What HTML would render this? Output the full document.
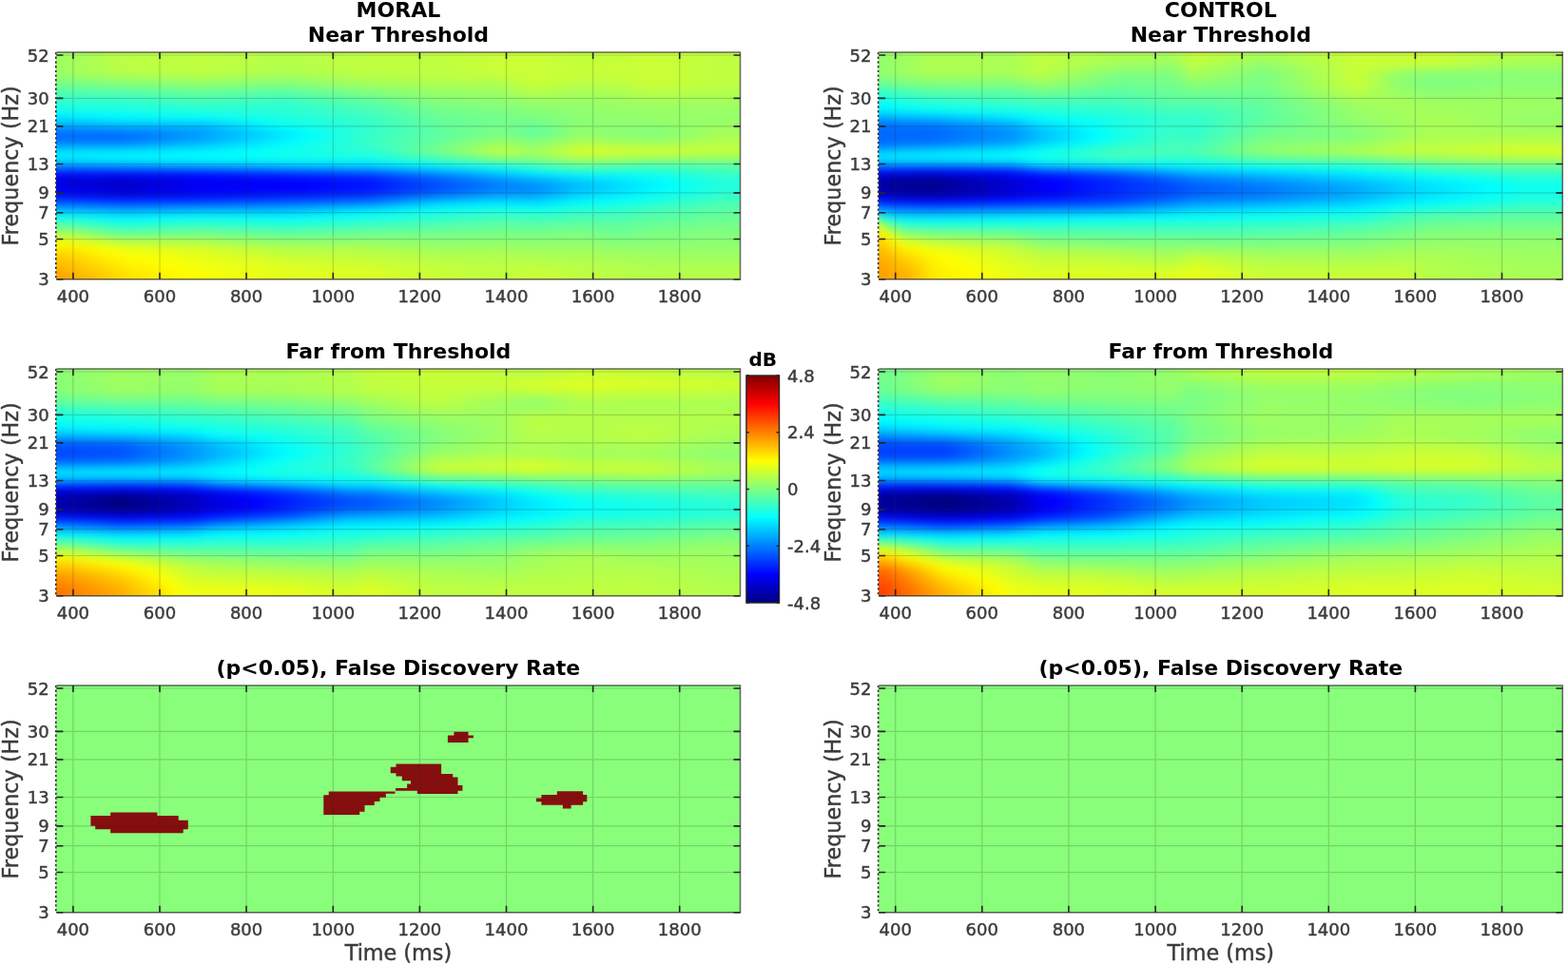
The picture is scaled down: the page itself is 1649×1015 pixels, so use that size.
<!DOCTYPE html><html><head><meta charset="utf-8"><style>
html,body{margin:0;padding:0;background:#fff;}
body{width:1649px;height:1015px;position:relative;overflow:hidden;}
.hm{position:absolute;overflow:hidden;}
.hi{position:absolute;top:-6px;bottom:-6px;display:flex;filter:blur(4px);}
.hi i{display:block;flex:0 0 12px;height:100%;}
.fdr{position:absolute;background:#88fe7a;overflow:hidden;}
svg{position:absolute;left:0;top:0;}
text{font-family:"DejaVu Sans","Liberation Sans",sans-serif;fill:#3c3c3c;stroke:#3c3c3c;stroke-width:0.45px;}
text[font-weight]{stroke:none;}
</style></head><body>

<div class="hm" style="left:59.4px;top:54.9px;width:719.1px;height:238.8px"><div class="hi" style="left:-12px;width:756px"><i style="background:linear-gradient(#9fff60 0.00%,#9fff60 1.59%,#9fff60 3.19%,#9fff60 4.78%,#9fff60 6.38%,#9fff60 7.97%,#9fff60 9.57%,#9fff60 11.16%,#92ff6d 12.76%,#82ff7d 14.35%,#72ff8d 15.95%,#62ff9d 17.54%,#51ffae 19.14%,#41ffbe 20.73%,#35ffca 22.33%,#29ffd6 23.92%,#1dffe2 25.52%,#0dfff2 27.11%,#00f6ff 28.71%,#00dfff 30.30%,#00c1ff 31.90%,#00a2ff 33.49%,#007eff 35.09%,#006aff 36.68%,#006aff 38.28%,#006fff 39.87%,#00a5ff 41.47%,#00cdff 43.06%,#00efff 44.66%,#00f2ff 46.25%,#00e0ff 47.85%,#00a6ff 49.44%,#0060ff 51.04%,#0021ff 52.63%,#0000ed 54.23%,#0000dc 55.82%,#0000e0 57.42%,#0000e3 59.01%,#0000f3 60.61%,#0009ff 62.20%,#002eff 63.80%,#0056ff 65.39%,#0089ff 66.99%,#00bbff 68.58%,#00ebff 70.18%,#15ffea 71.77%,#39ffc6 73.37%,#5dffa2 74.96%,#81ff7e 76.56%,#a5ff5a 78.15%,#c9ff36 79.74%,#ecff13 81.34%,#fffc00 82.93%,#ffe600 84.53%,#ffd900 86.12%,#ffd000 87.72%,#ffc700 89.31%,#ffbe00 90.91%,#ffb700 92.50%,#ffb000 94.10%,#ffa800 95.69%,#ff9f00 97.29%,#ff9f00 98.88%,#ff9f00 100.00%)"></i><i style="background:linear-gradient(#9fff60 0.00%,#9fff60 1.59%,#9fff60 3.19%,#9fff60 4.78%,#9fff60 6.38%,#9fff60 7.97%,#9fff60 9.57%,#9fff60 11.16%,#92ff6d 12.76%,#82ff7d 14.35%,#72ff8d 15.95%,#62ff9d 17.54%,#51ffae 19.14%,#41ffbe 20.73%,#35ffca 22.33%,#29ffd6 23.92%,#1dffe2 25.52%,#0dfff2 27.11%,#00f6ff 28.71%,#00dfff 30.30%,#00c1ff 31.90%,#00a2ff 33.49%,#007eff 35.09%,#006aff 36.68%,#006aff 38.28%,#006fff 39.87%,#00a5ff 41.47%,#00cdff 43.06%,#00efff 44.66%,#00f2ff 46.25%,#00e0ff 47.85%,#00a6ff 49.44%,#0060ff 51.04%,#0021ff 52.63%,#0000ed 54.23%,#0000dc 55.82%,#0000e0 57.42%,#0000e3 59.01%,#0000f3 60.61%,#0009ff 62.20%,#002eff 63.80%,#0056ff 65.39%,#0089ff 66.99%,#00bbff 68.58%,#00ebff 70.18%,#15ffea 71.77%,#39ffc6 73.37%,#5dffa2 74.96%,#81ff7e 76.56%,#a5ff5a 78.15%,#c9ff36 79.74%,#ecff13 81.34%,#fffc00 82.93%,#ffe600 84.53%,#ffd900 86.12%,#ffd000 87.72%,#ffc700 89.31%,#ffbe00 90.91%,#ffb700 92.50%,#ffb000 94.10%,#ffa800 95.69%,#ff9f00 97.29%,#ff9f00 98.88%,#ff9f00 100.00%)"></i><i style="background:linear-gradient(#a3ff5c 0.00%,#a3ff5c 1.59%,#a3ff5c 3.19%,#a4ff5b 4.78%,#a4ff5b 6.38%,#a5ff5a 7.97%,#a4ff5b 9.57%,#a3ff5c 11.16%,#96ff69 12.76%,#85ff7a 14.35%,#75ff8a 15.95%,#64ff9b 17.54%,#52ffad 19.14%,#41ffbe 20.73%,#35ffca 22.33%,#29ffd6 23.92%,#1effe1 25.52%,#0efff1 27.11%,#00f8ff 28.71%,#00e3ff 30.30%,#00c5ff 31.90%,#00a5ff 33.49%,#007fff 35.09%,#006aff 36.68%,#006aff 38.28%,#006fff 39.87%,#00a5ff 41.47%,#00ceff 43.06%,#00f0ff 44.66%,#00f3ff 46.25%,#00e1ff 47.85%,#00aaff 49.44%,#0060ff 51.04%,#0022ff 52.63%,#0000ee 54.23%,#0000d9 55.82%,#0000dc 57.42%,#0000df 59.01%,#0000ec 60.61%,#0003ff 62.20%,#002aff 63.80%,#0053ff 65.39%,#0085ff 66.99%,#00b8ff 68.58%,#00e8ff 70.18%,#10ffef 71.77%,#32ffcd 73.37%,#54ffab 74.96%,#76ff89 76.56%,#9aff65 78.15%,#beff41 79.74%,#e1ff1e 81.34%,#faff05 82.93%,#ffed00 84.53%,#ffe100 86.12%,#ffd800 87.72%,#ffcf00 89.31%,#ffc700 90.91%,#ffc000 92.50%,#ffb900 94.10%,#ffb100 95.69%,#ffa900 97.29%,#ffa900 98.88%,#ffa900 100.00%)"></i><i style="background:linear-gradient(#a7ff58 0.00%,#a7ff58 1.59%,#a8ff57 3.19%,#a9ff56 4.78%,#aaff55 6.38%,#abff54 7.97%,#a9ff56 9.57%,#a7ff58 11.16%,#99ff66 12.76%,#88ff77 14.35%,#78ff87 15.95%,#66ff99 17.54%,#54ffab 19.14%,#41ffbe 20.73%,#35ffca 22.33%,#2affd5 23.92%,#1effe1 25.52%,#0ffff0 27.11%,#00faff 28.71%,#00e7ff 30.30%,#00c9ff 31.90%,#00a9ff 33.49%,#0080ff 35.09%,#006aff 36.68%,#006aff 38.28%,#006fff 39.87%,#00a5ff 41.47%,#00ceff 43.06%,#00f1ff 44.66%,#00f4ff 46.25%,#00e3ff 47.85%,#00aeff 49.44%,#0060ff 51.04%,#0023ff 52.63%,#0000ef 54.23%,#0000d6 55.82%,#0000d8 57.42%,#0000da 59.01%,#0000e5 60.61%,#0000fc 62.20%,#0026ff 63.80%,#0050ff 65.39%,#0081ff 66.99%,#00b4ff 68.58%,#00e5ff 70.18%,#09fff6 71.77%,#2affd5 73.37%,#4affb5 74.96%,#6aff95 76.56%,#8eff71 78.15%,#b2ff4d 79.74%,#d5ff2a 81.34%,#f0ff0f 82.93%,#fff500 84.53%,#ffea00 86.12%,#ffe100 87.72%,#ffd800 89.31%,#ffd100 90.91%,#ffca00 92.50%,#ffc300 94.10%,#ffbc00 95.69%,#ffb400 97.29%,#ffb400 98.88%,#ffb400 100.00%)"></i><i style="background:linear-gradient(#abff54 0.00%,#abff54 1.59%,#acff53 3.19%,#aeff51 4.78%,#b0ff4f 6.38%,#b0ff4f 7.97%,#aeff51 9.57%,#acff53 11.16%,#9dff62 12.76%,#8cff73 14.35%,#7bff84 15.95%,#68ff97 17.54%,#55ffaa 19.14%,#42ffbd 20.73%,#36ffc9 22.33%,#2affd5 23.92%,#1fffe0 25.52%,#10ffef 27.11%,#00fdff 28.71%,#00ebff 30.30%,#00cdff 31.90%,#00acff 33.49%,#0082ff 35.09%,#006aff 36.68%,#006aff 38.28%,#006fff 39.87%,#00a5ff 41.47%,#00cfff 43.06%,#00f2ff 44.66%,#00f5ff 46.25%,#00e5ff 47.85%,#00b1ff 49.44%,#0060ff 51.04%,#0024ff 52.63%,#0000f0 54.23%,#0000d2 55.82%,#0000d4 57.42%,#0000d5 59.01%,#0000dd 60.61%,#0000f6 62.20%,#0021ff 63.80%,#004dff 65.39%,#007dff 66.99%,#00b0ff 68.58%,#00e1ff 70.18%,#03fffc 71.77%,#22ffdd 73.37%,#40ffbf 74.96%,#5effa1 76.56%,#82ff7d 78.15%,#a6ff59 79.74%,#c9ff36 81.34%,#e7ff18 82.93%,#fffe00 84.53%,#fff300 86.12%,#ffea00 87.72%,#ffe200 89.31%,#ffda00 90.91%,#ffd400 92.50%,#ffcd00 94.10%,#ffc700 95.69%,#ffc000 97.29%,#ffbf00 98.88%,#ffbf00 100.00%)"></i><i style="background:linear-gradient(#b0ff4f 0.00%,#b0ff4f 1.59%,#b1ff4e 3.19%,#b3ff4c 4.78%,#b5ff4a 6.38%,#b6ff49 7.97%,#b3ff4c 9.57%,#b0ff4f 11.16%,#a1ff5e 12.76%,#8fff70 14.35%,#7eff81 15.95%,#6aff95 17.54%,#56ffa9 19.14%,#42ffbd 20.73%,#36ffc9 22.33%,#2bffd4 23.92%,#20ffdf 25.52%,#11ffee 27.11%,#00ffff 28.71%,#00efff 30.30%,#00d1ff 31.90%,#00b0ff 33.49%,#0083ff 35.09%,#006aff 36.68%,#006aff 38.28%,#006fff 39.87%,#00a5ff 41.47%,#00cfff 43.06%,#00f3ff 44.66%,#00f6ff 46.25%,#00e7ff 47.85%,#00b5ff 49.44%,#0060ff 51.04%,#0025ff 52.63%,#0000f2 54.23%,#0000cf 55.82%,#0000d0 57.42%,#0000d0 59.01%,#0000d6 60.61%,#0000ef 62.20%,#001dff 63.80%,#004aff 65.39%,#0078ff 66.99%,#00adff 68.58%,#00deff 70.18%,#00fcff 71.77%,#1affe5 73.37%,#36ffc9 74.96%,#52ffad 76.56%,#76ff89 78.15%,#99ff66 79.74%,#bdff42 81.34%,#deff21 82.93%,#f8ff07 84.53%,#fffc00 86.12%,#fff300 87.72%,#ffeb00 89.31%,#ffe400 90.91%,#ffde00 92.50%,#ffd800 94.10%,#ffd100 95.69%,#ffcb00 97.29%,#ffcb00 98.88%,#ffcb00 100.00%)"></i><i style="background:linear-gradient(#b4ff4b 0.00%,#b4ff4b 1.59%,#b5ff4a 3.19%,#b8ff47 4.78%,#bbff44 6.38%,#bcff43 7.97%,#b8ff47 9.57%,#b4ff4b 11.16%,#a5ff5a 12.76%,#93ff6c 14.35%,#81ff7e 15.95%,#6cff93 17.54%,#57ffa8 19.14%,#42ffbd 20.73%,#36ffc9 22.33%,#2bffd4 23.92%,#20ffdf 25.52%,#12ffed 27.11%,#03fffc 28.71%,#00f3ff 30.30%,#00d5ff 31.90%,#00b3ff 33.49%,#0084ff 35.09%,#006aff 36.68%,#006aff 38.28%,#006fff 39.87%,#00a5ff 41.47%,#00d0ff 43.06%,#00f4ff 44.66%,#00f7ff 46.25%,#00e8ff 47.85%,#00b9ff 49.44%,#0060ff 51.04%,#0026ff 52.63%,#0000f3 54.23%,#0000cb 55.82%,#0000cb 57.42%,#0000cc 59.01%,#0000cf 60.61%,#0000e9 62.20%,#0019ff 63.80%,#0047ff 65.39%,#0074ff 66.99%,#00a9ff 68.58%,#00daff 70.18%,#00f6ff 71.77%,#12ffed 73.37%,#2cffd3 74.96%,#45ffba 76.56%,#69ff96 78.15%,#8dff72 79.74%,#b1ff4e 81.34%,#d4ff2b 82.93%,#f0ff0f 84.53%,#f9ff06 86.12%,#fffc00 87.72%,#fff400 89.31%,#ffee00 90.91%,#ffe800 92.50%,#ffe200 94.10%,#ffdc00 95.69%,#ffd600 97.29%,#ffd600 98.88%,#ffd600 100.00%)"></i><i style="background:linear-gradient(#b6ff49 0.00%,#b6ff49 1.59%,#b8ff47 3.19%,#baff45 4.78%,#bdff42 6.38%,#bfff40 7.97%,#baff45 9.57%,#b6ff49 11.16%,#a7ff58 12.76%,#95ff6a 14.35%,#83ff7c 15.95%,#6eff91 17.54%,#59ffa6 19.14%,#44ffbb 20.73%,#38ffc7 22.33%,#2dffd2 23.92%,#22ffdd 25.52%,#13ffec 27.11%,#05fffa 28.71%,#00f5ff 30.30%,#00d7ff 31.90%,#00b4ff 33.49%,#0087ff 35.09%,#006fff 36.68%,#006fff 38.28%,#0074ff 39.87%,#00a9ff 41.47%,#00d2ff 43.06%,#00f5ff 44.66%,#00f8ff 46.25%,#00ebff 47.85%,#00bbff 49.44%,#0062ff 51.04%,#0028ff 52.63%,#0000f4 54.23%,#0000ce 55.82%,#0000ce 57.42%,#0000ce 59.01%,#0000d0 60.61%,#0000ea 62.20%,#0018ff 63.80%,#0046ff 65.39%,#0074ff 66.99%,#00aaff 68.58%,#00daff 70.18%,#00f6ff 71.77%,#11ffee 73.37%,#2affd5 74.96%,#43ffbc 76.56%,#66ff99 78.15%,#89ff76 79.74%,#acff53 81.34%,#cfff30 82.93%,#eaff15 84.53%,#f3ff0c 86.12%,#fcff03 87.72%,#fffa00 89.31%,#fff400 90.91%,#ffee00 92.50%,#ffe900 94.10%,#ffe300 95.69%,#ffde00 97.29%,#ffde00 98.88%,#ffde00 100.00%)"></i><i style="background:linear-gradient(#b8ff47 0.00%,#b8ff47 1.59%,#b9ff46 3.19%,#bbff44 4.78%,#bdff42 6.38%,#bfff40 7.97%,#bbff44 9.57%,#b8ff47 11.16%,#a9ff56 12.76%,#97ff68 14.35%,#85ff7a 15.95%,#70ff8f 17.54%,#5cffa3 19.14%,#47ffb8 20.73%,#3bffc4 22.33%,#2fffd0 23.92%,#24ffdb 25.52%,#15ffea 27.11%,#07fff8 28.71%,#00f7ff 30.30%,#00d7ff 31.90%,#00b3ff 33.49%,#008bff 35.09%,#0077ff 36.68%,#0077ff 38.28%,#007bff 39.87%,#00afff 41.47%,#00d6ff 43.06%,#00f6ff 44.66%,#00faff 46.25%,#00eeff 47.85%,#00bbff 49.44%,#0065ff 51.04%,#002aff 52.63%,#0000f5 54.23%,#0000d4 55.82%,#0000d4 57.42%,#0000d4 59.01%,#0000d6 60.61%,#0000ed 62.20%,#001aff 63.80%,#0047ff 65.39%,#0076ff 66.99%,#00adff 68.58%,#00dcff 70.18%,#00f9ff 71.77%,#14ffeb 73.37%,#2dffd2 74.96%,#46ffb9 76.56%,#68ff97 78.15%,#8aff75 79.74%,#abff54 81.34%,#cdff32 82.93%,#e7ff18 84.53%,#f0ff0f 86.12%,#f9ff06 87.72%,#fffe00 89.31%,#fff800 90.91%,#fff300 92.50%,#ffee00 94.10%,#ffe900 95.69%,#ffe400 97.29%,#ffe400 98.88%,#ffe400 100.00%)"></i><i style="background:linear-gradient(#b9ff46 0.00%,#b9ff46 1.59%,#baff45 3.19%,#bcff43 4.78%,#beff41 6.38%,#bfff40 7.97%,#bcff43 9.57%,#b9ff46 11.16%,#aaff55 12.76%,#98ff67 14.35%,#86ff79 15.95%,#72ff8d 17.54%,#5effa1 19.14%,#4affb5 20.73%,#3dffc2 22.33%,#31ffce 23.92%,#26ffd9 25.52%,#17ffe8 27.11%,#08fff7 28.71%,#00f9ff 30.30%,#00d7ff 31.90%,#00b2ff 33.49%,#008fff 35.09%,#007fff 36.68%,#007fff 38.28%,#0083ff 39.87%,#00b5ff 41.47%,#00d9ff 43.06%,#00f6ff 44.66%,#00fbff 46.25%,#00f2ff 47.85%,#00bcff 49.44%,#0069ff 51.04%,#002bff 52.63%,#0000f5 54.23%,#0000da 55.82%,#0000da 57.42%,#0000da 59.01%,#0000dc 60.61%,#0000f1 62.20%,#001bff 63.80%,#0048ff 65.39%,#0078ff 66.99%,#00b0ff 68.58%,#00deff 70.18%,#00fcff 71.77%,#17ffe8 73.37%,#30ffcf 74.96%,#49ffb6 76.56%,#6aff95 78.15%,#8aff75 79.74%,#abff54 81.34%,#cbff34 82.93%,#e4ff1b 84.53%,#ecff13 86.12%,#f5ff0a 87.72%,#fdff02 89.31%,#fffc00 90.91%,#fff700 92.50%,#fff200 94.10%,#ffee00 95.69%,#ffea00 97.29%,#ffea00 98.88%,#ffea00 100.00%)"></i><i style="background:linear-gradient(#bbff44 0.00%,#bbff44 1.59%,#bbff44 3.19%,#bdff42 4.78%,#beff41 6.38%,#bfff40 7.97%,#bdff42 9.57%,#bbff44 11.16%,#acff53 12.76%,#9aff65 14.35%,#88ff77 15.95%,#74ff8b 17.54%,#61ff9e 19.14%,#4dffb2 20.73%,#40ffbf 22.33%,#34ffcb 23.92%,#28ffd7 25.52%,#19ffe6 27.11%,#0afff5 28.71%,#00faff 30.30%,#00d7ff 31.90%,#00b1ff 33.49%,#0093ff 35.09%,#0087ff 36.68%,#0087ff 38.28%,#008bff 39.87%,#00bbff 41.47%,#00ddff 43.06%,#00f6ff 44.66%,#00fcff 46.25%,#00f5ff 47.85%,#00bdff 49.44%,#006cff 51.04%,#002dff 52.63%,#0000f6 54.23%,#0000e1 55.82%,#0000e1 57.42%,#0000e1 59.01%,#0000e2 60.61%,#0000f5 62.20%,#001dff 63.80%,#0049ff 65.39%,#007aff 66.99%,#00b2ff 68.58%,#00e0ff 70.18%,#00ffff 71.77%,#1affe5 73.37%,#33ffcc 74.96%,#4cffb3 76.56%,#6bff94 78.15%,#8aff75 79.74%,#aaff55 81.34%,#c9ff36 82.93%,#e1ff1e 84.53%,#e9ff16 86.12%,#f1ff0e 87.72%,#f9ff06 89.31%,#feff01 90.91%,#fffc00 92.50%,#fff700 94.10%,#fff300 95.69%,#fff100 97.29%,#fff100 98.88%,#fff100 100.00%)"></i><i style="background:linear-gradient(#bcff43 0.00%,#bcff43 1.59%,#bdff42 3.19%,#beff41 4.78%,#beff41 6.38%,#bfff40 7.97%,#beff41 9.57%,#bcff43 11.16%,#adff52 12.76%,#9bff64 14.35%,#89ff76 15.95%,#76ff89 17.54%,#63ff9c 19.14%,#50ffaf 20.73%,#43ffbc 22.33%,#36ffc9 23.92%,#2affd5 25.52%,#1bffe4 27.11%,#0cfff3 28.71%,#00fcff 30.30%,#00d7ff 31.90%,#00b0ff 33.49%,#0097ff 35.09%,#008fff 36.68%,#008fff 38.28%,#0092ff 39.87%,#00c1ff 41.47%,#00e1ff 43.06%,#00f7ff 44.66%,#00fdff 46.25%,#00f8ff 47.85%,#00bdff 49.44%,#006fff 51.04%,#002fff 52.63%,#0000f7 54.23%,#0000e7 55.82%,#0000e7 57.42%,#0000e7 59.01%,#0000e8 60.61%,#0000f9 62.20%,#001fff 63.80%,#004aff 65.39%,#007cff 66.99%,#00b5ff 68.58%,#00e1ff 70.18%,#04fffb 71.77%,#1dffe2 73.37%,#35ffca 74.96%,#4fffb0 76.56%,#6dff92 78.15%,#8bff74 79.74%,#a9ff56 81.34%,#c7ff38 82.93%,#deff21 84.53%,#e6ff19 86.12%,#eeff11 87.72%,#f5ff0a 89.31%,#faff05 90.91%,#feff01 92.50%,#fffc00 94.10%,#fff900 95.69%,#fff700 97.29%,#fff700 98.88%,#fff700 100.00%)"></i><i style="background:linear-gradient(#beff41 0.00%,#beff41 1.59%,#beff41 3.19%,#beff41 4.78%,#bfff40 6.38%,#bfff40 7.97%,#beff41 9.57%,#beff41 11.16%,#afff50 12.76%,#9dff62 14.35%,#8bff74 15.95%,#78ff87 17.54%,#66ff99 19.14%,#53ffac 20.73%,#46ffb9 22.33%,#39ffc6 23.92%,#2cffd3 25.52%,#1dffe2 27.11%,#0efff1 28.71%,#00fdff 30.30%,#00d7ff 31.90%,#00afff 33.49%,#009bff 35.09%,#0096ff 36.68%,#0096ff 38.28%,#009aff 39.87%,#00c7ff 41.47%,#00e4ff 43.06%,#00f7ff 44.66%,#00feff 46.25%,#00fbff 47.85%,#00beff 49.44%,#0072ff 51.04%,#0031ff 52.63%,#0000f8 54.23%,#0000ed 55.82%,#0000ed 57.42%,#0000ed 59.01%,#0000ee 60.61%,#0000fd 62.20%,#0020ff 63.80%,#004bff 65.39%,#007dff 66.99%,#00b8ff 68.58%,#00e3ff 70.18%,#07fff8 71.77%,#20ffdf 73.37%,#38ffc7 74.96%,#52ffad 76.56%,#6fff90 78.15%,#8bff74 79.74%,#a8ff57 81.34%,#c4ff3b 82.93%,#daff25 84.53%,#e2ff1d 86.12%,#eaff15 87.72%,#f2ff0d 89.31%,#f6ff09 90.91%,#f9ff06 92.50%,#fdff02 94.10%,#fffe00 95.69%,#fffd00 97.29%,#fffd00 98.88%,#fffd00 100.00%)"></i><i style="background:linear-gradient(#bfff40 0.00%,#bfff40 1.59%,#bfff40 3.19%,#bfff40 4.78%,#bfff40 6.38%,#bfff40 7.97%,#bfff40 9.57%,#bfff40 11.16%,#b0ff4f 12.76%,#9eff61 14.35%,#8cff73 15.95%,#7aff85 17.54%,#68ff97 19.14%,#56ffa9 20.73%,#48ffb7 22.33%,#3bffc4 23.92%,#2effd1 25.52%,#1fffe0 27.11%,#10ffef 28.71%,#00ffff 30.30%,#00d7ff 31.90%,#00aeff 33.49%,#009fff 35.09%,#009eff 36.68%,#009eff 38.28%,#00a2ff 39.87%,#00cdff 41.47%,#00e8ff 43.06%,#00f8ff 44.66%,#00ffff 46.25%,#00feff 47.85%,#00bfff 49.44%,#0075ff 51.04%,#0033ff 52.63%,#0000f9 54.23%,#0000f3 55.82%,#0000f3 57.42%,#0000f3 59.01%,#0000f3 60.61%,#0002ff 62.20%,#0022ff 63.80%,#004cff 65.39%,#007fff 66.99%,#00bbff 68.58%,#00e5ff 70.18%,#0afff5 71.77%,#23ffdc 73.37%,#3bffc4 74.96%,#55ffaa 76.56%,#71ff8e 78.15%,#8cff73 79.74%,#a7ff58 81.34%,#c2ff3d 82.93%,#d7ff28 84.53%,#dfff20 86.12%,#e6ff19 87.72%,#eeff11 89.31%,#f2ff0d 90.91%,#f5ff0a 92.50%,#f8ff07 94.10%,#fbff04 95.69%,#fbff04 97.29%,#fbff04 98.88%,#fbff04 100.00%)"></i><i style="background:linear-gradient(#beff41 0.00%,#beff41 1.59%,#beff41 3.19%,#beff41 4.78%,#beff41 6.38%,#beff41 7.97%,#beff41 9.57%,#bdff42 11.16%,#afff50 12.76%,#9dff62 14.35%,#8bff74 15.95%,#79ff86 17.54%,#67ff98 19.14%,#55ffaa 20.73%,#47ffb8 22.33%,#3affc5 23.92%,#2effd1 25.52%,#21ffde 27.11%,#12ffed 28.71%,#03fffc 30.30%,#00ddff 31.90%,#00b8ff 33.49%,#00a9ff 35.09%,#00a7ff 36.68%,#00a8ff 38.28%,#00adff 39.87%,#00d4ff 41.47%,#00ecff 43.06%,#00faff 44.66%,#02fffd 46.25%,#00ffff 47.85%,#00c2ff 49.44%,#0078ff 51.04%,#0036ff 52.63%,#0000fc 54.23%,#0000f5 55.82%,#0000f5 57.42%,#0000f5 59.01%,#0000f5 60.61%,#0005ff 62.20%,#0025ff 63.80%,#004eff 65.39%,#0081ff 66.99%,#00bbff 68.58%,#00e5ff 70.18%,#09fff6 71.77%,#22ffdd 73.37%,#3affc5 74.96%,#54ffab 76.56%,#6fff90 78.15%,#89ff76 79.74%,#a4ff5b 81.34%,#beff41 82.93%,#d3ff2c 84.53%,#daff25 86.12%,#e2ff1d 87.72%,#eaff15 89.31%,#eeff11 90.91%,#f2ff0d 92.50%,#f5ff0a 94.10%,#f7ff08 95.69%,#f7ff08 97.29%,#f7ff08 98.88%,#f7ff08 100.00%)"></i><i style="background:linear-gradient(#bdff42 0.00%,#bdff42 1.59%,#bdff42 3.19%,#bdff42 4.78%,#bdff42 6.38%,#bdff42 7.97%,#bdff42 9.57%,#baff45 11.16%,#acff53 12.76%,#9cff63 14.35%,#8aff75 15.95%,#77ff88 17.54%,#65ff9a 19.14%,#54ffab 20.73%,#46ffb9 22.33%,#38ffc7 23.92%,#2dffd2 25.52%,#22ffdd 27.11%,#15ffea 28.71%,#07fff8 30.30%,#00e5ff 31.90%,#00c4ff 33.49%,#00b5ff 35.09%,#00b0ff 36.68%,#00b2ff 38.28%,#00b8ff 39.87%,#00dbff 41.47%,#00f1ff 43.06%,#00feff 44.66%,#05fffa 46.25%,#00ffff 47.85%,#00c6ff 49.44%,#007bff 51.04%,#0039ff 52.63%,#0002ff 54.23%,#0000f6 55.82%,#0000f6 57.42%,#0000f6 59.01%,#0000f6 60.61%,#0007ff 62.20%,#0028ff 63.80%,#0051ff 65.39%,#0083ff 66.99%,#00bbff 68.58%,#00e5ff 70.18%,#08fff7 71.77%,#20ffdf 73.37%,#37ffc8 74.96%,#51ffae 76.56%,#6cff93 78.15%,#86ff79 79.74%,#a0ff5f 81.34%,#b9ff46 82.93%,#ceff31 84.53%,#d6ff29 86.12%,#deff21 87.72%,#e6ff19 89.31%,#ebff14 90.91%,#eeff11 92.50%,#f2ff0d 94.10%,#f4ff0b 95.69%,#f4ff0b 97.29%,#f4ff0b 98.88%,#f4ff0b 100.00%)"></i><i style="background:linear-gradient(#bbff44 0.00%,#bbff44 1.59%,#bbff44 3.19%,#bbff44 4.78%,#bbff44 6.38%,#bbff44 7.97%,#bbff44 9.57%,#b7ff48 11.16%,#aaff55 12.76%,#9aff65 14.35%,#88ff77 15.95%,#75ff8a 17.54%,#63ff9c 19.14%,#52ffad 20.73%,#44ffbb 22.33%,#37ffc8 23.92%,#2dffd2 25.52%,#23ffdc 27.11%,#17ffe8 28.71%,#0afff5 30.30%,#00edff 31.90%,#00d0ff 33.49%,#00c0ff 35.09%,#00b9ff 36.68%,#00bcff 38.28%,#00c3ff 39.87%,#00e3ff 41.47%,#00f5ff 43.06%,#02fffd 44.66%,#08fff7 46.25%,#00feff 47.85%,#00caff 49.44%,#007eff 51.04%,#003cff 52.63%,#0006ff 54.23%,#0000f6 55.82%,#0000f6 57.42%,#0000f6 59.01%,#0000f7 60.61%,#000aff 62.20%,#002bff 63.80%,#0054ff 65.39%,#0085ff 66.99%,#00bbff 68.58%,#00e4ff 70.18%,#07fff8 71.77%,#1effe1 73.37%,#35ffca 74.96%,#4fffb0 76.56%,#69ff96 78.15%,#83ff7c 79.74%,#9cff63 81.34%,#b5ff4a 82.93%,#c9ff36 84.53%,#d1ff2e 86.12%,#daff25 87.72%,#e3ff1c 89.31%,#e7ff18 90.91%,#ebff14 92.50%,#efff10 94.10%,#f1ff0e 95.69%,#f1ff0e 97.29%,#f1ff0e 98.88%,#f1ff0e 100.00%)"></i><i style="background:linear-gradient(#baff45 0.00%,#baff45 1.59%,#baff45 3.19%,#baff45 4.78%,#baff45 6.38%,#baff45 7.97%,#baff45 9.57%,#b4ff4b 11.16%,#a7ff58 12.76%,#99ff66 14.35%,#86ff79 15.95%,#73ff8c 17.54%,#60ff9f 19.14%,#50ffaf 20.73%,#42ffbd 22.33%,#35ffca 23.92%,#2dffd2 25.52%,#24ffdb 27.11%,#1affe5 28.71%,#0efff1 30.30%,#00f5ff 31.90%,#00dcff 33.49%,#00ccff 35.09%,#00c2ff 36.68%,#00c6ff 38.28%,#00cfff 39.87%,#00eaff 41.47%,#00faff 43.06%,#05fffa 44.66%,#0bfff4 46.25%,#00feff 47.85%,#00ceff 49.44%,#0081ff 51.04%,#003fff 52.63%,#000bff 54.23%,#0000f7 55.82%,#0000f7 57.42%,#0000f7 59.01%,#0000f8 60.61%,#000dff 62.20%,#002eff 63.80%,#0057ff 65.39%,#0087ff 66.99%,#00baff 68.58%,#00e4ff 70.18%,#05fffa 71.77%,#1cffe3 73.37%,#33ffcc 74.96%,#4cffb3 76.56%,#66ff99 78.15%,#80ff7f 79.74%,#98ff67 81.34%,#b0ff4f 82.93%,#c4ff3b 84.53%,#cdff32 86.12%,#d6ff29 87.72%,#dfff20 89.31%,#e4ff1b 90.91%,#e8ff17 92.50%,#ecff13 94.10%,#efff10 95.69%,#efff10 97.29%,#efff10 98.88%,#efff10 100.00%)"></i><i style="background:linear-gradient(#b8ff47 0.00%,#b8ff47 1.59%,#b8ff47 3.19%,#b8ff47 4.78%,#b8ff47 6.38%,#b8ff47 7.97%,#b8ff47 9.57%,#b1ff4e 11.16%,#a5ff5a 12.76%,#98ff67 14.35%,#84ff7b 15.95%,#71ff8e 17.54%,#5effa1 19.14%,#4fffb0 20.73%,#41ffbe 22.33%,#33ffcc 23.92%,#2cffd3 25.52%,#25ffda 27.11%,#1dffe2 28.71%,#12ffed 30.30%,#00fdff 31.90%,#00e8ff 33.49%,#00d7ff 35.09%,#00cbff 36.68%,#00d1ff 38.28%,#00daff 39.87%,#00f1ff 41.47%,#00feff 43.06%,#08fff7 44.66%,#0efff1 46.25%,#00feff 47.85%,#00d2ff 49.44%,#0084ff 51.04%,#0042ff 52.63%,#000fff 54.23%,#0000f8 55.82%,#0000f8 57.42%,#0000f8 59.01%,#0000f9 60.61%,#000fff 62.20%,#0030ff 63.80%,#0059ff 65.39%,#0088ff 66.99%,#00baff 68.58%,#00e4ff 70.18%,#04fffb 71.77%,#1affe5 73.37%,#30ffcf 74.96%,#4affb5 76.56%,#64ff9b 78.15%,#7dff82 79.74%,#94ff6b 81.34%,#acff53 82.93%,#bfff40 84.53%,#c8ff37 86.12%,#d2ff2d 87.72%,#dbff24 89.31%,#e1ff1e 90.91%,#e5ff1a 92.50%,#e9ff16 94.10%,#ecff13 95.69%,#ecff13 97.29%,#ecff13 98.88%,#ecff13 100.00%)"></i><i style="background:linear-gradient(#b7ff48 0.00%,#b7ff48 1.59%,#b7ff48 3.19%,#b7ff48 4.78%,#b7ff48 6.38%,#b7ff48 7.97%,#b7ff48 9.57%,#aeff51 11.16%,#a3ff5c 12.76%,#96ff69 14.35%,#83ff7c 15.95%,#6fff90 17.54%,#5cffa3 19.14%,#4dffb2 20.73%,#3fffc0 22.33%,#32ffcd 23.92%,#2cffd3 25.52%,#26ffd9 27.11%,#20ffdf 28.71%,#15ffea 30.30%,#06fff9 31.90%,#00f4ff 33.49%,#00e3ff 35.09%,#00d4ff 36.68%,#00dbff 38.28%,#00e6ff 39.87%,#00f8ff 41.47%,#04fffb 43.06%,#0bfff4 44.66%,#11ffee 46.25%,#00feff 47.85%,#00d6ff 49.44%,#0086ff 51.04%,#0045ff 52.63%,#0013ff 54.23%,#0000f9 55.82%,#0000f9 57.42%,#0000f9 59.01%,#0000fa 60.61%,#0012ff 62.20%,#0033ff 63.80%,#005cff 65.39%,#008aff 66.99%,#00b9ff 68.58%,#00e3ff 70.18%,#03fffc 71.77%,#18ffe7 73.37%,#2effd1 74.96%,#47ffb8 76.56%,#61ff9e 78.15%,#7aff85 79.74%,#90ff6f 81.34%,#a7ff58 82.93%,#baff45 84.53%,#c4ff3b 86.12%,#ceff31 87.72%,#d8ff27 89.31%,#ddff22 90.91%,#e1ff1e 92.50%,#e5ff1a 94.10%,#e9ff16 95.69%,#e9ff16 97.29%,#e9ff16 98.88%,#e9ff16 100.00%)"></i><i style="background:linear-gradient(#b5ff4a 0.00%,#b5ff4a 1.59%,#b5ff4a 3.19%,#b5ff4a 4.78%,#b5ff4a 6.38%,#b5ff4a 7.97%,#b5ff4a 9.57%,#abff54 11.16%,#a0ff5f 12.76%,#95ff6a 14.35%,#81ff7e 15.95%,#6dff92 17.54%,#5affa5 19.14%,#4bffb4 20.73%,#3dffc2 22.33%,#30ffcf 23.92%,#2cffd3 25.52%,#28ffd7 27.11%,#22ffdd 28.71%,#19ffe6 30.30%,#0efff1 31.90%,#01fffe 33.49%,#00eeff 35.09%,#00ddff 36.68%,#00e5ff 38.28%,#00f1ff 39.87%,#01fffe 41.47%,#08fff7 43.06%,#0efff1 44.66%,#14ffeb 46.25%,#00feff 47.85%,#00daff 49.44%,#0089ff 51.04%,#0048ff 52.63%,#0018ff 54.23%,#0000f9 55.82%,#0000f9 57.42%,#0000f9 59.01%,#0000fb 60.61%,#0015ff 62.20%,#0036ff 63.80%,#005fff 65.39%,#008cff 66.99%,#00b9ff 68.58%,#00e3ff 70.18%,#02fffd 71.77%,#16ffe9 73.37%,#2cffd3 74.96%,#45ffba 76.56%,#5effa1 78.15%,#77ff88 79.74%,#8dff72 81.34%,#a3ff5c 82.93%,#b5ff4a 84.53%,#bfff40 86.12%,#caff35 87.72%,#d4ff2b 89.31%,#daff25 90.91%,#deff21 92.50%,#e2ff1d 94.10%,#e6ff19 95.69%,#e6ff19 97.29%,#e6ff19 98.88%,#e6ff19 100.00%)"></i><i style="background:linear-gradient(#b5ff4a 0.00%,#b5ff4a 1.59%,#b5ff4a 3.19%,#b5ff4a 4.78%,#b5ff4a 6.38%,#b5ff4a 7.97%,#b5ff4a 9.57%,#abff54 11.16%,#a1ff5e 12.76%,#96ff69 14.35%,#82ff7d 15.95%,#6fff90 17.54%,#5cffa3 19.14%,#4dffb2 20.73%,#3fffc0 22.33%,#32ffcd 23.92%,#2effd1 25.52%,#2affd5 27.11%,#25ffda 28.71%,#1dffe2 30.30%,#14ffeb 31.90%,#0afff5 33.49%,#00f8ff 35.09%,#00e7ff 36.68%,#00efff 38.28%,#00fbff 39.87%,#07fff8 41.47%,#0dfff2 43.06%,#11ffee 44.66%,#15ffea 46.25%,#00feff 47.85%,#00ddff 49.44%,#008dff 51.04%,#004cff 52.63%,#001bff 54.23%,#0000fc 55.82%,#0000fc 57.42%,#0000fc 59.01%,#0000fe 60.61%,#0018ff 62.20%,#0039ff 63.80%,#0062ff 65.39%,#008fff 66.99%,#00bcff 68.58%,#00e5ff 70.18%,#03fffc 71.77%,#17ffe8 73.37%,#2cffd3 74.96%,#45ffba 76.56%,#5effa1 78.15%,#76ff89 79.74%,#8bff74 81.34%,#a0ff5f 82.93%,#b2ff4d 84.53%,#bdff42 86.12%,#c7ff38 87.72%,#d1ff2e 89.31%,#d7ff28 90.91%,#dcff23 92.50%,#e0ff1f 94.10%,#e4ff1b 95.69%,#e4ff1b 97.29%,#e4ff1b 98.88%,#e4ff1b 100.00%)"></i><i style="background:linear-gradient(#b7ff48 0.00%,#b7ff48 1.59%,#b7ff48 3.19%,#b7ff48 4.78%,#b7ff48 6.38%,#b7ff48 7.97%,#b7ff48 9.57%,#aeff51 11.16%,#a4ff5b 12.76%,#99ff66 14.35%,#87ff78 15.95%,#74ff8b 17.54%,#61ff9e 19.14%,#53ffac 20.73%,#45ffba 22.33%,#38ffc7 23.92%,#32ffcd 25.52%,#2effd1 27.11%,#29ffd6 28.71%,#21ffde 30.30%,#19ffe6 31.90%,#0ffff0 33.49%,#01fffe 35.09%,#00f3ff 36.68%,#00faff 38.28%,#05fffa 39.87%,#0efff1 41.47%,#11ffee 43.06%,#15ffea 44.66%,#16ffe9 46.25%,#00ffff 47.85%,#00deff 49.44%,#0091ff 51.04%,#0050ff 52.63%,#001dff 54.23%,#0000ff 55.82%,#0000ff 57.42%,#0000ff 59.01%,#0002ff 60.61%,#001bff 62.20%,#003cff 63.80%,#0066ff 65.39%,#0094ff 66.99%,#00c2ff 68.58%,#00e9ff 70.18%,#06fff9 71.77%,#1affe5 73.37%,#2fffd0 74.96%,#47ffb8 76.56%,#60ff9f 78.15%,#77ff88 79.74%,#8cff73 81.34%,#a0ff5f 82.93%,#b2ff4d 84.53%,#bcff43 86.12%,#c6ff39 87.72%,#cfff30 89.31%,#d5ff2a 90.91%,#daff25 92.50%,#dfff20 94.10%,#e2ff1d 95.69%,#e2ff1d 97.29%,#e2ff1d 98.88%,#e2ff1d 100.00%)"></i><i style="background:linear-gradient(#b8ff47 0.00%,#b8ff47 1.59%,#b8ff47 3.19%,#b8ff47 4.78%,#b8ff47 6.38%,#b8ff47 7.97%,#b8ff47 9.57%,#b1ff4e 11.16%,#a7ff58 12.76%,#9cff63 14.35%,#8bff74 15.95%,#79ff86 17.54%,#67ff98 19.14%,#58ffa7 20.73%,#4affb5 22.33%,#3dffc2 23.92%,#37ffc8 25.52%,#31ffce 27.11%,#2dffd2 28.71%,#25ffda 30.30%,#1dffe2 31.90%,#15ffea 33.49%,#0afff5 35.09%,#00feff 36.68%,#05fffa 38.28%,#0efff1 39.87%,#14ffeb 41.47%,#16ffe9 43.06%,#18ffe7 44.66%,#17ffe8 46.25%,#01fffe 47.85%,#00e0ff 49.44%,#0094ff 51.04%,#0054ff 52.63%,#0020ff 54.23%,#0004ff 55.82%,#0004ff 57.42%,#0004ff 59.01%,#0006ff 60.61%,#001eff 62.20%,#003fff 63.80%,#006aff 65.39%,#0099ff 66.99%,#00c9ff 68.58%,#00eeff 70.18%,#09fff6 71.77%,#1dffe2 73.37%,#32ffcd 74.96%,#4affb5 76.56%,#62ff9d 78.15%,#78ff87 79.74%,#8cff73 81.34%,#a0ff5f 82.93%,#b2ff4d 84.53%,#bcff43 86.12%,#c5ff3a 87.72%,#ceff31 89.31%,#d4ff2b 90.91%,#d9ff26 92.50%,#deff21 94.10%,#e1ff1e 95.69%,#e1ff1e 97.29%,#e1ff1e 98.88%,#e1ff1e 100.00%)"></i><i style="background:linear-gradient(#baff45 0.00%,#baff45 1.59%,#baff45 3.19%,#baff45 4.78%,#baff45 6.38%,#baff45 7.97%,#baff45 9.57%,#b4ff4b 11.16%,#aaff55 12.76%,#9fff60 14.35%,#90ff6f 15.95%,#7eff81 17.54%,#6cff93 19.14%,#5dffa2 20.73%,#4fffb0 22.33%,#43ffbc 23.92%,#3bffc4 25.52%,#35ffca 27.11%,#30ffcf 28.71%,#29ffd6 30.30%,#22ffdd 31.90%,#1affe5 33.49%,#12ffed 35.09%,#0afff5 36.68%,#0ffff0 38.28%,#17ffe8 39.87%,#1bffe4 41.47%,#1bffe4 43.06%,#1bffe4 44.66%,#17ffe8 46.25%,#02fffd 47.85%,#00e2ff 49.44%,#0098ff 51.04%,#0058ff 52.63%,#0022ff 54.23%,#0007ff 55.82%,#0007ff 57.42%,#0007ff 59.01%,#0009ff 60.61%,#0022ff 62.20%,#0043ff 63.80%,#006eff 65.39%,#009eff 66.99%,#00cfff 68.58%,#00f2ff 70.18%,#0cfff3 71.77%,#20ffdf 73.37%,#35ffca 74.96%,#4cffb3 76.56%,#63ff9c 78.15%,#7aff85 79.74%,#8dff72 81.34%,#a0ff5f 82.93%,#b1ff4e 84.53%,#bbff44 86.12%,#c4ff3b 87.72%,#ccff33 89.31%,#d2ff2d 90.91%,#d8ff27 92.50%,#ddff22 94.10%,#dfff20 95.69%,#dfff20 97.29%,#dfff20 98.88%,#dfff20 100.00%)"></i><i style="background:linear-gradient(#bbff44 0.00%,#bbff44 1.59%,#bbff44 3.19%,#bbff44 4.78%,#bbff44 6.38%,#bbff44 7.97%,#bbff44 9.57%,#b7ff48 11.16%,#adff52 12.76%,#a2ff5d 14.35%,#94ff6b 15.95%,#83ff7c 17.54%,#71ff8e 19.14%,#62ff9d 20.73%,#55ffaa 22.33%,#48ffb7 23.92%,#40ffbf 25.52%,#39ffc6 27.11%,#34ffcb 28.71%,#2dffd2 30.30%,#26ffd9 31.90%,#20ffdf 33.49%,#1affe5 35.09%,#15ffea 36.68%,#1affe5 38.28%,#20ffdf 39.87%,#21ffde 41.47%,#20ffdf 43.06%,#1effe1 44.66%,#18ffe7 46.25%,#03fffc 47.85%,#00e4ff 49.44%,#009cff 51.04%,#005cff 52.63%,#0025ff 54.23%,#000bff 55.82%,#000bff 57.42%,#000bff 59.01%,#000dff 60.61%,#0025ff 62.20%,#0046ff 63.80%,#0073ff 65.39%,#00a3ff 66.99%,#00d5ff 68.58%,#00f7ff 70.18%,#0ffff0 71.77%,#23ffdc 73.37%,#38ffc7 74.96%,#4fffb0 76.56%,#65ff9a 78.15%,#7bff84 79.74%,#8dff72 81.34%,#a0ff5f 82.93%,#b1ff4e 84.53%,#bbff44 86.12%,#c3ff3c 87.72%,#cbff34 89.31%,#d1ff2e 90.91%,#d6ff29 92.50%,#dcff23 94.10%,#deff21 95.69%,#deff21 97.29%,#deff21 98.88%,#deff21 100.00%)"></i><i style="background:linear-gradient(#bcff43 0.00%,#bcff43 1.59%,#bcff43 3.19%,#bcff43 4.78%,#bcff43 6.38%,#bcff43 7.97%,#bcff43 9.57%,#baff45 11.16%,#b0ff4f 12.76%,#a6ff59 14.35%,#98ff67 15.95%,#88ff77 17.54%,#77ff88 19.14%,#67ff98 20.73%,#5affa5 22.33%,#4effb1 23.92%,#44ffbb 25.52%,#3cffc3 27.11%,#37ffc8 28.71%,#31ffce 30.30%,#2bffd4 31.90%,#26ffd9 33.49%,#23ffdc 35.09%,#20ffdf 36.68%,#24ffdb 38.28%,#29ffd6 39.87%,#28ffd7 41.47%,#25ffda 43.06%,#22ffdd 44.66%,#19ffe6 46.25%,#04fffb 47.85%,#00e5ff 49.44%,#00a0ff 51.04%,#0060ff 52.63%,#0027ff 54.23%,#000eff 55.82%,#000eff 57.42%,#000eff 59.01%,#0010ff 60.61%,#0029ff 62.20%,#0049ff 63.80%,#0077ff 65.39%,#00a8ff 66.99%,#00dbff 68.58%,#00fbff 70.18%,#12ffed 71.77%,#26ffd9 73.37%,#3bffc4 74.96%,#51ffae 76.56%,#67ff98 78.15%,#7cff83 79.74%,#8eff71 81.34%,#a0ff5f 82.93%,#b1ff4e 84.53%,#baff45 86.12%,#c2ff3d 87.72%,#c9ff36 89.31%,#cfff30 90.91%,#d5ff2a 92.50%,#dbff24 94.10%,#ddff22 95.69%,#ddff22 97.29%,#ddff22 98.88%,#ddff22 100.00%)"></i><i style="background:linear-gradient(#beff41 0.00%,#beff41 1.59%,#beff41 3.19%,#beff41 4.78%,#beff41 6.38%,#beff41 7.97%,#beff41 9.57%,#bdff42 11.16%,#b4ff4b 12.76%,#a9ff56 14.35%,#9dff62 15.95%,#8dff72 17.54%,#7cff83 19.14%,#6cff93 20.73%,#60ff9f 22.33%,#54ffab 23.92%,#49ffb6 25.52%,#40ffbf 27.11%,#3bffc4 28.71%,#35ffca 30.30%,#30ffcf 31.90%,#2bffd4 33.49%,#2bffd4 35.09%,#2bffd4 36.68%,#2effd1 38.28%,#32ffcd 39.87%,#2effd1 41.47%,#29ffd6 43.06%,#25ffda 44.66%,#1affe5 46.25%,#05fffa 47.85%,#00e7ff 49.44%,#00a3ff 51.04%,#0064ff 52.63%,#0029ff 54.23%,#0012ff 55.82%,#0012ff 57.42%,#0012ff 59.01%,#0014ff 60.61%,#002cff 62.20%,#004cff 63.80%,#007bff 65.39%,#00adff 66.99%,#00e2ff 68.58%,#00ffff 70.18%,#15ffea 71.77%,#29ffd6 73.37%,#3effc1 74.96%,#53ffac 76.56%,#69ff96 78.15%,#7dff82 79.74%,#8eff71 81.34%,#a0ff5f 82.93%,#b0ff4f 84.53%,#baff45 86.12%,#c0ff3f 87.72%,#c7ff38 89.31%,#cdff32 90.91%,#d4ff2b 92.50%,#daff25 94.10%,#dbff24 95.69%,#dbff24 97.29%,#dbff24 98.88%,#dbff24 100.00%)"></i><i style="background:linear-gradient(#bfff40 0.00%,#bfff40 1.59%,#bfff40 3.19%,#bfff40 4.78%,#bfff40 6.38%,#bfff40 7.97%,#bfff40 9.57%,#bfff40 11.16%,#b6ff49 12.76%,#acff53 14.35%,#a1ff5e 15.95%,#92ff6d 17.54%,#82ff7d 19.14%,#71ff8e 20.73%,#65ff9a 22.33%,#59ffa6 23.92%,#4dffb2 25.52%,#44ffbb 27.11%,#3fffc0 28.71%,#39ffc6 30.30%,#34ffcb 31.90%,#31ffce 33.49%,#33ffcc 35.09%,#36ffc9 36.68%,#39ffc6 38.28%,#3affc5 39.87%,#35ffca 41.47%,#2fffd0 43.06%,#29ffd6 44.66%,#1bffe4 46.25%,#07fff8 47.85%,#00e9ff 49.44%,#00a8ff 51.04%,#0068ff 52.63%,#002cff 54.23%,#0016ff 55.82%,#0016ff 57.42%,#0016ff 59.01%,#0018ff 60.61%,#0030ff 62.20%,#004fff 63.80%,#007fff 65.39%,#00b2ff 66.99%,#00e8ff 68.58%,#05fffa 70.18%,#19ffe6 71.77%,#2cffd3 73.37%,#41ffbe 74.96%,#56ffa9 76.56%,#6bff94 78.15%,#7eff81 79.74%,#8fff70 81.34%,#9fff60 82.93%,#b0ff4f 84.53%,#b9ff46 86.12%,#bfff40 87.72%,#c6ff39 89.31%,#ccff33 90.91%,#d2ff2d 92.50%,#d8ff27 94.10%,#daff25 95.69%,#daff25 97.29%,#daff25 98.88%,#daff25 100.00%)"></i><i style="background:linear-gradient(#bfff40 0.00%,#bfff40 1.59%,#bfff40 3.19%,#bfff40 4.78%,#bfff40 6.38%,#bfff40 7.97%,#bfff40 9.57%,#bfff40 11.16%,#b7ff48 12.76%,#adff52 14.35%,#a3ff5c 15.95%,#95ff6a 17.54%,#86ff79 19.14%,#77ff88 20.73%,#6bff94 22.33%,#60ff9f 23.92%,#55ffaa 25.52%,#4cffb3 27.11%,#46ffb9 28.71%,#41ffbe 30.30%,#3cffc3 31.90%,#39ffc6 33.49%,#3bffc4 35.09%,#3cffc3 36.68%,#3fffc0 38.28%,#42ffbd 39.87%,#3effc1 41.47%,#3bffc4 43.06%,#36ffc9 44.66%,#25ffda 46.25%,#0efff1 47.85%,#00efff 49.44%,#00afff 51.04%,#0072ff 52.63%,#0038ff 54.23%,#0021ff 55.82%,#001fff 57.42%,#001fff 59.01%,#0023ff 60.61%,#003aff 62.20%,#005cff 63.80%,#008dff 65.39%,#00bcff 66.99%,#00edff 68.58%,#09fff6 70.18%,#1cffe3 71.77%,#30ffcf 73.37%,#44ffbb 74.96%,#57ffa8 76.56%,#6bff94 78.15%,#7eff81 79.74%,#8eff71 81.34%,#9dff62 82.93%,#adff52 84.53%,#b6ff49 86.12%,#bdff42 87.72%,#c3ff3c 89.31%,#c9ff36 90.91%,#d0ff2f 92.50%,#d6ff29 94.10%,#d7ff28 95.69%,#d7ff28 97.29%,#d7ff28 98.88%,#d7ff28 100.00%)"></i><i style="background:linear-gradient(#bfff40 0.00%,#bfff40 1.59%,#bfff40 3.19%,#bfff40 4.78%,#bfff40 6.38%,#bfff40 7.97%,#bfff40 9.57%,#bfff40 11.16%,#b7ff48 12.76%,#aeff51 14.35%,#a4ff5b 15.95%,#97ff68 17.54%,#8aff75 19.14%,#7cff83 20.73%,#71ff8e 22.33%,#66ff99 23.92%,#5cffa3 25.52%,#54ffab 27.11%,#4effb1 28.71%,#48ffb7 30.30%,#44ffbb 31.90%,#41ffbe 33.49%,#42ffbd 35.09%,#43ffbc 36.68%,#45ffba 38.28%,#49ffb6 39.87%,#47ffb8 41.47%,#46ffb9 43.06%,#43ffbc 44.66%,#2effd1 46.25%,#15ffea 47.85%,#00f5ff 49.44%,#00b7ff 51.04%,#007cff 52.63%,#0044ff 54.23%,#002dff 55.82%,#0028ff 57.42%,#0028ff 59.01%,#002dff 60.61%,#0043ff 62.20%,#0069ff 63.80%,#009aff 65.39%,#00c6ff 66.99%,#00f2ff 68.58%,#0cfff3 70.18%,#20ffdf 71.77%,#33ffcc 73.37%,#46ffb9 74.96%,#59ffa6 76.56%,#6cff93 78.15%,#7eff81 79.74%,#8dff72 81.34%,#9bff64 82.93%,#aaff55 84.53%,#b4ff4b 86.12%,#bbff44 87.72%,#c1ff3e 89.31%,#c7ff38 90.91%,#cdff32 92.50%,#d3ff2c 94.10%,#d4ff2b 95.69%,#d4ff2b 97.29%,#d4ff2b 98.88%,#d4ff2b 100.00%)"></i><i style="background:linear-gradient(#bfff40 0.00%,#bfff40 1.59%,#bfff40 3.19%,#bfff40 4.78%,#bfff40 6.38%,#bfff40 7.97%,#bfff40 9.57%,#bfff40 11.16%,#b8ff47 12.76%,#afff50 14.35%,#a6ff59 15.95%,#9aff65 17.54%,#8eff71 19.14%,#81ff7e 20.73%,#77ff88 22.33%,#6cff93 23.92%,#63ff9c 25.52%,#5bffa4 27.11%,#56ffa9 28.71%,#50ffaf 30.30%,#4cffb3 31.90%,#49ffb6 33.49%,#49ffb6 35.09%,#49ffb6 36.68%,#4bffb4 38.28%,#50ffaf 39.87%,#51ffae 41.47%,#52ffad 43.06%,#50ffaf 44.66%,#38ffc7 46.25%,#1dffe2 47.85%,#00fbff 49.44%,#00bfff 51.04%,#0086ff 52.63%,#0050ff 54.23%,#0038ff 55.82%,#0032ff 57.42%,#0031ff 59.01%,#0038ff 60.61%,#004dff 62.20%,#0076ff 63.80%,#00a8ff 65.39%,#00d0ff 66.99%,#00f7ff 68.58%,#10ffef 70.18%,#24ffdb 71.77%,#37ffc8 73.37%,#49ffb6 74.96%,#5bffa4 76.56%,#6dff92 78.15%,#7eff81 79.74%,#8cff73 81.34%,#99ff66 82.93%,#a7ff58 84.53%,#b1ff4e 86.12%,#b9ff46 87.72%,#bfff40 89.31%,#c5ff3a 90.91%,#caff35 92.50%,#d0ff2f 94.10%,#d2ff2d 95.69%,#d2ff2d 97.29%,#d2ff2d 98.88%,#d2ff2d 100.00%)"></i><i style="background:linear-gradient(#bfff40 0.00%,#bfff40 1.59%,#bfff40 3.19%,#bfff40 4.78%,#bfff40 6.38%,#bfff40 7.97%,#bfff40 9.57%,#bfff40 11.16%,#b8ff47 12.76%,#b0ff4f 14.35%,#a8ff57 15.95%,#9dff62 17.54%,#92ff6d 19.14%,#87ff78 20.73%,#7dff82 22.33%,#73ff8c 23.92%,#6bff94 25.52%,#63ff9c 27.11%,#5dffa2 28.71%,#57ffa8 30.30%,#54ffab 31.90%,#51ffae 33.49%,#51ffae 35.09%,#50ffaf 36.68%,#51ffae 38.28%,#57ffa8 39.87%,#5affa5 41.47%,#5effa1 43.06%,#5dffa2 44.66%,#42ffbd 46.25%,#24ffdb 47.85%,#01fffe 49.44%,#00c7ff 51.04%,#008fff 52.63%,#005cff 54.23%,#0043ff 55.82%,#003bff 57.42%,#003aff 59.01%,#0043ff 60.61%,#0057ff 62.20%,#0083ff 63.80%,#00b5ff 65.39%,#00daff 66.99%,#00fcff 68.58%,#14ffeb 70.18%,#28ffd7 71.77%,#3affc5 73.37%,#4bffb4 74.96%,#5cffa3 76.56%,#6eff91 78.15%,#7eff81 79.74%,#8aff75 81.34%,#97ff68 82.93%,#a4ff5b 84.53%,#afff50 86.12%,#b6ff49 87.72%,#bcff43 89.31%,#c2ff3d 90.91%,#c8ff37 92.50%,#ceff31 94.10%,#cfff30 95.69%,#cfff30 97.29%,#cfff30 98.88%,#cfff30 100.00%)"></i><i style="background:linear-gradient(#bfff40 0.00%,#bfff40 1.59%,#bfff40 3.19%,#bfff40 4.78%,#bfff40 6.38%,#bfff40 7.97%,#bfff40 9.57%,#bfff40 11.16%,#b9ff46 12.76%,#b1ff4e 14.35%,#aaff55 15.95%,#a0ff5f 17.54%,#96ff69 19.14%,#8cff73 20.73%,#82ff7d 22.33%,#79ff86 23.92%,#72ff8d 25.52%,#6bff94 27.11%,#65ff9a 28.71%,#5fffa0 30.30%,#5cffa3 31.90%,#5affa5 33.49%,#58ffa7 35.09%,#56ffa9 36.68%,#57ffa8 38.28%,#5effa1 39.87%,#64ff9b 41.47%,#6aff95 43.06%,#6bff94 44.66%,#4bffb4 46.25%,#2bffd4 47.85%,#07fff8 49.44%,#00ceff 51.04%,#0099ff 52.63%,#0067ff 54.23%,#004fff 55.82%,#0044ff 57.42%,#0043ff 59.01%,#004dff 60.61%,#0060ff 62.20%,#0090ff 63.80%,#00c2ff 65.39%,#00e3ff 66.99%,#03fffc 68.58%,#18ffe7 70.18%,#2bffd4 71.77%,#3effc1 73.37%,#4effb1 74.96%,#5effa1 76.56%,#6eff91 78.15%,#7dff82 79.74%,#89ff76 81.34%,#95ff6a 82.93%,#a1ff5e 84.53%,#acff53 86.12%,#b4ff4b 87.72%,#baff45 89.31%,#c0ff3f 90.91%,#c5ff3a 92.50%,#cbff34 94.10%,#ccff33 95.69%,#ccff33 97.29%,#ccff33 98.88%,#ccff33 100.00%)"></i><i style="background:linear-gradient(#c0ff3f 0.00%,#c0ff3f 1.59%,#c0ff3f 3.19%,#c0ff3f 4.78%,#c0ff3f 6.38%,#c0ff3f 7.97%,#c0ff3f 9.57%,#c0ff3f 11.16%,#baff45 12.76%,#b2ff4d 14.35%,#abff54 15.95%,#a2ff5d 17.54%,#99ff66 19.14%,#90ff6f 20.73%,#88ff77 22.33%,#7fff80 23.92%,#79ff86 25.52%,#72ff8d 27.11%,#6cff93 28.71%,#65ff9a 30.30%,#63ff9c 31.90%,#61ff9e 33.49%,#5fffa0 35.09%,#5dffa2 36.68%,#5dffa2 38.28%,#65ff9a 39.87%,#6dff92 41.47%,#75ff8a 43.06%,#78ff87 44.66%,#55ffaa 46.25%,#33ffcc 47.85%,#0dfff2 49.44%,#00d6ff 51.04%,#00a3ff 52.63%,#0073ff 54.23%,#005aff 55.82%,#004eff 57.42%,#004cff 59.01%,#0058ff 60.61%,#006aff 62.20%,#009cff 63.80%,#00ceff 65.39%,#00ecff 66.99%,#08fff7 68.58%,#1bffe4 70.18%,#2fffd0 71.77%,#41ffbe 73.37%,#50ffaf 74.96%,#60ff9f 76.56%,#6fff90 78.15%,#7dff82 79.74%,#88ff77 81.34%,#94ff6b 82.93%,#9fff60 84.53%,#aaff55 86.12%,#b2ff4d 87.72%,#b8ff47 89.31%,#bdff42 90.91%,#c3ff3c 92.50%,#c9ff36 94.10%,#caff35 95.69%,#caff35 97.29%,#caff35 98.88%,#caff35 100.00%)"></i><i style="background:linear-gradient(#c1ff3e 0.00%,#c1ff3e 1.59%,#c1ff3e 3.19%,#c1ff3e 4.78%,#c1ff3e 6.38%,#c1ff3e 7.97%,#c1ff3e 9.57%,#c1ff3e 11.16%,#bbff44 12.76%,#b3ff4c 14.35%,#abff54 15.95%,#a3ff5c 17.54%,#9aff65 19.14%,#92ff6d 20.73%,#89ff76 22.33%,#81ff7e 23.92%,#7aff85 25.52%,#74ff8b 27.11%,#6eff91 28.71%,#67ff98 30.30%,#66ff99 31.90%,#65ff9a 33.49%,#64ff9b 35.09%,#63ff9c 36.68%,#65ff9a 38.28%,#6eff91 39.87%,#78ff87 41.47%,#82ff7d 43.06%,#86ff79 44.66%,#61ff9e 46.25%,#3cffc3 47.85%,#15ffea 49.44%,#00deff 51.04%,#00acff 52.63%,#007fff 54.23%,#0064ff 55.82%,#0057ff 57.42%,#0055ff 59.01%,#0060ff 60.61%,#0074ff 62.20%,#00a3ff 63.80%,#00d2ff 65.39%,#00f0ff 66.99%,#0bfff4 68.58%,#1fffe0 70.18%,#33ffcc 71.77%,#45ffba 73.37%,#53ffac 74.96%,#62ff9d 76.56%,#71ff8e 78.15%,#7eff81 79.74%,#89ff76 81.34%,#94ff6b 82.93%,#9fff60 84.53%,#aaff55 86.12%,#b2ff4d 87.72%,#b7ff48 89.31%,#bcff43 90.91%,#c2ff3d 92.50%,#c7ff38 94.10%,#c8ff37 95.69%,#c8ff37 97.29%,#c8ff37 98.88%,#c8ff37 100.00%)"></i><i style="background:linear-gradient(#c3ff3c 0.00%,#c3ff3c 1.59%,#c3ff3c 3.19%,#c3ff3c 4.78%,#c3ff3c 6.38%,#c3ff3c 7.97%,#c3ff3c 9.57%,#c3ff3c 11.16%,#bcff43 12.76%,#b4ff4b 14.35%,#abff54 15.95%,#a3ff5c 17.54%,#9bff64 19.14%,#93ff6c 20.73%,#8bff74 22.33%,#83ff7c 23.92%,#7cff83 25.52%,#76ff89 27.11%,#70ff8f 28.71%,#69ff96 30.30%,#69ff96 31.90%,#69ff96 33.49%,#69ff96 35.09%,#69ff96 36.68%,#6cff93 38.28%,#78ff87 39.87%,#83ff7c 41.47%,#8fff70 43.06%,#94ff6b 44.66%,#6dff92 46.25%,#46ffb9 47.85%,#1cffe3 49.44%,#00e5ff 51.04%,#00b4ff 52.63%,#008aff 54.23%,#006eff 55.82%,#0060ff 57.42%,#005fff 59.01%,#0067ff 60.61%,#007fff 62.20%,#00aaff 63.80%,#00d5ff 65.39%,#00f4ff 66.99%,#0ffff0 68.58%,#23ffdc 70.18%,#37ffc8 71.77%,#48ffb7 73.37%,#56ffa9 74.96%,#64ff9b 76.56%,#72ff8d 78.15%,#7fff80 79.74%,#8aff75 81.34%,#95ff6a 82.93%,#9fff60 84.53%,#aaff55 86.12%,#b2ff4d 87.72%,#b7ff48 89.31%,#bbff44 90.91%,#c0ff3f 92.50%,#c5ff3a 94.10%,#c6ff39 95.69%,#c6ff39 97.29%,#c6ff39 98.88%,#c6ff39 100.00%)"></i><i style="background:linear-gradient(#c5ff3a 0.00%,#c5ff3a 1.59%,#c5ff3a 3.19%,#c5ff3a 4.78%,#c5ff3a 6.38%,#c5ff3a 7.97%,#c5ff3a 9.57%,#c5ff3a 11.16%,#beff41 12.76%,#b5ff4a 14.35%,#abff54 15.95%,#a3ff5c 17.54%,#9cff63 19.14%,#94ff6b 20.73%,#8cff73 22.33%,#85ff7a 23.92%,#7eff81 25.52%,#78ff87 27.11%,#71ff8e 28.71%,#6bff94 30.30%,#6cff93 31.90%,#6dff92 33.49%,#6eff91 35.09%,#6fff90 36.68%,#73ff8c 38.28%,#81ff7e 39.87%,#8eff71 41.47%,#9cff63 43.06%,#a2ff5d 44.66%,#79ff86 46.25%,#50ffaf 47.85%,#24ffdb 49.44%,#00edff 51.04%,#00bdff 52.63%,#0096ff 54.23%,#0079ff 55.82%,#0069ff 57.42%,#0069ff 59.01%,#006fff 60.61%,#0089ff 62.20%,#00b1ff 63.80%,#00d8ff 65.39%,#00f7ff 66.99%,#13ffec 68.58%,#27ffd8 70.18%,#3bffc4 71.77%,#4cffb3 73.37%,#59ffa6 74.96%,#66ff99 76.56%,#73ff8c 78.15%,#80ff7f 79.74%,#8bff74 81.34%,#95ff6a 82.93%,#a0ff5f 84.53%,#aaff55 86.12%,#b2ff4d 87.72%,#b6ff49 89.31%,#baff45 90.91%,#bfff40 92.50%,#c3ff3c 94.10%,#c4ff3b 95.69%,#c4ff3b 97.29%,#c4ff3b 98.88%,#c4ff3b 100.00%)"></i><i style="background:linear-gradient(#c7ff38 0.00%,#c7ff38 1.59%,#c7ff38 3.19%,#c7ff38 4.78%,#c7ff38 6.38%,#c7ff38 7.97%,#c7ff38 9.57%,#c7ff38 11.16%,#bfff40 12.76%,#b5ff4a 14.35%,#abff54 15.95%,#a4ff5b 17.54%,#9cff63 19.14%,#95ff6a 20.73%,#8eff71 22.33%,#87ff78 23.92%,#80ff7f 25.52%,#7aff85 27.11%,#73ff8c 28.71%,#6dff92 30.30%,#6fff90 31.90%,#71ff8e 33.49%,#73ff8c 35.09%,#75ff8a 36.68%,#7aff85 38.28%,#8aff75 39.87%,#99ff66 41.47%,#a8ff57 43.06%,#b0ff4f 44.66%,#85ff7a 46.25%,#59ffa6 47.85%,#2cffd3 49.44%,#00f5ff 51.04%,#00c6ff 52.63%,#00a2ff 54.23%,#0083ff 55.82%,#0073ff 57.42%,#0072ff 59.01%,#0077ff 60.61%,#0093ff 62.20%,#00b7ff 63.80%,#00dcff 65.39%,#00fbff 66.99%,#17ffe8 68.58%,#2bffd4 70.18%,#3effc1 71.77%,#4fffb0 73.37%,#5cffa3 74.96%,#68ff97 76.56%,#75ff8a 78.15%,#81ff7e 79.74%,#8bff74 81.34%,#96ff69 82.93%,#a0ff5f 84.53%,#aaff55 86.12%,#b1ff4e 87.72%,#b5ff4a 89.31%,#b9ff46 90.91%,#bdff42 92.50%,#c1ff3e 94.10%,#c2ff3d 95.69%,#c2ff3d 97.29%,#c2ff3d 98.88%,#c2ff3d 100.00%)"></i><i style="background:linear-gradient(#c9ff36 0.00%,#c9ff36 1.59%,#c9ff36 3.19%,#c9ff36 4.78%,#c9ff36 6.38%,#c9ff36 7.97%,#c9ff36 9.57%,#c9ff36 11.16%,#c1ff3e 12.76%,#b6ff49 14.35%,#abff54 15.95%,#a4ff5b 17.54%,#9dff62 19.14%,#96ff69 20.73%,#8fff70 22.33%,#89ff76 23.92%,#82ff7d 25.52%,#7cff83 27.11%,#75ff8a 28.71%,#6fff90 30.30%,#72ff8d 31.90%,#75ff8a 33.49%,#78ff87 35.09%,#7bff84 36.68%,#81ff7e 38.28%,#93ff6c 39.87%,#a4ff5b 41.47%,#b5ff4a 43.06%,#beff41 44.66%,#90ff6f 46.25%,#63ff9c 47.85%,#33ffcc 49.44%,#00fcff 51.04%,#00cfff 52.63%,#00adff 54.23%,#008dff 55.82%,#007cff 57.42%,#007cff 59.01%,#007fff 60.61%,#009dff 62.20%,#00beff 63.80%,#00dfff 65.39%,#00feff 66.99%,#1bffe4 68.58%,#2fffd0 70.18%,#42ffbd 71.77%,#53ffac 73.37%,#5fffa0 74.96%,#6bff94 76.56%,#76ff89 78.15%,#82ff7d 79.74%,#8cff73 81.34%,#96ff69 82.93%,#a0ff5f 84.53%,#abff54 86.12%,#b1ff4e 87.72%,#b5ff4a 89.31%,#b8ff47 90.91%,#bcff43 92.50%,#bfff40 94.10%,#c0ff3f 95.69%,#c0ff3f 97.29%,#c0ff3f 98.88%,#c0ff3f 100.00%)"></i><i style="background:linear-gradient(#caff35 0.00%,#caff35 1.59%,#caff35 3.19%,#caff35 4.78%,#caff35 6.38%,#caff35 7.97%,#caff35 9.57%,#caff35 11.16%,#c3ff3c 12.76%,#baff45 14.35%,#b2ff4d 15.95%,#aaff55 17.54%,#a2ff5d 19.14%,#9bff64 20.73%,#93ff6c 22.33%,#8bff74 23.92%,#85ff7a 25.52%,#7fff80 27.11%,#78ff87 28.71%,#72ff8d 30.30%,#73ff8c 31.90%,#73ff8c 33.49%,#74ff8b 35.09%,#78ff87 36.68%,#81ff7e 38.28%,#92ff6d 39.87%,#a4ff5b 41.47%,#b4ff4b 43.06%,#beff41 44.66%,#95ff6a 46.25%,#68ff97 47.85%,#3affc5 49.44%,#08fff7 51.04%,#00daff 52.63%,#00b8ff 54.23%,#0097ff 55.82%,#0083ff 57.42%,#0080ff 59.01%,#0085ff 60.61%,#00a1ff 62.20%,#00c0ff 63.80%,#00dfff 65.39%,#00feff 66.99%,#1affe5 68.58%,#2effd1 70.18%,#43ffbc 71.77%,#53ffac 73.37%,#5fffa0 74.96%,#6bff94 76.56%,#76ff89 78.15%,#81ff7e 79.74%,#8bff74 81.34%,#96ff69 82.93%,#a0ff5f 84.53%,#a9ff56 86.12%,#b0ff4f 87.72%,#b4ff4b 89.31%,#b8ff47 90.91%,#bcff43 92.50%,#c1ff3e 94.10%,#c1ff3e 95.69%,#c1ff3e 97.29%,#c1ff3e 98.88%,#c1ff3e 100.00%)"></i><i style="background:linear-gradient(#caff35 0.00%,#caff35 1.59%,#caff35 3.19%,#caff35 4.78%,#caff35 6.38%,#caff35 7.97%,#caff35 9.57%,#caff35 11.16%,#c6ff39 12.76%,#c1ff3e 14.35%,#bcff43 15.95%,#b3ff4c 17.54%,#aaff55 19.14%,#a1ff5e 20.73%,#98ff67 22.33%,#8fff70 23.92%,#88ff77 25.52%,#82ff7d 27.11%,#7cff83 28.71%,#75ff8a 30.30%,#72ff8d 31.90%,#6fff90 33.49%,#6cff93 35.09%,#6fff90 36.68%,#7bff84 38.28%,#8cff73 39.87%,#9dff62 41.47%,#abff54 43.06%,#b4ff4b 44.66%,#95ff6a 46.25%,#6cff93 47.85%,#41ffbe 49.44%,#14ffeb 51.04%,#00e7ff 52.63%,#00c1ff 54.23%,#00a1ff 55.82%,#008aff 57.42%,#0081ff 59.01%,#008aff 60.61%,#00a0ff 62.20%,#00beff 63.80%,#00deff 65.39%,#00fbff 66.99%,#16ffe9 68.58%,#2cffd3 70.18%,#42ffbd 71.77%,#50ffaf 73.37%,#5dffa2 74.96%,#6aff95 76.56%,#75ff8a 78.15%,#80ff7f 79.74%,#8aff75 81.34%,#94ff6b 82.93%,#9eff61 84.53%,#a7ff58 86.12%,#aeff51 87.72%,#b4ff4b 89.31%,#b9ff46 90.91%,#beff41 92.50%,#c4ff3b 94.10%,#c5ff3a 95.69%,#c5ff3a 97.29%,#c5ff3a 98.88%,#c5ff3a 100.00%)"></i><i style="background:linear-gradient(#caff35 0.00%,#caff35 1.59%,#caff35 3.19%,#caff35 4.78%,#caff35 6.38%,#caff35 7.97%,#caff35 9.57%,#caff35 11.16%,#c9ff36 12.76%,#c7ff38 14.35%,#c6ff39 15.95%,#bcff43 17.54%,#b2ff4d 19.14%,#a7ff58 20.73%,#9cff63 22.33%,#92ff6d 23.92%,#8cff73 25.52%,#86ff79 27.11%,#7fff80 28.71%,#79ff86 30.30%,#71ff8e 31.90%,#6aff95 33.49%,#63ff9c 35.09%,#66ff99 36.68%,#75ff8a 38.28%,#85ff7a 39.87%,#96ff69 41.47%,#a1ff5e 43.06%,#aaff55 44.66%,#96ff69 46.25%,#6fff90 47.85%,#48ffb7 49.44%,#20ffdf 51.04%,#00f4ff 52.63%,#00cbff 54.23%,#00aaff 55.82%,#0091ff 57.42%,#0083ff 59.01%,#008eff 60.61%,#009fff 62.20%,#00bcff 63.80%,#00dcff 65.39%,#00f8ff 66.99%,#11ffee 68.58%,#29ffd6 70.18%,#40ffbf 71.77%,#4effb1 73.37%,#5bffa4 74.96%,#69ff96 76.56%,#74ff8b 78.15%,#7fff80 79.74%,#89ff76 81.34%,#93ff6c 82.93%,#9dff62 84.53%,#a5ff5a 86.12%,#acff53 87.72%,#b3ff4c 89.31%,#baff45 90.91%,#c0ff3f 92.50%,#c7ff38 94.10%,#c8ff37 95.69%,#c8ff37 97.29%,#c8ff37 98.88%,#c8ff37 100.00%)"></i><i style="background:linear-gradient(#c8ff37 0.00%,#c8ff37 1.59%,#c8ff37 3.19%,#c9ff36 4.78%,#c9ff36 6.38%,#c9ff36 7.97%,#c9ff36 9.57%,#caff35 11.16%,#c9ff36 12.76%,#c8ff37 14.35%,#c7ff38 15.95%,#beff41 17.54%,#b3ff4c 19.14%,#a9ff56 20.73%,#9eff61 22.33%,#94ff6b 23.92%,#8eff71 25.52%,#88ff77 27.11%,#82ff7d 28.71%,#7cff83 30.30%,#75ff8a 31.90%,#6eff91 33.49%,#66ff99 35.09%,#69ff96 36.68%,#78ff87 38.28%,#88ff77 39.87%,#99ff66 41.47%,#a4ff5b 43.06%,#adff52 44.66%,#9bff64 46.25%,#76ff89 47.85%,#51ffae 49.44%,#2bffd4 51.04%,#00ffff 52.63%,#00d4ff 54.23%,#00b4ff 55.82%,#009aff 57.42%,#008bff 59.01%,#0098ff 60.61%,#00a6ff 62.20%,#00c2ff 63.80%,#00e0ff 65.39%,#00fbff 66.99%,#13ffec 68.58%,#2affd5 70.18%,#41ffbe 71.77%,#4fffb0 73.37%,#5cffa3 74.96%,#6aff95 76.56%,#75ff8a 78.15%,#7fff80 79.74%,#89ff76 81.34%,#93ff6c 82.93%,#9dff62 84.53%,#a4ff5b 86.12%,#abff54 87.72%,#b2ff4d 89.31%,#b9ff46 90.91%,#c0ff3f 92.50%,#c7ff38 94.10%,#c8ff37 95.69%,#c8ff37 97.29%,#c8ff37 98.88%,#c8ff37 100.00%)"></i><i style="background:linear-gradient(#c6ff39 0.00%,#c6ff39 1.59%,#c6ff39 3.19%,#c6ff39 4.78%,#c7ff38 6.38%,#c8ff37 7.97%,#c9ff36 9.57%,#caff35 11.16%,#c8ff37 12.76%,#c5ff3a 14.35%,#c2ff3d 15.95%,#baff45 17.54%,#b0ff4f 19.14%,#a7ff58 20.73%,#9dff62 22.33%,#94ff6b 23.92%,#8fff70 25.52%,#8aff75 27.11%,#85ff7a 28.71%,#80ff7f 30.30%,#7cff83 31.90%,#77ff88 33.49%,#73ff8c 35.09%,#75ff8a 36.68%,#82ff7d 38.28%,#93ff6c 39.87%,#a4ff5b 41.47%,#b1ff4e 43.06%,#bbff44 44.66%,#a3ff5c 46.25%,#7fff80 47.85%,#5bffa4 49.44%,#34ffcb 51.04%,#09fff6 52.63%,#00dcff 54.23%,#00bdff 55.82%,#00a6ff 57.42%,#0098ff 59.01%,#00a5ff 60.61%,#00b3ff 62.20%,#00cdff 63.80%,#00e9ff 65.39%,#03fffc 66.99%,#18ffe7 68.58%,#2effd1 70.18%,#44ffbb 71.77%,#51ffae 73.37%,#5fffa0 74.96%,#6cff93 76.56%,#78ff87 78.15%,#81ff7e 79.74%,#8aff75 81.34%,#94ff6b 82.93%,#9dff62 84.53%,#a4ff5b 86.12%,#aaff55 87.72%,#b1ff4e 89.31%,#b7ff48 90.91%,#beff41 92.50%,#c4ff3b 94.10%,#c6ff39 95.69%,#c6ff39 97.29%,#c6ff39 98.88%,#c6ff39 100.00%)"></i><i style="background:linear-gradient(#c3ff3c 0.00%,#c3ff3c 1.59%,#c3ff3c 3.19%,#c4ff3b 4.78%,#c5ff3a 6.38%,#c7ff38 7.97%,#c8ff37 9.57%,#caff35 11.16%,#c6ff39 12.76%,#c2ff3d 14.35%,#bdff42 15.95%,#b5ff4a 17.54%,#adff52 19.14%,#a5ff5a 20.73%,#9cff63 22.33%,#94ff6b 23.92%,#90ff6f 25.52%,#8cff73 27.11%,#88ff77 28.71%,#84ff7b 30.30%,#83ff7c 31.90%,#81ff7e 33.49%,#7fff80 35.09%,#82ff7d 36.68%,#8cff73 38.28%,#9dff62 39.87%,#aeff51 41.47%,#bdff42 43.06%,#c8ff37 44.66%,#acff53 46.25%,#88ff77 47.85%,#65ff9a 49.44%,#3dffc2 51.04%,#11ffee 52.63%,#00e4ff 54.23%,#00c6ff 55.82%,#00b1ff 57.42%,#00a5ff 59.01%,#00b3ff 60.61%,#00c0ff 62.20%,#00d9ff 63.80%,#00f2ff 65.39%,#0afff5 66.99%,#1effe1 68.58%,#32ffcd 70.18%,#46ffb9 71.77%,#54ffab 73.37%,#61ff9e 74.96%,#6fff90 76.56%,#7aff85 78.15%,#83ff7c 79.74%,#8cff73 81.34%,#94ff6b 82.93%,#9dff62 84.53%,#a4ff5b 86.12%,#aaff55 87.72%,#b0ff4f 89.31%,#b6ff49 90.91%,#bcff43 92.50%,#c2ff3d 94.10%,#c3ff3c 95.69%,#c3ff3c 97.29%,#c3ff3c 98.88%,#c3ff3c 100.00%)"></i><i style="background:linear-gradient(#c0ff3f 0.00%,#c0ff3f 1.59%,#c0ff3f 3.19%,#c1ff3e 4.78%,#c3ff3c 6.38%,#c5ff3a 7.97%,#c7ff38 9.57%,#caff35 11.16%,#c5ff3a 12.76%,#bfff40 14.35%,#b8ff47 15.95%,#b1ff4e 17.54%,#aaff55 19.14%,#a3ff5c 20.73%,#9bff64 22.33%,#94ff6b 23.92%,#91ff6e 25.52%,#8eff71 27.11%,#8bff74 28.71%,#88ff77 30.30%,#8aff75 31.90%,#8bff74 33.49%,#8cff73 35.09%,#8eff71 36.68%,#95ff6a 38.28%,#a7ff58 39.87%,#b9ff46 41.47%,#caff35 43.06%,#d5ff2a 44.66%,#b5ff4a 46.25%,#92ff6d 47.85%,#6fff90 49.44%,#47ffb8 51.04%,#1affe5 52.63%,#00ecff 54.23%,#00d0ff 55.82%,#00bdff 57.42%,#00b3ff 59.01%,#00c0ff 60.61%,#00ceff 62.20%,#00e4ff 63.80%,#00fbff 65.39%,#11ffee 66.99%,#24ffdb 68.58%,#36ffc9 70.18%,#49ffb6 71.77%,#57ffa8 73.37%,#64ff9b 74.96%,#72ff8d 76.56%,#7dff82 78.15%,#85ff7a 79.74%,#8dff72 81.34%,#95ff6a 82.93%,#9dff62 84.53%,#a3ff5c 86.12%,#a9ff56 87.72%,#afff50 89.31%,#b4ff4b 90.91%,#baff45 92.50%,#bfff40 94.10%,#c0ff3f 95.69%,#c0ff3f 97.29%,#c0ff3f 98.88%,#c0ff3f 100.00%)"></i><i style="background:linear-gradient(#c0ff3f 0.00%,#c0ff3f 1.59%,#c0ff3f 3.19%,#c1ff3e 4.78%,#c3ff3c 6.38%,#c5ff3a 7.97%,#c7ff38 9.57%,#c9ff36 11.16%,#c4ff3b 12.76%,#beff41 14.35%,#b7ff48 15.95%,#b0ff4f 17.54%,#a9ff56 19.14%,#a2ff5d 20.73%,#9cff63 22.33%,#95ff6a 23.92%,#93ff6c 25.52%,#90ff6f 27.11%,#8eff71 28.71%,#8bff74 30.30%,#8dff72 31.90%,#8eff71 33.49%,#90ff6f 35.09%,#92ff6d 36.68%,#98ff67 38.28%,#aaff55 39.87%,#bdff42 41.47%,#cfff30 43.06%,#dbff24 44.66%,#b7ff48 46.25%,#94ff6b 47.85%,#71ff8e 49.44%,#49ffb6 51.04%,#1dffe2 52.63%,#00f1ff 54.23%,#00d7ff 55.82%,#00c6ff 57.42%,#00bdff 59.01%,#00caff 60.61%,#00d7ff 62.20%,#00ecff 63.80%,#03fffc 65.39%,#16ffe9 66.99%,#28ffd7 68.58%,#39ffc6 70.18%,#4affb5 71.77%,#58ffa7 73.37%,#64ff9b 74.96%,#70ff8f 76.56%,#7aff85 78.15%,#82ff7d 79.74%,#8aff75 81.34%,#93ff6c 82.93%,#9cff63 84.53%,#a2ff5d 86.12%,#a8ff57 87.72%,#adff52 89.31%,#b2ff4d 90.91%,#b8ff47 92.50%,#bdff42 94.10%,#beff41 95.69%,#beff41 97.29%,#beff41 98.88%,#beff41 100.00%)"></i><i style="background:linear-gradient(#c2ff3d 0.00%,#c2ff3d 1.59%,#c2ff3d 3.19%,#c3ff3c 4.78%,#c5ff3a 6.38%,#c6ff39 7.97%,#c8ff37 9.57%,#caff35 11.16%,#c5ff3a 12.76%,#beff41 14.35%,#b7ff48 15.95%,#b1ff4e 17.54%,#aaff55 19.14%,#a4ff5b 20.73%,#9dff62 22.33%,#97ff68 23.92%,#95ff6a 25.52%,#92ff6d 27.11%,#90ff6f 28.71%,#8dff72 30.30%,#8dff72 31.90%,#8eff71 33.49%,#8eff71 35.09%,#8fff70 36.68%,#94ff6b 38.28%,#a8ff57 39.87%,#bbff44 41.47%,#ceff31 43.06%,#daff25 44.66%,#b6ff49 46.25%,#91ff6e 47.85%,#6cff93 49.44%,#45ffba 51.04%,#1dffe2 52.63%,#00f4ff 54.23%,#00dcff 55.82%,#00cdff 57.42%,#00c6ff 59.01%,#00d2ff 60.61%,#00deff 62.20%,#00f2ff 63.80%,#07fff8 65.39%,#1affe5 66.99%,#2affd5 68.58%,#3affc5 70.18%,#4affb5 71.77%,#58ffa7 73.37%,#62ff9d 74.96%,#6cff93 76.56%,#75ff8a 78.15%,#7cff83 79.74%,#85ff7a 81.34%,#8fff70 82.93%,#9aff65 84.53%,#a0ff5f 86.12%,#a6ff59 87.72%,#abff54 89.31%,#b1ff4e 90.91%,#b6ff49 92.50%,#bbff44 94.10%,#bcff43 95.69%,#bcff43 97.29%,#bcff43 98.88%,#bcff43 100.00%)"></i><i style="background:linear-gradient(#c4ff3b 0.00%,#c4ff3b 1.59%,#c4ff3b 3.19%,#c5ff3a 4.78%,#c6ff39 6.38%,#c7ff38 7.97%,#c8ff37 9.57%,#caff35 11.16%,#c5ff3a 12.76%,#beff41 14.35%,#b8ff47 15.95%,#b2ff4d 17.54%,#abff54 19.14%,#a5ff5a 20.73%,#9fff60 22.33%,#99ff66 23.92%,#96ff69 25.52%,#94ff6b 27.11%,#91ff6e 28.71%,#8fff70 30.30%,#8eff71 31.90%,#8dff72 33.49%,#8dff72 35.09%,#8cff73 36.68%,#91ff6e 38.28%,#a5ff5a 39.87%,#b9ff46 41.47%,#ceff31 43.06%,#daff25 44.66%,#b4ff4b 46.25%,#8eff71 47.85%,#67ff98 49.44%,#42ffbd 51.04%,#1cffe3 52.63%,#00f6ff 54.23%,#00e1ff 55.82%,#00d4ff 57.42%,#00cfff 59.01%,#00daff 60.61%,#00e6ff 62.20%,#00f8ff 63.80%,#0bfff4 65.39%,#1dffe2 66.99%,#2cffd3 68.58%,#3bffc4 70.18%,#4affb5 71.77%,#58ffa7 73.37%,#60ff9f 74.96%,#68ff97 76.56%,#6fff90 78.15%,#75ff8a 79.74%,#80ff7f 81.34%,#8bff74 82.93%,#97ff68 84.53%,#9fff60 86.12%,#a4ff5b 87.72%,#a9ff56 89.31%,#afff50 90.91%,#b4ff4b 92.50%,#baff45 94.10%,#bbff44 95.69%,#bbff44 97.29%,#bbff44 98.88%,#bbff44 100.00%)"></i><i style="background:linear-gradient(#c5ff3a 0.00%,#c5ff3a 1.59%,#c5ff3a 3.19%,#c6ff39 4.78%,#c7ff38 6.38%,#c8ff37 7.97%,#c9ff36 9.57%,#caff35 11.16%,#c6ff39 12.76%,#c1ff3e 14.35%,#bbff44 15.95%,#b5ff4a 17.54%,#aeff51 19.14%,#a7ff58 20.73%,#a1ff5e 22.33%,#9bff64 23.92%,#98ff67 25.52%,#95ff6a 27.11%,#93ff6c 28.71%,#90ff6f 30.30%,#8fff70 31.90%,#8dff72 33.49%,#8bff74 35.09%,#8aff75 36.68%,#8eff71 38.28%,#a3ff5c 39.87%,#b7ff48 41.47%,#ccff33 43.06%,#d9ff26 44.66%,#b2ff4d 46.25%,#8aff75 47.85%,#63ff9c 49.44%,#3fffc0 51.04%,#1dffe2 52.63%,#00faff 54.23%,#00e7ff 55.82%,#00dcff 57.42%,#00d7ff 59.01%,#00e2ff 60.61%,#00edff 62.20%,#00feff 63.80%,#11ffee 65.39%,#23ffdc 66.99%,#31ffce 68.58%,#3effc1 70.18%,#4cffb3 71.77%,#59ffa6 73.37%,#62ff9d 74.96%,#68ff97 76.56%,#6fff90 78.15%,#75ff8a 79.74%,#7fff80 81.34%,#8aff75 82.93%,#96ff69 84.53%,#9dff62 86.12%,#a2ff5d 87.72%,#a8ff57 89.31%,#adff52 90.91%,#b3ff4c 92.50%,#b8ff47 94.10%,#b9ff46 95.69%,#b9ff46 97.29%,#b9ff46 98.88%,#b9ff46 100.00%)"></i><i style="background:linear-gradient(#c7ff38 0.00%,#c7ff38 1.59%,#c7ff38 3.19%,#c7ff38 4.78%,#c8ff37 6.38%,#c9ff36 7.97%,#c9ff36 9.57%,#caff35 11.16%,#c7ff38 12.76%,#c4ff3b 14.35%,#c0ff3f 15.95%,#baff45 17.54%,#b2ff4d 19.14%,#abff54 20.73%,#a3ff5c 22.33%,#9cff63 23.92%,#9aff65 25.52%,#97ff68 27.11%,#94ff6b 28.71%,#92ff6d 30.30%,#8fff70 31.90%,#8dff72 33.49%,#8aff75 35.09%,#87ff78 36.68%,#8bff74 38.28%,#a0ff5f 39.87%,#b5ff4a 41.47%,#caff35 43.06%,#d7ff28 44.66%,#afff50 46.25%,#87ff78 47.85%,#5effa1 49.44%,#3cffc3 51.04%,#1effe1 52.63%,#00ffff 54.23%,#00eeff 55.82%,#00e5ff 57.42%,#00e1ff 59.01%,#00ebff 60.61%,#00f5ff 62.20%,#05fffa 63.80%,#17ffe8 65.39%,#29ffd6 66.99%,#37ffc8 68.58%,#44ffbb 70.18%,#50ffaf 71.77%,#5cffa3 73.37%,#65ff9a 74.96%,#6cff93 76.56%,#73ff8c 78.15%,#79ff86 79.74%,#82ff7d 81.34%,#8bff74 82.93%,#95ff6a 84.53%,#9bff64 86.12%,#a1ff5e 87.72%,#a6ff59 89.31%,#acff53 90.91%,#b1ff4e 92.50%,#b6ff49 94.10%,#b7ff48 95.69%,#b7ff48 97.29%,#b7ff48 98.88%,#b7ff48 100.00%)"></i><i style="background:linear-gradient(#c9ff36 0.00%,#c9ff36 1.59%,#c9ff36 3.19%,#c9ff36 4.78%,#c9ff36 6.38%,#c9ff36 7.97%,#caff35 9.57%,#caff35 11.16%,#c9ff36 12.76%,#c7ff38 14.35%,#c6ff39 15.95%,#beff41 17.54%,#b6ff49 19.14%,#aeff51 20.73%,#a5ff5a 22.33%,#9eff61 23.92%,#9bff64 25.52%,#99ff66 27.11%,#96ff69 28.71%,#93ff6c 30.30%,#90ff6f 31.90%,#8cff73 33.49%,#88ff77 35.09%,#85ff7a 36.68%,#88ff77 38.28%,#9dff62 39.87%,#b3ff4c 41.47%,#c8ff37 43.06%,#d6ff29 44.66%,#adff52 46.25%,#83ff7c 47.85%,#5affa5 49.44%,#3affc5 51.04%,#1fffe0 52.63%,#05fffa 54.23%,#00f5ff 55.82%,#00edff 57.42%,#00eaff 59.01%,#00f3ff 60.61%,#00fdff 62.20%,#0bfff4 63.80%,#1dffe2 65.39%,#2fffd0 66.99%,#3effc1 68.58%,#49ffb6 70.18%,#54ffab 71.77%,#5fffa0 73.37%,#69ff96 74.96%,#70ff8f 76.56%,#77ff88 78.15%,#7dff82 79.74%,#84ff7b 81.34%,#8cff73 82.93%,#94ff6b 84.53%,#9aff65 86.12%,#9fff60 87.72%,#a5ff5a 89.31%,#aaff55 90.91%,#afff50 92.50%,#b5ff4a 94.10%,#b6ff49 95.69%,#b6ff49 97.29%,#b6ff49 98.88%,#b6ff49 100.00%)"></i><i style="background:linear-gradient(#caff35 0.00%,#caff35 1.59%,#caff35 3.19%,#caff35 4.78%,#caff35 6.38%,#caff35 7.97%,#caff35 9.57%,#caff35 11.16%,#caff35 12.76%,#caff35 14.35%,#caff35 15.95%,#c2ff3d 17.54%,#b9ff46 19.14%,#b0ff4f 20.73%,#a7ff58 22.33%,#9fff60 23.92%,#9cff63 25.52%,#9aff65 27.11%,#97ff68 28.71%,#95ff6a 30.30%,#91ff6e 31.90%,#8cff73 33.49%,#88ff77 35.09%,#84ff7b 36.68%,#86ff79 38.28%,#9cff63 39.87%,#b1ff4e 41.47%,#c7ff38 43.06%,#d4ff2b 44.66%,#aaff55 46.25%,#80ff7f 47.85%,#57ffa8 49.44%,#38ffc7 51.04%,#21ffde 52.63%,#0afff5 54.23%,#00fcff 55.82%,#00f5ff 57.42%,#00f3ff 59.01%,#00fbff 60.61%,#06fff9 62.20%,#11ffee 63.80%,#23ffdc 65.39%,#35ffca 66.99%,#44ffbb 68.58%,#4effb1 70.18%,#58ffa7 71.77%,#62ff9d 73.37%,#6cff93 74.96%,#74ff8b 76.56%,#7aff85 78.15%,#80ff7f 79.74%,#86ff79 81.34%,#8dff72 82.93%,#93ff6c 84.53%,#99ff66 86.12%,#9eff61 87.72%,#a3ff5c 89.31%,#a9ff56 90.91%,#aeff51 92.50%,#b4ff4b 94.10%,#b5ff4a 95.69%,#b5ff4a 97.29%,#b5ff4a 98.88%,#b5ff4a 100.00%)"></i><i style="background:linear-gradient(#c8ff37 0.00%,#c8ff37 1.59%,#c8ff37 3.19%,#c8ff37 4.78%,#c8ff37 6.38%,#c8ff37 7.97%,#c8ff37 9.57%,#c8ff37 11.16%,#c8ff37 12.76%,#c8ff37 14.35%,#c8ff37 15.95%,#c0ff3f 17.54%,#b8ff47 19.14%,#afff50 20.73%,#a7ff58 22.33%,#9fff60 23.92%,#9cff63 25.52%,#9aff65 27.11%,#97ff68 28.71%,#95ff6a 30.30%,#92ff6d 31.90%,#8fff70 33.49%,#8dff72 35.09%,#8aff75 36.68%,#8dff72 38.28%,#a0ff5f 39.87%,#b3ff4c 41.47%,#c6ff39 43.06%,#d1ff2e 44.66%,#a9ff56 46.25%,#80ff7f 47.85%,#58ffa7 49.44%,#3bffc4 51.04%,#26ffd9 52.63%,#11ffee 54.23%,#04fffb 55.82%,#00fcff 57.42%,#00faff 59.01%,#03fffc 60.61%,#0dfff2 62.20%,#19ffe6 63.80%,#2affd5 65.39%,#3affc5 66.99%,#48ffb7 68.58%,#51ffae 70.18%,#5bffa4 71.77%,#65ff9a 73.37%,#6eff91 74.96%,#75ff8a 76.56%,#7bff84 78.15%,#81ff7e 79.74%,#87ff78 81.34%,#8dff72 82.93%,#93ff6c 84.53%,#99ff66 86.12%,#9eff61 87.72%,#a3ff5c 89.31%,#a9ff56 90.91%,#aeff51 92.50%,#b4ff4b 94.10%,#b5ff4a 95.69%,#b5ff4a 97.29%,#b5ff4a 98.88%,#b5ff4a 100.00%)"></i><i style="background:linear-gradient(#c6ff39 0.00%,#c6ff39 1.59%,#c6ff39 3.19%,#c6ff39 4.78%,#c6ff39 6.38%,#c6ff39 7.97%,#c6ff39 9.57%,#c6ff39 11.16%,#c6ff39 12.76%,#c6ff39 14.35%,#c6ff39 15.95%,#bfff40 17.54%,#b7ff48 19.14%,#afff50 20.73%,#a6ff59 22.33%,#9fff60 23.92%,#9cff63 25.52%,#9aff65 27.11%,#97ff68 28.71%,#95ff6a 30.30%,#94ff6b 31.90%,#92ff6d 33.49%,#91ff6e 35.09%,#90ff6f 36.68%,#93ff6c 38.28%,#a4ff5b 39.87%,#b5ff4a 41.47%,#c5ff3a 43.06%,#cfff30 44.66%,#a8ff57 46.25%,#80ff7f 47.85%,#59ffa6 49.44%,#3effc1 51.04%,#2bffd4 52.63%,#18ffe7 54.23%,#0bfff4 55.82%,#05fffa 57.42%,#03fffc 59.01%,#09fff6 60.61%,#14ffeb 62.20%,#20ffdf 63.80%,#30ffcf 65.39%,#40ffbf 66.99%,#4cffb3 68.58%,#55ffaa 70.18%,#5effa1 71.77%,#67ff98 73.37%,#70ff8f 74.96%,#77ff88 76.56%,#7dff82 78.15%,#82ff7d 79.74%,#88ff77 81.34%,#8eff71 82.93%,#93ff6c 84.53%,#99ff66 86.12%,#9eff61 87.72%,#a3ff5c 89.31%,#a9ff56 90.91%,#aeff51 92.50%,#b4ff4b 94.10%,#b5ff4a 95.69%,#b5ff4a 97.29%,#b5ff4a 98.88%,#b5ff4a 100.00%)"></i><i style="background:linear-gradient(#c4ff3b 0.00%,#c4ff3b 1.59%,#c4ff3b 3.19%,#c4ff3b 4.78%,#c4ff3b 6.38%,#c4ff3b 7.97%,#c4ff3b 9.57%,#c4ff3b 11.16%,#c4ff3b 12.76%,#c4ff3b 14.35%,#c4ff3b 15.95%,#beff41 17.54%,#b6ff49 19.14%,#aeff51 20.73%,#a6ff59 22.33%,#9fff60 23.92%,#9cff63 25.52%,#9aff65 27.11%,#97ff68 28.71%,#95ff6a 30.30%,#95ff6a 31.90%,#95ff6a 33.49%,#96ff69 35.09%,#96ff69 36.68%,#9aff65 38.28%,#a8ff57 39.87%,#b7ff48 41.47%,#c5ff3a 43.06%,#ccff33 44.66%,#a6ff59 46.25%,#81ff7e 47.85%,#5bffa4 49.44%,#41ffbe 51.04%,#30ffcf 52.63%,#1fffe0 54.23%,#12ffed 55.82%,#0cfff3 57.42%,#0bfff4 59.01%,#0ffff0 60.61%,#1bffe4 62.20%,#27ffd8 63.80%,#37ffc8 65.39%,#45ffba 66.99%,#50ffaf 68.58%,#58ffa7 70.18%,#61ff9e 71.77%,#69ff96 73.37%,#72ff8d 74.96%,#79ff86 76.56%,#7eff81 78.15%,#83ff7c 79.74%,#89ff76 81.34%,#8eff71 82.93%,#93ff6c 84.53%,#99ff66 86.12%,#9eff61 87.72%,#a3ff5c 89.31%,#a9ff56 90.91%,#aeff51 92.50%,#b4ff4b 94.10%,#b5ff4a 95.69%,#b5ff4a 97.29%,#b5ff4a 98.88%,#b5ff4a 100.00%)"></i><i style="background:linear-gradient(#c2ff3d 0.00%,#c2ff3d 1.59%,#c2ff3d 3.19%,#c2ff3d 4.78%,#c2ff3d 6.38%,#c2ff3d 7.97%,#c2ff3d 9.57%,#c2ff3d 11.16%,#c2ff3d 12.76%,#c2ff3d 14.35%,#c2ff3d 15.95%,#bcff43 17.54%,#b5ff4a 19.14%,#adff52 20.73%,#a6ff59 22.33%,#9fff60 23.92%,#9cff63 25.52%,#9aff65 27.11%,#97ff68 28.71%,#95ff6a 30.30%,#97ff68 31.90%,#98ff67 33.49%,#9aff65 35.09%,#9cff63 36.68%,#a0ff5f 38.28%,#acff53 39.87%,#b8ff47 41.47%,#c4ff3b 43.06%,#caff35 44.66%,#a5ff5a 46.25%,#81ff7e 47.85%,#5cffa3 49.44%,#44ffbb 51.04%,#35ffca 52.63%,#25ffda 54.23%,#19ffe6 55.82%,#13ffec 57.42%,#12ffed 59.01%,#16ffe9 60.61%,#22ffdd 62.20%,#2fffd0 63.80%,#3effc1 65.39%,#4affb5 66.99%,#54ffab 68.58%,#5cffa3 70.18%,#64ff9b 71.77%,#6cff93 73.37%,#74ff8b 74.96%,#7aff85 76.56%,#7fff80 78.15%,#84ff7b 79.74%,#89ff76 81.34%,#8eff71 82.93%,#93ff6c 84.53%,#99ff66 86.12%,#9eff61 87.72%,#a3ff5c 89.31%,#a9ff56 90.91%,#aeff51 92.50%,#b4ff4b 94.10%,#b5ff4a 95.69%,#b5ff4a 97.29%,#b5ff4a 98.88%,#b5ff4a 100.00%)"></i><i style="background:linear-gradient(#c1ff3e 0.00%,#c1ff3e 1.59%,#c1ff3e 3.19%,#c1ff3e 4.78%,#c1ff3e 6.38%,#c1ff3e 7.97%,#c1ff3e 9.57%,#c1ff3e 11.16%,#c1ff3e 12.76%,#c1ff3e 14.35%,#c1ff3e 15.95%,#bbff44 17.54%,#b4ff4b 19.14%,#adff52 20.73%,#a5ff5a 22.33%,#9fff60 23.92%,#9cff63 25.52%,#9aff65 27.11%,#97ff68 28.71%,#95ff6a 30.30%,#98ff67 31.90%,#9bff64 33.49%,#9fff60 35.09%,#a2ff5d 36.68%,#a7ff58 38.28%,#b0ff4f 39.87%,#baff45 41.47%,#c4ff3b 43.06%,#c7ff38 44.66%,#a4ff5b 46.25%,#81ff7e 47.85%,#5dffa2 49.44%,#47ffb8 51.04%,#39ffc6 52.63%,#2cffd3 54.23%,#21ffde 55.82%,#1affe5 57.42%,#1affe5 59.01%,#1cffe3 60.61%,#29ffd6 62.20%,#36ffc9 63.80%,#44ffbb 65.39%,#4fffb0 66.99%,#58ffa7 68.58%,#5fffa0 70.18%,#67ff98 71.77%,#6eff91 73.37%,#76ff89 74.96%,#7cff83 76.56%,#80ff7f 78.15%,#85ff7a 79.74%,#8aff75 81.34%,#8fff70 82.93%,#93ff6c 84.53%,#99ff66 86.12%,#9eff61 87.72%,#a3ff5c 89.31%,#a9ff56 90.91%,#aeff51 92.50%,#b4ff4b 94.10%,#b5ff4a 95.69%,#b5ff4a 97.29%,#b5ff4a 98.88%,#b5ff4a 100.00%)"></i><i style="background:linear-gradient(#bfff40 0.00%,#bfff40 1.59%,#bfff40 3.19%,#bfff40 4.78%,#bfff40 6.38%,#bfff40 7.97%,#bfff40 9.57%,#bfff40 11.16%,#bfff40 12.76%,#bfff40 14.35%,#bfff40 15.95%,#b9ff46 17.54%,#b3ff4c 19.14%,#acff53 20.73%,#a5ff5a 22.33%,#9fff60 23.92%,#9cff63 25.52%,#9aff65 27.11%,#97ff68 28.71%,#95ff6a 30.30%,#99ff66 31.90%,#9eff61 33.49%,#a2ff5d 35.09%,#a7ff58 36.68%,#acff53 38.28%,#b4ff4b 39.87%,#bbff44 41.47%,#c3ff3c 43.06%,#c5ff3a 44.66%,#a3ff5c 46.25%,#81ff7e 47.85%,#5effa1 49.44%,#49ffb6 51.04%,#3dffc2 52.63%,#32ffcd 54.23%,#26ffd9 55.82%,#20ffdf 57.42%,#20ffdf 59.01%,#21ffde 60.61%,#2effd1 62.20%,#3cffc3 63.80%,#49ffb6 65.39%,#54ffab 66.99%,#5bffa4 68.58%,#62ff9d 70.18%,#69ff96 71.77%,#70ff8f 73.37%,#77ff88 74.96%,#7dff82 76.56%,#81ff7e 78.15%,#86ff79 79.74%,#8aff75 81.34%,#8fff70 82.93%,#93ff6c 84.53%,#99ff66 86.12%,#9eff61 87.72%,#a3ff5c 89.31%,#a9ff56 90.91%,#aeff51 92.50%,#b4ff4b 94.10%,#b5ff4a 95.69%,#b5ff4a 97.29%,#b5ff4a 98.88%,#b5ff4a 100.00%)"></i><i style="background:linear-gradient(#bfff40 0.00%,#bfff40 1.59%,#bfff40 3.19%,#bfff40 4.78%,#bfff40 6.38%,#bfff40 7.97%,#bfff40 9.57%,#bfff40 11.16%,#bfff40 12.76%,#bfff40 14.35%,#bfff40 15.95%,#b9ff46 17.54%,#b3ff4c 19.14%,#acff53 20.73%,#a5ff5a 22.33%,#9fff60 23.92%,#9cff63 25.52%,#9aff65 27.11%,#97ff68 28.71%,#95ff6a 30.30%,#99ff66 31.90%,#9eff61 33.49%,#a2ff5d 35.09%,#a7ff58 36.68%,#acff53 38.28%,#b4ff4b 39.87%,#bbff44 41.47%,#c3ff3c 43.06%,#c5ff3a 44.66%,#a3ff5c 46.25%,#81ff7e 47.85%,#5effa1 49.44%,#49ffb6 51.04%,#3dffc2 52.63%,#32ffcd 54.23%,#26ffd9 55.82%,#20ffdf 57.42%,#20ffdf 59.01%,#21ffde 60.61%,#2effd1 62.20%,#3cffc3 63.80%,#49ffb6 65.39%,#54ffab 66.99%,#5bffa4 68.58%,#62ff9d 70.18%,#69ff96 71.77%,#70ff8f 73.37%,#77ff88 74.96%,#7dff82 76.56%,#81ff7e 78.15%,#86ff79 79.74%,#8aff75 81.34%,#8fff70 82.93%,#93ff6c 84.53%,#99ff66 86.12%,#9eff61 87.72%,#a3ff5c 89.31%,#a9ff56 90.91%,#aeff51 92.50%,#b4ff4b 94.10%,#b5ff4a 95.69%,#b5ff4a 97.29%,#b5ff4a 98.88%,#b5ff4a 100.00%)"></i><i style="background:linear-gradient(#bfff40 0.00%,#bfff40 1.59%,#bfff40 3.19%,#bfff40 4.78%,#bfff40 6.38%,#bfff40 7.97%,#bfff40 9.57%,#bfff40 11.16%,#bfff40 12.76%,#bfff40 14.35%,#bfff40 15.95%,#b9ff46 17.54%,#b3ff4c 19.14%,#acff53 20.73%,#a5ff5a 22.33%,#9fff60 23.92%,#9cff63 25.52%,#9aff65 27.11%,#97ff68 28.71%,#95ff6a 30.30%,#99ff66 31.90%,#9eff61 33.49%,#a2ff5d 35.09%,#a7ff58 36.68%,#acff53 38.28%,#b4ff4b 39.87%,#bbff44 41.47%,#c3ff3c 43.06%,#c5ff3a 44.66%,#a3ff5c 46.25%,#81ff7e 47.85%,#5effa1 49.44%,#49ffb6 51.04%,#3dffc2 52.63%,#32ffcd 54.23%,#26ffd9 55.82%,#20ffdf 57.42%,#20ffdf 59.01%,#21ffde 60.61%,#2effd1 62.20%,#3cffc3 63.80%,#49ffb6 65.39%,#54ffab 66.99%,#5bffa4 68.58%,#62ff9d 70.18%,#69ff96 71.77%,#70ff8f 73.37%,#77ff88 74.96%,#7dff82 76.56%,#81ff7e 78.15%,#86ff79 79.74%,#8aff75 81.34%,#8fff70 82.93%,#93ff6c 84.53%,#99ff66 86.12%,#9eff61 87.72%,#a3ff5c 89.31%,#a9ff56 90.91%,#aeff51 92.50%,#b4ff4b 94.10%,#b5ff4a 95.69%,#b5ff4a 97.29%,#b5ff4a 98.88%,#b5ff4a 100.00%)"></i><i style="background:linear-gradient(#bfff40 0.00%,#bfff40 1.59%,#bfff40 3.19%,#bfff40 4.78%,#bfff40 6.38%,#bfff40 7.97%,#bfff40 9.57%,#bfff40 11.16%,#bfff40 12.76%,#bfff40 14.35%,#bfff40 15.95%,#b9ff46 17.54%,#b3ff4c 19.14%,#acff53 20.73%,#a5ff5a 22.33%,#9fff60 23.92%,#9cff63 25.52%,#9aff65 27.11%,#97ff68 28.71%,#95ff6a 30.30%,#99ff66 31.90%,#9eff61 33.49%,#a2ff5d 35.09%,#a7ff58 36.68%,#acff53 38.28%,#b4ff4b 39.87%,#bbff44 41.47%,#c3ff3c 43.06%,#c5ff3a 44.66%,#a3ff5c 46.25%,#81ff7e 47.85%,#5effa1 49.44%,#49ffb6 51.04%,#3dffc2 52.63%,#32ffcd 54.23%,#26ffd9 55.82%,#20ffdf 57.42%,#20ffdf 59.01%,#21ffde 60.61%,#2effd1 62.20%,#3cffc3 63.80%,#49ffb6 65.39%,#54ffab 66.99%,#5bffa4 68.58%,#62ff9d 70.18%,#69ff96 71.77%,#70ff8f 73.37%,#77ff88 74.96%,#7dff82 76.56%,#81ff7e 78.15%,#86ff79 79.74%,#8aff75 81.34%,#8fff70 82.93%,#93ff6c 84.53%,#99ff66 86.12%,#9eff61 87.72%,#a3ff5c 89.31%,#a9ff56 90.91%,#aeff51 92.50%,#b4ff4b 94.10%,#b5ff4a 95.69%,#b5ff4a 97.29%,#b5ff4a 98.88%,#b5ff4a 100.00%)"></i></div></div>
<div class="hm" style="left:924.2px;top:54.9px;width:719.1px;height:238.8px"><div class="hi" style="left:-12px;width:756px"><i style="background:linear-gradient(#95ff6a 0.00%,#95ff6a 1.59%,#95ff6a 3.19%,#95ff6a 4.78%,#95ff6a 6.38%,#95ff6a 7.97%,#95ff6a 9.57%,#95ff6a 11.16%,#88ff77 12.76%,#77ff88 14.35%,#67ff98 15.95%,#51ffae 17.54%,#39ffc6 19.14%,#22ffdd 20.73%,#15ffea 22.33%,#09fff6 23.92%,#00fcff 25.52%,#00eaff 27.11%,#00ccff 28.71%,#00a3ff 30.30%,#0073ff 31.90%,#006aff 33.49%,#006aff 35.09%,#006aff 36.68%,#006aff 38.28%,#006aff 39.87%,#006aff 41.47%,#00b3ff 43.06%,#00dbff 44.66%,#00f3ff 46.25%,#00d2ff 47.85%,#00a3ff 49.44%,#0041ff 51.04%,#0000f7 52.63%,#0000cd 54.23%,#0000aa 55.82%,#0000aa 57.42%,#0000aa 59.01%,#0000aa 60.61%,#0000c4 62.20%,#0000fa 63.80%,#0031ff 65.39%,#006dff 66.99%,#00aeff 68.58%,#00f6ff 70.18%,#76ff89 71.77%,#bdff42 73.37%,#e8ff17 74.96%,#fff400 76.56%,#ffe200 78.15%,#ffd000 79.74%,#ffc800 81.34%,#ffc100 82.93%,#ffba00 84.53%,#ffb300 86.12%,#ffad00 87.72%,#ffa900 89.31%,#ffa500 90.91%,#ffa100 92.50%,#ff9d00 94.10%,#ff9a00 95.69%,#ff9a00 97.29%,#ff9a00 98.88%,#ff9a00 100.00%)"></i><i style="background:linear-gradient(#95ff6a 0.00%,#95ff6a 1.59%,#95ff6a 3.19%,#95ff6a 4.78%,#95ff6a 6.38%,#95ff6a 7.97%,#95ff6a 9.57%,#95ff6a 11.16%,#88ff77 12.76%,#77ff88 14.35%,#67ff98 15.95%,#51ffae 17.54%,#39ffc6 19.14%,#22ffdd 20.73%,#15ffea 22.33%,#09fff6 23.92%,#00fcff 25.52%,#00eaff 27.11%,#00ccff 28.71%,#00a3ff 30.30%,#0073ff 31.90%,#006aff 33.49%,#006aff 35.09%,#006aff 36.68%,#006aff 38.28%,#006aff 39.87%,#006aff 41.47%,#00b3ff 43.06%,#00dbff 44.66%,#00f3ff 46.25%,#00d2ff 47.85%,#00a3ff 49.44%,#0041ff 51.04%,#0000f7 52.63%,#0000c9 54.23%,#0000a2 55.82%,#0000a2 57.42%,#0000a2 59.01%,#0000a2 60.61%,#0000bd 62.20%,#0000f3 63.80%,#002aff 65.39%,#0061ff 66.99%,#009bff 68.58%,#00d3ff 70.18%,#1affe5 71.77%,#5fffa0 73.37%,#9bff64 74.96%,#cbff34 76.56%,#f0ff0f 78.15%,#ffee00 79.74%,#ffdf00 81.34%,#ffd000 82.93%,#ffc700 84.53%,#ffbf00 86.12%,#ffb700 87.72%,#ffb000 89.31%,#ffac00 90.91%,#ffa900 92.50%,#ffa500 94.10%,#ffa200 95.69%,#ffa200 97.29%,#ffa200 98.88%,#ffa200 100.00%)"></i><i style="background:linear-gradient(#9aff65 0.00%,#9aff65 1.59%,#9aff65 3.19%,#9aff65 4.78%,#9aff65 6.38%,#9aff65 7.97%,#9aff65 9.57%,#9aff65 11.16%,#8eff71 12.76%,#7fff80 14.35%,#6fff90 15.95%,#59ffa6 17.54%,#42ffbd 19.14%,#2bffd4 20.73%,#1dffe2 22.33%,#10ffef 23.92%,#03fffc 25.52%,#00efff 27.11%,#00cfff 28.71%,#00a7ff 30.30%,#007aff 31.90%,#006aff 33.49%,#006aff 35.09%,#006aff 36.68%,#006aff 38.28%,#006aff 39.87%,#0071ff 41.47%,#00b8ff 43.06%,#00ddff 44.66%,#00f3ff 46.25%,#00d2ff 47.85%,#00a3ff 49.44%,#003eff 51.04%,#0000f5 52.63%,#0000c4 54.23%,#00009a 55.82%,#00009a 57.42%,#00009a 59.01%,#00009a 60.61%,#0000b4 62.20%,#0000ea 63.80%,#0021ff 65.39%,#0058ff 66.99%,#008fff 68.58%,#00c1ff 70.18%,#00efff 71.77%,#25ffda 73.37%,#58ffa7 74.96%,#84ff7b 76.56%,#b0ff4f 78.15%,#d8ff27 79.74%,#f3ff0c 81.34%,#fff200 82.93%,#ffdf00 84.53%,#ffd500 86.12%,#ffca00 87.72%,#ffc000 89.31%,#ffba00 90.91%,#ffb300 92.50%,#ffad00 94.10%,#ffa700 95.69%,#ffa700 97.29%,#ffa700 98.88%,#ffa700 100.00%)"></i><i style="background:linear-gradient(#a1ff5e 0.00%,#a1ff5e 1.59%,#a1ff5e 3.19%,#a1ff5e 4.78%,#a1ff5e 6.38%,#a2ff5d 7.97%,#a1ff5e 9.57%,#a1ff5e 11.16%,#95ff6a 12.76%,#86ff79 14.35%,#78ff87 15.95%,#62ff9d 17.54%,#4bffb4 19.14%,#34ffcb 20.73%,#25ffda 22.33%,#18ffe7 23.92%,#0afff5 25.52%,#00f4ff 27.11%,#00d3ff 28.71%,#00acff 30.30%,#0080ff 31.90%,#006aff 33.49%,#006aff 35.09%,#006aff 36.68%,#006aff 38.28%,#006aff 39.87%,#007aff 41.47%,#00bdff 43.06%,#00dfff 44.66%,#00f4ff 46.25%,#00d3ff 47.85%,#00a3ff 49.44%,#003bff 51.04%,#0000f2 52.63%,#0000bf 54.23%,#000094 55.82%,#000094 57.42%,#000094 59.01%,#000094 60.61%,#0000ae 62.20%,#0000e4 63.80%,#001bff 65.39%,#0052ff 66.99%,#008bff 68.58%,#00beff 70.18%,#00e9ff 71.77%,#13ffec 73.37%,#37ffc8 74.96%,#5bffa4 76.56%,#84ff7b 78.15%,#aeff51 79.74%,#d1ff2e 81.34%,#f0ff0f 82.93%,#fff500 84.53%,#ffe700 86.12%,#ffdb00 87.72%,#ffd100 89.31%,#ffc800 90.91%,#ffc000 92.50%,#ffb800 94.10%,#ffb100 95.69%,#ffb100 97.29%,#ffb100 98.88%,#ffb100 100.00%)"></i><i style="background:linear-gradient(#a5ff5a 0.00%,#a5ff5a 1.59%,#a5ff5a 3.19%,#a6ff59 4.78%,#a8ff57 6.38%,#aaff55 7.97%,#a7ff58 9.57%,#a5ff5a 11.16%,#99ff66 12.76%,#8bff74 14.35%,#7cff83 15.95%,#67ff98 17.54%,#50ffaf 19.14%,#3affc5 20.73%,#2bffd4 22.33%,#1dffe2 23.92%,#0efff1 25.52%,#00f8ff 27.11%,#00d5ff 28.71%,#00afff 30.30%,#0085ff 31.90%,#006aff 33.49%,#006aff 35.09%,#006aff 36.68%,#006aff 38.28%,#006aff 39.87%,#0080ff 41.47%,#00c0ff 43.06%,#00e1ff 44.66%,#00f6ff 46.25%,#00d4ff 47.85%,#00a2ff 49.44%,#0039ff 51.04%,#0000ef 52.63%,#0000bd 54.23%,#000092 55.82%,#000092 57.42%,#000092 59.01%,#000092 60.61%,#0000ab 62.20%,#0000e0 63.80%,#0017ff 65.39%,#004fff 66.99%,#0088ff 68.58%,#00bdff 70.18%,#00e7ff 71.77%,#11ffee 73.37%,#34ffcb 74.96%,#57ffa8 76.56%,#7dff82 78.15%,#a4ff5b 79.74%,#c6ff39 81.34%,#e4ff1b 82.93%,#fbff04 84.53%,#fff300 86.12%,#ffe800 87.72%,#ffe000 89.31%,#ffda00 90.91%,#ffd400 92.50%,#ffce00 94.10%,#ffca00 95.69%,#ffca00 97.29%,#ffca00 98.88%,#ffca00 100.00%)"></i><i style="background:linear-gradient(#a9ff56 0.00%,#a9ff56 1.59%,#a9ff56 3.19%,#abff54 4.78%,#afff50 6.38%,#b1ff4e 7.97%,#adff52 9.57%,#aaff55 11.16%,#9dff62 12.76%,#8fff70 14.35%,#80ff7f 15.95%,#6cff93 17.54%,#56ffa9 19.14%,#40ffbf 20.73%,#31ffce 22.33%,#22ffdd 23.92%,#13ffec 25.52%,#00fcff 27.11%,#00d8ff 28.71%,#00b1ff 30.30%,#0089ff 31.90%,#006aff 33.49%,#006aff 35.09%,#006aff 36.68%,#006aff 38.28%,#006aff 39.87%,#0086ff 41.47%,#00c3ff 43.06%,#00e3ff 44.66%,#00f8ff 46.25%,#00d5ff 47.85%,#00a2ff 49.44%,#0037ff 51.04%,#0000ed 52.63%,#0000bb 54.23%,#000090 55.82%,#000090 57.42%,#000090 59.01%,#000090 60.61%,#0000a9 62.20%,#0000dc 63.80%,#0013ff 65.39%,#004bff 66.99%,#0085ff 68.58%,#00bcff 70.18%,#00e5ff 71.77%,#0efff1 73.37%,#31ffce 74.96%,#53ffac 76.56%,#76ff89 78.15%,#99ff66 79.74%,#bcff43 81.34%,#d7ff28 82.93%,#ecff13 84.53%,#ffff00 86.12%,#fff400 87.72%,#fff000 89.31%,#ffed00 90.91%,#ffe900 92.50%,#ffe500 94.10%,#ffe200 95.69%,#ffe200 97.29%,#ffe200 98.88%,#ffe200 100.00%)"></i><i style="background:linear-gradient(#aaff55 0.00%,#aaff55 1.59%,#aaff55 3.19%,#acff53 4.78%,#b0ff4f 6.38%,#b3ff4c 7.97%,#afff50 9.57%,#abff54 11.16%,#9eff61 12.76%,#90ff6f 14.35%,#81ff7e 15.95%,#6dff92 17.54%,#58ffa7 19.14%,#43ffbc 20.73%,#34ffcb 22.33%,#25ffda 23.92%,#16ffe9 25.52%,#00ffff 27.11%,#00dcff 28.71%,#00b7ff 30.30%,#008fff 31.90%,#0070ff 33.49%,#006fff 35.09%,#006fff 36.68%,#006fff 38.28%,#006fff 39.87%,#008dff 41.47%,#00c7ff 43.06%,#00e6ff 44.66%,#00faff 46.25%,#00d7ff 47.85%,#00a4ff 49.44%,#0038ff 51.04%,#0000f0 52.63%,#0000c0 54.23%,#000096 55.82%,#000096 57.42%,#000096 59.01%,#000096 60.61%,#0000ae 62.20%,#0000de 63.80%,#0014ff 65.39%,#004cff 66.99%,#0086ff 68.58%,#00bdff 70.18%,#00e5ff 71.77%,#0efff1 73.37%,#30ffcf 74.96%,#51ffae 76.56%,#73ff8c 78.15%,#95ff6a 79.74%,#b5ff4a 81.34%,#d0ff2f 82.93%,#e4ff1b 84.53%,#f7ff08 86.12%,#fffd00 87.72%,#fffa00 89.31%,#fff700 90.91%,#fff400 92.50%,#fff100 94.10%,#ffee00 95.69%,#ffee00 97.29%,#ffee00 98.88%,#ffee00 100.00%)"></i><i style="background:linear-gradient(#aaff55 0.00%,#aaff55 1.59%,#aaff55 3.19%,#acff53 4.78%,#afff50 6.38%,#b1ff4e 7.97%,#aeff51 9.57%,#abff54 11.16%,#9eff61 12.76%,#8fff70 14.35%,#80ff7f 15.95%,#6dff92 17.54%,#59ffa6 19.14%,#46ffb9 20.73%,#36ffc9 22.33%,#28ffd7 23.92%,#19ffe6 25.52%,#04fffb 27.11%,#00e1ff 28.71%,#00bdff 30.30%,#0097ff 31.90%,#0077ff 33.49%,#0075ff 35.09%,#0075ff 36.68%,#0075ff 38.28%,#0075ff 39.87%,#0094ff 41.47%,#00cbff 43.06%,#00e8ff 44.66%,#00fcff 46.25%,#00d9ff 47.85%,#00a7ff 49.44%,#003bff 51.04%,#0000f4 52.63%,#0000c7 54.23%,#0000a0 55.82%,#0000a0 57.42%,#0000a0 59.01%,#0000a0 60.61%,#0000b6 62.20%,#0000e4 63.80%,#0018ff 65.39%,#004eff 66.99%,#0088ff 68.58%,#00bfff 70.18%,#00e7ff 71.77%,#0efff1 73.37%,#2fffd0 74.96%,#50ffaf 76.56%,#71ff8e 78.15%,#92ff6d 79.74%,#b1ff4e 81.34%,#cbff34 82.93%,#dfff20 84.53%,#f0ff0f 86.12%,#f9ff06 87.72%,#fdff02 89.31%,#fffe00 90.91%,#fffa00 92.50%,#fff700 94.10%,#fff400 95.69%,#fff400 97.29%,#fff400 98.88%,#fff400 100.00%)"></i><i style="background:linear-gradient(#aaff55 0.00%,#aaff55 1.59%,#aaff55 3.19%,#abff54 4.78%,#aeff51 6.38%,#b0ff4f 7.97%,#adff52 9.57%,#abff54 11.16%,#9eff61 12.76%,#8fff70 14.35%,#80ff7f 15.95%,#6dff92 17.54%,#5affa5 19.14%,#48ffb7 20.73%,#39ffc6 22.33%,#2affd5 23.92%,#1cffe3 25.52%,#07fff8 27.11%,#00e6ff 28.71%,#00c4ff 30.30%,#009fff 31.90%,#007fff 33.49%,#007bff 35.09%,#007bff 36.68%,#007bff 38.28%,#007cff 39.87%,#009cff 41.47%,#00cfff 43.06%,#00ebff 44.66%,#00ffff 46.25%,#00dcff 47.85%,#00aaff 49.44%,#003eff 51.04%,#0000f8 52.63%,#0000ce 54.23%,#0000aa 55.82%,#0000aa 57.42%,#0000aa 59.01%,#0000aa 60.61%,#0000bf 62.20%,#0000e9 63.80%,#001cff 65.39%,#0051ff 66.99%,#008aff 68.58%,#00c1ff 70.18%,#00e9ff 71.77%,#0efff1 73.37%,#2fffd0 74.96%,#4fffb0 76.56%,#70ff8f 78.15%,#90ff6f 79.74%,#adff52 81.34%,#c5ff3a 82.93%,#daff25 84.53%,#e9ff16 86.12%,#f2ff0d 87.72%,#f6ff09 89.31%,#f9ff06 90.91%,#fdff02 92.50%,#fffd00 94.10%,#fffa00 95.69%,#fffa00 97.29%,#fffa00 98.88%,#fffa00 100.00%)"></i><i style="background:linear-gradient(#aaff55 0.00%,#aaff55 1.59%,#aaff55 3.19%,#abff54 4.78%,#adff52 6.38%,#afff50 7.97%,#adff52 9.57%,#aaff55 11.16%,#9eff61 12.76%,#8eff71 14.35%,#7fff80 15.95%,#6dff92 17.54%,#5cffa3 19.14%,#4affb5 20.73%,#3bffc4 22.33%,#2dffd2 23.92%,#1fffe0 25.52%,#0bfff4 27.11%,#00ebff 28.71%,#00caff 30.30%,#00a6ff 31.90%,#0087ff 33.49%,#0081ff 35.09%,#0081ff 36.68%,#0081ff 38.28%,#0082ff 39.87%,#00a3ff 41.47%,#00d3ff 43.06%,#00eeff 44.66%,#02fffd 46.25%,#00dfff 47.85%,#00adff 49.44%,#0041ff 51.04%,#0000fd 52.63%,#0000d5 54.23%,#0000b4 55.82%,#0000b4 57.42%,#0000b4 59.01%,#0000b4 60.61%,#0000c7 62.20%,#0000ef 63.80%,#0020ff 65.39%,#0054ff 66.99%,#008cff 68.58%,#00c2ff 70.18%,#00eaff 71.77%,#0efff1 73.37%,#2effd1 74.96%,#4effb1 76.56%,#6eff91 78.15%,#8dff72 79.74%,#a8ff57 81.34%,#c0ff3f 82.93%,#d5ff2a 84.53%,#e3ff1c 86.12%,#ebff14 87.72%,#efff10 89.31%,#f3ff0c 90.91%,#f7ff08 92.50%,#fbff04 94.10%,#feff01 95.69%,#feff01 97.29%,#feff01 98.88%,#feff01 100.00%)"></i><i style="background:linear-gradient(#aaff55 0.00%,#aaff55 1.59%,#aaff55 3.19%,#abff54 4.78%,#acff53 6.38%,#adff52 7.97%,#acff53 9.57%,#aaff55 11.16%,#9dff62 12.76%,#8eff71 14.35%,#7eff81 15.95%,#6eff91 17.54%,#5dffa2 19.14%,#4cffb3 20.73%,#3effc1 22.33%,#30ffcf 23.92%,#22ffdd 25.52%,#0efff1 27.11%,#00efff 28.71%,#00d1ff 30.30%,#00aeff 31.90%,#008fff 33.49%,#0087ff 35.09%,#0087ff 36.68%,#0087ff 38.28%,#0089ff 39.87%,#00abff 41.47%,#00d7ff 43.06%,#00f0ff 44.66%,#04fffb 46.25%,#00e1ff 47.85%,#00b0ff 49.44%,#0044ff 51.04%,#0002ff 52.63%,#0000dc 54.23%,#0000be 55.82%,#0000be 57.42%,#0000be 59.01%,#0000be 60.61%,#0000d0 62.20%,#0000f5 63.80%,#0024ff 65.39%,#0057ff 66.99%,#008eff 68.58%,#00c4ff 70.18%,#00ecff 71.77%,#0efff1 73.37%,#2dffd2 74.96%,#4dffb2 76.56%,#6dff92 78.15%,#8bff74 79.74%,#a4ff5b 81.34%,#bbff44 82.93%,#cfff30 84.53%,#dcff23 86.12%,#e3ff1c 87.72%,#e7ff18 89.31%,#ecff13 90.91%,#f0ff0f 92.50%,#f4ff0b 94.10%,#f8ff07 95.69%,#f8ff07 97.29%,#f8ff07 98.88%,#f8ff07 100.00%)"></i><i style="background:linear-gradient(#aaff55 0.00%,#aaff55 1.59%,#aaff55 3.19%,#aaff55 4.78%,#abff54 6.38%,#acff53 7.97%,#abff54 9.57%,#aaff55 11.16%,#9dff62 12.76%,#8dff72 14.35%,#7dff82 15.95%,#6eff91 17.54%,#5effa1 19.14%,#4effb1 20.73%,#40ffbf 22.33%,#33ffcc 23.92%,#25ffda 25.52%,#12ffed 27.11%,#00f4ff 28.71%,#00d7ff 30.30%,#00b6ff 31.90%,#0096ff 33.49%,#008dff 35.09%,#008dff 36.68%,#008dff 38.28%,#008fff 39.87%,#00b2ff 41.47%,#00dbff 43.06%,#00f3ff 44.66%,#07fff8 46.25%,#00e4ff 47.85%,#00b3ff 49.44%,#0047ff 51.04%,#0006ff 52.63%,#0000e3 54.23%,#0000c8 55.82%,#0000c8 57.42%,#0000c8 59.01%,#0000c8 60.61%,#0000d8 62.20%,#0000fa 63.80%,#0028ff 65.39%,#0059ff 66.99%,#0090ff 68.58%,#00c6ff 70.18%,#00eeff 71.77%,#0efff1 73.37%,#2dffd2 74.96%,#4cffb3 76.56%,#6bff94 78.15%,#88ff77 79.74%,#a0ff5f 81.34%,#b6ff49 82.93%,#caff35 84.53%,#d6ff29 86.12%,#dcff23 87.72%,#e0ff1f 89.31%,#e5ff1a 90.91%,#e9ff16 92.50%,#eeff11 94.10%,#f2ff0d 95.69%,#f2ff0d 97.29%,#f2ff0d 98.88%,#f2ff0d 100.00%)"></i><i style="background:linear-gradient(#aaff55 0.00%,#aaff55 1.59%,#aaff55 3.19%,#aaff55 4.78%,#aaff55 6.38%,#aaff55 7.97%,#aaff55 9.57%,#aaff55 11.16%,#9dff62 12.76%,#8dff72 14.35%,#7dff82 15.95%,#6eff91 17.54%,#5fffa0 19.14%,#50ffaf 20.73%,#43ffbc 22.33%,#35ffca 23.92%,#28ffd7 25.52%,#15ffea 27.11%,#00f9ff 28.71%,#00ddff 30.30%,#00beff 31.90%,#009eff 33.49%,#0093ff 35.09%,#0093ff 36.68%,#0093ff 38.28%,#0096ff 39.87%,#00baff 41.47%,#00dfff 43.06%,#00f6ff 44.66%,#09fff6 46.25%,#00e7ff 47.85%,#00b6ff 49.44%,#004aff 51.04%,#000bff 52.63%,#0000ea 54.23%,#0000d2 55.82%,#0000d2 57.42%,#0000d2 59.01%,#0000d2 60.61%,#0000e1 62.20%,#0001ff 63.80%,#002cff 65.39%,#005cff 66.99%,#0092ff 68.58%,#00c8ff 70.18%,#00f0ff 71.77%,#0efff1 73.37%,#2cffd3 74.96%,#4bffb4 76.56%,#69ff96 78.15%,#86ff79 79.74%,#9bff64 81.34%,#b0ff4f 82.93%,#c5ff3a 84.53%,#cfff30 86.12%,#d4ff2b 87.72%,#d9ff26 89.31%,#deff21 90.91%,#e3ff1c 92.50%,#e8ff17 94.10%,#ebff14 95.69%,#ebff14 97.29%,#ebff14 98.88%,#ebff14 100.00%)"></i><i style="background:linear-gradient(#b1ff4e 0.00%,#b1ff4e 1.59%,#b1ff4e 3.19%,#b1ff4e 4.78%,#b1ff4e 6.38%,#b1ff4e 7.97%,#b1ff4e 9.57%,#b1ff4e 11.16%,#a4ff5b 12.76%,#94ff6b 14.35%,#85ff7a 15.95%,#75ff8a 17.54%,#65ff9a 19.14%,#54ffab 20.73%,#46ffb9 22.33%,#38ffc7 23.92%,#2affd5 25.52%,#19ffe6 27.11%,#02fffd 28.71%,#00e9ff 30.30%,#00cdff 31.90%,#00b0ff 33.49%,#00a2ff 35.09%,#00a2ff 36.68%,#00a2ff 38.28%,#00a5ff 39.87%,#00c7ff 41.47%,#00eaff 43.06%,#00feff 44.66%,#0cfff3 46.25%,#00f1ff 47.85%,#00c5ff 49.44%,#005eff 51.04%,#0019ff 52.63%,#0000f4 54.23%,#0000de 55.82%,#0000de 57.42%,#0000de 59.01%,#0000de 60.61%,#0000e9 62.20%,#0008ff 63.80%,#0030ff 65.39%,#005cff 66.99%,#0094ff 68.58%,#00cbff 70.18%,#00f0ff 71.77%,#10ffef 73.37%,#2cffd3 74.96%,#48ffb7 76.56%,#64ff9b 78.15%,#7dff82 79.74%,#92ff6d 81.34%,#a6ff59 82.93%,#baff45 84.53%,#c6ff39 86.12%,#cdff32 87.72%,#d3ff2c 89.31%,#d8ff27 90.91%,#ddff22 92.50%,#e2ff1d 94.10%,#e6ff19 95.69%,#e6ff19 97.29%,#e6ff19 98.88%,#e6ff19 100.00%)"></i><i style="background:linear-gradient(#baff45 0.00%,#baff45 1.59%,#baff45 3.19%,#baff45 4.78%,#baff45 6.38%,#baff45 7.97%,#baff45 9.57%,#baff45 11.16%,#aeff51 12.76%,#9fff60 14.35%,#90ff6f 15.95%,#7eff81 17.54%,#6cff93 19.14%,#59ffa6 20.73%,#4affb5 22.33%,#3cffc3 23.92%,#2dffd2 25.52%,#1dffe2 27.11%,#0afff5 28.71%,#00f7ff 30.30%,#00dfff 31.90%,#00c7ff 33.49%,#00b4ff 35.09%,#00b4ff 36.68%,#00b4ff 38.28%,#00b7ff 39.87%,#00d8ff 41.47%,#00f8ff 43.06%,#08fff7 44.66%,#10ffef 46.25%,#00ffff 47.85%,#00d8ff 49.44%,#0077ff 51.04%,#002cff 52.63%,#0000ff 54.23%,#0000ec 55.82%,#0000ec 57.42%,#0000ec 59.01%,#0000ec 60.61%,#0000f0 62.20%,#0011ff 63.80%,#0035ff 65.39%,#005aff 66.99%,#0095ff 68.58%,#00ceff 70.18%,#00f1ff 71.77%,#13ffec 73.37%,#2cffd3 74.96%,#45ffba 76.56%,#5dffa2 78.15%,#73ff8c 79.74%,#87ff78 81.34%,#9aff65 82.93%,#adff52 84.53%,#bdff42 86.12%,#c7ff38 87.72%,#ccff33 89.31%,#d2ff2d 90.91%,#d8ff27 92.50%,#ddff22 94.10%,#e2ff1d 95.69%,#e2ff1d 97.29%,#e2ff1d 98.88%,#e2ff1d 100.00%)"></i><i style="background:linear-gradient(#beff41 0.00%,#beff41 1.59%,#beff41 3.19%,#beff41 4.78%,#beff41 6.38%,#beff41 7.97%,#bdff42 9.57%,#bbff44 11.16%,#b0ff4f 12.76%,#a2ff5d 14.35%,#94ff6b 15.95%,#82ff7d 17.54%,#6fff90 19.14%,#5cffa3 20.73%,#4cffb3 22.33%,#3effc1 23.92%,#2fffd0 25.52%,#20ffdf 27.11%,#11ffee 28.71%,#02fffd 30.30%,#00ecff 31.90%,#00d8ff 33.49%,#00c4ff 35.09%,#00c4ff 36.68%,#00c4ff 38.28%,#00c7ff 39.87%,#00e6ff 41.47%,#05fffa 43.06%,#11ffee 44.66%,#15ffea 46.25%,#0bfff4 47.85%,#00e5ff 49.44%,#0089ff 51.04%,#003aff 52.63%,#000aff 54.23%,#0000f7 55.82%,#0000f7 57.42%,#0000f7 59.01%,#0000f7 60.61%,#0000f7 62.20%,#0018ff 63.80%,#0038ff 65.39%,#005aff 66.99%,#0097ff 68.58%,#00d0ff 70.18%,#00f2ff 71.77%,#14ffeb 73.37%,#2dffd2 74.96%,#43ffbc 76.56%,#58ffa7 78.15%,#6cff93 79.74%,#7fff80 81.34%,#92ff6d 82.93%,#a4ff5b 84.53%,#b6ff49 86.12%,#c2ff3d 87.72%,#c8ff37 89.31%,#ceff31 90.91%,#d4ff2b 92.50%,#daff25 94.10%,#dfff20 95.69%,#dfff20 97.29%,#dfff20 98.88%,#dfff20 100.00%)"></i><i style="background:linear-gradient(#bbff44 0.00%,#bbff44 1.59%,#bbff44 3.19%,#bbff44 4.78%,#bbff44 6.38%,#baff45 7.97%,#b6ff49 9.57%,#b2ff4d 11.16%,#a7ff58 12.76%,#9bff64 14.35%,#8fff70 15.95%,#7eff81 17.54%,#6cff93 19.14%,#5affa5 20.73%,#4cffb3 22.33%,#3effc1 23.92%,#30ffcf 25.52%,#22ffdd 27.11%,#14ffeb 28.71%,#06fff9 30.30%,#00f3ff 31.90%,#00e2ff 33.49%,#00d1ff 35.09%,#00d1ff 36.68%,#00d1ff 38.28%,#00d3ff 39.87%,#00f0ff 41.47%,#0ffff0 43.06%,#19ffe6 44.66%,#1dffe2 46.25%,#11ffee 47.85%,#00e8ff 49.44%,#008fff 51.04%,#0042ff 52.63%,#0012ff 54.23%,#0000ff 55.82%,#0000ff 57.42%,#0000ff 59.01%,#0000ff 60.61%,#0000ff 62.20%,#001cff 63.80%,#003aff 65.39%,#005fff 66.99%,#0099ff 68.58%,#00d1ff 70.18%,#00f5ff 71.77%,#15ffea 73.37%,#2dffd2 74.96%,#44ffbb 76.56%,#58ffa7 78.15%,#6bff94 79.74%,#7eff81 81.34%,#91ff6e 82.93%,#a3ff5c 84.53%,#b5ff4a 86.12%,#c0ff3f 87.72%,#c7ff38 89.31%,#cdff32 90.91%,#d4ff2b 92.50%,#daff25 94.10%,#dfff20 95.69%,#dfff20 97.29%,#dfff20 98.88%,#dfff20 100.00%)"></i><i style="background:linear-gradient(#b8ff47 0.00%,#b8ff47 1.59%,#b8ff47 3.19%,#b8ff47 4.78%,#b8ff47 6.38%,#b6ff49 7.97%,#afff50 9.57%,#a8ff57 11.16%,#9eff61 12.76%,#94ff6b 14.35%,#89ff76 15.95%,#79ff86 17.54%,#69ff96 19.14%,#58ffa7 20.73%,#4bffb4 22.33%,#3effc1 23.92%,#31ffce 25.52%,#24ffdb 27.11%,#17ffe8 28.71%,#09fff6 30.30%,#00faff 31.90%,#00ebff 33.49%,#00ddff 35.09%,#00ddff 36.68%,#00ddff 38.28%,#00e0ff 39.87%,#00fbff 41.47%,#18ffe7 43.06%,#21ffde 44.66%,#24ffdb 46.25%,#17ffe8 47.85%,#00ecff 49.44%,#0095ff 51.04%,#004aff 52.63%,#001aff 54.23%,#0008ff 55.82%,#0008ff 57.42%,#0008ff 59.01%,#0008ff 60.61%,#0008ff 62.20%,#0021ff 63.80%,#003dff 65.39%,#0063ff 66.99%,#009bff 68.58%,#00d1ff 70.18%,#00f8ff 71.77%,#16ffe9 73.37%,#2effd1 74.96%,#44ffbb 76.56%,#58ffa7 78.15%,#6aff95 79.74%,#7dff82 81.34%,#8fff70 82.93%,#a1ff5e 84.53%,#b3ff4c 86.12%,#bfff40 87.72%,#c6ff39 89.31%,#ccff33 90.91%,#d3ff2c 92.50%,#daff25 94.10%,#dfff20 95.69%,#dfff20 97.29%,#dfff20 98.88%,#dfff20 100.00%)"></i><i style="background:linear-gradient(#b5ff4a 0.00%,#b5ff4a 1.59%,#b5ff4a 3.19%,#b5ff4a 4.78%,#b5ff4a 6.38%,#b3ff4c 7.97%,#a9ff56 9.57%,#9fff60 11.16%,#95ff6a 12.76%,#8cff73 14.35%,#83ff7c 15.95%,#75ff8a 17.54%,#66ff99 19.14%,#56ffa9 20.73%,#4affb5 22.33%,#3effc1 23.92%,#32ffcd 25.52%,#26ffd9 27.11%,#1affe5 28.71%,#0dfff2 30.30%,#02fffd 31.90%,#00f5ff 33.49%,#00eaff 35.09%,#00eaff 36.68%,#00eaff 38.28%,#00ecff 39.87%,#07fff8 41.47%,#21ffde 43.06%,#29ffd6 44.66%,#2cffd3 46.25%,#1dffe2 47.85%,#00efff 49.44%,#009bff 51.04%,#0052ff 52.63%,#0022ff 54.23%,#0010ff 55.82%,#0010ff 57.42%,#0010ff 59.01%,#0010ff 60.61%,#0010ff 62.20%,#0026ff 63.80%,#003fff 65.39%,#0067ff 66.99%,#009eff 68.58%,#00d2ff 70.18%,#00fbff 71.77%,#17ffe8 73.37%,#2effd1 74.96%,#44ffbb 76.56%,#57ffa8 78.15%,#69ff96 79.74%,#7cff83 81.34%,#8eff71 82.93%,#a0ff5f 84.53%,#b2ff4d 86.12%,#beff41 87.72%,#c5ff3a 89.31%,#ccff33 90.91%,#d3ff2c 92.50%,#daff25 94.10%,#dfff20 95.69%,#dfff20 97.29%,#dfff20 98.88%,#dfff20 100.00%)"></i><i style="background:linear-gradient(#b1ff4e 0.00%,#b1ff4e 1.59%,#b1ff4e 3.19%,#b1ff4e 4.78%,#b1ff4e 6.38%,#afff50 7.97%,#a2ff5d 9.57%,#95ff6a 11.16%,#8dff72 12.76%,#85ff7a 14.35%,#7eff81 15.95%,#71ff8e 17.54%,#63ff9c 19.14%,#55ffaa 20.73%,#49ffb6 22.33%,#3effc1 23.92%,#33ffcc 25.52%,#28ffd7 27.11%,#1dffe2 28.71%,#11ffee 30.30%,#08fff7 31.90%,#00ffff 33.49%,#00f6ff 35.09%,#00f6ff 36.68%,#00f6ff 38.28%,#00f8ff 39.87%,#11ffee 41.47%,#2affd5 43.06%,#32ffcd 44.66%,#33ffcc 46.25%,#23ffdc 47.85%,#00f3ff 49.44%,#00a1ff 51.04%,#005aff 52.63%,#002aff 54.23%,#0018ff 55.82%,#0018ff 57.42%,#0018ff 59.01%,#0018ff 60.61%,#0018ff 62.20%,#002aff 63.80%,#0041ff 65.39%,#006bff 66.99%,#00a0ff 68.58%,#00d3ff 70.18%,#00fdff 71.77%,#18ffe7 73.37%,#2fffd0 74.96%,#45ffba 76.56%,#57ffa8 78.15%,#69ff96 79.74%,#7aff85 81.34%,#8cff73 82.93%,#9eff61 84.53%,#b0ff4f 86.12%,#bcff43 87.72%,#c4ff3b 89.31%,#cbff34 90.91%,#d2ff2d 92.50%,#d9ff26 94.10%,#dfff20 95.69%,#dfff20 97.29%,#dfff20 98.88%,#dfff20 100.00%)"></i><i style="background:linear-gradient(#aeff51 0.00%,#aeff51 1.59%,#aeff51 3.19%,#aeff51 4.78%,#aeff51 6.38%,#abff54 7.97%,#9bff64 9.57%,#8bff74 11.16%,#84ff7b 12.76%,#7eff81 14.35%,#78ff87 15.95%,#6cff93 17.54%,#60ff9f 19.14%,#53ffac 20.73%,#49ffb6 22.33%,#3effc1 23.92%,#34ffcb 25.52%,#2affd5 27.11%,#20ffdf 28.71%,#15ffea 30.30%,#0ffff0 31.90%,#09fff6 33.49%,#04fffb 35.09%,#04fffb 36.68%,#04fffb 38.28%,#06fff9 39.87%,#1cffe3 41.47%,#33ffcc 43.06%,#3affc5 44.66%,#3bffc4 46.25%,#29ffd6 47.85%,#00f6ff 49.44%,#00a7ff 51.04%,#0061ff 52.63%,#0031ff 54.23%,#0020ff 55.82%,#0020ff 57.42%,#0020ff 59.01%,#0020ff 60.61%,#0020ff 62.20%,#002fff 63.80%,#0043ff 65.39%,#0070ff 66.99%,#00a2ff 68.58%,#00d4ff 70.18%,#01fffe 71.77%,#19ffe6 73.37%,#30ffcf 74.96%,#45ffba 76.56%,#57ffa8 78.15%,#68ff97 79.74%,#79ff86 81.34%,#8aff75 82.93%,#9cff63 84.53%,#aeff51 86.12%,#bbff44 87.72%,#c2ff3d 89.31%,#caff35 90.91%,#d2ff2d 92.50%,#d9ff26 94.10%,#dfff20 95.69%,#dfff20 97.29%,#dfff20 98.88%,#dfff20 100.00%)"></i><i style="background:linear-gradient(#abff54 0.00%,#abff54 1.59%,#abff54 3.19%,#abff54 4.78%,#abff54 6.38%,#a8ff57 7.97%,#95ff6a 9.57%,#82ff7d 11.16%,#7bff84 12.76%,#77ff88 14.35%,#72ff8d 15.95%,#68ff97 17.54%,#5dffa2 19.14%,#51ffae 20.73%,#48ffb7 22.33%,#3fffc0 23.92%,#35ffca 25.52%,#2cffd3 27.11%,#22ffdd 28.71%,#19ffe6 30.30%,#16ffe9 31.90%,#13ffec 33.49%,#10ffef 35.09%,#10ffef 36.68%,#10ffef 38.28%,#12ffed 39.87%,#27ffd8 41.47%,#3cffc3 43.06%,#42ffbd 44.66%,#42ffbd 46.25%,#2fffd0 47.85%,#00faff 49.44%,#00adff 51.04%,#0069ff 52.63%,#0039ff 54.23%,#0027ff 55.82%,#0027ff 57.42%,#0027ff 59.01%,#0027ff 60.61%,#0027ff 62.20%,#0033ff 63.80%,#0045ff 65.39%,#0074ff 66.99%,#00a5ff 68.58%,#00d4ff 70.18%,#04fffb 71.77%,#1affe5 73.37%,#30ffcf 74.96%,#45ffba 76.56%,#56ffa9 78.15%,#67ff98 79.74%,#78ff87 81.34%,#89ff76 82.93%,#9bff64 84.53%,#adff52 86.12%,#b9ff46 87.72%,#c1ff3e 89.31%,#c9ff36 90.91%,#d1ff2e 92.50%,#d9ff26 94.10%,#dfff20 95.69%,#dfff20 97.29%,#dfff20 98.88%,#dfff20 100.00%)"></i><i style="background:linear-gradient(#aaff55 0.00%,#aaff55 1.59%,#aaff55 3.19%,#a9ff56 4.78%,#a8ff57 6.38%,#a4ff5b 7.97%,#91ff6e 9.57%,#7eff81 11.16%,#78ff87 12.76%,#74ff8b 14.35%,#70ff8f 15.95%,#67ff98 17.54%,#5dffa2 19.14%,#53ffac 20.73%,#4affb5 22.33%,#41ffbe 23.92%,#38ffc7 25.52%,#2fffd0 27.11%,#26ffd9 28.71%,#1dffe2 30.30%,#1cffe3 31.90%,#1bffe4 33.49%,#19ffe6 35.09%,#1affe5 36.68%,#1affe5 38.28%,#1cffe3 39.87%,#2fffd0 41.47%,#41ffbe 43.06%,#46ffb9 44.66%,#43ffbc 46.25%,#30ffcf 47.85%,#00fdff 49.44%,#00b4ff 51.04%,#0073ff 52.63%,#0044ff 54.23%,#0031ff 55.82%,#002eff 57.42%,#002eff 59.01%,#002eff 60.61%,#002eff 62.20%,#003bff 63.80%,#004dff 65.39%,#007bff 66.99%,#00aaff 68.58%,#00d8ff 70.18%,#05fffa 71.77%,#1bffe4 73.37%,#30ffcf 74.96%,#46ffb9 76.56%,#56ffa9 78.15%,#67ff98 79.74%,#77ff88 81.34%,#88ff77 82.93%,#99ff66 84.53%,#aaff55 86.12%,#b7ff48 87.72%,#bfff40 89.31%,#c8ff37 90.91%,#d0ff2f 92.50%,#d8ff27 94.10%,#dfff20 95.69%,#dfff20 97.29%,#dfff20 98.88%,#dfff20 100.00%)"></i><i style="background:linear-gradient(#aaff55 0.00%,#aaff55 1.59%,#aaff55 3.19%,#a8ff57 4.78%,#a5ff5a 6.38%,#a0ff5f 7.97%,#90ff6f 9.57%,#7fff80 11.16%,#79ff86 12.76%,#75ff8a 14.35%,#71ff8e 15.95%,#69ff96 17.54%,#60ff9f 19.14%,#58ffa7 20.73%,#4fffb0 22.33%,#46ffb9 23.92%,#3dffc2 25.52%,#34ffcb 27.11%,#2bffd4 28.71%,#22ffdd 30.30%,#21ffde 31.90%,#21ffde 33.49%,#20ffdf 35.09%,#21ffde 36.68%,#22ffdd 38.28%,#25ffda 39.87%,#34ffcb 41.47%,#43ffbc 43.06%,#48ffb7 44.66%,#40ffbf 46.25%,#2cffd3 47.85%,#00ffff 49.44%,#00beff 51.04%,#007dff 52.63%,#0051ff 54.23%,#003bff 55.82%,#0035ff 57.42%,#0035ff 59.01%,#0035ff 60.61%,#0035ff 62.20%,#0044ff 63.80%,#0058ff 65.39%,#0084ff 66.99%,#00b1ff 68.58%,#00ddff 70.18%,#05fffa 71.77%,#1bffe4 73.37%,#31ffce 74.96%,#45ffba 76.56%,#56ffa9 78.15%,#66ff99 79.74%,#77ff88 81.34%,#87ff78 82.93%,#97ff68 84.53%,#a7ff58 86.12%,#b3ff4c 87.72%,#bcff43 89.31%,#c6ff39 90.91%,#cfff30 92.50%,#d8ff27 94.10%,#dfff20 95.69%,#dfff20 97.29%,#dfff20 98.88%,#dfff20 100.00%)"></i><i style="background:linear-gradient(#aaff55 0.00%,#aaff55 1.59%,#aaff55 3.19%,#a7ff58 4.78%,#a3ff5c 6.38%,#9cff63 7.97%,#8eff71 9.57%,#80ff7f 11.16%,#7aff85 12.76%,#76ff89 14.35%,#72ff8d 15.95%,#6bff94 17.54%,#63ff9c 19.14%,#5cffa3 20.73%,#53ffac 22.33%,#4affb5 23.92%,#41ffbe 25.52%,#38ffc7 27.11%,#2fffd0 28.71%,#26ffd9 30.30%,#26ffd9 31.90%,#27ffd8 33.49%,#27ffd8 35.09%,#28ffd7 36.68%,#2affd5 38.28%,#2dffd2 39.87%,#3affc5 41.47%,#46ffb9 43.06%,#49ffb6 44.66%,#3dffc2 46.25%,#28ffd7 47.85%,#03fffc 49.44%,#00c7ff 51.04%,#0088ff 52.63%,#005eff 54.23%,#0045ff 55.82%,#003cff 57.42%,#003cff 59.01%,#003cff 60.61%,#003cff 62.20%,#004eff 63.80%,#0064ff 65.39%,#008cff 66.99%,#00b8ff 68.58%,#00e2ff 70.18%,#05fffa 71.77%,#1bffe4 73.37%,#31ffce 74.96%,#45ffba 76.56%,#56ffa9 78.15%,#66ff99 79.74%,#77ff88 81.34%,#87ff78 82.93%,#95ff6a 84.53%,#a4ff5b 86.12%,#b0ff4f 87.72%,#baff45 89.31%,#c4ff3b 90.91%,#cdff32 92.50%,#d7ff28 94.10%,#dfff20 95.69%,#dfff20 97.29%,#dfff20 98.88%,#dfff20 100.00%)"></i><i style="background:linear-gradient(#aaff55 0.00%,#aaff55 1.59%,#aaff55 3.19%,#a6ff59 4.78%,#a0ff5f 6.38%,#98ff67 7.97%,#8cff73 9.57%,#80ff7f 11.16%,#7bff84 12.76%,#76ff89 14.35%,#72ff8d 15.95%,#6cff93 17.54%,#66ff99 19.14%,#60ff9f 20.73%,#57ffa8 22.33%,#4effb1 23.92%,#45ffba 25.52%,#3cffc3 27.11%,#33ffcc 28.71%,#2affd5 30.30%,#2cffd3 31.90%,#2dffd2 33.49%,#2effd1 35.09%,#30ffcf 36.68%,#32ffcd 38.28%,#36ffc9 39.87%,#3fffc0 41.47%,#48ffb7 43.06%,#4bffb4 44.66%,#3affc5 46.25%,#24ffdb 47.85%,#06fff9 49.44%,#00d0ff 51.04%,#0093ff 52.63%,#006bff 54.23%,#004fff 55.82%,#0042ff 57.42%,#0042ff 59.01%,#0042ff 60.61%,#0042ff 62.20%,#0057ff 63.80%,#006fff 65.39%,#0095ff 66.99%,#00bfff 68.58%,#00e7ff 70.18%,#05fffa 71.77%,#1bffe4 73.37%,#32ffcd 74.96%,#45ffba 76.56%,#56ffa9 78.15%,#66ff99 79.74%,#77ff88 81.34%,#86ff79 82.93%,#93ff6c 84.53%,#a0ff5f 86.12%,#acff53 87.72%,#b7ff48 89.31%,#c2ff3d 90.91%,#ccff33 92.50%,#d7ff28 94.10%,#dfff20 95.69%,#dfff20 97.29%,#dfff20 98.88%,#dfff20 100.00%)"></i><i style="background:linear-gradient(#aaff55 0.00%,#aaff55 1.59%,#aaff55 3.19%,#a5ff5a 4.78%,#9dff62 6.38%,#94ff6b 7.97%,#8bff74 9.57%,#81ff7e 11.16%,#7cff83 12.76%,#77ff88 14.35%,#73ff8c 15.95%,#6eff91 17.54%,#69ff96 19.14%,#64ff9b 20.73%,#5cffa3 22.33%,#53ffac 23.92%,#4affb5 25.52%,#41ffbe 27.11%,#38ffc7 28.71%,#2fffd0 30.30%,#31ffce 31.90%,#33ffcc 33.49%,#35ffca 35.09%,#37ffc8 36.68%,#3affc5 38.28%,#3fffc0 39.87%,#45ffba 41.47%,#4bffb4 43.06%,#4cffb3 44.66%,#37ffc8 46.25%,#21ffde 47.85%,#09fff6 49.44%,#00daff 51.04%,#009dff 52.63%,#0078ff 54.23%,#0059ff 55.82%,#0049ff 57.42%,#0049ff 59.01%,#0049ff 60.61%,#0049ff 62.20%,#0060ff 63.80%,#007bff 65.39%,#009eff 66.99%,#00c6ff 68.58%,#00ecff 70.18%,#05fffa 71.77%,#1cffe3 73.37%,#32ffcd 74.96%,#45ffba 76.56%,#56ffa9 78.15%,#66ff99 79.74%,#77ff88 81.34%,#85ff7a 82.93%,#91ff6e 84.53%,#9dff62 86.12%,#a9ff56 87.72%,#b4ff4b 89.31%,#bfff40 90.91%,#cbff34 92.50%,#d6ff29 94.10%,#dfff20 95.69%,#dfff20 97.29%,#dfff20 98.88%,#dfff20 100.00%)"></i><i style="background:linear-gradient(#b7ff48 0.00%,#b7ff48 1.59%,#b7ff48 3.19%,#b2ff4d 4.78%,#aaff55 6.38%,#a2ff5d 7.97%,#9aff65 9.57%,#92ff6d 11.16%,#8aff75 12.76%,#83ff7c 14.35%,#7bff84 15.95%,#74ff8b 17.54%,#6dff92 19.14%,#66ff99 20.73%,#5dffa2 22.33%,#53ffac 23.92%,#4affb5 25.52%,#40ffbf 27.11%,#37ffc8 28.71%,#30ffcf 30.30%,#31ffce 31.90%,#33ffcc 33.49%,#34ffcb 35.09%,#35ffca 36.68%,#39ffc6 38.28%,#3fffc0 39.87%,#45ffba 41.47%,#4bffb4 43.06%,#4dffb2 44.66%,#37ffc8 46.25%,#21ffde 47.85%,#0bfff4 49.44%,#00e0ff 51.04%,#00a8ff 52.63%,#0085ff 54.23%,#0068ff 55.82%,#0052ff 57.42%,#0051ff 59.01%,#0051ff 60.61%,#0055ff 62.20%,#006aff 63.80%,#0086ff 65.39%,#00a7ff 66.99%,#00ccff 68.58%,#00efff 70.18%,#08fff7 71.77%,#1dffe2 73.37%,#32ffcd 74.96%,#45ffba 76.56%,#55ffaa 78.15%,#65ff9a 79.74%,#75ff8a 81.34%,#85ff7a 82.93%,#93ff6c 84.53%,#a2ff5d 86.12%,#b0ff4f 87.72%,#bdff42 89.31%,#c7ff38 90.91%,#d1ff2e 92.50%,#dcff23 94.10%,#e3ff1c 95.69%,#e3ff1c 97.29%,#e3ff1c 98.88%,#e3ff1c 100.00%)"></i><i style="background:linear-gradient(#c8ff37 0.00%,#c8ff37 1.59%,#c8ff37 3.19%,#c4ff3b 4.78%,#bdff42 6.38%,#b6ff49 7.97%,#afff50 9.57%,#a9ff56 11.16%,#9eff61 12.76%,#92ff6d 14.35%,#87ff78 15.95%,#7cff83 17.54%,#72ff8d 19.14%,#68ff97 20.73%,#5dffa2 22.33%,#53ffac 23.92%,#49ffb6 25.52%,#3fffc0 27.11%,#34ffcb 28.71%,#30ffcf 30.30%,#30ffcf 31.90%,#30ffcf 33.49%,#30ffcf 35.09%,#30ffcf 36.68%,#36ffc9 38.28%,#3dffc2 39.87%,#43ffbc 41.47%,#4affb5 43.06%,#4dffb2 44.66%,#38ffc7 46.25%,#23ffdc 47.85%,#0efff1 49.44%,#00e6ff 51.04%,#00b2ff 52.63%,#0093ff 54.23%,#0077ff 55.82%,#005dff 57.42%,#0059ff 59.01%,#005aff 60.61%,#0062ff 62.20%,#0073ff 63.80%,#0092ff 65.39%,#00b2ff 66.99%,#00d2ff 68.58%,#00f2ff 70.18%,#0bfff4 71.77%,#1fffe0 73.37%,#33ffcc 74.96%,#44ffbb 76.56%,#54ffab 78.15%,#63ff9c 79.74%,#73ff8c 81.34%,#84ff7b 82.93%,#96ff69 84.53%,#a9ff56 86.12%,#bcff43 87.72%,#cbff34 89.31%,#d3ff2c 90.91%,#dbff24 92.50%,#e3ff1c 94.10%,#e9ff16 95.69%,#e9ff16 97.29%,#e9ff16 98.88%,#e9ff16 100.00%)"></i><i style="background:linear-gradient(#c5ff3a 0.00%,#c5ff3a 1.59%,#c5ff3a 3.19%,#c1ff3e 4.78%,#baff45 6.38%,#b3ff4c 7.97%,#acff53 9.57%,#a4ff5b 11.16%,#9bff64 12.76%,#90ff6f 14.35%,#86ff79 15.95%,#7cff83 17.54%,#72ff8d 19.14%,#68ff97 20.73%,#5fffa0 22.33%,#55ffaa 23.92%,#4cffb3 25.52%,#43ffbc 27.11%,#3affc5 28.71%,#36ffc9 30.30%,#37ffc8 31.90%,#38ffc7 33.49%,#38ffc7 35.09%,#39ffc6 36.68%,#3fffc0 38.28%,#46ffb9 39.87%,#4dffb2 41.47%,#54ffab 43.06%,#57ffa8 44.66%,#40ffbf 46.25%,#28ffd7 47.85%,#11ffee 49.44%,#00eaff 51.04%,#00b8ff 52.63%,#0098ff 54.23%,#007eff 55.82%,#0064ff 57.42%,#005eff 59.01%,#005fff 60.61%,#0067ff 62.20%,#0076ff 63.80%,#0096ff 65.39%,#00b6ff 66.99%,#00d5ff 68.58%,#00f4ff 70.18%,#0dfff2 71.77%,#20ffdf 73.37%,#33ffcc 74.96%,#44ffbb 76.56%,#54ffab 78.15%,#63ff9c 79.74%,#72ff8d 81.34%,#83ff7c 82.93%,#95ff6a 84.53%,#a8ff57 86.12%,#baff45 87.72%,#c9ff36 89.31%,#d0ff2f 90.91%,#d8ff27 92.50%,#dfff20 94.10%,#e5ff1a 95.69%,#e5ff1a 97.29%,#e5ff1a 98.88%,#e5ff1a 100.00%)"></i><i style="background:linear-gradient(#c0ff3f 0.00%,#c0ff3f 1.59%,#c0ff3f 3.19%,#bcff43 4.78%,#b4ff4b 6.38%,#acff53 7.97%,#a4ff5b 9.57%,#9dff62 11.16%,#95ff6a 12.76%,#8cff73 14.35%,#84ff7b 15.95%,#7bff84 17.54%,#72ff8d 19.14%,#69ff96 20.73%,#60ff9f 22.33%,#58ffa7 23.92%,#50ffaf 25.52%,#48ffb7 27.11%,#40ffbf 28.71%,#3effc1 30.30%,#3fffc0 31.90%,#40ffbf 33.49%,#42ffbd 35.09%,#43ffbc 36.68%,#4affb5 38.28%,#51ffae 39.87%,#58ffa7 41.47%,#5fffa0 43.06%,#62ff9d 44.66%,#48ffb7 46.25%,#2effd1 47.85%,#15ffea 49.44%,#00edff 51.04%,#00beff 52.63%,#009dff 54.23%,#0083ff 55.82%,#006aff 57.42%,#0063ff 59.01%,#0064ff 60.61%,#006aff 62.20%,#0079ff 63.80%,#0099ff 65.39%,#00b9ff 66.99%,#00d8ff 68.58%,#00f6ff 70.18%,#0efff1 71.77%,#21ffde 73.37%,#34ffcb 74.96%,#45ffba 76.56%,#54ffab 78.15%,#63ff9c 79.74%,#72ff8d 81.34%,#83ff7c 82.93%,#94ff6b 84.53%,#a5ff5a 86.12%,#b6ff49 87.72%,#c4ff3b 89.31%,#ccff33 90.91%,#d3ff2c 92.50%,#daff25 94.10%,#e0ff1f 95.69%,#e0ff1f 97.29%,#e0ff1f 98.88%,#e0ff1f 100.00%)"></i><i style="background:linear-gradient(#bbff44 0.00%,#bbff44 1.59%,#bbff44 3.19%,#b6ff49 4.78%,#aeff51 6.38%,#a6ff59 7.97%,#9dff62 9.57%,#95ff6a 11.16%,#8eff71 12.76%,#88ff77 14.35%,#82ff7d 15.95%,#7bff84 17.54%,#72ff8d 19.14%,#6aff95 20.73%,#62ff9d 22.33%,#5bffa4 23.92%,#54ffab 25.52%,#4dffb2 27.11%,#47ffb8 28.71%,#45ffba 30.30%,#47ffb8 31.90%,#49ffb6 33.49%,#4bffb4 35.09%,#4effb1 36.68%,#54ffab 38.28%,#5bffa4 39.87%,#63ff9c 41.47%,#6aff95 43.06%,#6dff92 44.66%,#51ffae 46.25%,#35ffca 47.85%,#19ffe6 49.44%,#00f1ff 51.04%,#00c3ff 52.63%,#00a1ff 54.23%,#0089ff 55.82%,#0070ff 57.42%,#0067ff 59.01%,#0068ff 60.61%,#006eff 62.20%,#007cff 63.80%,#009cff 65.39%,#00bdff 66.99%,#00daff 68.58%,#00f8ff 70.18%,#10ffef 71.77%,#22ffdd 73.37%,#34ffcb 74.96%,#45ffba 76.56%,#54ffab 78.15%,#63ff9c 79.74%,#72ff8d 81.34%,#82ff7d 82.93%,#92ff6d 84.53%,#a3ff5c 86.12%,#b3ff4c 87.72%,#c0ff3f 89.31%,#c7ff38 90.91%,#ceff31 92.50%,#d5ff2a 94.10%,#dbff24 95.69%,#dbff24 97.29%,#dbff24 98.88%,#dbff24 100.00%)"></i><i style="background:linear-gradient(#b6ff49 0.00%,#b6ff49 1.59%,#b6ff49 3.19%,#b1ff4e 4.78%,#a8ff57 6.38%,#9fff60 7.97%,#96ff69 9.57%,#8dff72 11.16%,#88ff77 12.76%,#84ff7b 14.35%,#7fff80 15.95%,#7aff85 17.54%,#72ff8d 19.14%,#6bff94 20.73%,#63ff9c 22.33%,#5dffa2 23.92%,#58ffa7 25.52%,#52ffad 27.11%,#4dffb2 28.71%,#4cffb3 30.30%,#4fffb0 31.90%,#52ffad 33.49%,#55ffaa 35.09%,#58ffa7 36.68%,#5fffa0 38.28%,#66ff99 39.87%,#6eff91 41.47%,#75ff8a 43.06%,#78ff87 44.66%,#59ffa6 46.25%,#3bffc4 47.85%,#1cffe3 49.44%,#00f5ff 51.04%,#00c8ff 52.63%,#00a6ff 54.23%,#008eff 55.82%,#0077ff 57.42%,#006bff 59.01%,#006dff 60.61%,#0071ff 62.20%,#007fff 63.80%,#009fff 65.39%,#00c0ff 66.99%,#00ddff 68.58%,#00faff 70.18%,#11ffee 71.77%,#23ffdc 73.37%,#34ffcb 74.96%,#45ffba 76.56%,#54ffab 78.15%,#63ff9c 79.74%,#72ff8d 81.34%,#82ff7d 82.93%,#91ff6e 84.53%,#a0ff5f 86.12%,#afff50 87.72%,#bbff44 89.31%,#c2ff3d 90.91%,#c9ff36 92.50%,#d0ff2f 94.10%,#d6ff29 95.69%,#d6ff29 97.29%,#d6ff29 98.88%,#d6ff29 100.00%)"></i><i style="background:linear-gradient(#b0ff4f 0.00%,#b0ff4f 1.59%,#b0ff4f 3.19%,#abff54 4.78%,#a2ff5d 6.38%,#98ff67 7.97%,#8fff70 9.57%,#86ff79 11.16%,#82ff7d 12.76%,#7fff80 14.35%,#7dff82 15.95%,#79ff86 17.54%,#73ff8c 19.14%,#6cff93 20.73%,#65ff9a 22.33%,#60ff9f 23.92%,#5cffa3 25.52%,#58ffa7 27.11%,#53ffac 28.71%,#54ffab 30.30%,#57ffa8 31.90%,#5bffa4 33.49%,#5fffa0 35.09%,#62ff9d 36.68%,#69ff96 38.28%,#71ff8e 39.87%,#79ff86 41.47%,#80ff7f 43.06%,#83ff7c 44.66%,#62ff9d 46.25%,#41ffbe 47.85%,#20ffdf 49.44%,#00f8ff 51.04%,#00ceff 52.63%,#00aaff 54.23%,#0094ff 55.82%,#007dff 57.42%,#0070ff 59.01%,#0071ff 60.61%,#0075ff 62.20%,#0081ff 63.80%,#00a3ff 65.39%,#00c4ff 66.99%,#00e0ff 68.58%,#00fcff 70.18%,#12ffed 71.77%,#24ffdb 73.37%,#35ffca 74.96%,#45ffba 76.56%,#54ffab 78.15%,#63ff9c 79.74%,#72ff8d 81.34%,#81ff7e 82.93%,#8fff70 84.53%,#9dff62 86.12%,#abff54 87.72%,#b7ff48 89.31%,#beff41 90.91%,#c4ff3b 92.50%,#cbff34 94.10%,#d0ff2f 95.69%,#d0ff2f 97.29%,#d0ff2f 98.88%,#d0ff2f 100.00%)"></i><i style="background:linear-gradient(#abff54 0.00%,#abff54 1.59%,#abff54 3.19%,#a6ff59 4.78%,#9cff63 6.38%,#92ff6d 7.97%,#88ff77 9.57%,#7eff81 11.16%,#7cff83 12.76%,#7bff84 14.35%,#7bff84 15.95%,#79ff86 17.54%,#73ff8c 19.14%,#6cff93 20.73%,#66ff99 22.33%,#62ff9d 23.92%,#60ff9f 25.52%,#5dffa2 27.11%,#5affa5 28.71%,#5bffa4 30.30%,#60ff9f 31.90%,#64ff9b 33.49%,#68ff97 35.09%,#6dff92 36.68%,#74ff8b 38.28%,#7cff83 39.87%,#84ff7b 41.47%,#8bff74 43.06%,#8eff71 44.66%,#6aff95 46.25%,#47ffb8 47.85%,#23ffdc 49.44%,#00fcff 51.04%,#00d3ff 52.63%,#00afff 54.23%,#0099ff 55.82%,#0083ff 57.42%,#0074ff 59.01%,#0076ff 60.61%,#0078ff 62.20%,#0084ff 63.80%,#00a6ff 65.39%,#00c7ff 66.99%,#00e3ff 68.58%,#00feff 70.18%,#14ffeb 71.77%,#24ffdb 73.37%,#35ffca 74.96%,#46ffb9 76.56%,#55ffaa 78.15%,#64ff9b 79.74%,#73ff8c 81.34%,#81ff7e 82.93%,#8eff71 84.53%,#9bff64 86.12%,#a8ff57 87.72%,#b3ff4c 89.31%,#b9ff46 90.91%,#c0ff3f 92.50%,#c6ff39 94.10%,#cbff34 95.69%,#cbff34 97.29%,#cbff34 98.88%,#cbff34 100.00%)"></i><i style="background:linear-gradient(#adff52 0.00%,#adff52 1.59%,#adff52 3.19%,#a8ff57 4.78%,#9fff60 6.38%,#96ff69 7.97%,#8dff72 9.57%,#83ff7c 11.16%,#82ff7d 12.76%,#82ff7d 14.35%,#82ff7d 15.95%,#7fff80 17.54%,#79ff86 19.14%,#73ff8c 20.73%,#6dff92 22.33%,#69ff96 23.92%,#66ff99 25.52%,#64ff9b 27.11%,#61ff9e 28.71%,#62ff9d 30.30%,#66ff99 31.90%,#69ff96 33.49%,#6dff92 35.09%,#71ff8e 36.68%,#77ff88 38.28%,#80ff7f 39.87%,#88ff77 41.47%,#90ff6f 43.06%,#93ff6c 44.66%,#6fff90 46.25%,#4affb5 47.85%,#26ffd9 49.44%,#00ffff 51.04%,#00d8ff 52.63%,#00b4ff 54.23%,#009fff 55.82%,#0089ff 57.42%,#007aff 59.01%,#007cff 60.61%,#007eff 62.20%,#008aff 63.80%,#00aaff 65.39%,#00cbff 66.99%,#00e5ff 68.58%,#01fffe 70.18%,#15ffea 71.77%,#26ffd9 73.37%,#37ffc8 74.96%,#47ffb8 76.56%,#56ffa9 78.15%,#65ff9a 79.74%,#73ff8c 81.34%,#81ff7e 82.93%,#8eff71 84.53%,#9aff65 86.12%,#a7ff58 87.72%,#b1ff4e 89.31%,#b8ff47 90.91%,#beff41 92.50%,#c5ff3a 94.10%,#caff35 95.69%,#caff35 97.29%,#caff35 98.88%,#caff35 100.00%)"></i><i style="background:linear-gradient(#b1ff4e 0.00%,#b1ff4e 1.59%,#b1ff4e 3.19%,#adff52 4.78%,#a5ff5a 6.38%,#9dff62 7.97%,#95ff6a 9.57%,#8dff72 11.16%,#8bff74 12.76%,#8bff74 14.35%,#8bff74 15.95%,#88ff77 17.54%,#82ff7d 19.14%,#7bff84 20.73%,#75ff8a 22.33%,#70ff8f 23.92%,#6dff92 25.52%,#6bff94 27.11%,#68ff97 28.71%,#69ff96 30.30%,#6cff93 31.90%,#6eff91 33.49%,#71ff8e 35.09%,#73ff8c 36.68%,#79ff86 38.28%,#82ff7d 39.87%,#8bff74 41.47%,#94ff6b 43.06%,#97ff68 44.66%,#72ff8d 46.25%,#4dffb2 47.85%,#28ffd7 49.44%,#03fffc 51.04%,#00dcff 52.63%,#00baff 54.23%,#00a4ff 55.82%,#0090ff 57.42%,#0081ff 59.01%,#0082ff 60.61%,#0084ff 62.20%,#0090ff 63.80%,#00afff 65.39%,#00ceff 66.99%,#00e8ff 68.58%,#03fffc 70.18%,#17ffe8 71.77%,#28ffd7 73.37%,#39ffc6 74.96%,#49ffb6 76.56%,#58ffa7 78.15%,#66ff99 79.74%,#74ff8b 81.34%,#82ff7d 82.93%,#8eff71 84.53%,#9aff65 86.12%,#a6ff59 87.72%,#b0ff4f 89.31%,#b7ff48 90.91%,#beff41 92.50%,#c5ff3a 94.10%,#caff35 95.69%,#caff35 97.29%,#caff35 98.88%,#caff35 100.00%)"></i><i style="background:linear-gradient(#b5ff4a 0.00%,#b5ff4a 1.59%,#b5ff4a 3.19%,#b1ff4e 4.78%,#aaff55 6.38%,#a4ff5b 7.97%,#9dff62 9.57%,#96ff69 11.16%,#95ff6a 12.76%,#95ff6a 14.35%,#95ff6a 15.95%,#91ff6e 17.54%,#8aff75 19.14%,#83ff7c 20.73%,#7cff83 22.33%,#77ff88 23.92%,#75ff8a 25.52%,#72ff8d 27.11%,#70ff8f 28.71%,#70ff8f 30.30%,#71ff8e 31.90%,#73ff8c 33.49%,#74ff8b 35.09%,#76ff89 36.68%,#7bff84 38.28%,#84ff7b 39.87%,#8eff71 41.47%,#97ff68 43.06%,#9bff64 44.66%,#75ff8a 46.25%,#50ffaf 47.85%,#2affd5 49.44%,#06fff9 51.04%,#00e1ff 52.63%,#00c0ff 54.23%,#00aaff 55.82%,#0096ff 57.42%,#0087ff 59.01%,#0088ff 60.61%,#008aff 62.20%,#0097ff 63.80%,#00b3ff 65.39%,#00d1ff 66.99%,#00ebff 68.58%,#05fffa 70.18%,#19ffe6 71.77%,#2affd5 73.37%,#3cffc3 74.96%,#4bffb4 76.56%,#59ffa6 78.15%,#67ff98 79.74%,#75ff8a 81.34%,#82ff7d 82.93%,#8fff70 84.53%,#9aff65 86.12%,#a6ff59 87.72%,#afff50 89.31%,#b6ff49 90.91%,#bdff42 92.50%,#c4ff3b 94.10%,#caff35 95.69%,#caff35 97.29%,#caff35 98.88%,#caff35 100.00%)"></i><i style="background:linear-gradient(#b9ff46 0.00%,#b9ff46 1.59%,#b9ff46 3.19%,#b6ff49 4.78%,#b0ff4f 6.38%,#abff54 7.97%,#a5ff5a 9.57%,#a0ff5f 11.16%,#9fff60 12.76%,#9fff60 14.35%,#9fff60 15.95%,#9aff65 17.54%,#93ff6c 19.14%,#8cff73 20.73%,#84ff7b 22.33%,#7fff80 23.92%,#7cff83 25.52%,#7aff85 27.11%,#77ff88 28.71%,#77ff88 30.30%,#77ff88 31.90%,#77ff88 33.49%,#78ff87 35.09%,#78ff87 36.68%,#7cff83 38.28%,#86ff79 39.87%,#90ff6f 41.47%,#9bff64 43.06%,#9eff61 44.66%,#78ff87 46.25%,#52ffad 47.85%,#2cffd3 49.44%,#09fff6 51.04%,#00e5ff 52.63%,#00c5ff 54.23%,#00b0ff 55.82%,#009cff 57.42%,#008eff 59.01%,#008fff 60.61%,#008fff 62.20%,#009dff 63.80%,#00b8ff 65.39%,#00d5ff 66.99%,#00eeff 68.58%,#06fff9 70.18%,#1bffe4 71.77%,#2cffd3 73.37%,#3effc1 74.96%,#4effb1 76.56%,#5bffa4 78.15%,#69ff96 79.74%,#76ff89 81.34%,#83ff7c 82.93%,#8fff70 84.53%,#9aff65 86.12%,#a5ff5a 87.72%,#afff50 89.31%,#b6ff49 90.91%,#bdff42 92.50%,#c4ff3b 94.10%,#caff35 95.69%,#caff35 97.29%,#caff35 98.88%,#caff35 100.00%)"></i><i style="background:linear-gradient(#bdff42 0.00%,#bdff42 1.59%,#bdff42 3.19%,#baff45 4.78%,#b6ff49 6.38%,#b2ff4d 7.97%,#aeff51 9.57%,#a9ff56 11.16%,#a9ff56 12.76%,#a9ff56 14.35%,#a9ff56 15.95%,#a3ff5c 17.54%,#9cff63 19.14%,#94ff6b 20.73%,#8cff73 22.33%,#86ff79 23.92%,#83ff7c 25.52%,#81ff7e 27.11%,#7eff81 28.71%,#7dff82 30.30%,#7dff82 31.90%,#7cff83 33.49%,#7bff84 35.09%,#7aff85 36.68%,#7eff81 38.28%,#88ff77 39.87%,#93ff6c 41.47%,#9eff61 43.06%,#a2ff5d 44.66%,#7cff83 46.25%,#55ffaa 47.85%,#2fffd0 49.44%,#0cfff3 51.04%,#00eaff 52.63%,#00cbff 54.23%,#00b6ff 55.82%,#00a2ff 57.42%,#0094ff 59.01%,#0095ff 60.61%,#0095ff 62.20%,#00a4ff 63.80%,#00bdff 65.39%,#00d8ff 66.99%,#00f0ff 68.58%,#08fff7 70.18%,#1cffe3 71.77%,#2effd1 73.37%,#40ffbf 74.96%,#50ffaf 76.56%,#5dffa2 78.15%,#6aff95 79.74%,#77ff88 81.34%,#84ff7b 82.93%,#90ff6f 84.53%,#9aff65 86.12%,#a5ff5a 87.72%,#aeff51 89.31%,#b5ff4a 90.91%,#bdff42 92.50%,#c4ff3b 94.10%,#caff35 95.69%,#caff35 97.29%,#caff35 98.88%,#caff35 100.00%)"></i><i style="background:linear-gradient(#c0ff3f 0.00%,#c0ff3f 1.59%,#c0ff3f 3.19%,#bfff40 4.78%,#bcff43 6.38%,#b9ff46 7.97%,#b6ff49 9.57%,#b3ff4c 11.16%,#b2ff4d 12.76%,#b2ff4d 14.35%,#b2ff4d 15.95%,#acff53 17.54%,#a4ff5b 19.14%,#9cff63 20.73%,#94ff6b 22.33%,#8dff72 23.92%,#8bff74 25.52%,#88ff77 27.11%,#86ff79 28.71%,#84ff7b 30.30%,#82ff7d 31.90%,#81ff7e 33.49%,#7fff80 35.09%,#7dff82 36.68%,#7fff80 38.28%,#8bff74 39.87%,#96ff69 41.47%,#a1ff5e 43.06%,#a6ff59 44.66%,#7fff80 46.25%,#58ffa7 47.85%,#31ffce 49.44%,#0efff1 51.04%,#00eeff 52.63%,#00d1ff 54.23%,#00bbff 55.82%,#00a8ff 57.42%,#009aff 59.01%,#009bff 60.61%,#009bff 62.20%,#00aaff 63.80%,#00c1ff 65.39%,#00dbff 66.99%,#00f3ff 68.58%,#0afff5 70.18%,#1effe1 71.77%,#30ffcf 73.37%,#43ffbc 74.96%,#52ffad 76.56%,#5effa1 78.15%,#6bff94 79.74%,#78ff87 81.34%,#84ff7b 82.93%,#90ff6f 84.53%,#9aff65 86.12%,#a4ff5b 87.72%,#adff52 89.31%,#b5ff4a 90.91%,#bcff43 92.50%,#c4ff3b 94.10%,#caff35 95.69%,#caff35 97.29%,#caff35 98.88%,#caff35 100.00%)"></i><i style="background:linear-gradient(#c4ff3b 0.00%,#c4ff3b 1.59%,#c4ff3b 3.19%,#c3ff3c 4.78%,#c2ff3d 6.38%,#c0ff3f 7.97%,#beff41 9.57%,#bcff43 11.16%,#bcff43 12.76%,#bcff43 14.35%,#bcff43 15.95%,#b5ff4a 17.54%,#adff52 19.14%,#a4ff5b 20.73%,#9cff63 22.33%,#95ff6a 23.92%,#92ff6d 25.52%,#8fff70 27.11%,#8dff72 28.71%,#8bff74 30.30%,#88ff77 31.90%,#85ff7a 33.49%,#82ff7d 35.09%,#7fff80 36.68%,#81ff7e 38.28%,#8dff72 39.87%,#99ff66 41.47%,#a5ff5a 43.06%,#aaff55 44.66%,#82ff7d 46.25%,#5bffa4 47.85%,#33ffcc 49.44%,#11ffee 51.04%,#00f3ff 52.63%,#00d6ff 54.23%,#00c1ff 55.82%,#00aeff 57.42%,#00a1ff 59.01%,#00a1ff 60.61%,#00a1ff 62.20%,#00b1ff 63.80%,#00c6ff 65.39%,#00deff 66.99%,#00f6ff 68.58%,#0cfff3 70.18%,#20ffdf 71.77%,#32ffcd 73.37%,#45ffba 74.96%,#54ffab 76.56%,#60ff9f 78.15%,#6cff93 79.74%,#79ff86 81.34%,#85ff7a 82.93%,#91ff6e 84.53%,#9bff64 86.12%,#a4ff5b 87.72%,#acff53 89.31%,#b4ff4b 90.91%,#bcff43 92.50%,#c4ff3b 94.10%,#caff35 95.69%,#caff35 97.29%,#caff35 98.88%,#caff35 100.00%)"></i><i style="background:linear-gradient(#c8ff37 0.00%,#c8ff37 1.59%,#c8ff37 3.19%,#c8ff37 4.78%,#c7ff38 6.38%,#c7ff38 7.97%,#c6ff39 9.57%,#c6ff39 11.16%,#c6ff39 12.76%,#c6ff39 14.35%,#c6ff39 15.95%,#beff41 17.54%,#b5ff4a 19.14%,#adff52 20.73%,#a4ff5b 22.33%,#9cff63 23.92%,#99ff66 25.52%,#97ff68 27.11%,#94ff6b 28.71%,#92ff6d 30.30%,#8eff71 31.90%,#8aff75 33.49%,#86ff79 35.09%,#82ff7d 36.68%,#82ff7d 38.28%,#8fff70 39.87%,#9bff64 41.47%,#a8ff57 43.06%,#aeff51 44.66%,#86ff79 46.25%,#5dffa2 47.85%,#35ffca 49.44%,#14ffeb 51.04%,#00f8ff 52.63%,#00dcff 54.23%,#00c7ff 55.82%,#00b5ff 57.42%,#00a7ff 59.01%,#00a7ff 60.61%,#00a7ff 62.20%,#00b7ff 63.80%,#00cbff 65.39%,#00e2ff 66.99%,#00f8ff 68.58%,#0efff1 70.18%,#21ffde 71.77%,#34ffcb 73.37%,#47ffb8 74.96%,#56ffa9 76.56%,#62ff9d 78.15%,#6eff91 79.74%,#7aff85 81.34%,#85ff7a 82.93%,#91ff6e 84.53%,#9bff64 86.12%,#a3ff5c 87.72%,#abff54 89.31%,#b3ff4c 90.91%,#bbff44 92.50%,#c4ff3b 94.10%,#caff35 95.69%,#caff35 97.29%,#caff35 98.88%,#caff35 100.00%)"></i><i style="background:linear-gradient(#caff35 0.00%,#caff35 1.59%,#caff35 3.19%,#caff35 4.78%,#caff35 6.38%,#c9ff36 7.97%,#c5ff3a 9.57%,#c1ff3e 11.16%,#c1ff3e 12.76%,#c1ff3e 14.35%,#c1ff3e 15.95%,#bbff44 17.54%,#b4ff4b 19.14%,#adff52 20.73%,#a7ff58 22.33%,#a1ff5e 23.92%,#9eff61 25.52%,#9bff64 27.11%,#99ff66 28.71%,#96ff69 30.30%,#92ff6d 31.90%,#8fff70 33.49%,#8bff74 35.09%,#87ff78 36.68%,#87ff78 38.28%,#94ff6b 39.87%,#a0ff5f 41.47%,#adff52 43.06%,#b2ff4d 44.66%,#8aff75 46.25%,#62ff9d 47.85%,#3affc5 49.44%,#19ffe6 51.04%,#00fdff 52.63%,#00e2ff 54.23%,#00cdff 55.82%,#00bcff 57.42%,#00afff 59.01%,#00afff 60.61%,#00afff 62.20%,#00bfff 63.80%,#00d1ff 65.39%,#00e8ff 66.99%,#00feff 68.58%,#14ffeb 70.18%,#27ffd8 71.77%,#39ffc6 73.37%,#4bffb4 74.96%,#5affa5 76.56%,#65ff9a 78.15%,#71ff8e 79.74%,#7cff83 81.34%,#88ff77 82.93%,#93ff6c 84.53%,#9cff63 86.12%,#a4ff5b 87.72%,#acff53 89.31%,#b4ff4b 90.91%,#bcff43 92.50%,#c4ff3b 94.10%,#caff35 95.69%,#caff35 97.29%,#caff35 98.88%,#caff35 100.00%)"></i><i style="background:linear-gradient(#caff35 0.00%,#caff35 1.59%,#caff35 3.19%,#caff35 4.78%,#caff35 6.38%,#c8ff37 7.97%,#bdff42 9.57%,#b3ff4c 11.16%,#b1ff4e 12.76%,#b1ff4e 14.35%,#b1ff4e 15.95%,#aeff51 17.54%,#acff53 19.14%,#a9ff56 20.73%,#a6ff59 22.33%,#a3ff5c 23.92%,#a1ff5e 25.52%,#9eff61 27.11%,#9cff63 28.71%,#99ff66 30.30%,#96ff69 31.90%,#93ff6c 33.49%,#91ff6e 35.09%,#8eff71 36.68%,#8fff70 38.28%,#9bff64 39.87%,#a7ff58 41.47%,#b3ff4c 43.06%,#b8ff47 44.66%,#90ff6f 46.25%,#68ff97 47.85%,#40ffbf 49.44%,#20ffdf 51.04%,#04fffb 52.63%,#00e7ff 54.23%,#00d3ff 55.82%,#00c4ff 57.42%,#00b9ff 59.01%,#00b9ff 60.61%,#00b9ff 62.20%,#00c8ff 63.80%,#00d9ff 65.39%,#00efff 66.99%,#08fff7 68.58%,#1effe1 70.18%,#30ffcf 71.77%,#41ffbe 73.37%,#51ffae 74.96%,#5effa1 76.56%,#6aff95 78.15%,#75ff8a 79.74%,#80ff7f 81.34%,#8bff74 82.93%,#96ff69 84.53%,#9eff61 86.12%,#a6ff59 87.72%,#adff52 89.31%,#b5ff4a 90.91%,#bcff43 92.50%,#c4ff3b 94.10%,#caff35 95.69%,#caff35 97.29%,#caff35 98.88%,#caff35 100.00%)"></i><i style="background:linear-gradient(#caff35 0.00%,#caff35 1.59%,#caff35 3.19%,#caff35 4.78%,#caff35 6.38%,#c7ff38 7.97%,#b5ff4a 9.57%,#a4ff5b 11.16%,#a1ff5e 12.76%,#a1ff5e 14.35%,#a1ff5e 15.95%,#a2ff5d 17.54%,#a3ff5c 19.14%,#a4ff5b 20.73%,#a5ff5a 22.33%,#a6ff59 23.92%,#a3ff5c 25.52%,#a1ff5e 27.11%,#9eff61 28.71%,#9cff63 30.30%,#9aff65 31.90%,#98ff67 33.49%,#97ff68 35.09%,#95ff6a 36.68%,#97ff68 38.28%,#a2ff5d 39.87%,#adff52 41.47%,#b9ff46 43.06%,#bdff42 44.66%,#96ff69 46.25%,#6eff91 47.85%,#47ffb8 49.44%,#26ffd9 51.04%,#0afff5 52.63%,#00edff 54.23%,#00daff 55.82%,#00ccff 57.42%,#00c2ff 59.01%,#00c2ff 60.61%,#00c2ff 62.20%,#00d1ff 63.80%,#00e2ff 65.39%,#00f7ff 66.99%,#10ffef 68.58%,#28ffd7 70.18%,#39ffc6 71.77%,#48ffb7 73.37%,#56ffa9 74.96%,#63ff9c 76.56%,#6eff91 78.15%,#79ff86 79.74%,#83ff7c 81.34%,#8eff71 82.93%,#99ff66 84.53%,#a1ff5e 86.12%,#a8ff57 87.72%,#afff50 89.31%,#b6ff49 90.91%,#bdff42 92.50%,#c4ff3b 94.10%,#caff35 95.69%,#caff35 97.29%,#caff35 98.88%,#caff35 100.00%)"></i><i style="background:linear-gradient(#caff35 0.00%,#caff35 1.59%,#caff35 3.19%,#caff35 4.78%,#caff35 6.38%,#c6ff39 7.97%,#adff52 9.57%,#95ff6a 11.16%,#91ff6e 12.76%,#91ff6e 14.35%,#91ff6e 15.95%,#95ff6a 17.54%,#9aff65 19.14%,#9fff60 20.73%,#a4ff5b 22.33%,#a9ff56 23.92%,#a6ff59 25.52%,#a3ff5c 27.11%,#a1ff5e 28.71%,#9eff61 30.30%,#9eff61 31.90%,#9dff62 33.49%,#9dff62 35.09%,#9cff63 36.68%,#9fff60 38.28%,#a9ff56 39.87%,#b4ff4b 41.47%,#beff41 43.06%,#c3ff3c 44.66%,#9bff64 46.25%,#74ff8b 47.85%,#4dffb2 49.44%,#2cffd3 51.04%,#10ffef 52.63%,#00f2ff 54.23%,#00e0ff 55.82%,#00d4ff 57.42%,#00cbff 59.01%,#00cbff 60.61%,#00cbff 62.20%,#00daff 63.80%,#00eaff 65.39%,#00ffff 66.99%,#19ffe6 68.58%,#31ffce 70.18%,#43ffbc 71.77%,#4fffb0 73.37%,#5bffa4 74.96%,#67ff98 76.56%,#72ff8d 78.15%,#7dff82 79.74%,#87ff78 81.34%,#91ff6e 82.93%,#9bff64 84.53%,#a3ff5c 86.12%,#aaff55 87.72%,#b0ff4f 89.31%,#b7ff48 90.91%,#beff41 92.50%,#c5ff3a 94.10%,#caff35 95.69%,#caff35 97.29%,#caff35 98.88%,#caff35 100.00%)"></i><i style="background:linear-gradient(#caff35 0.00%,#caff35 1.59%,#caff35 3.19%,#caff35 4.78%,#caff35 6.38%,#c5ff3a 7.97%,#a9ff56 9.57%,#8dff72 11.16%,#88ff77 12.76%,#88ff77 14.35%,#88ff77 15.95%,#8eff71 17.54%,#94ff6b 19.14%,#9bff64 20.73%,#a2ff5d 22.33%,#a8ff57 23.92%,#a6ff59 25.52%,#a5ff5a 27.11%,#a3ff5c 28.71%,#a2ff5d 30.30%,#a2ff5d 31.90%,#a2ff5d 33.49%,#a2ff5d 35.09%,#a2ff5d 36.68%,#a4ff5b 38.28%,#aeff51 39.87%,#b8ff47 41.47%,#c1ff3e 43.06%,#c5ff3a 44.66%,#9fff60 46.25%,#7aff85 47.85%,#54ffab 49.44%,#33ffcc 51.04%,#17ffe8 52.63%,#00faff 54.23%,#00e6ff 55.82%,#00daff 57.42%,#00d3ff 59.01%,#00d3ff 60.61%,#00d3ff 62.20%,#00e1ff 63.80%,#00f1ff 65.39%,#06fff9 66.99%,#1fffe0 68.58%,#38ffc7 70.18%,#4bffb4 71.77%,#56ffa9 73.37%,#61ff9e 74.96%,#6dff92 76.56%,#77ff88 78.15%,#81ff7e 79.74%,#8aff75 81.34%,#94ff6b 82.93%,#9dff62 84.53%,#a5ff5a 86.12%,#abff54 87.72%,#b0ff4f 89.31%,#b6ff49 90.91%,#bbff44 92.50%,#c1ff3e 94.10%,#c5ff3a 95.69%,#c5ff3a 97.29%,#c5ff3a 98.88%,#c5ff3a 100.00%)"></i><i style="background:linear-gradient(#caff35 0.00%,#caff35 1.59%,#caff35 3.19%,#caff35 4.78%,#caff35 6.38%,#c5ff3a 7.97%,#a7ff58 9.57%,#89ff76 11.16%,#84ff7b 12.76%,#84ff7b 14.35%,#84ff7b 15.95%,#8aff75 17.54%,#90ff6f 19.14%,#97ff68 20.73%,#9eff61 22.33%,#a4ff5b 23.92%,#a4ff5b 25.52%,#a5ff5a 27.11%,#a5ff5a 28.71%,#a6ff59 30.30%,#a6ff59 31.90%,#a6ff59 33.49%,#a6ff59 35.09%,#a6ff59 36.68%,#a8ff57 38.28%,#b1ff4e 39.87%,#b9ff46 41.47%,#c2ff3d 43.06%,#c5ff3a 44.66%,#a2ff5d 46.25%,#7eff81 47.85%,#5affa5 49.44%,#39ffc6 51.04%,#1effe1 52.63%,#03fffc 54.23%,#00ecff 55.82%,#00dfff 57.42%,#00daff 59.01%,#00daff 60.61%,#00d9ff 62.20%,#00e7ff 63.80%,#00f6ff 65.39%,#0cfff3 66.99%,#24ffdb 68.58%,#3dffc2 70.18%,#52ffad 71.77%,#5dffa2 73.37%,#68ff97 74.96%,#73ff8c 76.56%,#7dff82 78.15%,#85ff7a 79.74%,#8dff72 81.34%,#96ff69 82.93%,#9eff61 84.53%,#a6ff59 86.12%,#abff54 87.72%,#afff50 89.31%,#b3ff4c 90.91%,#b6ff49 92.50%,#baff45 94.10%,#bdff42 95.69%,#bdff42 97.29%,#bdff42 98.88%,#bdff42 100.00%)"></i><i style="background:linear-gradient(#caff35 0.00%,#caff35 1.59%,#caff35 3.19%,#caff35 4.78%,#caff35 6.38%,#c4ff3b 7.97%,#a5ff5a 9.57%,#86ff79 11.16%,#80ff7f 12.76%,#80ff7f 14.35%,#80ff7f 15.95%,#86ff79 17.54%,#8cff73 19.14%,#93ff6c 20.73%,#9aff65 22.33%,#a0ff5f 23.92%,#a2ff5d 25.52%,#a5ff5a 27.11%,#a7ff58 28.71%,#aaff55 30.30%,#aaff55 31.90%,#aaff55 33.49%,#aaff55 35.09%,#aaff55 36.68%,#acff53 38.28%,#b3ff4c 39.87%,#bbff44 41.47%,#c3ff3c 43.06%,#c6ff39 44.66%,#a4ff5b 46.25%,#82ff7d 47.85%,#61ff9e 49.44%,#3fffc0 51.04%,#26ffd9 52.63%,#0cfff3 54.23%,#00f2ff 55.82%,#00e3ff 57.42%,#00e1ff 59.01%,#00e0ff 60.61%,#00dfff 62.20%,#00edff 63.80%,#00fcff 65.39%,#12ffed 66.99%,#2affd5 68.58%,#42ffbd 70.18%,#59ffa6 71.77%,#64ff9b 73.37%,#6eff91 74.96%,#79ff86 76.56%,#82ff7d 78.15%,#89ff76 79.74%,#91ff6e 81.34%,#98ff67 82.93%,#9fff60 84.53%,#a7ff58 86.12%,#abff54 87.72%,#adff52 89.31%,#afff50 90.91%,#b2ff4d 92.50%,#b4ff4b 94.10%,#b6ff49 95.69%,#b6ff49 97.29%,#b6ff49 98.88%,#b6ff49 100.00%)"></i><i style="background:linear-gradient(#c8ff37 0.00%,#c8ff37 1.59%,#c8ff37 3.19%,#c7ff38 4.78%,#c6ff39 6.38%,#c0ff3f 7.97%,#a3ff5c 9.57%,#86ff79 11.16%,#81ff7e 12.76%,#81ff7e 14.35%,#81ff7e 15.95%,#86ff79 17.54%,#8dff72 19.14%,#93ff6c 20.73%,#9aff65 22.33%,#a0ff5f 23.92%,#a2ff5d 25.52%,#a4ff5b 27.11%,#a6ff59 28.71%,#a8ff57 30.30%,#a8ff57 31.90%,#a9ff56 33.49%,#a9ff56 35.09%,#aaff55 36.68%,#acff53 38.28%,#b4ff4b 39.87%,#bdff42 41.47%,#c5ff3a 43.06%,#c8ff37 44.66%,#a7ff58 46.25%,#85ff7a 47.85%,#64ff9b 49.44%,#42ffbd 51.04%,#2affd5 52.63%,#11ffee 54.23%,#00f7ff 55.82%,#00e9ff 57.42%,#00e7ff 59.01%,#00e6ff 60.61%,#00e5ff 62.20%,#00f2ff 63.80%,#03fffc 65.39%,#17ffe8 66.99%,#2dffd2 68.58%,#44ffbb 70.18%,#5bffa4 71.77%,#66ff99 73.37%,#70ff8f 74.96%,#7aff85 76.56%,#83ff7c 78.15%,#8aff75 79.74%,#91ff6e 81.34%,#98ff67 82.93%,#9fff60 84.53%,#a5ff5a 86.12%,#aaff55 87.72%,#acff53 89.31%,#aeff51 90.91%,#b0ff4f 92.50%,#b2ff4d 94.10%,#b3ff4c 95.69%,#b3ff4c 97.29%,#b3ff4c 98.88%,#b3ff4c 100.00%)"></i><i style="background:linear-gradient(#c5ff3a 0.00%,#c5ff3a 1.59%,#c5ff3a 3.19%,#c4ff3b 4.78%,#c2ff3d 6.38%,#bbff44 7.97%,#a1ff5e 9.57%,#87ff78 11.16%,#82ff7d 12.76%,#82ff7d 14.35%,#82ff7d 15.95%,#87ff78 17.54%,#8eff71 19.14%,#94ff6b 20.73%,#9aff65 22.33%,#a0ff5f 23.92%,#a1ff5e 25.52%,#a2ff5d 27.11%,#a4ff5b 28.71%,#a5ff5a 30.30%,#a6ff59 31.90%,#a7ff58 33.49%,#a8ff57 35.09%,#a9ff56 36.68%,#acff53 38.28%,#b5ff4a 39.87%,#beff41 41.47%,#c7ff38 43.06%,#cbff34 44.66%,#a9ff56 46.25%,#88ff77 47.85%,#66ff99 49.44%,#45ffba 51.04%,#2dffd2 52.63%,#15ffea 54.23%,#00fcff 55.82%,#00eeff 57.42%,#00edff 59.01%,#00ecff 60.61%,#00ebff 62.20%,#00f8ff 63.80%,#09fff6 65.39%,#1cffe3 66.99%,#31ffce 68.58%,#46ffb9 70.18%,#5cffa3 71.77%,#67ff98 73.37%,#71ff8e 74.96%,#7aff85 76.56%,#83ff7c 78.15%,#8aff75 79.74%,#91ff6e 81.34%,#98ff67 82.93%,#9eff61 84.53%,#a4ff5b 86.12%,#a8ff57 87.72%,#aaff55 89.31%,#acff53 90.91%,#aeff51 92.50%,#b0ff4f 94.10%,#b2ff4d 95.69%,#b2ff4d 97.29%,#b2ff4d 98.88%,#b2ff4d 100.00%)"></i><i style="background:linear-gradient(#c2ff3d 0.00%,#c2ff3d 1.59%,#c2ff3d 3.19%,#c0ff3f 4.78%,#bdff42 6.38%,#b6ff49 7.97%,#9fff60 9.57%,#88ff77 11.16%,#83ff7c 12.76%,#83ff7c 14.35%,#83ff7c 15.95%,#88ff77 17.54%,#8eff71 19.14%,#94ff6b 20.73%,#9aff65 22.33%,#9fff60 23.92%,#a0ff5f 25.52%,#a1ff5e 27.11%,#a2ff5d 28.71%,#a2ff5d 30.30%,#a4ff5b 31.90%,#a6ff59 33.49%,#a7ff58 35.09%,#a9ff56 36.68%,#adff52 38.28%,#b6ff49 39.87%,#c0ff3f 41.47%,#c9ff36 43.06%,#cdff32 44.66%,#acff53 46.25%,#8aff75 47.85%,#69ff96 49.44%,#48ffb7 51.04%,#30ffcf 52.63%,#19ffe6 54.23%,#02fffd 55.82%,#00f3ff 57.42%,#00f2ff 59.01%,#00f1ff 60.61%,#00f1ff 62.20%,#00feff 63.80%,#0efff1 65.39%,#20ffdf 66.99%,#34ffcb 68.58%,#48ffb7 70.18%,#5cffa3 71.77%,#68ff97 73.37%,#71ff8e 74.96%,#7bff84 76.56%,#83ff7c 78.15%,#8aff75 79.74%,#91ff6e 81.34%,#97ff68 82.93%,#9dff62 84.53%,#a2ff5d 86.12%,#a6ff59 87.72%,#a8ff57 89.31%,#abff54 90.91%,#adff52 92.50%,#afff50 94.10%,#b1ff4e 95.69%,#b1ff4e 97.29%,#b1ff4e 98.88%,#b1ff4e 100.00%)"></i><i style="background:linear-gradient(#c0ff3f 0.00%,#c0ff3f 1.59%,#c0ff3f 3.19%,#bdff42 4.78%,#b9ff46 6.38%,#b1ff4e 7.97%,#9dff62 9.57%,#88ff77 11.16%,#85ff7a 12.76%,#85ff7a 14.35%,#85ff7a 15.95%,#8aff75 17.54%,#8fff70 19.14%,#95ff6a 20.73%,#9aff65 22.33%,#9fff60 23.92%,#9fff60 25.52%,#a0ff5f 27.11%,#a0ff5f 28.71%,#a0ff5f 30.30%,#a2ff5d 31.90%,#a4ff5b 33.49%,#a6ff59 35.09%,#a8ff57 36.68%,#adff52 38.28%,#b7ff48 39.87%,#c1ff3e 41.47%,#cbff34 43.06%,#d0ff2f 44.66%,#afff50 46.25%,#8dff72 47.85%,#6cff93 49.44%,#4affb5 51.04%,#34ffcb 52.63%,#1dffe2 54.23%,#07fff8 55.82%,#00f9ff 57.42%,#00f8ff 59.01%,#00f7ff 60.61%,#00f7ff 62.20%,#05fffa 63.80%,#14ffeb 65.39%,#25ffda 66.99%,#38ffc7 68.58%,#4bffb4 70.18%,#5dffa2 71.77%,#69ff96 73.37%,#72ff8d 74.96%,#7bff84 76.56%,#83ff7c 78.15%,#8aff75 79.74%,#91ff6e 81.34%,#97ff68 82.93%,#9cff63 84.53%,#a1ff5e 86.12%,#a5ff5a 87.72%,#a7ff58 89.31%,#a9ff56 90.91%,#abff54 92.50%,#aeff51 94.10%,#afff50 95.69%,#afff50 97.29%,#afff50 98.88%,#afff50 100.00%)"></i><i style="background:linear-gradient(#bdff42 0.00%,#bdff42 1.59%,#bdff42 3.19%,#baff45 4.78%,#b4ff4b 6.38%,#adff52 7.97%,#9bff64 9.57%,#89ff76 11.16%,#86ff79 12.76%,#86ff79 14.35%,#86ff79 15.95%,#8bff74 17.54%,#90ff6f 19.14%,#95ff6a 20.73%,#9bff64 22.33%,#9fff60 23.92%,#9fff60 25.52%,#9eff61 27.11%,#9eff61 28.71%,#9dff62 30.30%,#a0ff5f 31.90%,#a2ff5d 33.49%,#a5ff5a 35.09%,#a8ff57 36.68%,#adff52 38.28%,#b8ff47 39.87%,#c3ff3c 41.47%,#cdff32 43.06%,#d3ff2c 44.66%,#b1ff4e 46.25%,#90ff6f 47.85%,#6eff91 49.44%,#4dffb2 51.04%,#37ffc8 52.63%,#21ffde 54.23%,#0cfff3 55.82%,#00feff 57.42%,#00feff 59.01%,#00fdff 60.61%,#00fcff 62.20%,#0bfff4 63.80%,#1affe5 65.39%,#2affd5 66.99%,#3cffc3 68.58%,#4dffb2 70.18%,#5effa1 71.77%,#6aff95 73.37%,#73ff8c 74.96%,#7bff84 76.56%,#83ff7c 78.15%,#8aff75 79.74%,#91ff6e 81.34%,#97ff68 82.93%,#9bff64 84.53%,#a0ff5f 86.12%,#a3ff5c 87.72%,#a5ff5a 89.31%,#a8ff57 90.91%,#aaff55 92.50%,#acff53 94.10%,#aeff51 95.69%,#aeff51 97.29%,#aeff51 98.88%,#aeff51 100.00%)"></i><i style="background:linear-gradient(#baff45 0.00%,#baff45 1.59%,#baff45 3.19%,#b7ff48 4.78%,#b0ff4f 6.38%,#a8ff57 7.97%,#99ff66 9.57%,#8aff75 11.16%,#87ff78 12.76%,#87ff78 14.35%,#87ff78 15.95%,#8cff73 17.54%,#91ff6e 19.14%,#96ff69 20.73%,#9bff64 22.33%,#9fff60 23.92%,#9eff61 25.52%,#9dff62 27.11%,#9cff63 28.71%,#9aff65 30.30%,#9eff61 31.90%,#a1ff5e 33.49%,#a4ff5b 35.09%,#a8ff57 36.68%,#adff52 38.28%,#b9ff46 39.87%,#c4ff3b 41.47%,#d0ff2f 43.06%,#d5ff2a 44.66%,#b4ff4b 46.25%,#92ff6d 47.85%,#71ff8e 49.44%,#50ffaf 51.04%,#3bffc4 52.63%,#26ffd9 54.23%,#10ffef 55.82%,#05fffa 57.42%,#04fffb 59.01%,#04fffb 60.61%,#03fffc 62.20%,#11ffee 63.80%,#1fffe0 65.39%,#2fffd0 66.99%,#3fffc0 68.58%,#4fffb0 70.18%,#5fffa0 71.77%,#6bff94 73.37%,#74ff8b 74.96%,#7cff83 76.56%,#83ff7c 78.15%,#8aff75 79.74%,#91ff6e 81.34%,#97ff68 82.93%,#9aff65 84.53%,#9eff61 86.12%,#a1ff5e 87.72%,#a4ff5b 89.31%,#a6ff59 90.91%,#a8ff57 92.50%,#abff54 94.10%,#adff52 95.69%,#adff52 97.29%,#adff52 98.88%,#adff52 100.00%)"></i><i style="background:linear-gradient(#b8ff47 0.00%,#b8ff47 1.59%,#b8ff47 3.19%,#b3ff4c 4.78%,#acff53 6.38%,#a3ff5c 7.97%,#97ff68 9.57%,#8bff74 11.16%,#89ff76 12.76%,#89ff76 14.35%,#89ff76 15.95%,#8dff72 17.54%,#92ff6d 19.14%,#96ff69 20.73%,#9bff64 22.33%,#9fff60 23.92%,#9dff62 25.52%,#9bff64 27.11%,#9aff65 28.71%,#98ff67 30.30%,#9cff63 31.90%,#9fff60 33.49%,#a3ff5c 35.09%,#a7ff58 36.68%,#adff52 38.28%,#b9ff46 39.87%,#c6ff39 41.47%,#d2ff2d 43.06%,#d8ff27 44.66%,#b7ff48 46.25%,#95ff6a 47.85%,#74ff8b 49.44%,#52ffad 51.04%,#3effc1 52.63%,#2affd5 54.23%,#15ffea 55.82%,#0afff5 57.42%,#0afff5 59.01%,#0afff5 60.61%,#09fff6 62.20%,#17ffe8 63.80%,#25ffda 65.39%,#34ffcb 66.99%,#43ffbc 68.58%,#51ffae 70.18%,#5fffa0 71.77%,#6cff93 73.37%,#74ff8b 74.96%,#7cff83 76.56%,#83ff7c 78.15%,#8aff75 79.74%,#91ff6e 81.34%,#96ff69 82.93%,#9aff65 84.53%,#9dff62 86.12%,#a0ff5f 87.72%,#a2ff5d 89.31%,#a5ff5a 90.91%,#a7ff58 92.50%,#a9ff56 94.10%,#abff54 95.69%,#abff54 97.29%,#abff54 98.88%,#abff54 100.00%)"></i><i style="background:linear-gradient(#b5ff4a 0.00%,#b5ff4a 1.59%,#b5ff4a 3.19%,#b0ff4f 4.78%,#a7ff58 6.38%,#9eff61 7.97%,#95ff6a 9.57%,#8cff73 11.16%,#8aff75 12.76%,#8aff75 14.35%,#8aff75 15.95%,#8eff71 17.54%,#92ff6d 19.14%,#97ff68 20.73%,#9bff64 22.33%,#9fff60 23.92%,#9dff62 25.52%,#9aff65 27.11%,#98ff67 28.71%,#95ff6a 30.30%,#99ff66 31.90%,#9eff61 33.49%,#a2ff5d 35.09%,#a7ff58 36.68%,#adff52 38.28%,#baff45 39.87%,#c7ff38 41.47%,#d4ff2b 43.06%,#dbff24 44.66%,#b9ff46 46.25%,#98ff67 47.85%,#76ff89 49.44%,#55ffaa 51.04%,#41ffbe 52.63%,#2effd1 54.23%,#1affe5 55.82%,#0ffff0 57.42%,#0ffff0 59.01%,#0ffff0 60.61%,#0ffff0 62.20%,#1cffe3 63.80%,#2bffd4 65.39%,#39ffc6 66.99%,#46ffb9 68.58%,#53ffac 70.18%,#60ff9f 71.77%,#6dff92 73.37%,#75ff8a 74.96%,#7cff83 76.56%,#83ff7c 78.15%,#8aff75 79.74%,#91ff6e 81.34%,#96ff69 82.93%,#99ff66 84.53%,#9bff64 86.12%,#9eff61 87.72%,#a0ff5f 89.31%,#a3ff5c 90.91%,#a6ff59 92.50%,#a8ff57 94.10%,#aaff55 95.69%,#aaff55 97.29%,#aaff55 98.88%,#aaff55 100.00%)"></i><i style="background:linear-gradient(#b5ff4a 0.00%,#b5ff4a 1.59%,#b5ff4a 3.19%,#b0ff4f 4.78%,#a7ff58 6.38%,#9eff61 7.97%,#95ff6a 9.57%,#8cff73 11.16%,#8aff75 12.76%,#8aff75 14.35%,#8aff75 15.95%,#8eff71 17.54%,#92ff6d 19.14%,#97ff68 20.73%,#9bff64 22.33%,#9fff60 23.92%,#9cff63 25.52%,#9aff65 27.11%,#97ff68 28.71%,#95ff6a 30.30%,#99ff66 31.90%,#9eff61 33.49%,#a2ff5d 35.09%,#a7ff58 36.68%,#adff52 38.28%,#baff45 39.87%,#c7ff38 41.47%,#d4ff2b 43.06%,#dbff24 44.66%,#b9ff46 46.25%,#98ff67 47.85%,#77ff88 49.44%,#55ffaa 51.04%,#42ffbd 52.63%,#2effd1 54.23%,#1bffe4 55.82%,#10ffef 57.42%,#10ffef 59.01%,#10ffef 60.61%,#10ffef 62.20%,#1dffe2 63.80%,#2bffd4 65.39%,#3affc5 66.99%,#47ffb8 68.58%,#53ffac 70.18%,#60ff9f 71.77%,#6dff92 73.37%,#75ff8a 74.96%,#7cff83 76.56%,#83ff7c 78.15%,#8aff75 79.74%,#91ff6e 81.34%,#96ff69 82.93%,#99ff66 84.53%,#9bff64 86.12%,#9eff61 87.72%,#a0ff5f 89.31%,#a3ff5c 90.91%,#a5ff5a 92.50%,#a8ff57 94.10%,#aaff55 95.69%,#aaff55 97.29%,#aaff55 98.88%,#aaff55 100.00%)"></i><i style="background:linear-gradient(#b5ff4a 0.00%,#b5ff4a 1.59%,#b5ff4a 3.19%,#b0ff4f 4.78%,#a7ff58 6.38%,#9eff61 7.97%,#95ff6a 9.57%,#8cff73 11.16%,#8aff75 12.76%,#8aff75 14.35%,#8aff75 15.95%,#8eff71 17.54%,#92ff6d 19.14%,#97ff68 20.73%,#9bff64 22.33%,#9fff60 23.92%,#9cff63 25.52%,#9aff65 27.11%,#97ff68 28.71%,#95ff6a 30.30%,#99ff66 31.90%,#9eff61 33.49%,#a2ff5d 35.09%,#a7ff58 36.68%,#adff52 38.28%,#baff45 39.87%,#c7ff38 41.47%,#d4ff2b 43.06%,#dbff24 44.66%,#b9ff46 46.25%,#98ff67 47.85%,#77ff88 49.44%,#55ffaa 51.04%,#42ffbd 52.63%,#2effd1 54.23%,#1bffe4 55.82%,#10ffef 57.42%,#10ffef 59.01%,#10ffef 60.61%,#10ffef 62.20%,#1dffe2 63.80%,#2bffd4 65.39%,#3affc5 66.99%,#47ffb8 68.58%,#53ffac 70.18%,#60ff9f 71.77%,#6dff92 73.37%,#75ff8a 74.96%,#7cff83 76.56%,#83ff7c 78.15%,#8aff75 79.74%,#91ff6e 81.34%,#96ff69 82.93%,#99ff66 84.53%,#9bff64 86.12%,#9eff61 87.72%,#a0ff5f 89.31%,#a3ff5c 90.91%,#a5ff5a 92.50%,#a8ff57 94.10%,#aaff55 95.69%,#aaff55 97.29%,#aaff55 98.88%,#aaff55 100.00%)"></i><i style="background:linear-gradient(#b5ff4a 0.00%,#b5ff4a 1.59%,#b5ff4a 3.19%,#b0ff4f 4.78%,#a7ff58 6.38%,#9eff61 7.97%,#95ff6a 9.57%,#8cff73 11.16%,#8aff75 12.76%,#8aff75 14.35%,#8aff75 15.95%,#8eff71 17.54%,#92ff6d 19.14%,#97ff68 20.73%,#9bff64 22.33%,#9fff60 23.92%,#9cff63 25.52%,#9aff65 27.11%,#97ff68 28.71%,#95ff6a 30.30%,#99ff66 31.90%,#9eff61 33.49%,#a2ff5d 35.09%,#a7ff58 36.68%,#adff52 38.28%,#baff45 39.87%,#c7ff38 41.47%,#d4ff2b 43.06%,#dbff24 44.66%,#b9ff46 46.25%,#98ff67 47.85%,#77ff88 49.44%,#55ffaa 51.04%,#42ffbd 52.63%,#2effd1 54.23%,#1bffe4 55.82%,#10ffef 57.42%,#10ffef 59.01%,#10ffef 60.61%,#10ffef 62.20%,#1dffe2 63.80%,#2bffd4 65.39%,#3affc5 66.99%,#47ffb8 68.58%,#53ffac 70.18%,#60ff9f 71.77%,#6dff92 73.37%,#75ff8a 74.96%,#7cff83 76.56%,#83ff7c 78.15%,#8aff75 79.74%,#91ff6e 81.34%,#96ff69 82.93%,#99ff66 84.53%,#9bff64 86.12%,#9eff61 87.72%,#a0ff5f 89.31%,#a3ff5c 90.91%,#a5ff5a 92.50%,#a8ff57 94.10%,#aaff55 95.69%,#aaff55 97.29%,#aaff55 98.88%,#aaff55 100.00%)"></i><i style="background:linear-gradient(#b5ff4a 0.00%,#b5ff4a 1.59%,#b5ff4a 3.19%,#b0ff4f 4.78%,#a7ff58 6.38%,#9eff61 7.97%,#95ff6a 9.57%,#8cff73 11.16%,#8aff75 12.76%,#8aff75 14.35%,#8aff75 15.95%,#8eff71 17.54%,#92ff6d 19.14%,#97ff68 20.73%,#9bff64 22.33%,#9fff60 23.92%,#9cff63 25.52%,#9aff65 27.11%,#97ff68 28.71%,#95ff6a 30.30%,#99ff66 31.90%,#9eff61 33.49%,#a2ff5d 35.09%,#a7ff58 36.68%,#adff52 38.28%,#baff45 39.87%,#c7ff38 41.47%,#d4ff2b 43.06%,#dbff24 44.66%,#b9ff46 46.25%,#98ff67 47.85%,#77ff88 49.44%,#55ffaa 51.04%,#42ffbd 52.63%,#2effd1 54.23%,#1bffe4 55.82%,#10ffef 57.42%,#10ffef 59.01%,#10ffef 60.61%,#10ffef 62.20%,#1dffe2 63.80%,#2bffd4 65.39%,#3affc5 66.99%,#47ffb8 68.58%,#53ffac 70.18%,#60ff9f 71.77%,#6dff92 73.37%,#75ff8a 74.96%,#7cff83 76.56%,#83ff7c 78.15%,#8aff75 79.74%,#91ff6e 81.34%,#96ff69 82.93%,#99ff66 84.53%,#9bff64 86.12%,#9eff61 87.72%,#a0ff5f 89.31%,#a3ff5c 90.91%,#a5ff5a 92.50%,#a8ff57 94.10%,#aaff55 95.69%,#aaff55 97.29%,#aaff55 98.88%,#aaff55 100.00%)"></i><i style="background:linear-gradient(#b5ff4a 0.00%,#b5ff4a 1.59%,#b5ff4a 3.19%,#b0ff4f 4.78%,#a7ff58 6.38%,#9eff61 7.97%,#95ff6a 9.57%,#8cff73 11.16%,#8aff75 12.76%,#8aff75 14.35%,#8aff75 15.95%,#8eff71 17.54%,#92ff6d 19.14%,#97ff68 20.73%,#9bff64 22.33%,#9fff60 23.92%,#9cff63 25.52%,#9aff65 27.11%,#97ff68 28.71%,#95ff6a 30.30%,#99ff66 31.90%,#9eff61 33.49%,#a2ff5d 35.09%,#a7ff58 36.68%,#adff52 38.28%,#baff45 39.87%,#c7ff38 41.47%,#d4ff2b 43.06%,#dbff24 44.66%,#b9ff46 46.25%,#98ff67 47.85%,#77ff88 49.44%,#55ffaa 51.04%,#42ffbd 52.63%,#2effd1 54.23%,#1bffe4 55.82%,#10ffef 57.42%,#10ffef 59.01%,#10ffef 60.61%,#10ffef 62.20%,#1dffe2 63.80%,#2bffd4 65.39%,#3affc5 66.99%,#47ffb8 68.58%,#53ffac 70.18%,#60ff9f 71.77%,#6dff92 73.37%,#75ff8a 74.96%,#7cff83 76.56%,#83ff7c 78.15%,#8aff75 79.74%,#91ff6e 81.34%,#96ff69 82.93%,#99ff66 84.53%,#9bff64 86.12%,#9eff61 87.72%,#a0ff5f 89.31%,#a3ff5c 90.91%,#a5ff5a 92.50%,#a8ff57 94.10%,#aaff55 95.69%,#aaff55 97.29%,#aaff55 98.88%,#aaff55 100.00%)"></i></div></div>
<div class="hm" style="left:59.4px;top:387.9px;width:719.1px;height:238.8px"><div class="hi" style="left:-12px;width:756px"><i style="background:linear-gradient(#8aff75 0.00%,#8aff75 1.59%,#8aff75 3.19%,#8aff75 4.78%,#8aff75 6.38%,#8aff75 7.97%,#8aff75 9.57%,#8aff75 11.16%,#80ff7f 12.76%,#73ff8c 14.35%,#67ff98 15.95%,#52ffad 17.54%,#3dffc2 19.14%,#27ffd8 20.73%,#1cffe3 22.33%,#11ffee 23.92%,#07fff8 25.52%,#00f5ff 27.11%,#00daff 28.71%,#00bfff 30.30%,#008eff 31.90%,#005dff 33.49%,#004aff 35.09%,#004aff 36.68%,#004aff 38.28%,#004aff 39.87%,#0068ff 41.47%,#00a4ff 43.06%,#00cfff 44.66%,#00f2ff 46.25%,#00cdff 47.85%,#009aff 49.44%,#0040ff 51.04%,#0000ff 52.63%,#0000cd 54.23%,#0000aa 55.82%,#0000aa 57.42%,#0000aa 59.01%,#0000aa 60.61%,#0000c0 62.20%,#0000f0 63.80%,#0027ff 65.39%,#005dff 66.99%,#0093ff 68.58%,#00c4ff 70.18%,#00f4ff 71.77%,#24ffdb 73.37%,#53ffac 74.96%,#80ff7f 76.56%,#aaff55 78.15%,#d3ff2c 79.74%,#f7ff08 81.34%,#ffe300 82.93%,#ffcf00 84.53%,#ffbd00 86.12%,#ffab00 87.72%,#ff9c00 89.31%,#ff9100 90.91%,#ff8700 92.50%,#ff7d00 94.10%,#ff7500 95.69%,#ff7500 97.29%,#ff7500 98.88%,#ff7500 100.00%)"></i><i style="background:linear-gradient(#8aff75 0.00%,#8aff75 1.59%,#8aff75 3.19%,#8aff75 4.78%,#8aff75 6.38%,#8aff75 7.97%,#8aff75 9.57%,#8aff75 11.16%,#80ff7f 12.76%,#73ff8c 14.35%,#67ff98 15.95%,#52ffad 17.54%,#3dffc2 19.14%,#27ffd8 20.73%,#1cffe3 22.33%,#11ffee 23.92%,#07fff8 25.52%,#00f5ff 27.11%,#00daff 28.71%,#00bfff 30.30%,#008eff 31.90%,#005dff 33.49%,#004aff 35.09%,#004aff 36.68%,#004aff 38.28%,#004aff 39.87%,#0068ff 41.47%,#00a4ff 43.06%,#00cfff 44.66%,#00f2ff 46.25%,#00cdff 47.85%,#009aff 49.44%,#0040ff 51.04%,#0000ff 52.63%,#0000cd 54.23%,#0000aa 55.82%,#0000aa 57.42%,#0000aa 59.01%,#0000aa 60.61%,#0000c0 62.20%,#0000f0 63.80%,#0027ff 65.39%,#005dff 66.99%,#0093ff 68.58%,#00c4ff 70.18%,#00f4ff 71.77%,#24ffdb 73.37%,#53ffac 74.96%,#80ff7f 76.56%,#aaff55 78.15%,#d3ff2c 79.74%,#f7ff08 81.34%,#ffe300 82.93%,#ffcf00 84.53%,#ffbd00 86.12%,#ffab00 87.72%,#ff9c00 89.31%,#ff9100 90.91%,#ff8700 92.50%,#ff7d00 94.10%,#ff7500 95.69%,#ff7500 97.29%,#ff7500 98.88%,#ff7500 100.00%)"></i><i style="background:linear-gradient(#8eff71 0.00%,#8eff71 1.59%,#8eff71 3.19%,#8eff71 4.78%,#8eff71 6.38%,#8eff71 7.97%,#8eff71 9.57%,#8eff71 11.16%,#83ff7c 12.76%,#76ff89 14.35%,#69ff96 15.95%,#54ffab 17.54%,#3fffc0 19.14%,#29ffd6 20.73%,#1dffe2 22.33%,#13ffec 23.92%,#08fff7 25.52%,#00f6ff 27.11%,#00dcff 28.71%,#00c1ff 30.30%,#0090ff 31.90%,#005eff 33.49%,#004cff 35.09%,#004cff 36.68%,#004cff 38.28%,#004cff 39.87%,#006aff 41.47%,#00a6ff 43.06%,#00d0ff 44.66%,#00f3ff 46.25%,#00ccff 47.85%,#0099ff 49.44%,#003fff 51.04%,#0000fd 52.63%,#0000c9 54.23%,#0000a3 55.82%,#0000a3 57.42%,#0000a3 59.01%,#0000a3 60.61%,#0000ba 62.20%,#0000ea 63.80%,#0021ff 65.39%,#0057ff 66.99%,#008cff 68.58%,#00beff 70.18%,#00f0ff 71.77%,#1effe1 73.37%,#4affb5 74.96%,#75ff8a 76.56%,#a0ff5f 78.15%,#c9ff36 79.74%,#eeff11 81.34%,#ffeb00 82.93%,#ffd700 84.53%,#ffc500 86.12%,#ffb400 87.72%,#ffa500 89.31%,#ff9b00 90.91%,#ff9100 92.50%,#ff8700 94.10%,#ff7f00 95.69%,#ff7f00 97.29%,#ff7f00 98.88%,#ff7f00 100.00%)"></i><i style="background:linear-gradient(#92ff6d 0.00%,#92ff6d 1.59%,#92ff6d 3.19%,#92ff6d 4.78%,#92ff6d 6.38%,#92ff6d 7.97%,#92ff6d 9.57%,#92ff6d 11.16%,#86ff79 12.76%,#79ff86 14.35%,#6bff94 15.95%,#56ffa9 17.54%,#41ffbe 19.14%,#2bffd4 20.73%,#1fffe0 22.33%,#14ffeb 23.92%,#09fff6 25.52%,#00f8ff 27.11%,#00ddff 28.71%,#00c3ff 30.30%,#0092ff 31.90%,#0060ff 33.49%,#004eff 35.09%,#004eff 36.68%,#004eff 38.28%,#004eff 39.87%,#006cff 41.47%,#00a8ff 43.06%,#00d2ff 44.66%,#00f4ff 46.25%,#00cbff 47.85%,#0097ff 49.44%,#003dff 51.04%,#0000fb 52.63%,#0000c5 54.23%,#00009b 55.82%,#00009b 57.42%,#00009b 59.01%,#00009b 60.61%,#0000b2 62.20%,#0000e4 63.80%,#001bff 65.39%,#0050ff 66.99%,#0084ff 68.58%,#00b8ff 70.18%,#00ecff 71.77%,#16ffe9 73.37%,#3fffc0 74.96%,#69ff96 76.56%,#94ff6b 78.15%,#bdff42 79.74%,#e3ff1c 81.34%,#fff400 82.93%,#ffe100 84.53%,#ffcf00 86.12%,#ffbe00 87.72%,#ffaf00 89.31%,#ffa500 90.91%,#ff9b00 92.50%,#ff9200 94.10%,#ff8a00 95.69%,#ff8a00 97.29%,#ff8a00 98.88%,#ff8a00 100.00%)"></i><i style="background:linear-gradient(#96ff69 0.00%,#96ff69 1.59%,#96ff69 3.19%,#96ff69 4.78%,#96ff69 6.38%,#96ff69 7.97%,#96ff69 9.57%,#96ff69 11.16%,#8aff75 12.76%,#7bff84 14.35%,#6dff92 15.95%,#58ffa7 17.54%,#43ffbc 19.14%,#2dffd2 20.73%,#21ffde 22.33%,#15ffea 23.92%,#0afff5 25.52%,#00f9ff 27.11%,#00dfff 28.71%,#00c5ff 30.30%,#0094ff 31.90%,#0062ff 33.49%,#0050ff 35.09%,#0050ff 36.68%,#0050ff 38.28%,#0050ff 39.87%,#006eff 41.47%,#00aaff 43.06%,#00d3ff 44.66%,#00f5ff 46.25%,#00cbff 47.85%,#0095ff 49.44%,#003bff 51.04%,#0000f9 52.63%,#0000c1 54.23%,#000093 55.82%,#000093 57.42%,#000093 59.01%,#000093 60.61%,#0000ab 62.20%,#0000de 63.80%,#0015ff 65.39%,#0049ff 66.99%,#007cff 68.58%,#00b2ff 70.18%,#00e8ff 71.77%,#0ffff0 73.37%,#34ffcb 74.96%,#5dffa2 76.56%,#87ff78 78.15%,#b1ff4e 79.74%,#d9ff26 81.34%,#fffd00 82.93%,#ffea00 84.53%,#ffd900 86.12%,#ffc800 87.72%,#ffb900 89.31%,#ffb000 90.91%,#ffa600 92.50%,#ff9c00 94.10%,#ff9500 95.69%,#ff9500 97.29%,#ff9500 98.88%,#ff9500 100.00%)"></i><i style="background:linear-gradient(#9aff65 0.00%,#9aff65 1.59%,#9aff65 3.19%,#9aff65 4.78%,#9aff65 6.38%,#9aff65 7.97%,#9aff65 9.57%,#9aff65 11.16%,#8dff72 12.76%,#7eff81 14.35%,#6fff90 15.95%,#5affa5 17.54%,#45ffba 19.14%,#2fffd0 20.73%,#23ffdc 22.33%,#17ffe8 23.92%,#0bfff4 25.52%,#00faff 27.11%,#00e1ff 28.71%,#00c7ff 30.30%,#0096ff 31.90%,#0065ff 33.49%,#0052ff 35.09%,#0052ff 36.68%,#0052ff 38.28%,#0052ff 39.87%,#0070ff 41.47%,#00acff 43.06%,#00d5ff 44.66%,#00f7ff 46.25%,#00caff 47.85%,#0092ff 49.44%,#0039ff 51.04%,#0000f7 52.63%,#0000bd 54.23%,#00008b 55.82%,#00008b 57.42%,#00008b 59.01%,#00008b 60.61%,#0000a4 62.20%,#0000d8 63.80%,#000fff 65.39%,#0043ff 66.99%,#0074ff 68.58%,#00abff 70.18%,#00e4ff 71.77%,#07fff8 73.37%,#29ffd6 74.96%,#50ffaf 76.56%,#7bff84 78.15%,#a5ff5a 79.74%,#ceff31 81.34%,#f7ff08 82.93%,#fff300 84.53%,#ffe200 86.12%,#ffd200 87.72%,#ffc300 89.31%,#ffba00 90.91%,#ffb100 92.50%,#ffa700 94.10%,#ffa000 95.69%,#ffa000 97.29%,#ffa000 98.88%,#ffa000 100.00%)"></i><i style="background:linear-gradient(#9eff61 0.00%,#9eff61 1.59%,#9eff61 3.19%,#9eff61 4.78%,#9eff61 6.38%,#9eff61 7.97%,#9eff61 9.57%,#9eff61 11.16%,#91ff6e 12.76%,#81ff7e 14.35%,#71ff8e 15.95%,#5cffa3 17.54%,#47ffb8 19.14%,#31ffce 20.73%,#24ffdb 22.33%,#18ffe7 23.92%,#0dfff2 25.52%,#00fbff 27.11%,#00e2ff 28.71%,#00c9ff 30.30%,#0098ff 31.90%,#0067ff 33.49%,#0054ff 35.09%,#0054ff 36.68%,#0054ff 38.28%,#0054ff 39.87%,#0072ff 41.47%,#00aeff 43.06%,#00d6ff 44.66%,#00f8ff 46.25%,#00caff 47.85%,#0090ff 49.44%,#0037ff 51.04%,#0000f5 52.63%,#0000b8 54.23%,#000082 55.82%,#000082 57.42%,#000082 59.01%,#000082 60.61%,#00009d 62.20%,#0000d2 63.80%,#0009ff 65.39%,#003cff 66.99%,#006cff 68.58%,#00a5ff 70.18%,#00e0ff 71.77%,#00ffff 73.37%,#1effe1 74.96%,#44ffbb 76.56%,#6fff90 78.15%,#9aff65 79.74%,#c4ff3b 81.34%,#eeff11 82.93%,#fffd00 84.53%,#ffec00 86.12%,#ffdc00 87.72%,#ffce00 89.31%,#ffc500 90.91%,#ffbb00 92.50%,#ffb200 94.10%,#ffab00 95.69%,#ffab00 97.29%,#ffab00 98.88%,#ffab00 100.00%)"></i><i style="background:linear-gradient(#9eff61 0.00%,#9eff61 1.59%,#9eff61 3.19%,#9eff61 4.78%,#9eff61 6.38%,#9eff61 7.97%,#9eff61 9.57%,#9eff61 11.16%,#91ff6e 12.76%,#82ff7d 14.35%,#72ff8d 15.95%,#5effa1 17.54%,#49ffb6 19.14%,#34ffcb 20.73%,#27ffd8 22.33%,#1bffe4 23.92%,#0ffff0 25.52%,#00fdff 27.11%,#00e5ff 28.71%,#00ccff 30.30%,#009dff 31.90%,#006dff 33.49%,#005cff 35.09%,#005cff 36.68%,#005cff 38.28%,#005cff 39.87%,#0078ff 41.47%,#00b1ff 43.06%,#00d8ff 44.66%,#00f8ff 46.25%,#00caff 47.85%,#0091ff 49.44%,#0037ff 51.04%,#0000f6 52.63%,#0000bb 54.23%,#000086 55.82%,#000086 57.42%,#000086 59.01%,#000086 60.61%,#0000a0 62.20%,#0000d3 63.80%,#0009ff 65.39%,#003bff 66.99%,#006cff 68.58%,#00a5ff 70.18%,#00dfff 71.77%,#00fdff 73.37%,#1bffe4 74.96%,#3fffc0 76.56%,#68ff97 78.15%,#91ff6e 79.74%,#baff45 81.34%,#e3ff1c 82.93%,#f6ff09 84.53%,#fff800 86.12%,#ffe900 87.72%,#ffdb00 89.31%,#ffd200 90.91%,#ffca00 92.50%,#ffc100 94.10%,#ffba00 95.69%,#ffba00 97.29%,#ffba00 98.88%,#ffba00 100.00%)"></i><i style="background:linear-gradient(#9cff63 0.00%,#9cff63 1.59%,#9cff63 3.19%,#9cff63 4.78%,#9cff63 6.38%,#9cff63 7.97%,#9cff63 9.57%,#9cff63 11.16%,#90ff6f 12.76%,#81ff7e 14.35%,#72ff8d 15.95%,#5effa1 17.54%,#4affb5 19.14%,#36ffc9 20.73%,#29ffd6 22.33%,#1dffe2 23.92%,#11ffee 25.52%,#01fffe 27.11%,#00e8ff 28.71%,#00d0ff 30.30%,#00a4ff 31.90%,#0077ff 33.49%,#0067ff 35.09%,#0067ff 36.68%,#0067ff 38.28%,#0067ff 39.87%,#0081ff 41.47%,#00b6ff 43.06%,#00daff 44.66%,#00f8ff 46.25%,#00cbff 47.85%,#0093ff 49.44%,#0039ff 51.04%,#0000f9 52.63%,#0000c1 54.23%,#000091 55.82%,#000091 57.42%,#000091 59.01%,#000091 60.61%,#0000a8 62.20%,#0000d8 63.80%,#000cff 65.39%,#003dff 66.99%,#0071ff 68.58%,#00a9ff 70.18%,#00dfff 71.77%,#00feff 73.37%,#1cffe3 74.96%,#3fffc0 76.56%,#65ff9a 78.15%,#8bff74 79.74%,#b1ff4e 81.34%,#d7ff28 82.93%,#eaff15 84.53%,#f9ff06 86.12%,#fff700 87.72%,#ffeb00 89.31%,#ffe200 90.91%,#ffd900 92.50%,#ffd100 94.10%,#ffca00 95.69%,#ffca00 97.29%,#ffca00 98.88%,#ffca00 100.00%)"></i><i style="background:linear-gradient(#9bff64 0.00%,#9bff64 1.59%,#9bff64 3.19%,#9bff64 4.78%,#9bff64 6.38%,#9bff64 7.97%,#9bff64 9.57%,#9bff64 11.16%,#8fff70 12.76%,#80ff7f 14.35%,#72ff8d 15.95%,#5fffa0 17.54%,#4cffb3 19.14%,#39ffc6 20.73%,#2cffd3 22.33%,#20ffdf 23.92%,#14ffeb 25.52%,#04fffb 27.11%,#00ebff 28.71%,#00d3ff 30.30%,#00aaff 31.90%,#0081ff 33.49%,#0071ff 35.09%,#0071ff 36.68%,#0071ff 38.28%,#0071ff 39.87%,#008aff 41.47%,#00bbff 43.06%,#00ddff 44.66%,#00f8ff 46.25%,#00ccff 47.85%,#0094ff 49.44%,#003bff 51.04%,#0000fc 52.63%,#0000c7 54.23%,#00009c 55.82%,#00009c 57.42%,#00009c 59.01%,#00009c 60.61%,#0000b1 62.20%,#0000dc 63.80%,#000eff 65.39%,#0040ff 66.99%,#0075ff 68.58%,#00adff 70.18%,#00dfff 71.77%,#00ffff 73.37%,#1dffe2 74.96%,#3effc1 76.56%,#62ff9d 78.15%,#85ff7a 79.74%,#a8ff57 81.34%,#cbff34 82.93%,#deff21 84.53%,#ebff14 86.12%,#f8ff07 87.72%,#fffb00 89.31%,#fff200 90.91%,#ffe900 92.50%,#ffe100 94.10%,#ffda00 95.69%,#ffda00 97.29%,#ffda00 98.88%,#ffda00 100.00%)"></i><i style="background:linear-gradient(#99ff66 0.00%,#99ff66 1.59%,#99ff66 3.19%,#99ff66 4.78%,#99ff66 6.38%,#99ff66 7.97%,#99ff66 9.57%,#99ff66 11.16%,#8dff72 12.76%,#7fff80 14.35%,#72ff8d 15.95%,#60ff9f 17.54%,#4effb1 19.14%,#3bffc4 20.73%,#2fffd0 22.33%,#23ffdc 23.92%,#17ffe8 25.52%,#07fff8 27.11%,#00eeff 28.71%,#00d7ff 30.30%,#00b1ff 31.90%,#008aff 33.49%,#007cff 35.09%,#007cff 36.68%,#007cff 38.28%,#007cff 39.87%,#0092ff 41.47%,#00c0ff 43.06%,#00dfff 44.66%,#00f8ff 46.25%,#00cdff 47.85%,#0096ff 49.44%,#003cff 51.04%,#0000ff 52.63%,#0000cd 54.23%,#0000a7 55.82%,#0000a7 57.42%,#0000a7 59.01%,#0000a7 60.61%,#0000ba 62.20%,#0000e1 63.80%,#0011ff 65.39%,#0042ff 66.99%,#0079ff 68.58%,#00b1ff 70.18%,#00dfff 71.77%,#01fffe 73.37%,#1effe1 74.96%,#3dffc2 76.56%,#5effa1 78.15%,#7eff81 79.74%,#9fff60 81.34%,#bfff40 82.93%,#d2ff2d 84.53%,#deff21 86.12%,#e9ff16 87.72%,#f4ff0b 89.31%,#fcff03 90.91%,#fff900 92.50%,#fff100 94.10%,#ffea00 95.69%,#ffea00 97.29%,#ffea00 98.88%,#ffea00 100.00%)"></i><i style="background:linear-gradient(#97ff68 0.00%,#97ff68 1.59%,#97ff68 3.19%,#97ff68 4.78%,#97ff68 6.38%,#97ff68 7.97%,#97ff68 9.57%,#97ff68 11.16%,#8cff73 12.76%,#7fff80 14.35%,#71ff8e 15.95%,#61ff9e 17.54%,#4fffb0 19.14%,#3effc1 20.73%,#31ffce 22.33%,#25ffda 23.92%,#19ffe6 25.52%,#0afff5 27.11%,#00f2ff 28.71%,#00dbff 30.30%,#00b7ff 31.90%,#0094ff 33.49%,#0087ff 35.09%,#0087ff 36.68%,#0087ff 38.28%,#0087ff 39.87%,#009bff 41.47%,#00c4ff 43.06%,#00e1ff 44.66%,#00f8ff 46.25%,#00ceff 47.85%,#0098ff 49.44%,#003eff 51.04%,#0003ff 52.63%,#0000d3 54.23%,#0000b1 55.82%,#0000b1 57.42%,#0000b1 59.01%,#0000b1 60.61%,#0000c3 62.20%,#0000e6 63.80%,#0014ff 65.39%,#0045ff 66.99%,#007dff 68.58%,#00b6ff 70.18%,#00dfff 71.77%,#02fffd 73.37%,#1fffe0 74.96%,#3cffc3 76.56%,#5bffa4 78.15%,#78ff87 79.74%,#95ff6a 81.34%,#b3ff4c 82.93%,#c6ff39 84.53%,#d1ff2e 86.12%,#dbff24 87.72%,#e4ff1b 89.31%,#ecff13 90.91%,#f5ff0a 92.50%,#fdff02 94.10%,#fffa00 95.69%,#fffa00 97.29%,#fffa00 98.88%,#fffa00 100.00%)"></i><i style="background:linear-gradient(#95ff6a 0.00%,#95ff6a 1.59%,#95ff6a 3.19%,#95ff6a 4.78%,#95ff6a 6.38%,#95ff6a 7.97%,#95ff6a 9.57%,#95ff6a 11.16%,#8bff74 12.76%,#7eff81 14.35%,#71ff8e 15.95%,#61ff9e 17.54%,#51ffae 19.14%,#41ffbe 20.73%,#34ffcb 22.33%,#28ffd7 23.92%,#1cffe3 25.52%,#0cfff3 27.11%,#00f5ff 28.71%,#00deff 30.30%,#00beff 31.90%,#009eff 33.49%,#0092ff 35.09%,#0092ff 36.68%,#0092ff 38.28%,#0092ff 39.87%,#00a4ff 41.47%,#00c9ff 43.06%,#00e3ff 44.66%,#00f9ff 46.25%,#00cfff 47.85%,#009aff 49.44%,#0040ff 51.04%,#0006ff 52.63%,#0000d9 54.23%,#0000bc 55.82%,#0000bc 57.42%,#0000bc 59.01%,#0000bc 60.61%,#0000cb 62.20%,#0000eb 63.80%,#0017ff 65.39%,#0047ff 66.99%,#0082ff 68.58%,#00baff 70.18%,#00dfff 71.77%,#03fffc 73.37%,#20ffdf 74.96%,#3cffc3 76.56%,#57ffa8 78.15%,#72ff8d 79.74%,#8cff73 81.34%,#a6ff59 82.93%,#bbff44 84.53%,#c3ff3c 86.12%,#ccff33 87.72%,#d4ff2b 89.31%,#ddff22 90.91%,#e5ff1a 92.50%,#edff12 94.10%,#f4ff0b 95.69%,#f4ff0b 97.29%,#f4ff0b 98.88%,#f4ff0b 100.00%)"></i><i style="background:linear-gradient(#9bff64 0.00%,#9bff64 1.59%,#9bff64 3.19%,#9bff64 4.78%,#9bff64 6.38%,#9bff64 7.97%,#9bff64 9.57%,#9bff64 11.16%,#90ff6f 12.76%,#82ff7d 14.35%,#75ff8a 15.95%,#64ff9b 17.54%,#54ffab 19.14%,#43ffbc 20.73%,#37ffc8 22.33%,#2bffd4 23.92%,#1fffe0 25.52%,#10ffef 27.11%,#00fdff 28.71%,#00ebff 30.30%,#00cbff 31.90%,#00aaff 33.49%,#009fff 35.09%,#009fff 36.68%,#009fff 38.28%,#009fff 39.87%,#00b2ff 41.47%,#00d2ff 43.06%,#00e8ff 44.66%,#00faff 46.25%,#00d6ff 47.85%,#00aaff 49.44%,#0052ff 51.04%,#0012ff 52.63%,#0000e2 54.23%,#0000c9 55.82%,#0000c9 57.42%,#0000c9 59.01%,#0000c9 60.61%,#0000d9 62.20%,#0000f9 63.80%,#0024ff 65.39%,#0052ff 66.99%,#008fff 68.58%,#00c7ff 70.18%,#00e7ff 71.77%,#08fff7 73.37%,#23ffdc 74.96%,#3dffc2 76.56%,#57ffa8 78.15%,#6fff90 79.74%,#88ff77 81.34%,#a0ff5f 82.93%,#b4ff4b 84.53%,#bdff42 86.12%,#c5ff3a 87.72%,#ceff31 89.31%,#d7ff28 90.91%,#e0ff1f 92.50%,#e8ff17 94.10%,#efff10 95.69%,#efff10 97.29%,#efff10 98.88%,#efff10 100.00%)"></i><i style="background:linear-gradient(#a4ff5b 0.00%,#a4ff5b 1.59%,#a4ff5b 3.19%,#a4ff5b 4.78%,#a4ff5b 6.38%,#a4ff5b 7.97%,#a4ff5b 9.57%,#a4ff5b 11.16%,#98ff67 12.76%,#89ff76 14.35%,#7aff85 15.95%,#68ff97 17.54%,#57ffa8 19.14%,#45ffba 20.73%,#39ffc6 22.33%,#2dffd2 23.92%,#21ffde 25.52%,#15ffea 27.11%,#08fff7 28.71%,#00fbff 30.30%,#00daff 31.90%,#00b9ff 33.49%,#00acff 35.09%,#00acff 36.68%,#00acff 38.28%,#00aeff 39.87%,#00c3ff 41.47%,#00ddff 43.06%,#00efff 44.66%,#00fdff 46.25%,#00e1ff 47.85%,#00c0ff 49.44%,#0069ff 51.04%,#0021ff 52.63%,#0000ed 54.23%,#0000d7 55.82%,#0000d7 57.42%,#0000d7 59.01%,#0000d7 60.61%,#0000e8 62.20%,#000bff 63.80%,#0034ff 65.39%,#0060ff 66.99%,#009fff 68.58%,#00d9ff 70.18%,#00f3ff 71.77%,#0efff1 73.37%,#26ffd9 74.96%,#3effc1 76.56%,#57ffa8 78.15%,#6eff91 79.74%,#85ff7a 81.34%,#9dff62 82.93%,#b0ff4f 84.53%,#b9ff46 86.12%,#c2ff3d 87.72%,#ccff33 89.31%,#d5ff2a 90.91%,#deff21 92.50%,#e8ff17 94.10%,#efff10 95.69%,#efff10 97.29%,#efff10 98.88%,#efff10 100.00%)"></i><i style="background:linear-gradient(#aaff55 0.00%,#aaff55 1.59%,#aaff55 3.19%,#aaff55 4.78%,#aaff55 6.38%,#aaff55 7.97%,#aaff55 9.57%,#aaff55 11.16%,#9dff62 12.76%,#8dff72 14.35%,#7dff82 15.95%,#6bff94 17.54%,#5affa5 19.14%,#48ffb7 20.73%,#3cffc3 22.33%,#30ffcf 23.92%,#24ffdb 25.52%,#19ffe6 27.11%,#10ffef 28.71%,#07fff8 30.30%,#00e6ff 31.90%,#00c6ff 33.49%,#00baff 35.09%,#00b9ff 36.68%,#00b9ff 38.28%,#00bcff 39.87%,#00d1ff 41.47%,#00e7ff 43.06%,#00f5ff 44.66%,#01fffe 46.25%,#00e9ff 47.85%,#00cfff 49.44%,#007bff 51.04%,#002dff 52.63%,#0000f8 54.23%,#0000e3 55.82%,#0000e3 57.42%,#0000e3 59.01%,#0000e3 60.61%,#0000f4 62.20%,#0019ff 63.80%,#0041ff 65.39%,#006cff 66.99%,#00abff 68.58%,#00e4ff 70.18%,#00faff 71.77%,#11ffee 73.37%,#28ffd7 74.96%,#3fffc0 76.56%,#57ffa8 78.15%,#6dff92 79.74%,#83ff7c 81.34%,#99ff66 82.93%,#acff53 84.53%,#b6ff49 86.12%,#c0ff3f 87.72%,#caff35 89.31%,#d4ff2b 90.91%,#ddff22 92.50%,#e7ff18 94.10%,#efff10 95.69%,#efff10 97.29%,#efff10 98.88%,#efff10 100.00%)"></i><i style="background:linear-gradient(#aaff55 0.00%,#aaff55 1.59%,#aaff55 3.19%,#aaff55 4.78%,#aaff55 6.38%,#aaff55 7.97%,#aaff55 9.57%,#aaff55 11.16%,#9dff62 12.76%,#8dff72 14.35%,#7eff81 15.95%,#6dff92 17.54%,#5cffa3 19.14%,#4cffb3 20.73%,#3fffc0 22.33%,#33ffcc 23.92%,#27ffd8 25.52%,#1cffe3 27.11%,#13ffec 28.71%,#0afff5 30.30%,#00eeff 31.90%,#00d2ff 33.49%,#00c6ff 35.09%,#00c4ff 36.68%,#00c6ff 38.28%,#00c9ff 39.87%,#00dcff 41.47%,#00f0ff 43.06%,#00fcff 44.66%,#06fff9 46.25%,#00f0ff 47.85%,#00d5ff 49.44%,#0085ff 51.04%,#0036ff 52.63%,#0003ff 54.23%,#0000ed 55.82%,#0000ed 57.42%,#0000ed 59.01%,#0000ed 60.61%,#0000fe 62.20%,#0020ff 63.80%,#004aff 65.39%,#0077ff 66.99%,#00b2ff 68.58%,#00e7ff 70.18%,#00fcff 71.77%,#12ffed 73.37%,#29ffd6 74.96%,#3fffc0 76.56%,#56ffa9 78.15%,#6cff93 79.74%,#82ff7d 81.34%,#97ff68 82.93%,#a9ff56 84.53%,#b4ff4b 86.12%,#bfff40 87.72%,#c9ff36 89.31%,#d3ff2c 90.91%,#dcff23 92.50%,#e6ff19 94.10%,#eeff11 95.69%,#eeff11 97.29%,#eeff11 98.88%,#eeff11 100.00%)"></i><i style="background:linear-gradient(#aaff55 0.00%,#aaff55 1.59%,#aaff55 3.19%,#aaff55 4.78%,#aaff55 6.38%,#aaff55 7.97%,#aaff55 9.57%,#aaff55 11.16%,#9dff62 12.76%,#8eff71 14.35%,#7fff80 15.95%,#6fff90 17.54%,#5fffa0 19.14%,#4fffb0 20.73%,#43ffbc 22.33%,#37ffc8 23.92%,#2bffd4 25.52%,#20ffdf 27.11%,#17ffe8 28.71%,#0efff1 30.30%,#00f5ff 31.90%,#00deff 33.49%,#00d3ff 35.09%,#00cfff 36.68%,#00d2ff 38.28%,#00d7ff 39.87%,#00e8ff 41.47%,#00f8ff 43.06%,#03fffc 44.66%,#0afff5 46.25%,#00f7ff 47.85%,#00daff 49.44%,#008eff 51.04%,#003eff 52.63%,#000eff 54.23%,#0000f7 55.82%,#0000f7 57.42%,#0000f7 59.01%,#0000f7 60.61%,#0008ff 62.20%,#0028ff 63.80%,#0053ff 65.39%,#0082ff 66.99%,#00b8ff 68.58%,#00e9ff 70.18%,#00feff 71.77%,#13ffec 73.37%,#29ffd6 74.96%,#3fffc0 76.56%,#56ffa9 78.15%,#6cff93 79.74%,#80ff7f 81.34%,#94ff6b 82.93%,#a6ff59 84.53%,#b3ff4c 86.12%,#beff41 87.72%,#c8ff37 89.31%,#d1ff2e 90.91%,#dbff24 92.50%,#e5ff1a 94.10%,#edff12 95.69%,#edff12 97.29%,#edff12 98.88%,#edff12 100.00%)"></i><i style="background:linear-gradient(#aaff55 0.00%,#aaff55 1.59%,#aaff55 3.19%,#aaff55 4.78%,#aaff55 6.38%,#aaff55 7.97%,#aaff55 9.57%,#aaff55 11.16%,#9eff61 12.76%,#8fff70 14.35%,#7fff80 15.95%,#70ff8f 17.54%,#62ff9d 19.14%,#53ffac 20.73%,#46ffb9 22.33%,#3bffc4 23.92%,#2fffd0 25.52%,#24ffdb 27.11%,#1bffe4 28.71%,#12ffed 30.30%,#00fdff 31.90%,#00eaff 33.49%,#00dfff 35.09%,#00daff 36.68%,#00deff 38.28%,#00e4ff 39.87%,#00f3ff 41.47%,#02fffd 43.06%,#0afff5 44.66%,#0ffff0 46.25%,#00fdff 47.85%,#00dfff 49.44%,#0097ff 51.04%,#0046ff 52.63%,#0019ff 54.23%,#0002ff 55.82%,#0002ff 57.42%,#0002ff 59.01%,#0002ff 60.61%,#0011ff 62.20%,#0030ff 63.80%,#005cff 65.39%,#008cff 66.99%,#00bfff 68.58%,#00ecff 70.18%,#01fffe 71.77%,#14ffeb 73.37%,#29ffd6 74.96%,#3fffc0 76.56%,#55ffaa 78.15%,#6bff94 79.74%,#7fff80 81.34%,#92ff6d 82.93%,#a3ff5c 84.53%,#b1ff4e 86.12%,#bdff42 87.72%,#c7ff38 89.31%,#d0ff2f 90.91%,#daff25 92.50%,#e4ff1b 94.10%,#ecff13 95.69%,#ecff13 97.29%,#ecff13 98.88%,#ecff13 100.00%)"></i><i style="background:linear-gradient(#aaff55 0.00%,#aaff55 1.59%,#aaff55 3.19%,#aaff55 4.78%,#aaff55 6.38%,#aaff55 7.97%,#aaff55 9.57%,#aaff55 11.16%,#9eff61 12.76%,#8fff70 14.35%,#80ff7f 15.95%,#72ff8d 17.54%,#64ff9b 19.14%,#56ffa9 20.73%,#4affb5 22.33%,#3effc1 23.92%,#32ffcd 25.52%,#27ffd8 27.11%,#1effe1 28.71%,#15ffea 30.30%,#06fff9 31.90%,#00f6ff 33.49%,#00ecff 35.09%,#00e5ff 36.68%,#00eaff 38.28%,#00f1ff 39.87%,#00feff 41.47%,#0bfff4 43.06%,#11ffee 44.66%,#14ffeb 46.25%,#05fffa 47.85%,#00e5ff 49.44%,#00a0ff 51.04%,#004eff 52.63%,#0024ff 54.23%,#000cff 55.82%,#000cff 57.42%,#000cff 59.01%,#000cff 60.61%,#001aff 62.20%,#0037ff 63.80%,#0064ff 65.39%,#0097ff 66.99%,#00c5ff 68.58%,#00eeff 70.18%,#02fffd 71.77%,#16ffe9 73.37%,#29ffd6 74.96%,#3fffc0 76.56%,#54ffab 78.15%,#6aff95 79.74%,#7dff82 81.34%,#8fff70 82.93%,#a0ff5f 84.53%,#afff50 86.12%,#bcff43 87.72%,#c6ff39 89.31%,#cfff30 90.91%,#d9ff26 92.50%,#e3ff1c 94.10%,#ebff14 95.69%,#ebff14 97.29%,#ebff14 98.88%,#ebff14 100.00%)"></i><i style="background:linear-gradient(#aaff55 0.00%,#aaff55 1.59%,#aaff55 3.19%,#aaff55 4.78%,#aaff55 6.38%,#aaff55 7.97%,#aaff55 9.57%,#aaff55 11.16%,#9eff61 12.76%,#90ff6f 14.35%,#81ff7e 15.95%,#74ff8b 17.54%,#67ff98 19.14%,#5affa5 20.73%,#4effb1 22.33%,#42ffbd 23.92%,#36ffc9 25.52%,#2bffd4 27.11%,#22ffdd 28.71%,#19ffe6 30.30%,#0efff1 31.90%,#03fffc 33.49%,#00f9ff 35.09%,#00f0ff 36.68%,#00f6ff 38.28%,#00ffff 39.87%,#0afff5 41.47%,#14ffeb 43.06%,#17ffe8 44.66%,#18ffe7 46.25%,#0cfff3 47.85%,#00eaff 49.44%,#00aaff 51.04%,#0056ff 52.63%,#002fff 54.23%,#0016ff 55.82%,#0016ff 57.42%,#0016ff 59.01%,#0016ff 60.61%,#0023ff 62.20%,#003fff 63.80%,#006dff 65.39%,#00a2ff 66.99%,#00ccff 68.58%,#00f1ff 70.18%,#04fffb 71.77%,#17ffe8 73.37%,#2affd5 74.96%,#3fffc0 76.56%,#54ffab 78.15%,#69ff96 79.74%,#7cff83 81.34%,#8dff72 82.93%,#9eff61 84.53%,#aeff51 86.12%,#baff45 87.72%,#c4ff3b 89.31%,#ceff31 90.91%,#d8ff27 92.50%,#e2ff1d 94.10%,#eaff15 95.69%,#eaff15 97.29%,#eaff15 98.88%,#eaff15 100.00%)"></i><i style="background:linear-gradient(#abff54 0.00%,#abff54 1.59%,#abff54 3.19%,#abff54 4.78%,#abff54 6.38%,#abff54 7.97%,#abff54 9.57%,#abff54 11.16%,#9fff60 12.76%,#91ff6e 14.35%,#83ff7c 15.95%,#77ff88 17.54%,#6aff95 19.14%,#5dffa2 20.73%,#51ffae 22.33%,#45ffba 23.92%,#39ffc6 25.52%,#2fffd0 27.11%,#26ffd9 28.71%,#1effe1 30.30%,#15ffea 31.90%,#0dfff2 33.49%,#04fffb 35.09%,#00fbff 36.68%,#02fffd 38.28%,#0afff5 39.87%,#13ffec 41.47%,#1bffe4 43.06%,#1cffe3 44.66%,#1bffe4 46.25%,#0ffff0 47.85%,#00efff 49.44%,#00b3ff 51.04%,#0061ff 52.63%,#003bff 54.23%,#0021ff 55.82%,#001fff 57.42%,#001fff 59.01%,#0020ff 60.61%,#002fff 62.20%,#004aff 63.80%,#0078ff 65.39%,#00acff 66.99%,#00d2ff 68.58%,#00f4ff 70.18%,#07fff8 71.77%,#19ffe6 73.37%,#2bffd4 74.96%,#3fffc0 76.56%,#54ffab 78.15%,#68ff97 79.74%,#7aff85 81.34%,#8bff74 82.93%,#9bff64 84.53%,#acff53 86.12%,#b9ff46 87.72%,#c3ff3c 89.31%,#cdff32 90.91%,#d6ff29 92.50%,#e0ff1f 94.10%,#e8ff17 95.69%,#e8ff17 97.29%,#e8ff17 98.88%,#e8ff17 100.00%)"></i><i style="background:linear-gradient(#adff52 0.00%,#adff52 1.59%,#adff52 3.19%,#adff52 4.78%,#adff52 6.38%,#adff52 7.97%,#adff52 9.57%,#adff52 11.16%,#a2ff5d 12.76%,#94ff6b 14.35%,#87ff78 15.95%,#7aff85 17.54%,#6eff91 19.14%,#61ff9e 20.73%,#55ffaa 22.33%,#49ffb6 23.92%,#3dffc2 25.52%,#33ffcc 27.11%,#2bffd4 28.71%,#24ffdb 30.30%,#1cffe3 31.90%,#15ffea 33.49%,#0dfff2 35.09%,#06fff9 36.68%,#0bfff4 38.28%,#12ffed 39.87%,#1affe5 41.47%,#21ffde 43.06%,#20ffdf 44.66%,#1dffe2 46.25%,#10ffef 47.85%,#00f3ff 49.44%,#00bbff 51.04%,#006fff 52.63%,#0047ff 54.23%,#002cff 55.82%,#0029ff 57.42%,#0029ff 59.01%,#0029ff 60.61%,#003cff 62.20%,#0059ff 63.80%,#0086ff 65.39%,#00b6ff 66.99%,#00d9ff 68.58%,#00f9ff 70.18%,#0bfff4 71.77%,#1cffe3 73.37%,#2effd1 74.96%,#41ffbe 76.56%,#54ffab 78.15%,#68ff97 79.74%,#79ff86 81.34%,#8aff75 82.93%,#9aff65 84.53%,#aaff55 86.12%,#b7ff48 87.72%,#c0ff3f 89.31%,#caff35 90.91%,#d3ff2c 92.50%,#ddff22 94.10%,#e4ff1b 95.69%,#e4ff1b 97.29%,#e4ff1b 98.88%,#e4ff1b 100.00%)"></i><i style="background:linear-gradient(#afff50 0.00%,#afff50 1.59%,#afff50 3.19%,#afff50 4.78%,#afff50 6.38%,#afff50 7.97%,#afff50 9.57%,#afff50 11.16%,#a4ff5b 12.76%,#97ff68 14.35%,#8bff74 15.95%,#7eff81 17.54%,#71ff8e 19.14%,#65ff9a 20.73%,#59ffa6 22.33%,#4dffb2 23.92%,#41ffbe 25.52%,#37ffc8 27.11%,#30ffcf 28.71%,#2affd5 30.30%,#23ffdc 31.90%,#1dffe2 33.49%,#16ffe9 35.09%,#10ffef 36.68%,#14ffeb 38.28%,#1affe5 39.87%,#21ffde 41.47%,#27ffd8 43.06%,#24ffdb 44.66%,#1effe1 46.25%,#11ffee 47.85%,#00f7ff 49.44%,#00c4ff 51.04%,#007dff 52.63%,#0053ff 54.23%,#0038ff 55.82%,#0032ff 57.42%,#0032ff 59.01%,#0033ff 60.61%,#0049ff 62.20%,#0068ff 63.80%,#0094ff 65.39%,#00c0ff 66.99%,#00e0ff 68.58%,#00fdff 70.18%,#0ffff0 71.77%,#1fffe0 73.37%,#30ffcf 74.96%,#43ffbc 76.56%,#55ffaa 78.15%,#67ff98 79.74%,#78ff87 81.34%,#88ff77 82.93%,#98ff67 84.53%,#a8ff57 86.12%,#b5ff4a 87.72%,#beff41 89.31%,#c7ff38 90.91%,#d0ff2f 92.50%,#d9ff26 94.10%,#e0ff1f 95.69%,#e0ff1f 97.29%,#e0ff1f 98.88%,#e0ff1f 100.00%)"></i><i style="background:linear-gradient(#b0ff4f 0.00%,#b0ff4f 1.59%,#b0ff4f 3.19%,#b0ff4f 4.78%,#b0ff4f 6.38%,#b0ff4f 7.97%,#b0ff4f 9.57%,#b0ff4f 11.16%,#a7ff58 12.76%,#9aff65 14.35%,#8eff71 15.95%,#82ff7d 17.54%,#75ff8a 19.14%,#68ff97 20.73%,#5cffa3 22.33%,#50ffaf 23.92%,#44ffbb 25.52%,#3bffc4 27.11%,#35ffca 28.71%,#30ffcf 30.30%,#2affd5 31.90%,#25ffda 33.49%,#1fffe0 35.09%,#1affe5 36.68%,#1dffe2 38.28%,#22ffdd 39.87%,#27ffd8 41.47%,#2dffd2 43.06%,#28ffd7 44.66%,#1fffe0 46.25%,#12ffed 47.85%,#00fbff 49.44%,#00ccff 51.04%,#008bff 52.63%,#005fff 54.23%,#0044ff 55.82%,#003bff 57.42%,#003bff 59.01%,#003dff 60.61%,#0056ff 62.20%,#0076ff 63.80%,#00a2ff 65.39%,#00caff 66.99%,#00e7ff 68.58%,#03fffc 70.18%,#13ffec 71.77%,#23ffdc 73.37%,#33ffcc 74.96%,#44ffbb 76.56%,#55ffaa 78.15%,#67ff98 79.74%,#77ff88 81.34%,#87ff78 82.93%,#97ff68 84.53%,#a7ff58 86.12%,#b3ff4c 87.72%,#bcff43 89.31%,#c4ff3b 90.91%,#cdff32 92.50%,#d6ff29 94.10%,#ddff22 95.69%,#ddff22 97.29%,#ddff22 98.88%,#ddff22 100.00%)"></i><i style="background:linear-gradient(#b2ff4d 0.00%,#b2ff4d 1.59%,#b2ff4d 3.19%,#b2ff4d 4.78%,#b2ff4d 6.38%,#b2ff4d 7.97%,#b2ff4d 9.57%,#b2ff4d 11.16%,#a9ff56 12.76%,#9dff62 14.35%,#92ff6d 15.95%,#85ff7a 17.54%,#79ff86 19.14%,#6cff93 20.73%,#60ff9f 22.33%,#54ffab 23.92%,#48ffb7 25.52%,#3fffc0 27.11%,#3affc5 28.71%,#36ffc9 30.30%,#31ffce 31.90%,#2dffd2 33.49%,#28ffd7 35.09%,#24ffdb 36.68%,#26ffd9 38.28%,#2affd5 39.87%,#2effd1 41.47%,#32ffcd 43.06%,#2cffd3 44.66%,#20ffdf 46.25%,#13ffec 47.85%,#01fffe 49.44%,#00d5ff 51.04%,#0098ff 52.63%,#006bff 54.23%,#0050ff 55.82%,#0044ff 57.42%,#0044ff 59.01%,#0046ff 60.61%,#0063ff 62.20%,#0085ff 63.80%,#00b0ff 65.39%,#00d4ff 66.99%,#00eeff 68.58%,#07fff8 70.18%,#17ffe8 71.77%,#26ffd9 73.37%,#36ffc9 74.96%,#46ffb9 76.56%,#56ffa9 78.15%,#66ff99 79.74%,#76ff89 81.34%,#86ff79 82.93%,#95ff6a 84.53%,#a5ff5a 86.12%,#b1ff4e 87.72%,#b9ff46 89.31%,#c2ff3d 90.91%,#caff35 92.50%,#d3ff2c 94.10%,#d9ff26 95.69%,#d9ff26 97.29%,#d9ff26 98.88%,#d9ff26 100.00%)"></i><i style="background:linear-gradient(#b4ff4b 0.00%,#b4ff4b 1.59%,#b4ff4b 3.19%,#b4ff4b 4.78%,#b4ff4b 6.38%,#b4ff4b 7.97%,#b4ff4b 9.57%,#b4ff4b 11.16%,#abff54 12.76%,#a0ff5f 14.35%,#95ff6a 15.95%,#89ff76 17.54%,#7cff83 19.14%,#70ff8f 20.73%,#64ff9b 22.33%,#58ffa7 23.92%,#4cffb3 25.52%,#43ffbc 27.11%,#3fffc0 28.71%,#3cffc3 30.30%,#38ffc7 31.90%,#35ffca 33.49%,#31ffce 35.09%,#2effd1 36.68%,#30ffcf 38.28%,#33ffcc 39.87%,#35ffca 41.47%,#38ffc7 43.06%,#2fffd0 44.66%,#22ffdd 46.25%,#14ffeb 47.85%,#05fffa 49.44%,#00ddff 51.04%,#00a6ff 52.63%,#0077ff 54.23%,#005cff 55.82%,#004dff 57.42%,#004dff 59.01%,#0050ff 60.61%,#0070ff 62.20%,#0093ff 63.80%,#00bdff 65.39%,#00deff 66.99%,#00f5ff 68.58%,#0cfff3 70.18%,#1bffe4 71.77%,#29ffd6 73.37%,#38ffc7 74.96%,#47ffb8 76.56%,#56ffa9 78.15%,#66ff99 79.74%,#75ff8a 81.34%,#85ff7a 82.93%,#94ff6b 84.53%,#a3ff5c 86.12%,#afff50 87.72%,#b7ff48 89.31%,#bfff40 90.91%,#c7ff38 92.50%,#cfff30 94.10%,#d5ff2a 95.69%,#d5ff2a 97.29%,#d5ff2a 98.88%,#d5ff2a 100.00%)"></i><i style="background:linear-gradient(#b9ff46 0.00%,#b9ff46 1.59%,#b9ff46 3.19%,#b9ff46 4.78%,#b9ff46 6.38%,#b9ff46 7.97%,#b9ff46 9.57%,#b9ff46 11.16%,#b1ff4e 12.76%,#a6ff59 14.35%,#9bff64 15.95%,#90ff6f 17.54%,#86ff79 19.14%,#7bff84 20.73%,#71ff8e 22.33%,#67ff98 23.92%,#5cffa3 25.52%,#52ffad 27.11%,#4cffb3 28.71%,#46ffb9 30.30%,#43ffbc 31.90%,#40ffbf 33.49%,#3dffc2 35.09%,#3affc5 36.68%,#3bffc4 38.28%,#3fffc0 39.87%,#43ffbc 41.47%,#46ffb9 43.06%,#41ffbe 44.66%,#2effd1 46.25%,#1affe5 47.85%,#06fff9 49.44%,#00deff 51.04%,#00aaff 52.63%,#007cff 54.23%,#0063ff 55.82%,#0051ff 57.42%,#0050ff 59.01%,#0058ff 60.61%,#0075ff 62.20%,#009aff 63.80%,#00c2ff 65.39%,#00dfff 66.99%,#00f7ff 68.58%,#0cfff3 70.18%,#1dffe2 71.77%,#2effd1 73.37%,#3fffc0 74.96%,#4fffb0 76.56%,#60ff9f 78.15%,#70ff8f 79.74%,#7eff81 81.34%,#8cff73 82.93%,#9aff65 84.53%,#a8ff57 86.12%,#b3ff4c 87.72%,#bbff44 89.31%,#c3ff3c 90.91%,#cbff34 92.50%,#d3ff2c 94.10%,#d9ff26 95.69%,#d9ff26 97.29%,#d9ff26 98.88%,#d9ff26 100.00%)"></i><i style="background:linear-gradient(#bfff40 0.00%,#bfff40 1.59%,#bfff40 3.19%,#bfff40 4.78%,#bfff40 6.38%,#bfff40 7.97%,#bfff40 9.57%,#bfff40 11.16%,#b7ff48 12.76%,#acff53 14.35%,#a1ff5e 15.95%,#99ff66 17.54%,#91ff6e 19.14%,#89ff76 20.73%,#81ff7e 22.33%,#79ff86 23.92%,#6fff90 25.52%,#65ff9a 27.11%,#5bffa4 28.71%,#50ffaf 30.30%,#4effb1 31.90%,#4cffb3 33.49%,#4affb5 35.09%,#48ffb7 36.68%,#47ffb8 38.28%,#4dffb2 39.87%,#52ffad 41.47%,#57ffa8 43.06%,#58ffa7 44.66%,#3dffc2 46.25%,#22ffdd 47.85%,#07fff8 49.44%,#00deff 51.04%,#00acff 52.63%,#0081ff 54.23%,#006aff 55.82%,#0054ff 57.42%,#0050ff 59.01%,#0060ff 60.61%,#0078ff 62.20%,#009eff 63.80%,#00c3ff 65.39%,#00deff 66.99%,#00f6ff 68.58%,#0cfff3 70.18%,#20ffdf 71.77%,#33ffcc 73.37%,#46ffb9 74.96%,#59ffa6 76.56%,#6cff93 78.15%,#7dff82 79.74%,#8aff75 81.34%,#96ff69 82.93%,#a2ff5d 84.53%,#afff50 86.12%,#b9ff46 87.72%,#c1ff3e 89.31%,#c9ff36 90.91%,#d1ff2e 92.50%,#d8ff27 94.10%,#dfff20 95.69%,#dfff20 97.29%,#dfff20 98.88%,#dfff20 100.00%)"></i><i style="background:linear-gradient(#c1ff3e 0.00%,#c1ff3e 1.59%,#c1ff3e 3.19%,#c1ff3e 4.78%,#c1ff3e 6.38%,#c1ff3e 7.97%,#c0ff3f 9.57%,#c0ff3f 11.16%,#b9ff46 12.76%,#b0ff4f 14.35%,#a6ff59 15.95%,#9eff61 17.54%,#96ff69 19.14%,#8eff71 20.73%,#86ff79 22.33%,#7eff81 23.92%,#74ff8b 25.52%,#6bff94 27.11%,#62ff9d 28.71%,#58ffa7 30.30%,#57ffa8 31.90%,#56ffa9 33.49%,#55ffaa 35.09%,#54ffab 36.68%,#55ffaa 38.28%,#5cffa3 39.87%,#63ff9c 41.47%,#6aff95 43.06%,#6dff92 44.66%,#4effb1 46.25%,#30ffcf 47.85%,#12ffed 49.44%,#00e7ff 51.04%,#00b6ff 52.63%,#008aff 54.23%,#0074ff 55.82%,#005dff 57.42%,#0059ff 59.01%,#0068ff 60.61%,#007fff 62.20%,#00a1ff 63.80%,#00c5ff 65.39%,#00e1ff 66.99%,#00f9ff 68.58%,#0efff1 70.18%,#23ffdc 71.77%,#36ffc9 73.37%,#48ffb7 74.96%,#5affa5 76.56%,#6cff93 78.15%,#7dff82 79.74%,#89ff76 81.34%,#95ff6a 82.93%,#a1ff5e 84.53%,#adff52 86.12%,#b7ff48 87.72%,#beff41 89.31%,#c5ff3a 90.91%,#ccff33 92.50%,#d4ff2b 94.10%,#d9ff26 95.69%,#d9ff26 97.29%,#d9ff26 98.88%,#d9ff26 100.00%)"></i><i style="background:linear-gradient(#c3ff3c 0.00%,#c3ff3c 1.59%,#c3ff3c 3.19%,#c3ff3c 4.78%,#c2ff3d 6.38%,#c2ff3d 7.97%,#c1ff3e 9.57%,#c1ff3e 11.16%,#bbff44 12.76%,#b3ff4c 14.35%,#acff53 15.95%,#a3ff5c 17.54%,#9bff64 19.14%,#93ff6c 20.73%,#8bff74 22.33%,#82ff7d 23.92%,#7aff85 25.52%,#71ff8e 27.11%,#69ff96 28.71%,#60ff9f 30.30%,#61ff9e 31.90%,#61ff9e 33.49%,#61ff9e 35.09%,#61ff9e 36.68%,#63ff9c 38.28%,#6cff93 39.87%,#75ff8a 41.47%,#7dff82 43.06%,#81ff7e 44.66%,#60ff9f 46.25%,#3effc1 47.85%,#1dffe2 49.44%,#00f1ff 51.04%,#00c0ff 52.63%,#0094ff 54.23%,#007dff 55.82%,#0066ff 57.42%,#0062ff 59.01%,#0070ff 60.61%,#0086ff 62.20%,#00a5ff 63.80%,#00c7ff 65.39%,#00e3ff 66.99%,#00fbff 68.58%,#11ffee 70.18%,#26ffd9 71.77%,#39ffc6 73.37%,#4affb5 74.96%,#5bffa4 76.56%,#6dff92 78.15%,#7dff82 79.74%,#89ff76 81.34%,#94ff6b 82.93%,#a0ff5f 84.53%,#abff54 86.12%,#b4ff4b 87.72%,#bbff44 89.31%,#c2ff3d 90.91%,#c8ff37 92.50%,#cfff30 94.10%,#d4ff2b 95.69%,#d4ff2b 97.29%,#d4ff2b 98.88%,#d4ff2b 100.00%)"></i><i style="background:linear-gradient(#c5ff3a 0.00%,#c5ff3a 1.59%,#c5ff3a 3.19%,#c4ff3b 4.78%,#c4ff3b 6.38%,#c3ff3c 7.97%,#c2ff3d 9.57%,#c2ff3d 11.16%,#bdff42 12.76%,#b7ff48 14.35%,#b1ff4e 15.95%,#a9ff56 17.54%,#a0ff5f 19.14%,#98ff67 20.73%,#8fff70 22.33%,#87ff78 23.92%,#7fff80 25.52%,#78ff87 27.11%,#70ff8f 28.71%,#69ff96 30.30%,#6aff95 31.90%,#6bff94 33.49%,#6cff93 35.09%,#6dff92 36.68%,#71ff8e 38.28%,#7cff83 39.87%,#86ff79 41.47%,#91ff6e 43.06%,#95ff6a 44.66%,#71ff8e 46.25%,#4cffb3 47.85%,#28ffd7 49.44%,#00fbff 51.04%,#00caff 52.63%,#009eff 54.23%,#0086ff 55.82%,#006fff 57.42%,#006bff 59.01%,#0079ff 60.61%,#008cff 62.20%,#00a9ff 63.80%,#00caff 65.39%,#00e6ff 66.99%,#00feff 68.58%,#14ffeb 70.18%,#29ffd6 71.77%,#3cffc3 73.37%,#4cffb3 74.96%,#5dffa2 76.56%,#6dff92 78.15%,#7cff83 79.74%,#88ff77 81.34%,#93ff6c 82.93%,#9fff60 84.53%,#aaff55 86.12%,#b2ff4d 87.72%,#b8ff47 89.31%,#beff41 90.91%,#c4ff3b 92.50%,#caff35 94.10%,#cfff30 95.69%,#cfff30 97.29%,#cfff30 98.88%,#cfff30 100.00%)"></i><i style="background:linear-gradient(#c7ff38 0.00%,#c7ff38 1.59%,#c7ff38 3.19%,#c6ff39 4.78%,#c5ff3a 6.38%,#c4ff3b 7.97%,#c3ff3c 9.57%,#c2ff3d 11.16%,#bfff40 12.76%,#baff45 14.35%,#b6ff49 15.95%,#aeff51 17.54%,#a5ff5a 19.14%,#9dff62 20.73%,#94ff6b 22.33%,#8cff73 23.92%,#85ff7a 25.52%,#7eff81 27.11%,#77ff88 28.71%,#71ff8e 30.30%,#73ff8c 31.90%,#75ff8a 33.49%,#78ff87 35.09%,#7aff85 36.68%,#7fff80 38.28%,#8bff74 39.87%,#98ff67 41.47%,#a4ff5b 43.06%,#a9ff56 44.66%,#82ff7d 46.25%,#5bffa4 47.85%,#33ffcc 49.44%,#06fff9 51.04%,#00d4ff 52.63%,#00a8ff 54.23%,#0090ff 55.82%,#0078ff 57.42%,#0074ff 59.01%,#0081ff 60.61%,#0093ff 62.20%,#00acff 63.80%,#00ccff 65.39%,#00e9ff 66.99%,#01fffe 68.58%,#17ffe8 70.18%,#2cffd3 71.77%,#3fffc0 73.37%,#4fffb0 74.96%,#5effa1 76.56%,#6dff92 78.15%,#7cff83 79.74%,#87ff78 81.34%,#92ff6d 82.93%,#9dff62 84.53%,#a8ff57 86.12%,#b0ff4f 87.72%,#b5ff4a 89.31%,#bbff44 90.91%,#c0ff3f 92.50%,#c5ff3a 94.10%,#c9ff36 95.69%,#c9ff36 97.29%,#c9ff36 98.88%,#c9ff36 100.00%)"></i><i style="background:linear-gradient(#c8ff37 0.00%,#c8ff37 1.59%,#c8ff37 3.19%,#c8ff37 4.78%,#c7ff38 6.38%,#c5ff3a 7.97%,#c4ff3b 9.57%,#c3ff3c 11.16%,#c1ff3e 12.76%,#beff41 14.35%,#bbff44 15.95%,#b3ff4c 17.54%,#aaff55 19.14%,#a1ff5e 20.73%,#99ff66 22.33%,#90ff6f 23.92%,#8aff75 25.52%,#84ff7b 27.11%,#7fff80 28.71%,#79ff86 30.30%,#7cff83 31.90%,#80ff7f 33.49%,#83ff7c 35.09%,#87ff78 36.68%,#8dff72 38.28%,#9bff64 39.87%,#a9ff56 41.47%,#b7ff48 43.06%,#bdff42 44.66%,#93ff6c 46.25%,#69ff96 47.85%,#3effc1 49.44%,#10ffef 51.04%,#00ddff 52.63%,#00b2ff 54.23%,#0099ff 55.82%,#0081ff 57.42%,#007dff 59.01%,#0089ff 60.61%,#0099ff 62.20%,#00b0ff 63.80%,#00ceff 65.39%,#00ebff 66.99%,#03fffc 68.58%,#19ffe6 70.18%,#30ffcf 71.77%,#42ffbd 73.37%,#51ffae 74.96%,#5fffa0 76.56%,#6dff92 78.15%,#7bff84 79.74%,#87ff78 81.34%,#91ff6e 82.93%,#9cff63 84.53%,#a7ff58 86.12%,#aeff51 87.72%,#b3ff4c 89.31%,#b7ff48 90.91%,#bcff43 92.50%,#c0ff3f 94.10%,#c4ff3b 95.69%,#c4ff3b 97.29%,#c4ff3b 98.88%,#c4ff3b 100.00%)"></i><i style="background:linear-gradient(#caff35 0.00%,#caff35 1.59%,#caff35 3.19%,#c9ff36 4.78%,#c8ff37 6.38%,#c6ff39 7.97%,#c5ff3a 9.57%,#c3ff3c 11.16%,#c2ff3d 12.76%,#c0ff3f 14.35%,#bfff40 15.95%,#b7ff48 17.54%,#aeff51 19.14%,#a5ff5a 20.73%,#9dff62 22.33%,#94ff6b 23.92%,#8fff70 25.52%,#8aff75 27.11%,#85ff7a 28.71%,#80ff7f 30.30%,#85ff7a 31.90%,#89ff76 33.49%,#8eff71 35.09%,#92ff6d 36.68%,#99ff66 38.28%,#a9ff56 39.87%,#b8ff47 41.47%,#c7ff38 43.06%,#cfff30 44.66%,#a2ff5d 46.25%,#75ff8a 47.85%,#48ffb7 49.44%,#19ffe6 51.04%,#00e7ff 52.63%,#00bbff 54.23%,#00a2ff 55.82%,#008aff 57.42%,#0087ff 59.01%,#0091ff 60.61%,#00a1ff 62.20%,#00b4ff 63.80%,#00d1ff 65.39%,#00eeff 66.99%,#06fff9 68.58%,#1cffe3 70.18%,#33ffcc 71.77%,#46ffb9 73.37%,#53ffac 74.96%,#61ff9e 76.56%,#6eff91 78.15%,#7bff84 79.74%,#87ff78 81.34%,#91ff6e 82.93%,#9bff64 84.53%,#a5ff5a 86.12%,#acff53 87.72%,#b0ff4f 89.31%,#b4ff4b 90.91%,#b8ff47 92.50%,#bcff43 94.10%,#bfff40 95.69%,#bfff40 97.29%,#bfff40 98.88%,#bfff40 100.00%)"></i><i style="background:linear-gradient(#c8ff37 0.00%,#c8ff37 1.59%,#c8ff37 3.19%,#c7ff38 4.78%,#c7ff38 6.38%,#c6ff39 7.97%,#c6ff39 9.57%,#c3ff3c 11.16%,#c0ff3f 12.76%,#bcff43 14.35%,#b9ff46 15.95%,#b3ff4c 17.54%,#abff54 19.14%,#a4ff5b 20.73%,#9dff62 22.33%,#96ff69 23.92%,#92ff6d 25.52%,#8eff71 27.11%,#8aff75 28.71%,#86ff79 30.30%,#8aff75 31.90%,#8eff71 33.49%,#92ff6d 35.09%,#96ff69 36.68%,#9dff62 38.28%,#acff53 39.87%,#baff45 41.47%,#c9ff36 43.06%,#d0ff2f 44.66%,#a4ff5b 46.25%,#77ff88 47.85%,#4bffb4 49.44%,#1dffe2 51.04%,#00eeff 52.63%,#00c3ff 54.23%,#00acff 55.82%,#0096ff 57.42%,#0093ff 59.01%,#009dff 60.61%,#00abff 62.20%,#00bdff 63.80%,#00d8ff 65.39%,#00f3ff 66.99%,#0afff5 68.58%,#20ffdf 70.18%,#36ffc9 71.77%,#49ffb6 73.37%,#56ffa9 74.96%,#63ff9c 76.56%,#70ff8f 78.15%,#7dff82 79.74%,#88ff77 81.34%,#91ff6e 82.93%,#9bff64 84.53%,#a4ff5b 86.12%,#abff54 87.72%,#afff50 89.31%,#b3ff4c 90.91%,#b8ff47 92.50%,#bcff43 94.10%,#bfff40 95.69%,#bfff40 97.29%,#bfff40 98.88%,#bfff40 100.00%)"></i><i style="background:linear-gradient(#c6ff39 0.00%,#c6ff39 1.59%,#c6ff39 3.19%,#c6ff39 4.78%,#c6ff39 6.38%,#c7ff38 7.97%,#c7ff38 9.57%,#c2ff3d 11.16%,#bdff42 12.76%,#b8ff47 14.35%,#b4ff4b 15.95%,#aeff51 17.54%,#a9ff56 19.14%,#a3ff5c 20.73%,#9eff61 22.33%,#98ff67 23.92%,#95ff6a 25.52%,#92ff6d 27.11%,#8fff70 28.71%,#8cff73 30.30%,#8fff70 31.90%,#93ff6c 33.49%,#97ff68 35.09%,#9aff65 36.68%,#a1ff5e 38.28%,#afff50 39.87%,#bdff42 41.47%,#caff35 43.06%,#d1ff2e 44.66%,#a5ff5a 46.25%,#79ff86 47.85%,#4effb1 49.44%,#22ffdd 51.04%,#00f4ff 52.63%,#00cbff 54.23%,#00b5ff 55.82%,#00a2ff 57.42%,#009eff 59.01%,#00a8ff 60.61%,#00b6ff 62.20%,#00c6ff 63.80%,#00dfff 65.39%,#00f8ff 66.99%,#0efff1 68.58%,#23ffdc 70.18%,#39ffc6 71.77%,#4cffb3 73.37%,#59ffa6 74.96%,#66ff99 76.56%,#73ff8c 78.15%,#7fff80 79.74%,#89ff76 81.34%,#92ff6d 82.93%,#9aff65 84.53%,#a3ff5c 86.12%,#a9ff56 87.72%,#aeff51 89.31%,#b2ff4d 90.91%,#b7ff48 92.50%,#bcff43 94.10%,#bfff40 95.69%,#bfff40 97.29%,#bfff40 98.88%,#bfff40 100.00%)"></i><i style="background:linear-gradient(#c4ff3b 0.00%,#c4ff3b 1.59%,#c4ff3b 3.19%,#c4ff3b 4.78%,#c6ff39 6.38%,#c7ff38 7.97%,#c8ff37 9.57%,#c1ff3e 11.16%,#bbff44 12.76%,#b4ff4b 14.35%,#aeff51 15.95%,#aaff55 17.54%,#a6ff59 19.14%,#a2ff5d 20.73%,#9eff61 22.33%,#9aff65 23.92%,#98ff67 25.52%,#96ff69 27.11%,#94ff6b 28.71%,#92ff6d 30.30%,#95ff6a 31.90%,#98ff67 33.49%,#9bff64 35.09%,#9eff61 36.68%,#a4ff5b 38.28%,#b2ff4d 39.87%,#bfff40 41.47%,#ccff33 43.06%,#d2ff2d 44.66%,#a7ff58 46.25%,#7bff84 47.85%,#50ffaf 49.44%,#26ffd9 51.04%,#00fbff 52.63%,#00d4ff 54.23%,#00beff 55.82%,#00aeff 57.42%,#00aaff 59.01%,#00b4ff 60.61%,#00c0ff 62.20%,#00cfff 63.80%,#00e6ff 65.39%,#00fdff 66.99%,#12ffed 68.58%,#27ffd8 70.18%,#3cffc3 71.77%,#4fffb0 73.37%,#5cffa3 74.96%,#69ff96 76.56%,#75ff8a 78.15%,#81ff7e 79.74%,#8bff74 81.34%,#92ff6d 82.93%,#9aff65 84.53%,#a2ff5d 86.12%,#a8ff57 87.72%,#adff52 89.31%,#b2ff4d 90.91%,#b6ff49 92.50%,#bbff44 94.10%,#bfff40 95.69%,#bfff40 97.29%,#bfff40 98.88%,#bfff40 100.00%)"></i><i style="background:linear-gradient(#c2ff3d 0.00%,#c2ff3d 1.59%,#c2ff3d 3.19%,#c3ff3c 4.78%,#c5ff3a 6.38%,#c7ff38 7.97%,#c9ff36 9.57%,#c1ff3e 11.16%,#b9ff46 12.76%,#b1ff4e 14.35%,#a9ff56 15.95%,#a5ff5a 17.54%,#a3ff5c 19.14%,#a1ff5e 20.73%,#9fff60 22.33%,#9dff62 23.92%,#9bff64 25.52%,#9aff65 27.11%,#99ff66 28.71%,#97ff68 30.30%,#9aff65 31.90%,#9dff62 33.49%,#a0ff5f 35.09%,#a3ff5c 36.68%,#a8ff57 38.28%,#b5ff4a 39.87%,#c1ff3e 41.47%,#ceff31 43.06%,#d3ff2c 44.66%,#a8ff57 46.25%,#7eff81 47.85%,#53ffac 49.44%,#2affd5 51.04%,#03fffc 52.63%,#00dcff 54.23%,#00c7ff 55.82%,#00baff 57.42%,#00b6ff 59.01%,#00c0ff 60.61%,#00caff 62.20%,#00d8ff 63.80%,#00edff 65.39%,#03fffc 66.99%,#16ffe9 68.58%,#2bffd4 70.18%,#3fffc0 71.77%,#52ffad 73.37%,#5fffa0 74.96%,#6bff94 76.56%,#77ff88 78.15%,#83ff7c 79.74%,#8cff73 81.34%,#93ff6c 82.93%,#9aff65 84.53%,#a0ff5f 86.12%,#a6ff59 87.72%,#acff53 89.31%,#b1ff4e 90.91%,#b6ff49 92.50%,#bbff44 94.10%,#bfff40 95.69%,#bfff40 97.29%,#bfff40 98.88%,#bfff40 100.00%)"></i><i style="background:linear-gradient(#c0ff3f 0.00%,#c0ff3f 1.59%,#c0ff3f 3.19%,#c1ff3e 4.78%,#c4ff3b 6.38%,#c7ff38 7.97%,#caff35 9.57%,#c0ff3f 11.16%,#b6ff49 12.76%,#adff52 14.35%,#a3ff5c 15.95%,#a1ff5e 17.54%,#a0ff5f 19.14%,#a0ff5f 20.73%,#9fff60 22.33%,#9fff60 23.92%,#9eff61 25.52%,#9eff61 27.11%,#9dff62 28.71%,#9dff62 30.30%,#a0ff5f 31.90%,#a2ff5d 33.49%,#a4ff5b 35.09%,#a7ff58 36.68%,#acff53 38.28%,#b7ff48 39.87%,#c3ff3c 41.47%,#cfff30 43.06%,#d4ff2b 44.66%,#aaff55 46.25%,#80ff7f 47.85%,#56ffa9 49.44%,#2effd1 51.04%,#09fff6 52.63%,#00e4ff 54.23%,#00d1ff 55.82%,#00c6ff 57.42%,#00c2ff 59.01%,#00cbff 60.61%,#00d5ff 62.20%,#00e1ff 63.80%,#00f4ff 65.39%,#08fff7 66.99%,#1bffe4 68.58%,#2effd1 70.18%,#42ffbd 71.77%,#55ffaa 73.37%,#62ff9d 74.96%,#6eff91 76.56%,#7aff85 78.15%,#86ff79 79.74%,#8dff72 81.34%,#93ff6c 82.93%,#99ff66 84.53%,#9fff60 86.12%,#a5ff5a 87.72%,#aaff55 89.31%,#b0ff4f 90.91%,#b5ff4a 92.50%,#bbff44 94.10%,#bfff40 95.69%,#bfff40 97.29%,#bfff40 98.88%,#bfff40 100.00%)"></i><i style="background:linear-gradient(#bdff42 0.00%,#bdff42 1.59%,#bdff42 3.19%,#c0ff3f 4.78%,#c5ff3a 6.38%,#c9ff36 7.97%,#ceff31 9.57%,#c2ff3d 11.16%,#b6ff49 12.76%,#a9ff56 14.35%,#9dff62 15.95%,#9dff62 17.54%,#9fff60 19.14%,#a2ff5d 20.73%,#a4ff5b 22.33%,#a6ff59 23.92%,#a5ff5a 25.52%,#a5ff5a 27.11%,#a4ff5b 28.71%,#a4ff5b 30.30%,#a5ff5a 31.90%,#a6ff59 33.49%,#a8ff57 35.09%,#a9ff56 36.68%,#adff52 38.28%,#b9ff46 39.87%,#c5ff3a 41.47%,#d1ff2e 43.06%,#d7ff28 44.66%,#adff52 46.25%,#83ff7c 47.85%,#5affa5 49.44%,#34ffcb 51.04%,#12ffed 52.63%,#00eeff 54.23%,#00dbff 55.82%,#00d2ff 57.42%,#00cdff 59.01%,#00d5ff 60.61%,#00ddff 62.20%,#00e8ff 63.80%,#00faff 65.39%,#0dfff2 66.99%,#1fffe0 68.58%,#32ffcd 70.18%,#45ffba 71.77%,#58ffa7 73.37%,#65ff9a 74.96%,#72ff8d 76.56%,#7eff81 78.15%,#8aff75 79.74%,#92ff6d 81.34%,#97ff68 82.93%,#9cff63 84.53%,#a1ff5e 86.12%,#a7ff58 87.72%,#acff53 89.31%,#b1ff4e 90.91%,#b6ff49 92.50%,#bbff44 94.10%,#bfff40 95.69%,#bfff40 97.29%,#bfff40 98.88%,#bfff40 100.00%)"></i><i style="background:linear-gradient(#baff45 0.00%,#baff45 1.59%,#baff45 3.19%,#beff41 4.78%,#c6ff39 6.38%,#cdff32 7.97%,#d5ff2a 9.57%,#c5ff3a 11.16%,#b6ff49 12.76%,#a6ff59 14.35%,#96ff69 15.95%,#99ff66 17.54%,#9fff60 19.14%,#a5ff5a 20.73%,#abff54 22.33%,#b0ff4f 23.92%,#afff50 25.52%,#adff52 27.11%,#acff53 28.71%,#abff54 30.30%,#aaff55 31.90%,#aaff55 33.49%,#aaff55 35.09%,#aaff55 36.68%,#adff52 38.28%,#baff45 39.87%,#c7ff38 41.47%,#d4ff2b 43.06%,#daff25 44.66%,#b1ff4e 46.25%,#88ff77 47.85%,#5fffa0 49.44%,#3bffc4 51.04%,#1bffe4 52.63%,#00f9ff 54.23%,#00e7ff 55.82%,#00ddff 57.42%,#00d7ff 59.01%,#00ddff 60.61%,#00e3ff 62.20%,#00edff 63.80%,#00ffff 65.39%,#12ffed 66.99%,#24ffdb 68.58%,#36ffc9 70.18%,#48ffb7 71.77%,#5affa5 73.37%,#68ff97 74.96%,#76ff89 76.56%,#83ff7c 78.15%,#91ff6e 79.74%,#98ff67 81.34%,#9dff62 82.93%,#a1ff5e 84.53%,#a6ff59 86.12%,#aaff55 87.72%,#aeff51 89.31%,#b3ff4c 90.91%,#b7ff48 92.50%,#bcff43 94.10%,#bfff40 95.69%,#bfff40 97.29%,#bfff40 98.88%,#bfff40 100.00%)"></i><i style="background:linear-gradient(#b6ff49 0.00%,#b6ff49 1.59%,#b6ff49 3.19%,#bcff43 4.78%,#c7ff38 6.38%,#d1ff2e 7.97%,#dcff23 9.57%,#c9ff36 11.16%,#b6ff49 12.76%,#a3ff5c 14.35%,#90ff6f 15.95%,#95ff6a 17.54%,#9fff60 19.14%,#a9ff56 20.73%,#b2ff4d 22.33%,#baff45 23.92%,#b8ff47 25.52%,#b6ff49 27.11%,#b4ff4b 28.71%,#b2ff4d 30.30%,#b0ff4f 31.90%,#aeff51 33.49%,#adff52 35.09%,#abff54 36.68%,#aeff51 38.28%,#bbff44 39.87%,#c9ff36 41.47%,#d7ff28 43.06%,#deff21 44.66%,#b5ff4a 46.25%,#8cff73 47.85%,#64ff9b 49.44%,#41ffbe 51.04%,#24ffdb 52.63%,#06fff9 54.23%,#00f3ff 55.82%,#00e8ff 57.42%,#00e1ff 59.01%,#00e5ff 60.61%,#00eaff 62.20%,#00f2ff 63.80%,#05fffa 65.39%,#17ffe8 66.99%,#29ffd6 68.58%,#3affc5 70.18%,#4bffb4 71.77%,#5cffa3 73.37%,#6bff94 74.96%,#7aff85 76.56%,#89ff76 78.15%,#97ff68 79.74%,#9fff60 81.34%,#a3ff5c 82.93%,#a6ff59 84.53%,#aaff55 86.12%,#aeff51 87.72%,#b1ff4e 89.31%,#b5ff4a 90.91%,#b9ff46 92.50%,#bcff43 94.10%,#bfff40 95.69%,#bfff40 97.29%,#bfff40 98.88%,#bfff40 100.00%)"></i><i style="background:linear-gradient(#b8ff47 0.00%,#b8ff47 1.59%,#b8ff47 3.19%,#beff41 4.78%,#c9ff36 6.38%,#d4ff2b 7.97%,#dfff20 9.57%,#ccff33 11.16%,#b8ff47 12.76%,#a5ff5a 14.35%,#91ff6e 15.95%,#97ff68 17.54%,#a1ff5e 19.14%,#abff54 20.73%,#b5ff4a 22.33%,#bdff42 23.92%,#bbff44 25.52%,#b9ff46 27.11%,#b7ff48 28.71%,#b5ff4a 30.30%,#b2ff4d 31.90%,#b0ff4f 33.49%,#adff52 35.09%,#aaff55 36.68%,#acff53 38.28%,#baff45 39.87%,#c8ff37 41.47%,#d5ff2a 43.06%,#dcff23 44.66%,#b5ff4a 46.25%,#8eff71 47.85%,#68ff97 49.44%,#47ffb8 51.04%,#2bffd4 52.63%,#10ffef 54.23%,#00fcff 55.82%,#00f1ff 57.42%,#00eaff 59.01%,#00edff 60.61%,#00f0ff 62.20%,#00f9ff 63.80%,#0cfff3 65.39%,#1effe1 66.99%,#2fffd0 68.58%,#3effc1 70.18%,#4effb1 71.77%,#5effa1 73.37%,#6eff91 74.96%,#7dff82 76.56%,#8cff73 78.15%,#9cff63 79.74%,#a3ff5c 81.34%,#a6ff59 82.93%,#a9ff56 84.53%,#adff52 86.12%,#b0ff4f 87.72%,#b3ff4c 89.31%,#b6ff49 90.91%,#baff45 92.50%,#bdff42 94.10%,#bfff40 95.69%,#bfff40 97.29%,#bfff40 98.88%,#bfff40 100.00%)"></i><i style="background:linear-gradient(#bdff42 0.00%,#bdff42 1.59%,#bdff42 3.19%,#c2ff3d 4.78%,#ccff33 6.38%,#d5ff2a 7.97%,#dfff20 9.57%,#ceff31 11.16%,#bcff43 12.76%,#abff54 14.35%,#99ff66 15.95%,#9dff62 17.54%,#a5ff5a 19.14%,#adff52 20.73%,#b4ff4b 22.33%,#bbff44 23.92%,#b9ff46 25.52%,#b8ff47 27.11%,#b6ff49 28.71%,#b5ff4a 30.30%,#b2ff4d 31.90%,#aeff51 33.49%,#abff54 35.09%,#a8ff57 36.68%,#a9ff56 38.28%,#b6ff49 39.87%,#c4ff3b 41.47%,#d1ff2e 43.06%,#d7ff28 44.66%,#b3ff4c 46.25%,#8fff70 47.85%,#6aff95 49.44%,#4cffb3 51.04%,#32ffcd 52.63%,#18ffe7 54.23%,#05fffa 55.82%,#00f8ff 57.42%,#00f3ff 59.01%,#00f4ff 60.61%,#00f6ff 62.20%,#02fffd 63.80%,#13ffec 65.39%,#24ffdb 66.99%,#35ffca 68.58%,#44ffbb 70.18%,#52ffad 71.77%,#61ff9e 73.37%,#70ff8f 74.96%,#80ff7f 76.56%,#8fff70 78.15%,#9eff61 79.74%,#a6ff59 81.34%,#a8ff57 82.93%,#abff54 84.53%,#aeff51 86.12%,#b1ff4e 87.72%,#b4ff4b 89.31%,#b7ff48 90.91%,#baff45 92.50%,#bdff42 94.10%,#bfff40 95.69%,#bfff40 97.29%,#bfff40 98.88%,#bfff40 100.00%)"></i><i style="background:linear-gradient(#c2ff3d 0.00%,#c2ff3d 1.59%,#c2ff3d 3.19%,#c7ff38 4.78%,#cfff30 6.38%,#d7ff28 7.97%,#dfff20 9.57%,#d0ff2f 11.16%,#c0ff3f 12.76%,#b0ff4f 14.35%,#a1ff5e 15.95%,#a3ff5c 17.54%,#a9ff56 19.14%,#aeff51 20.73%,#b4ff4b 22.33%,#b8ff47 23.92%,#b7ff48 25.52%,#b6ff49 27.11%,#b6ff49 28.71%,#b5ff4a 30.30%,#b1ff4e 31.90%,#adff52 33.49%,#aaff55 35.09%,#a6ff59 36.68%,#a6ff59 38.28%,#b3ff4c 39.87%,#bfff40 41.47%,#ccff33 43.06%,#d2ff2d 44.66%,#b1ff4e 46.25%,#8fff70 47.85%,#6dff92 49.44%,#51ffae 51.04%,#39ffc6 52.63%,#21ffde 54.23%,#0cfff3 55.82%,#00ffff 57.42%,#00fbff 59.01%,#00fcff 60.61%,#00fcff 62.20%,#09fff6 63.80%,#1affe5 65.39%,#2bffd4 66.99%,#3bffc4 68.58%,#49ffb6 70.18%,#56ffa9 71.77%,#64ff9b 73.37%,#73ff8c 74.96%,#82ff7d 76.56%,#92ff6d 78.15%,#a1ff5e 79.74%,#a8ff57 81.34%,#abff54 82.93%,#adff52 84.53%,#b0ff4f 86.12%,#b3ff4c 87.72%,#b5ff4a 89.31%,#b8ff47 90.91%,#bbff44 92.50%,#bdff42 94.10%,#bfff40 95.69%,#bfff40 97.29%,#bfff40 98.88%,#bfff40 100.00%)"></i><i style="background:linear-gradient(#c8ff37 0.00%,#c8ff37 1.59%,#c8ff37 3.19%,#cbff34 4.78%,#d2ff2d 6.38%,#d8ff27 7.97%,#dfff20 9.57%,#d2ff2d 11.16%,#c4ff3b 12.76%,#b6ff49 14.35%,#a9ff56 15.95%,#a9ff56 17.54%,#adff52 19.14%,#b0ff4f 20.73%,#b3ff4c 22.33%,#b6ff49 23.92%,#b5ff4a 25.52%,#b5ff4a 27.11%,#b5ff4a 28.71%,#b5ff4a 30.30%,#b0ff4f 31.90%,#acff53 33.49%,#a8ff57 35.09%,#a4ff5b 36.68%,#a4ff5b 38.28%,#afff50 39.87%,#bbff44 41.47%,#c7ff38 43.06%,#cdff32 44.66%,#aeff51 46.25%,#8fff70 47.85%,#70ff8f 49.44%,#56ffa9 51.04%,#40ffbf 52.63%,#29ffd6 54.23%,#14ffeb 55.82%,#07fff8 57.42%,#05fffa 59.01%,#04fffb 60.61%,#03fffc 62.20%,#11ffee 63.80%,#22ffdd 65.39%,#32ffcd 66.99%,#41ffbe 68.58%,#4effb1 70.18%,#5affa5 71.77%,#67ff98 73.37%,#76ff89 74.96%,#85ff7a 76.56%,#94ff6b 78.15%,#a4ff5b 79.74%,#aaff55 81.34%,#adff52 82.93%,#afff50 84.53%,#b2ff4d 86.12%,#b4ff4b 87.72%,#b6ff49 89.31%,#b9ff46 90.91%,#bbff44 92.50%,#bdff42 94.10%,#bfff40 95.69%,#bfff40 97.29%,#bfff40 98.88%,#bfff40 100.00%)"></i><i style="background:linear-gradient(#c9ff36 0.00%,#c9ff36 1.59%,#c9ff36 3.19%,#ccff33 4.78%,#d3ff2c 6.38%,#d9ff26 7.97%,#deff21 9.57%,#d2ff2d 11.16%,#c5ff3a 12.76%,#b8ff47 14.35%,#acff53 15.95%,#acff53 17.54%,#aeff51 19.14%,#b0ff4f 20.73%,#b3ff4c 22.33%,#b5ff4a 23.92%,#b5ff4a 25.52%,#b5ff4a 27.11%,#b5ff4a 28.71%,#b6ff49 30.30%,#b1ff4e 31.90%,#acff53 33.49%,#a8ff57 35.09%,#a3ff5c 36.68%,#a2ff5d 38.28%,#aeff51 39.87%,#b9ff46 41.47%,#c5ff3a 43.06%,#cbff34 44.66%,#afff50 46.25%,#91ff6e 47.85%,#73ff8c 49.44%,#59ffa6 51.04%,#44ffbb 52.63%,#2effd1 54.23%,#19ffe6 55.82%,#0bfff4 57.42%,#0afff5 59.01%,#08fff7 60.61%,#07fff8 62.20%,#15ffea 63.80%,#25ffda 65.39%,#35ffca 66.99%,#44ffbb 68.58%,#51ffae 70.18%,#5dffa2 71.77%,#69ff96 73.37%,#77ff88 74.96%,#86ff79 76.56%,#95ff6a 78.15%,#a4ff5b 79.74%,#aaff55 81.34%,#adff52 82.93%,#b0ff4f 84.53%,#b2ff4d 86.12%,#b5ff4a 87.72%,#b7ff48 89.31%,#b9ff46 90.91%,#bbff44 92.50%,#beff41 94.10%,#bfff40 95.69%,#bfff40 97.29%,#bfff40 98.88%,#bfff40 100.00%)"></i><i style="background:linear-gradient(#c7ff38 0.00%,#c7ff38 1.59%,#c7ff38 3.19%,#cbff34 4.78%,#d2ff2d 6.38%,#daff25 7.97%,#ddff22 9.57%,#d1ff2e 11.16%,#c5ff3a 12.76%,#b8ff47 14.35%,#acff53 15.95%,#acff53 17.54%,#aeff51 19.14%,#b0ff4f 20.73%,#b3ff4c 22.33%,#b5ff4a 23.92%,#b5ff4a 25.52%,#b6ff49 27.11%,#b7ff48 28.71%,#b8ff47 30.30%,#b3ff4c 31.90%,#adff52 33.49%,#a8ff57 35.09%,#a3ff5c 36.68%,#a2ff5d 38.28%,#adff52 39.87%,#b9ff46 41.47%,#c4ff3b 43.06%,#cbff34 44.66%,#b2ff4d 46.25%,#94ff6b 47.85%,#75ff8a 49.44%,#5affa5 51.04%,#46ffb9 52.63%,#31ffce 54.23%,#1cffe3 55.82%,#0efff1 57.42%,#0cfff3 59.01%,#0bfff4 60.61%,#0afff5 62.20%,#16ffe9 63.80%,#26ffd9 65.39%,#36ffc9 66.99%,#45ffba 68.58%,#52ffad 70.18%,#5effa1 71.77%,#6aff95 73.37%,#78ff87 74.96%,#87ff78 76.56%,#95ff6a 78.15%,#a1ff5e 79.74%,#a8ff57 81.34%,#abff54 82.93%,#afff50 84.53%,#b2ff4d 86.12%,#b5ff4a 87.72%,#b7ff48 89.31%,#b9ff46 90.91%,#bbff44 92.50%,#beff41 94.10%,#bfff40 95.69%,#bfff40 97.29%,#bfff40 98.88%,#bfff40 100.00%)"></i><i style="background:linear-gradient(#c5ff3a 0.00%,#c5ff3a 1.59%,#c5ff3a 3.19%,#c9ff36 4.78%,#d2ff2d 6.38%,#daff25 7.97%,#dcff23 9.57%,#d0ff2f 11.16%,#c4ff3b 12.76%,#b8ff47 14.35%,#acff53 15.95%,#acff53 17.54%,#aeff51 19.14%,#b0ff4f 20.73%,#b3ff4c 22.33%,#b5ff4a 23.92%,#b6ff49 25.52%,#b7ff48 27.11%,#b8ff47 28.71%,#b9ff46 30.30%,#b4ff4b 31.90%,#aeff51 33.49%,#a9ff56 35.09%,#a3ff5c 36.68%,#a2ff5d 38.28%,#adff52 39.87%,#b8ff47 41.47%,#c3ff3c 43.06%,#cbff34 44.66%,#b5ff4a 46.25%,#96ff69 47.85%,#78ff87 49.44%,#5cffa3 51.04%,#48ffb7 52.63%,#34ffcb 54.23%,#1fffe0 55.82%,#10ffef 57.42%,#0efff1 59.01%,#0dfff2 60.61%,#0dfff2 62.20%,#17ffe8 63.80%,#27ffd8 65.39%,#37ffc8 66.99%,#46ffb9 68.58%,#53ffac 70.18%,#5fffa0 71.77%,#6cff93 73.37%,#79ff86 74.96%,#87ff78 76.56%,#94ff6b 78.15%,#9fff60 79.74%,#a6ff59 81.34%,#aaff55 82.93%,#aeff51 84.53%,#b2ff4d 86.12%,#b5ff4a 87.72%,#b7ff48 89.31%,#b9ff46 90.91%,#bbff44 92.50%,#beff41 94.10%,#bfff40 95.69%,#bfff40 97.29%,#bfff40 98.88%,#bfff40 100.00%)"></i><i style="background:linear-gradient(#c3ff3c 0.00%,#c3ff3c 1.59%,#c3ff3c 3.19%,#c8ff37 4.78%,#d1ff2e 6.38%,#daff25 7.97%,#dbff24 9.57%,#cfff30 11.16%,#c3ff3c 12.76%,#b7ff48 14.35%,#acff53 15.95%,#acff53 17.54%,#aeff51 19.14%,#b0ff4f 20.73%,#b3ff4c 22.33%,#b5ff4a 23.92%,#b6ff49 25.52%,#b8ff47 27.11%,#baff45 28.71%,#bbff44 30.30%,#b5ff4a 31.90%,#b0ff4f 33.49%,#aaff55 35.09%,#a4ff5b 36.68%,#a2ff5d 38.28%,#adff52 39.87%,#b7ff48 41.47%,#c2ff3d 43.06%,#cbff34 44.66%,#b8ff47 46.25%,#99ff66 47.85%,#7aff85 49.44%,#5dffa2 51.04%,#4affb5 52.63%,#36ffc9 54.23%,#23ffdc 55.82%,#13ffec 57.42%,#11ffee 59.01%,#10ffef 60.61%,#0ffff0 62.20%,#18ffe7 63.80%,#28ffd7 65.39%,#37ffc8 66.99%,#47ffb8 68.58%,#55ffaa 70.18%,#61ff9e 71.77%,#6dff92 73.37%,#7aff85 74.96%,#88ff77 76.56%,#93ff6c 78.15%,#9dff62 79.74%,#a3ff5c 81.34%,#a8ff57 82.93%,#adff52 84.53%,#b2ff4d 86.12%,#b5ff4a 87.72%,#b7ff48 89.31%,#b9ff46 90.91%,#bcff43 92.50%,#beff41 94.10%,#bfff40 95.69%,#bfff40 97.29%,#bfff40 98.88%,#bfff40 100.00%)"></i><i style="background:linear-gradient(#c1ff3e 0.00%,#c1ff3e 1.59%,#c1ff3e 3.19%,#c7ff38 4.78%,#d1ff2e 6.38%,#daff25 7.97%,#daff25 9.57%,#ceff31 11.16%,#c3ff3c 12.76%,#b7ff48 14.35%,#acff53 15.95%,#acff53 17.54%,#aeff51 19.14%,#b0ff4f 20.73%,#b3ff4c 22.33%,#b5ff4a 23.92%,#b7ff48 25.52%,#b9ff46 27.11%,#bbff44 28.71%,#bdff42 30.30%,#b7ff48 31.90%,#b1ff4e 33.49%,#aaff55 35.09%,#a4ff5b 36.68%,#a2ff5d 38.28%,#adff52 39.87%,#b7ff48 41.47%,#c1ff3e 43.06%,#cbff34 44.66%,#bbff44 46.25%,#9cff63 47.85%,#7dff82 49.44%,#5effa1 51.04%,#4cffb3 52.63%,#39ffc6 54.23%,#26ffd9 55.82%,#15ffea 57.42%,#13ffec 59.01%,#13ffec 60.61%,#12ffed 62.20%,#19ffe6 63.80%,#29ffd6 65.39%,#38ffc7 66.99%,#47ffb8 68.58%,#56ffa9 70.18%,#62ff9d 71.77%,#6eff91 73.37%,#7bff84 74.96%,#88ff77 76.56%,#93ff6c 78.15%,#9bff64 79.74%,#a1ff5e 81.34%,#a7ff58 82.93%,#acff53 84.53%,#b2ff4d 86.12%,#b5ff4a 87.72%,#b8ff47 89.31%,#baff45 90.91%,#bcff43 92.50%,#beff41 94.10%,#bfff40 95.69%,#bfff40 97.29%,#bfff40 98.88%,#bfff40 100.00%)"></i><i style="background:linear-gradient(#bfff40 0.00%,#bfff40 1.59%,#bfff40 3.19%,#c5ff3a 4.78%,#d0ff2f 6.38%,#dbff24 7.97%,#d9ff26 9.57%,#cdff32 11.16%,#c2ff3d 12.76%,#b7ff48 14.35%,#acff53 15.95%,#acff53 17.54%,#aeff51 19.14%,#b0ff4f 20.73%,#b3ff4c 22.33%,#b5ff4a 23.92%,#b7ff48 25.52%,#baff45 27.11%,#bdff42 28.71%,#bfff40 30.30%,#b8ff47 31.90%,#b2ff4d 33.49%,#abff54 35.09%,#a4ff5b 36.68%,#a2ff5d 38.28%,#acff53 39.87%,#b6ff49 41.47%,#c0ff3f 43.06%,#cbff34 44.66%,#beff41 46.25%,#9fff60 47.85%,#7fff80 49.44%,#60ff9f 51.04%,#4effb1 52.63%,#3cffc3 54.23%,#2affd5 55.82%,#18ffe7 57.42%,#15ffea 59.01%,#15ffea 60.61%,#15ffea 62.20%,#1affe5 63.80%,#29ffd6 65.39%,#39ffc6 66.99%,#48ffb7 68.58%,#57ffa8 70.18%,#63ff9c 71.77%,#70ff8f 73.37%,#7cff83 74.96%,#89ff76 76.56%,#92ff6d 78.15%,#99ff66 79.74%,#9fff60 81.34%,#a5ff5a 82.93%,#abff54 84.53%,#b2ff4d 86.12%,#b6ff49 87.72%,#b8ff47 89.31%,#baff45 90.91%,#bcff43 92.50%,#beff41 94.10%,#bfff40 95.69%,#bfff40 97.29%,#bfff40 98.88%,#bfff40 100.00%)"></i><i style="background:linear-gradient(#beff41 0.00%,#beff41 1.59%,#beff41 3.19%,#c4ff3b 4.78%,#ceff31 6.38%,#d9ff26 7.97%,#d7ff28 9.57%,#ccff33 11.16%,#c1ff3e 12.76%,#b6ff49 14.35%,#acff53 15.95%,#acff53 17.54%,#aeff51 19.14%,#b0ff4f 20.73%,#b3ff4c 22.33%,#b5ff4a 23.92%,#b7ff48 25.52%,#b9ff46 27.11%,#baff45 28.71%,#bcff43 30.30%,#b6ff49 31.90%,#afff50 33.49%,#a8ff57 35.09%,#a1ff5e 36.68%,#9fff60 38.28%,#a9ff56 39.87%,#b3ff4c 41.47%,#bcff43 43.06%,#c6ff39 44.66%,#bbff44 46.25%,#9dff62 47.85%,#7fff80 49.44%,#61ff9e 51.04%,#4fffb0 52.63%,#3effc1 54.23%,#2cffd3 55.82%,#1bffe4 57.42%,#17ffe8 59.01%,#17ffe8 60.61%,#17ffe8 62.20%,#1cffe3 63.80%,#2cffd3 65.39%,#3bffc4 66.99%,#4bffb4 68.58%,#5affa5 70.18%,#66ff99 71.77%,#72ff8d 73.37%,#7eff81 74.96%,#8aff75 76.56%,#93ff6c 78.15%,#99ff66 79.74%,#9fff60 81.34%,#a5ff5a 82.93%,#aaff55 84.53%,#b0ff4f 86.12%,#b4ff4b 87.72%,#b6ff49 89.31%,#b8ff47 90.91%,#baff45 92.50%,#bcff43 94.10%,#beff41 95.69%,#beff41 97.29%,#beff41 98.88%,#beff41 100.00%)"></i><i style="background:linear-gradient(#bcff43 0.00%,#bcff43 1.59%,#bcff43 3.19%,#c2ff3d 4.78%,#cdff32 6.38%,#d8ff27 7.97%,#d6ff29 9.57%,#cbff34 11.16%,#c1ff3e 12.76%,#b6ff49 14.35%,#abff54 15.95%,#acff53 17.54%,#aeff51 19.14%,#b0ff4f 20.73%,#b3ff4c 22.33%,#b5ff4a 23.92%,#b6ff49 25.52%,#b7ff48 27.11%,#b8ff47 28.71%,#b9ff46 30.30%,#b2ff4d 31.90%,#acff53 33.49%,#a5ff5a 35.09%,#9eff61 36.68%,#9cff63 38.28%,#a5ff5a 39.87%,#afff50 41.47%,#b8ff47 43.06%,#c2ff3d 44.66%,#b7ff48 46.25%,#9aff65 47.85%,#7eff81 49.44%,#61ff9e 51.04%,#51ffae 52.63%,#40ffbf 54.23%,#2fffd0 55.82%,#1fffe0 57.42%,#1affe5 59.01%,#1affe5 60.61%,#1affe5 62.20%,#1fffe0 63.80%,#2effd1 65.39%,#3effc1 66.99%,#4effb1 68.58%,#5dffa2 70.18%,#69ff96 71.77%,#75ff8a 73.37%,#80ff7f 74.96%,#8cff73 76.56%,#95ff6a 78.15%,#9aff65 79.74%,#9fff60 81.34%,#a4ff5b 82.93%,#a9ff56 84.53%,#afff50 86.12%,#b2ff4d 87.72%,#b4ff4b 89.31%,#b6ff49 90.91%,#b8ff47 92.50%,#bbff44 94.10%,#bcff43 95.69%,#bcff43 97.29%,#bcff43 98.88%,#bcff43 100.00%)"></i><i style="background:linear-gradient(#bbff44 0.00%,#bbff44 1.59%,#bbff44 3.19%,#c0ff3f 4.78%,#cbff34 6.38%,#d6ff29 7.97%,#d4ff2b 9.57%,#caff35 11.16%,#c0ff3f 12.76%,#b6ff49 14.35%,#abff54 15.95%,#acff53 17.54%,#aeff51 19.14%,#b0ff4f 20.73%,#b3ff4c 22.33%,#b5ff4a 23.92%,#b5ff4a 25.52%,#b5ff4a 27.11%,#b6ff49 28.71%,#b6ff49 30.30%,#afff50 31.90%,#a9ff56 33.49%,#a2ff5d 35.09%,#9bff64 36.68%,#99ff66 38.28%,#a2ff5d 39.87%,#abff54 41.47%,#b4ff4b 43.06%,#bdff42 44.66%,#b3ff4c 46.25%,#98ff67 47.85%,#7dff82 49.44%,#62ff9d 51.04%,#52ffad 52.63%,#42ffbd 54.23%,#32ffcd 55.82%,#22ffdd 57.42%,#1cffe3 59.01%,#1cffe3 60.61%,#1cffe3 62.20%,#21ffde 63.80%,#31ffce 65.39%,#41ffbe 66.99%,#51ffae 68.58%,#60ff9f 70.18%,#6cff93 71.77%,#77ff88 73.37%,#82ff7d 74.96%,#8eff71 76.56%,#96ff69 78.15%,#9bff64 79.74%,#9fff60 81.34%,#a4ff5b 82.93%,#a8ff57 84.53%,#adff52 86.12%,#b0ff4f 87.72%,#b2ff4d 89.31%,#b5ff4a 90.91%,#b7ff48 92.50%,#b9ff46 94.10%,#bbff44 95.69%,#bbff44 97.29%,#bbff44 98.88%,#bbff44 100.00%)"></i><i style="background:linear-gradient(#b9ff46 0.00%,#b9ff46 1.59%,#b9ff46 3.19%,#bfff40 4.78%,#caff35 6.38%,#d4ff2b 7.97%,#d3ff2c 9.57%,#c9ff36 11.16%,#bfff40 12.76%,#b5ff4a 14.35%,#abff54 15.95%,#acff53 17.54%,#aeff51 19.14%,#b0ff4f 20.73%,#b3ff4c 22.33%,#b5ff4a 23.92%,#b4ff4b 25.52%,#b4ff4b 27.11%,#b3ff4c 28.71%,#b3ff4c 30.30%,#acff53 31.90%,#a5ff5a 33.49%,#9fff60 35.09%,#98ff67 36.68%,#95ff6a 38.28%,#9eff61 39.87%,#a7ff58 41.47%,#b0ff4f 43.06%,#b9ff46 44.66%,#afff50 46.25%,#96ff69 47.85%,#7cff83 49.44%,#63ff9c 51.04%,#53ffac 52.63%,#44ffbb 54.23%,#35ffca 55.82%,#25ffda 57.42%,#1fffe0 59.01%,#1fffe0 60.61%,#1fffe0 62.20%,#24ffdb 63.80%,#34ffcb 65.39%,#44ffbb 66.99%,#54ffab 68.58%,#63ff9c 70.18%,#6eff91 71.77%,#79ff86 73.37%,#84ff7b 74.96%,#8fff70 76.56%,#97ff68 78.15%,#9bff64 79.74%,#9fff60 81.34%,#a3ff5c 82.93%,#a7ff58 84.53%,#abff54 86.12%,#aeff51 87.72%,#b1ff4e 89.31%,#b3ff4c 90.91%,#b5ff4a 92.50%,#b7ff48 94.10%,#b9ff46 95.69%,#b9ff46 97.29%,#b9ff46 98.88%,#b9ff46 100.00%)"></i><i style="background:linear-gradient(#b7ff48 0.00%,#b7ff48 1.59%,#b7ff48 3.19%,#bdff42 4.78%,#c8ff37 6.38%,#d3ff2c 7.97%,#d2ff2d 9.57%,#c8ff37 11.16%,#bfff40 12.76%,#b5ff4a 14.35%,#abff54 15.95%,#acff53 17.54%,#aeff51 19.14%,#b0ff4f 20.73%,#b3ff4c 22.33%,#b4ff4b 23.92%,#b3ff4c 25.52%,#b2ff4d 27.11%,#b1ff4e 28.71%,#b0ff4f 30.30%,#a9ff56 31.90%,#a2ff5d 33.49%,#9bff64 35.09%,#95ff6a 36.68%,#92ff6d 38.28%,#9bff64 39.87%,#a3ff5c 41.47%,#abff54 43.06%,#b4ff4b 44.66%,#abff54 46.25%,#93ff6c 47.85%,#7bff84 49.44%,#64ff9b 51.04%,#55ffaa 52.63%,#46ffb9 54.23%,#38ffc7 55.82%,#29ffd6 57.42%,#21ffde 59.01%,#21ffde 60.61%,#21ffde 62.20%,#26ffd9 63.80%,#36ffc9 65.39%,#47ffb8 66.99%,#57ffa8 68.58%,#66ff99 70.18%,#71ff8e 71.77%,#7cff83 73.37%,#87ff78 74.96%,#91ff6e 76.56%,#99ff66 78.15%,#9cff63 79.74%,#a0ff5f 81.34%,#a3ff5c 82.93%,#a6ff59 84.53%,#aaff55 86.12%,#adff52 87.72%,#afff50 89.31%,#b1ff4e 90.91%,#b3ff4c 92.50%,#b6ff49 94.10%,#b7ff48 95.69%,#b7ff48 97.29%,#b7ff48 98.88%,#b7ff48 100.00%)"></i><i style="background:linear-gradient(#b6ff49 0.00%,#b6ff49 1.59%,#b6ff49 3.19%,#bcff43 4.78%,#c7ff38 6.38%,#d1ff2e 7.97%,#d0ff2f 9.57%,#c7ff38 11.16%,#beff41 12.76%,#b5ff4a 14.35%,#abff54 15.95%,#acff53 17.54%,#aeff51 19.14%,#b0ff4f 20.73%,#b3ff4c 22.33%,#b4ff4b 23.92%,#b2ff4d 25.52%,#b0ff4f 27.11%,#aeff51 28.71%,#adff52 30.30%,#a6ff59 31.90%,#9fff60 33.49%,#98ff67 35.09%,#92ff6d 36.68%,#8fff70 38.28%,#97ff68 39.87%,#9fff60 41.47%,#a7ff58 43.06%,#afff50 44.66%,#a7ff58 46.25%,#91ff6e 47.85%,#7bff84 49.44%,#64ff9b 51.04%,#56ffa9 52.63%,#48ffb7 54.23%,#3affc5 55.82%,#2cffd3 57.42%,#23ffdc 59.01%,#23ffdc 60.61%,#23ffdc 62.20%,#28ffd7 63.80%,#39ffc6 65.39%,#49ffb6 66.99%,#5affa5 68.58%,#6aff95 70.18%,#74ff8b 71.77%,#7eff81 73.37%,#89ff76 74.96%,#93ff6c 76.56%,#9aff65 78.15%,#9dff62 79.74%,#a0ff5f 81.34%,#a3ff5c 82.93%,#a5ff5a 84.53%,#a8ff57 86.12%,#abff54 87.72%,#adff52 89.31%,#afff50 90.91%,#b2ff4d 92.50%,#b4ff4b 94.10%,#b6ff49 95.69%,#b6ff49 97.29%,#b6ff49 98.88%,#b6ff49 100.00%)"></i><i style="background:linear-gradient(#b5ff4a 0.00%,#b5ff4a 1.59%,#b5ff4a 3.19%,#baff45 4.78%,#c5ff3a 6.38%,#d0ff2f 7.97%,#cfff30 9.57%,#c6ff39 11.16%,#bdff42 12.76%,#b4ff4b 14.35%,#abff54 15.95%,#acff53 17.54%,#aeff51 19.14%,#b0ff4f 20.73%,#b3ff4c 22.33%,#b4ff4b 23.92%,#b2ff4d 25.52%,#afff50 27.11%,#adff52 28.71%,#aaff55 30.30%,#a3ff5c 31.90%,#9dff62 33.49%,#96ff69 35.09%,#8fff70 36.68%,#8cff73 38.28%,#94ff6b 39.87%,#9cff63 41.47%,#a4ff5b 43.06%,#acff53 44.66%,#a4ff5b 46.25%,#8fff70 47.85%,#7aff85 49.44%,#65ff9a 51.04%,#58ffa7 52.63%,#4affb5 54.23%,#3dffc2 55.82%,#2fffd0 57.42%,#25ffda 59.01%,#25ffda 60.61%,#25ffda 62.20%,#2affd5 63.80%,#3bffc4 65.39%,#4cffb3 66.99%,#5cffa3 68.58%,#6cff93 70.18%,#76ff89 71.77%,#80ff7f 73.37%,#8aff75 74.96%,#94ff6b 76.56%,#9bff64 78.15%,#9dff62 79.74%,#a0ff5f 81.34%,#a2ff5d 82.93%,#a5ff5a 84.53%,#a7ff58 86.12%,#a9ff56 87.72%,#acff53 89.31%,#aeff51 90.91%,#b0ff4f 92.50%,#b3ff4c 94.10%,#b5ff4a 95.69%,#b5ff4a 97.29%,#b5ff4a 98.88%,#b5ff4a 100.00%)"></i><i style="background:linear-gradient(#b5ff4a 0.00%,#b5ff4a 1.59%,#b5ff4a 3.19%,#baff45 4.78%,#c5ff3a 6.38%,#d0ff2f 7.97%,#cfff30 9.57%,#c6ff39 11.16%,#bdff42 12.76%,#b4ff4b 14.35%,#abff54 15.95%,#acff53 17.54%,#aeff51 19.14%,#b0ff4f 20.73%,#b3ff4c 22.33%,#b4ff4b 23.92%,#b2ff4d 25.52%,#afff50 27.11%,#adff52 28.71%,#aaff55 30.30%,#a3ff5c 31.90%,#9dff62 33.49%,#96ff69 35.09%,#8fff70 36.68%,#8cff73 38.28%,#94ff6b 39.87%,#9cff63 41.47%,#a4ff5b 43.06%,#acff53 44.66%,#a4ff5b 46.25%,#8fff70 47.85%,#7aff85 49.44%,#65ff9a 51.04%,#58ffa7 52.63%,#4affb5 54.23%,#3dffc2 55.82%,#2fffd0 57.42%,#25ffda 59.01%,#25ffda 60.61%,#25ffda 62.20%,#2affd5 63.80%,#3bffc4 65.39%,#4cffb3 66.99%,#5cffa3 68.58%,#6cff93 70.18%,#76ff89 71.77%,#80ff7f 73.37%,#8aff75 74.96%,#94ff6b 76.56%,#9bff64 78.15%,#9dff62 79.74%,#a0ff5f 81.34%,#a2ff5d 82.93%,#a5ff5a 84.53%,#a7ff58 86.12%,#a9ff56 87.72%,#acff53 89.31%,#aeff51 90.91%,#b0ff4f 92.50%,#b3ff4c 94.10%,#b5ff4a 95.69%,#b5ff4a 97.29%,#b5ff4a 98.88%,#b5ff4a 100.00%)"></i><i style="background:linear-gradient(#b5ff4a 0.00%,#b5ff4a 1.59%,#b5ff4a 3.19%,#baff45 4.78%,#c5ff3a 6.38%,#d0ff2f 7.97%,#cfff30 9.57%,#c6ff39 11.16%,#bdff42 12.76%,#b4ff4b 14.35%,#abff54 15.95%,#acff53 17.54%,#aeff51 19.14%,#b0ff4f 20.73%,#b3ff4c 22.33%,#b4ff4b 23.92%,#b2ff4d 25.52%,#afff50 27.11%,#adff52 28.71%,#aaff55 30.30%,#a3ff5c 31.90%,#9dff62 33.49%,#96ff69 35.09%,#8fff70 36.68%,#8cff73 38.28%,#94ff6b 39.87%,#9cff63 41.47%,#a4ff5b 43.06%,#acff53 44.66%,#a4ff5b 46.25%,#8fff70 47.85%,#7aff85 49.44%,#65ff9a 51.04%,#58ffa7 52.63%,#4affb5 54.23%,#3dffc2 55.82%,#2fffd0 57.42%,#25ffda 59.01%,#25ffda 60.61%,#25ffda 62.20%,#2affd5 63.80%,#3bffc4 65.39%,#4cffb3 66.99%,#5cffa3 68.58%,#6cff93 70.18%,#76ff89 71.77%,#80ff7f 73.37%,#8aff75 74.96%,#94ff6b 76.56%,#9bff64 78.15%,#9dff62 79.74%,#a0ff5f 81.34%,#a2ff5d 82.93%,#a5ff5a 84.53%,#a7ff58 86.12%,#a9ff56 87.72%,#acff53 89.31%,#aeff51 90.91%,#b0ff4f 92.50%,#b3ff4c 94.10%,#b5ff4a 95.69%,#b5ff4a 97.29%,#b5ff4a 98.88%,#b5ff4a 100.00%)"></i><i style="background:linear-gradient(#b5ff4a 0.00%,#b5ff4a 1.59%,#b5ff4a 3.19%,#baff45 4.78%,#c5ff3a 6.38%,#d0ff2f 7.97%,#cfff30 9.57%,#c6ff39 11.16%,#bdff42 12.76%,#b4ff4b 14.35%,#abff54 15.95%,#acff53 17.54%,#aeff51 19.14%,#b0ff4f 20.73%,#b3ff4c 22.33%,#b4ff4b 23.92%,#b2ff4d 25.52%,#afff50 27.11%,#adff52 28.71%,#aaff55 30.30%,#a3ff5c 31.90%,#9dff62 33.49%,#96ff69 35.09%,#8fff70 36.68%,#8cff73 38.28%,#94ff6b 39.87%,#9cff63 41.47%,#a4ff5b 43.06%,#acff53 44.66%,#a4ff5b 46.25%,#8fff70 47.85%,#7aff85 49.44%,#65ff9a 51.04%,#58ffa7 52.63%,#4affb5 54.23%,#3dffc2 55.82%,#2fffd0 57.42%,#25ffda 59.01%,#25ffda 60.61%,#25ffda 62.20%,#2affd5 63.80%,#3bffc4 65.39%,#4cffb3 66.99%,#5cffa3 68.58%,#6cff93 70.18%,#76ff89 71.77%,#80ff7f 73.37%,#8aff75 74.96%,#94ff6b 76.56%,#9bff64 78.15%,#9dff62 79.74%,#a0ff5f 81.34%,#a2ff5d 82.93%,#a5ff5a 84.53%,#a7ff58 86.12%,#a9ff56 87.72%,#acff53 89.31%,#aeff51 90.91%,#b0ff4f 92.50%,#b3ff4c 94.10%,#b5ff4a 95.69%,#b5ff4a 97.29%,#b5ff4a 98.88%,#b5ff4a 100.00%)"></i></div></div>
<div class="hm" style="left:924.2px;top:387.9px;width:719.1px;height:238.8px"><div class="hi" style="left:-12px;width:756px"><i style="background:linear-gradient(#70ff8f 0.00%,#70ff8f 1.59%,#70ff8f 3.19%,#70ff8f 4.78%,#70ff8f 6.38%,#70ff8f 7.97%,#70ff8f 9.57%,#70ff8f 11.16%,#62ff9d 12.76%,#52ffad 14.35%,#42ffbd 15.95%,#33ffcc 17.54%,#25ffda 19.14%,#17ffe8 20.73%,#0afff5 22.33%,#00fdff 23.92%,#00f1ff 25.52%,#00ddff 27.11%,#00b9ff 28.71%,#0095ff 30.30%,#0071ff 31.90%,#004dff 33.49%,#0040ff 35.09%,#0040ff 36.68%,#0040ff 38.28%,#0045ff 39.87%,#0081ff 41.47%,#00b2ff 43.06%,#00cdff 44.66%,#00e8ff 46.25%,#00bcff 47.85%,#0085ff 49.44%,#002bff 51.04%,#0000e9 52.63%,#0000b9 54.23%,#00009a 55.82%,#00009a 57.42%,#00009a 59.01%,#00009a 60.61%,#0000ae 62.20%,#0000db 63.80%,#0011ff 65.39%,#0047ff 66.99%,#007dff 68.58%,#00afff 70.18%,#00dfff 71.77%,#24ffdb 73.37%,#68ff97 74.96%,#a7ff58 76.56%,#ddff22 78.15%,#fff600 79.74%,#ffcd00 81.34%,#ffb000 82.93%,#ff9400 84.53%,#ff7800 86.12%,#ff6600 87.72%,#ff5e00 89.31%,#ff5600 90.91%,#ff4e00 92.50%,#ff4600 94.10%,#ff4000 95.69%,#ff4000 97.29%,#ff4000 98.88%,#ff4000 100.00%)"></i><i style="background:linear-gradient(#70ff8f 0.00%,#70ff8f 1.59%,#70ff8f 3.19%,#70ff8f 4.78%,#70ff8f 6.38%,#70ff8f 7.97%,#70ff8f 9.57%,#70ff8f 11.16%,#62ff9d 12.76%,#52ffad 14.35%,#42ffbd 15.95%,#33ffcc 17.54%,#25ffda 19.14%,#17ffe8 20.73%,#0afff5 22.33%,#00fdff 23.92%,#00f1ff 25.52%,#00ddff 27.11%,#00b9ff 28.71%,#0095ff 30.30%,#0071ff 31.90%,#004dff 33.49%,#0040ff 35.09%,#0040ff 36.68%,#0040ff 38.28%,#0045ff 39.87%,#0081ff 41.47%,#00b2ff 43.06%,#00cdff 44.66%,#00e8ff 46.25%,#00bcff 47.85%,#0085ff 49.44%,#002bff 51.04%,#0000e9 52.63%,#0000b9 54.23%,#00009a 55.82%,#00009a 57.42%,#00009a 59.01%,#00009a 60.61%,#0000ae 62.20%,#0000db 63.80%,#0011ff 65.39%,#0047ff 66.99%,#007dff 68.58%,#00afff 70.18%,#00dfff 71.77%,#24ffdb 73.37%,#68ff97 74.96%,#a7ff58 76.56%,#ddff22 78.15%,#fff600 79.74%,#ffcd00 81.34%,#ffb000 82.93%,#ff9400 84.53%,#ff7800 86.12%,#ff6600 87.72%,#ff5e00 89.31%,#ff5600 90.91%,#ff4e00 92.50%,#ff4600 94.10%,#ff4000 95.69%,#ff4000 97.29%,#ff4000 98.88%,#ff4000 100.00%)"></i><i style="background:linear-gradient(#76ff89 0.00%,#76ff89 1.59%,#76ff89 3.19%,#77ff88 4.78%,#78ff87 6.38%,#79ff86 7.97%,#78ff87 9.57%,#76ff89 11.16%,#68ff97 12.76%,#58ffa7 14.35%,#47ffb8 15.95%,#37ffc8 17.54%,#28ffd7 19.14%,#19ffe6 20.73%,#0dfff2 22.33%,#02fffd 23.92%,#00f5ff 25.52%,#00e1ff 27.11%,#00beff 28.71%,#009aff 30.30%,#0074ff 31.90%,#004eff 33.49%,#0040ff 35.09%,#0040ff 36.68%,#0040ff 38.28%,#0045ff 39.87%,#0081ff 41.47%,#00b3ff 43.06%,#00ceff 44.66%,#00eaff 46.25%,#00bdff 47.85%,#0085ff 49.44%,#002bff 51.04%,#0000e8 52.63%,#0000b6 54.23%,#000095 55.82%,#000095 57.42%,#000095 59.01%,#000095 60.61%,#0000aa 62.20%,#0000d5 63.80%,#000bff 65.39%,#0040ff 66.99%,#0076ff 68.58%,#00aaff 70.18%,#00ddff 71.77%,#1cffe3 73.37%,#5affa5 74.96%,#94ff6b 76.56%,#c8ff37 78.15%,#f1ff0e 79.74%,#ffe400 81.34%,#ffc600 82.93%,#ffa900 84.53%,#ff8f00 86.12%,#ff7e00 87.72%,#ff7500 89.31%,#ff6c00 90.91%,#ff6400 92.50%,#ff5b00 94.10%,#ff5400 95.69%,#ff5400 97.29%,#ff5400 98.88%,#ff5400 100.00%)"></i><i style="background:linear-gradient(#7dff82 0.00%,#7dff82 1.59%,#7dff82 3.19%,#7fff80 4.78%,#82ff7d 6.38%,#84ff7b 7.97%,#81ff7e 9.57%,#7eff81 11.16%,#6fff90 12.76%,#5dffa2 14.35%,#4cffb3 15.95%,#3cffc3 17.54%,#2cffd3 19.14%,#1dffe2 20.73%,#11ffee 22.33%,#05fffa 23.92%,#00f9ff 25.52%,#00e5ff 27.11%,#00c3ff 28.71%,#00a1ff 30.30%,#0078ff 31.90%,#004fff 33.49%,#0040ff 35.09%,#0040ff 36.68%,#0040ff 38.28%,#0045ff 39.87%,#0081ff 41.47%,#00b3ff 43.06%,#00cfff 44.66%,#00ecff 46.25%,#00beff 47.85%,#0085ff 49.44%,#002bff 51.04%,#0000e7 52.63%,#0000b3 54.23%,#00008e 55.82%,#00008e 57.42%,#00008e 59.01%,#00008f 60.61%,#0000a6 62.20%,#0000ce 63.80%,#0003ff 65.39%,#0038ff 66.99%,#006eff 68.58%,#00a4ff 70.18%,#00dbff 71.77%,#14ffeb 73.37%,#4bffb4 74.96%,#80ff7f 76.56%,#b0ff4f 78.15%,#d9ff26 79.74%,#fffd00 81.34%,#ffde00 82.93%,#ffc100 84.53%,#ffa900 86.12%,#ff9900 87.72%,#ff8e00 89.31%,#ff8400 90.91%,#ff7b00 92.50%,#ff7200 94.10%,#ff6a00 95.69%,#ff6a00 97.29%,#ff6a00 98.88%,#ff6a00 100.00%)"></i><i style="background:linear-gradient(#84ff7b 0.00%,#84ff7b 1.59%,#84ff7b 3.19%,#87ff78 4.78%,#8cff73 6.38%,#8fff70 7.97%,#8aff75 9.57%,#85ff7a 11.16%,#75ff8a 12.76%,#63ff9c 14.35%,#51ffae 15.95%,#40ffbf 17.54%,#30ffcf 19.14%,#20ffdf 20.73%,#14ffeb 22.33%,#09fff6 23.92%,#00fdff 25.52%,#00e9ff 27.11%,#00c8ff 28.71%,#00a7ff 30.30%,#007bff 31.90%,#0050ff 33.49%,#0040ff 35.09%,#0040ff 36.68%,#0040ff 38.28%,#0045ff 39.87%,#0081ff 41.47%,#00b3ff 43.06%,#00d1ff 44.66%,#00eeff 46.25%,#00bfff 47.85%,#0085ff 49.44%,#002bff 51.04%,#0000e5 52.63%,#0000af 54.23%,#000088 55.82%,#000088 57.42%,#000088 59.01%,#00008a 60.61%,#0000a1 62.20%,#0000c8 63.80%,#0000fb 65.39%,#0030ff 66.99%,#0066ff 68.58%,#009fff 70.18%,#00d9ff 71.77%,#0bfff4 73.37%,#3cffc3 74.96%,#6cff93 76.56%,#99ff66 78.15%,#c1ff3e 79.74%,#e8ff17 81.34%,#fff500 82.93%,#ffd800 84.53%,#ffc300 86.12%,#ffb300 87.72%,#ffa700 89.31%,#ff9d00 90.91%,#ff9300 92.50%,#ff8800 94.10%,#ff8000 95.69%,#ff8000 97.29%,#ff8000 98.88%,#ff8000 100.00%)"></i><i style="background:linear-gradient(#8bff74 0.00%,#8bff74 1.59%,#8bff74 3.19%,#8fff70 4.78%,#95ff6a 6.38%,#9aff65 7.97%,#93ff6c 9.57%,#8cff73 11.16%,#7cff83 12.76%,#69ff96 14.35%,#56ffa9 15.95%,#45ffba 17.54%,#34ffcb 19.14%,#23ffdc 20.73%,#17ffe8 22.33%,#0cfff3 23.92%,#01fffe 25.52%,#00eeff 27.11%,#00cdff 28.71%,#00adff 30.30%,#007fff 31.90%,#0051ff 33.49%,#0040ff 35.09%,#0040ff 36.68%,#0040ff 38.28%,#0045ff 39.87%,#0081ff 41.47%,#00b3ff 43.06%,#00d2ff 44.66%,#00f0ff 46.25%,#00c0ff 47.85%,#0085ff 49.44%,#002bff 51.04%,#0000e4 52.63%,#0000ac 54.23%,#000082 55.82%,#000082 57.42%,#000082 59.01%,#000084 60.61%,#00009d 62.20%,#0000c2 63.80%,#0000f3 65.39%,#0028ff 66.99%,#005eff 68.58%,#0099ff 70.18%,#00d7ff 71.77%,#03fffc 73.37%,#2dffd2 74.96%,#58ffa7 76.56%,#82ff7d 78.15%,#a9ff56 79.74%,#cfff30 81.34%,#f1ff0e 82.93%,#fff000 84.53%,#ffdd00 86.12%,#ffce00 87.72%,#ffc000 89.31%,#ffb500 90.91%,#ffaa00 92.50%,#ff9f00 94.10%,#ff9600 95.69%,#ff9600 97.29%,#ff9600 98.88%,#ff9600 100.00%)"></i><i style="background:linear-gradient(#92ff6d 0.00%,#92ff6d 1.59%,#92ff6d 3.19%,#97ff68 4.78%,#9fff60 6.38%,#a4ff5b 7.97%,#9cff63 9.57%,#94ff6b 11.16%,#82ff7d 12.76%,#6fff90 14.35%,#5bffa4 15.95%,#49ffb6 17.54%,#38ffc7 19.14%,#26ffd9 20.73%,#1bffe4 22.33%,#10ffef 23.92%,#05fffa 25.52%,#00f2ff 27.11%,#00d2ff 28.71%,#00b3ff 30.30%,#0082ff 31.90%,#0052ff 33.49%,#0040ff 35.09%,#0040ff 36.68%,#0040ff 38.28%,#0045ff 39.87%,#0081ff 41.47%,#00b4ff 43.06%,#00d3ff 44.66%,#00f2ff 46.25%,#00c1ff 47.85%,#0085ff 49.44%,#002bff 51.04%,#0000e3 52.63%,#0000a8 54.23%,#000080 55.82%,#000080 57.42%,#000080 59.01%,#000080 60.61%,#000099 62.20%,#0000bb 63.80%,#0000eb 65.39%,#0020ff 66.99%,#0056ff 68.58%,#0094ff 70.18%,#00d5ff 71.77%,#00f9ff 73.37%,#1effe1 74.96%,#44ffbb 76.56%,#6bff94 78.15%,#91ff6e 79.74%,#b6ff49 81.34%,#d9ff26 82.93%,#f7ff08 84.53%,#fff700 86.12%,#ffe800 87.72%,#ffda00 89.31%,#ffcd00 90.91%,#ffc200 92.50%,#ffb600 94.10%,#ffad00 95.69%,#ffad00 97.29%,#ffad00 98.88%,#ffad00 100.00%)"></i><i style="background:linear-gradient(#94ff6b 0.00%,#94ff6b 1.59%,#94ff6b 3.19%,#98ff67 4.78%,#a0ff5f 6.38%,#a5ff5a 7.97%,#9dff62 9.57%,#95ff6a 11.16%,#84ff7b 12.76%,#71ff8e 14.35%,#5effa1 15.95%,#4dffb2 17.54%,#3bffc4 19.14%,#2affd5 20.73%,#1effe1 22.33%,#13ffec 23.92%,#08fff7 25.52%,#00f5ff 27.11%,#00d7ff 28.71%,#00b8ff 30.30%,#0089ff 31.90%,#005aff 33.49%,#0049ff 35.09%,#0049ff 36.68%,#0049ff 38.28%,#004eff 39.87%,#0086ff 41.47%,#00b7ff 43.06%,#00d5ff 44.66%,#00f3ff 46.25%,#00c3ff 47.85%,#0088ff 49.44%,#002eff 51.04%,#0000e6 52.63%,#0000ac 54.23%,#000080 55.82%,#000080 57.42%,#000080 59.01%,#000082 60.61%,#00009c 62.20%,#0000bd 63.80%,#0000ed 65.39%,#0020ff 66.99%,#0057ff 68.58%,#0095ff 70.18%,#00d4ff 71.77%,#00f7ff 73.37%,#1affe5 74.96%,#3dffc2 76.56%,#62ff9d 78.15%,#87ff78 79.74%,#aaff55 81.34%,#cdff32 82.93%,#e9ff16 84.53%,#f8ff07 86.12%,#fff800 87.72%,#ffea00 89.31%,#ffde00 90.91%,#ffd300 92.50%,#ffc700 94.10%,#ffbe00 95.69%,#ffbe00 97.29%,#ffbe00 98.88%,#ffbe00 100.00%)"></i><i style="background:linear-gradient(#92ff6d 0.00%,#92ff6d 1.59%,#92ff6d 3.19%,#95ff6a 4.78%,#9cff63 6.38%,#a0ff5f 7.97%,#9aff65 9.57%,#93ff6c 11.16%,#83ff7c 12.76%,#72ff8d 14.35%,#60ff9f 15.95%,#4fffb0 17.54%,#3fffc0 19.14%,#2effd1 20.73%,#22ffdd 22.33%,#16ffe9 23.92%,#0afff5 25.52%,#00f8ff 27.11%,#00dbff 28.71%,#00beff 30.30%,#0092ff 31.90%,#0067ff 33.49%,#0057ff 35.09%,#0057ff 36.68%,#0057ff 38.28%,#005cff 39.87%,#008fff 41.47%,#00bcff 43.06%,#00d8ff 44.66%,#00f4ff 46.25%,#00c7ff 47.85%,#008dff 49.44%,#0031ff 51.04%,#0000ec 52.63%,#0000b4 54.23%,#000089 55.82%,#000089 57.42%,#000089 59.01%,#00008a 60.61%,#0000a2 62.20%,#0000c4 63.80%,#0000f3 65.39%,#0026ff 66.99%,#005dff 68.58%,#009aff 70.18%,#00d5ff 71.77%,#00f9ff 73.37%,#1cffe3 74.96%,#3effc1 76.56%,#62ff9d 78.15%,#85ff7a 79.74%,#a6ff59 81.34%,#c7ff38 82.93%,#e2ff1d 84.53%,#efff10 86.12%,#fbff04 87.72%,#fff600 89.31%,#ffeb00 90.91%,#ffe000 92.50%,#ffd600 94.10%,#ffce00 95.69%,#ffce00 97.29%,#ffce00 98.88%,#ffce00 100.00%)"></i><i style="background:linear-gradient(#90ff6f 0.00%,#90ff6f 1.59%,#90ff6f 3.19%,#93ff6c 4.78%,#98ff67 6.38%,#9bff64 7.97%,#96ff69 9.57%,#91ff6e 11.16%,#83ff7c 12.76%,#72ff8d 14.35%,#61ff9e 15.95%,#52ffad 17.54%,#42ffbd 19.14%,#33ffcc 20.73%,#26ffd9 22.33%,#19ffe6 23.92%,#0dfff2 25.52%,#00faff 27.11%,#00deff 28.71%,#00c3ff 30.30%,#009cff 31.90%,#0074ff 33.49%,#0066ff 35.09%,#0066ff 36.68%,#0066ff 38.28%,#006aff 39.87%,#0098ff 41.47%,#00c0ff 43.06%,#00dbff 44.66%,#00f5ff 46.25%,#00caff 47.85%,#0093ff 49.44%,#0035ff 51.04%,#0000f2 52.63%,#0000bc 54.23%,#000092 55.82%,#000092 57.42%,#000092 59.01%,#000093 60.61%,#0000a9 62.20%,#0000ca 63.80%,#0000f9 65.39%,#002bff 66.99%,#0064ff 68.58%,#00a0ff 70.18%,#00d6ff 71.77%,#00fbff 73.37%,#1dffe2 74.96%,#3fffc0 76.56%,#62ff9d 78.15%,#82ff7d 79.74%,#a2ff5d 81.34%,#c1ff3e 82.93%,#daff25 84.53%,#e6ff19 86.12%,#f1ff0e 87.72%,#fcff03 89.31%,#fff800 90.91%,#ffee00 92.50%,#ffe400 94.10%,#ffdd00 95.69%,#ffdd00 97.29%,#ffdd00 98.88%,#ffdd00 100.00%)"></i><i style="background:linear-gradient(#8eff71 0.00%,#8eff71 1.59%,#8eff71 3.19%,#90ff6f 4.78%,#94ff6b 6.38%,#96ff69 7.97%,#92ff6d 9.57%,#8fff70 11.16%,#82ff7d 12.76%,#72ff8d 14.35%,#63ff9c 15.95%,#54ffab 17.54%,#46ffb9 19.14%,#37ffc8 20.73%,#2affd5 22.33%,#1cffe3 23.92%,#0ffff0 25.52%,#00fcff 27.11%,#00e2ff 28.71%,#00c8ff 30.30%,#00a5ff 31.90%,#0081ff 33.49%,#0074ff 35.09%,#0074ff 36.68%,#0074ff 38.28%,#0077ff 39.87%,#00a1ff 41.47%,#00c5ff 43.06%,#00deff 44.66%,#00f6ff 46.25%,#00cdff 47.85%,#0098ff 49.44%,#0038ff 51.04%,#0000f8 52.63%,#0000c4 54.23%,#00009b 55.82%,#00009b 57.42%,#00009b 59.01%,#00009c 60.61%,#0000b0 62.20%,#0000d1 63.80%,#0000ff 65.39%,#0031ff 66.99%,#006aff 68.58%,#00a5ff 70.18%,#00d7ff 71.77%,#00fdff 73.37%,#1fffe0 74.96%,#40ffbf 76.56%,#61ff9e 78.15%,#80ff7f 79.74%,#9eff61 81.34%,#bbff44 82.93%,#d3ff2c 84.53%,#ddff22 86.12%,#e7ff18 87.72%,#f0ff0f 89.31%,#f9ff06 90.91%,#fffc00 92.50%,#fff300 94.10%,#ffec00 95.69%,#ffec00 97.29%,#ffec00 98.88%,#ffec00 100.00%)"></i><i style="background:linear-gradient(#8cff73 0.00%,#8cff73 1.59%,#8cff73 3.19%,#8dff72 4.78%,#8fff70 6.38%,#91ff6e 7.97%,#8fff70 9.57%,#8dff72 11.16%,#81ff7e 12.76%,#73ff8c 14.35%,#65ff9a 15.95%,#57ffa8 17.54%,#49ffb6 19.14%,#3bffc4 20.73%,#2dffd2 22.33%,#1fffe0 23.92%,#11ffee 25.52%,#00ffff 27.11%,#00e6ff 28.71%,#00ceff 30.30%,#00aeff 31.90%,#008eff 33.49%,#0082ff 35.09%,#0082ff 36.68%,#0082ff 38.28%,#0085ff 39.87%,#00aaff 41.47%,#00caff 43.06%,#00e1ff 44.66%,#00f7ff 46.25%,#00d1ff 47.85%,#009dff 49.44%,#003cff 51.04%,#0000fe 52.63%,#0000cb 54.23%,#0000a4 55.82%,#0000a4 57.42%,#0000a4 59.01%,#0000a4 60.61%,#0000b7 62.20%,#0000d8 63.80%,#0005ff 65.39%,#0036ff 66.99%,#0070ff 68.58%,#00aaff 70.18%,#00d8ff 71.77%,#00ffff 73.37%,#21ffde 74.96%,#41ffbe 76.56%,#61ff9e 78.15%,#7eff81 79.74%,#99ff66 81.34%,#b5ff4a 82.93%,#cbff34 84.53%,#d4ff2b 86.12%,#dcff23 87.72%,#e5ff1a 89.31%,#edff12 90.91%,#f5ff0a 92.50%,#fcff03 94.10%,#fffb00 95.69%,#fffb00 97.29%,#fffb00 98.88%,#fffb00 100.00%)"></i><i style="background:linear-gradient(#8bff74 0.00%,#8bff74 1.59%,#8bff74 3.19%,#8bff74 4.78%,#8bff74 6.38%,#8cff73 7.97%,#8bff74 9.57%,#8bff74 11.16%,#80ff7f 12.76%,#73ff8c 14.35%,#66ff99 15.95%,#59ffa6 17.54%,#4dffb2 19.14%,#40ffbf 20.73%,#31ffce 22.33%,#22ffdd 23.92%,#14ffeb 25.52%,#02fffd 27.11%,#00eaff 28.71%,#00d3ff 30.30%,#00b7ff 31.90%,#009bff 33.49%,#0091ff 35.09%,#0091ff 36.68%,#0091ff 38.28%,#0093ff 39.87%,#00b3ff 41.47%,#00cfff 43.06%,#00e4ff 44.66%,#00f8ff 46.25%,#00d4ff 47.85%,#00a2ff 49.44%,#0040ff 51.04%,#0005ff 52.63%,#0000d3 54.23%,#0000ad 55.82%,#0000ad 57.42%,#0000ad 59.01%,#0000ad 60.61%,#0000be 62.20%,#0000df 63.80%,#000bff 65.39%,#003cff 66.99%,#0077ff 68.58%,#00afff 70.18%,#00d9ff 71.77%,#02fffd 73.37%,#23ffdc 74.96%,#42ffbd 76.56%,#61ff9e 78.15%,#7bff84 79.74%,#95ff6a 81.34%,#afff50 82.93%,#c3ff3c 84.53%,#cbff34 86.12%,#d2ff2d 87.72%,#d9ff26 89.31%,#e0ff1f 90.91%,#e7ff18 92.50%,#eeff11 94.10%,#f3ff0c 95.69%,#f3ff0c 97.29%,#f3ff0c 98.88%,#f3ff0c 100.00%)"></i><i style="background:linear-gradient(#8dff72 0.00%,#8dff72 1.59%,#8dff72 3.19%,#8dff72 4.78%,#8dff72 6.38%,#8dff72 7.97%,#8dff72 9.57%,#8dff72 11.16%,#83ff7c 12.76%,#77ff88 14.35%,#6aff95 15.95%,#5dffa2 17.54%,#50ffaf 19.14%,#43ffbc 20.73%,#35ffca 22.33%,#27ffd8 23.92%,#19ffe6 25.52%,#08fff7 27.11%,#00f3ff 28.71%,#00deff 30.30%,#00c4ff 31.90%,#00a9ff 33.49%,#009fff 35.09%,#009fff 36.68%,#009fff 38.28%,#00a1ff 39.87%,#00c0ff 41.47%,#00ddff 43.06%,#00f0ff 44.66%,#01fffe 46.25%,#00e5ff 47.85%,#00baff 49.44%,#005bff 51.04%,#0015ff 52.63%,#0000e3 54.23%,#0000c3 55.82%,#0000c3 57.42%,#0000c3 59.01%,#0000c3 60.61%,#0000d1 62.20%,#0000ef 63.80%,#0019ff 65.39%,#0047ff 66.99%,#0084ff 68.58%,#00bdff 70.18%,#00e2ff 71.77%,#07fff8 73.37%,#24ffdb 74.96%,#3fffc0 76.56%,#5affa5 78.15%,#72ff8d 79.74%,#8aff75 81.34%,#a1ff5e 82.93%,#b5ff4a 84.53%,#bfff40 86.12%,#c8ff37 87.72%,#d0ff2f 89.31%,#d8ff27 90.91%,#e0ff1f 92.50%,#e7ff18 94.10%,#edff12 95.69%,#edff12 97.29%,#edff12 98.88%,#edff12 100.00%)"></i><i style="background:linear-gradient(#92ff6d 0.00%,#92ff6d 1.59%,#92ff6d 3.19%,#92ff6d 4.78%,#92ff6d 6.38%,#92ff6d 7.97%,#92ff6d 9.57%,#92ff6d 11.16%,#88ff77 12.76%,#7bff84 14.35%,#6fff90 15.95%,#61ff9e 17.54%,#53ffac 19.14%,#45ffba 20.73%,#38ffc7 22.33%,#2bffd4 23.92%,#1fffe0 25.52%,#10ffef 27.11%,#00feff 28.71%,#00ecff 30.30%,#00d1ff 31.90%,#00b6ff 33.49%,#00acff 35.09%,#00acff 36.68%,#00acff 38.28%,#00afff 39.87%,#00d0ff 41.47%,#00f0ff 43.06%,#01fffe 44.66%,#0bfff4 46.25%,#00fcff 47.85%,#00d9ff 49.44%,#0080ff 51.04%,#002aff 52.63%,#0000f6 54.23%,#0000df 55.82%,#0000df 57.42%,#0000df 59.01%,#0000df 60.61%,#0000ea 62.20%,#0003ff 63.80%,#0029ff 65.39%,#0055ff 66.99%,#0094ff 68.58%,#00cfff 70.18%,#00edff 71.77%,#0dfff2 73.37%,#25ffda 74.96%,#3bffc4 76.56%,#51ffae 78.15%,#66ff99 79.74%,#7bff84 81.34%,#90ff6f 82.93%,#a3ff5c 84.53%,#b3ff4c 86.12%,#bfff40 87.72%,#c9ff36 89.31%,#d2ff2d 90.91%,#dbff24 92.50%,#e4ff1b 94.10%,#ebff14 95.69%,#ebff14 97.29%,#ebff14 98.88%,#ebff14 100.00%)"></i><i style="background:linear-gradient(#94ff6b 0.00%,#94ff6b 1.59%,#94ff6b 3.19%,#94ff6b 4.78%,#94ff6b 6.38%,#94ff6b 7.97%,#94ff6b 9.57%,#94ff6b 11.16%,#8aff75 12.76%,#7eff81 14.35%,#72ff8d 15.95%,#64ff9b 17.54%,#56ffa9 19.14%,#48ffb7 20.73%,#3cffc3 22.33%,#30ffcf 23.92%,#24ffdb 25.52%,#17ffe8 27.11%,#08fff7 28.71%,#00f8ff 30.30%,#00deff 31.90%,#00c5ff 33.49%,#00bbff 35.09%,#00bbff 36.68%,#00bcff 38.28%,#00bfff 39.87%,#00dfff 41.47%,#00ffff 43.06%,#0dfff2 44.66%,#13ffec 46.25%,#0cfff3 47.85%,#00edff 49.44%,#0099ff 51.04%,#003aff 52.63%,#0008ff 54.23%,#0000f4 55.82%,#0000f4 57.42%,#0000f4 59.01%,#0000f4 60.61%,#0000fe 62.20%,#0013ff 63.80%,#0037ff 65.39%,#0061ff 66.99%,#00a0ff 68.58%,#00daff 70.18%,#00f5ff 71.77%,#10ffef 73.37%,#25ffda 74.96%,#39ffc6 76.56%,#4cffb3 78.15%,#5fffa0 79.74%,#72ff8d 81.34%,#85ff7a 82.93%,#98ff67 84.53%,#abff54 86.12%,#baff45 87.72%,#c4ff3b 89.31%,#ceff31 90.91%,#d7ff28 92.50%,#e1ff1e 94.10%,#e9ff16 95.69%,#e9ff16 97.29%,#e9ff16 98.88%,#e9ff16 100.00%)"></i><i style="background:linear-gradient(#92ff6d 0.00%,#92ff6d 1.59%,#92ff6d 3.19%,#92ff6d 4.78%,#92ff6d 6.38%,#92ff6d 7.97%,#92ff6d 9.57%,#92ff6d 11.16%,#89ff76 12.76%,#7eff81 14.35%,#74ff8b 15.95%,#66ff99 17.54%,#59ffa6 19.14%,#4bffb4 20.73%,#40ffbf 22.33%,#35ffca 23.92%,#29ffd6 25.52%,#1dffe2 27.11%,#0ffff0 28.71%,#01fffe 30.30%,#00eaff 31.90%,#00d5ff 33.49%,#00ccff 35.09%,#00cbff 36.68%,#00cdff 38.28%,#00d2ff 39.87%,#00eeff 41.47%,#0bfff4 43.06%,#16ffe9 44.66%,#19ffe6 46.25%,#11ffee 47.85%,#00f1ff 49.44%,#00a1ff 51.04%,#0046ff 52.63%,#0016ff 54.23%,#0000ff 55.82%,#0000ff 57.42%,#0000ff 59.01%,#0000ff 60.61%,#000aff 62.20%,#001dff 63.80%,#0040ff 65.39%,#006aff 66.99%,#00a5ff 68.58%,#00dcff 70.18%,#00f7ff 71.77%,#11ffee 73.37%,#26ffd9 74.96%,#39ffc6 76.56%,#4cffb3 78.15%,#5fffa0 79.74%,#72ff8d 81.34%,#85ff7a 82.93%,#97ff68 84.53%,#aaff55 86.12%,#b9ff46 87.72%,#c3ff3c 89.31%,#cdff32 90.91%,#d6ff29 92.50%,#e0ff1f 94.10%,#e7ff18 95.69%,#e7ff18 97.29%,#e7ff18 98.88%,#e7ff18 100.00%)"></i><i style="background:linear-gradient(#90ff6f 0.00%,#90ff6f 1.59%,#90ff6f 3.19%,#90ff6f 4.78%,#90ff6f 6.38%,#90ff6f 7.97%,#90ff6f 9.57%,#90ff6f 11.16%,#89ff76 12.76%,#7fff80 14.35%,#75ff8a 15.95%,#69ff96 17.54%,#5cffa3 19.14%,#4fffb0 20.73%,#44ffbb 22.33%,#39ffc6 23.92%,#2effd1 25.52%,#23ffdc 27.11%,#16ffe9 28.71%,#09fff6 30.30%,#00f6ff 31.90%,#00e5ff 33.49%,#00ddff 35.09%,#00dcff 36.68%,#00dfff 38.28%,#00e5ff 39.87%,#00fdff 41.47%,#16ffe9 43.06%,#1effe1 44.66%,#1fffe0 46.25%,#15ffea 47.85%,#00f5ff 49.44%,#00aaff 51.04%,#0051ff 52.63%,#0023ff 54.23%,#000cff 55.82%,#000cff 57.42%,#000cff 59.01%,#000cff 60.61%,#0015ff 62.20%,#0026ff 63.80%,#0049ff 65.39%,#0073ff 66.99%,#00aaff 68.58%,#00ddff 70.18%,#00f9ff 71.77%,#12ffed 73.37%,#26ffd9 74.96%,#3affc5 76.56%,#4cffb3 78.15%,#5fffa0 79.74%,#72ff8d 81.34%,#84ff7b 82.93%,#96ff69 84.53%,#a8ff57 86.12%,#b8ff47 87.72%,#c3ff3c 89.31%,#ccff33 90.91%,#d5ff2a 92.50%,#deff21 94.10%,#e5ff1a 95.69%,#e5ff1a 97.29%,#e5ff1a 98.88%,#e5ff1a 100.00%)"></i><i style="background:linear-gradient(#8fff70 0.00%,#8fff70 1.59%,#8fff70 3.19%,#8fff70 4.78%,#8fff70 6.38%,#8fff70 7.97%,#8fff70 9.57%,#8fff70 11.16%,#88ff77 12.76%,#7fff80 14.35%,#77ff88 15.95%,#6bff94 17.54%,#5fffa0 19.14%,#53ffac 20.73%,#48ffb7 22.33%,#3effc1 23.92%,#34ffcb 25.52%,#29ffd6 27.11%,#1dffe2 28.71%,#11ffee 30.30%,#03fffc 31.90%,#00f5ff 33.49%,#00eeff 35.09%,#00ecff 36.68%,#00f1ff 38.28%,#00f8ff 39.87%,#0dfff2 41.47%,#21ffde 43.06%,#26ffd9 44.66%,#25ffda 46.25%,#19ffe6 47.85%,#00f9ff 49.44%,#00b2ff 51.04%,#005dff 52.63%,#0031ff 54.23%,#0018ff 55.82%,#0018ff 57.42%,#0018ff 59.01%,#0018ff 60.61%,#0020ff 62.20%,#002fff 63.80%,#0052ff 65.39%,#007cff 66.99%,#00afff 68.58%,#00dfff 70.18%,#00fbff 71.77%,#13ffec 73.37%,#27ffd8 74.96%,#3affc5 76.56%,#4dffb2 78.15%,#5fffa0 79.74%,#72ff8d 81.34%,#84ff7b 82.93%,#95ff6a 84.53%,#a7ff58 86.12%,#b7ff48 87.72%,#c3ff3c 89.31%,#cbff34 90.91%,#d4ff2b 92.50%,#ddff22 94.10%,#e4ff1b 95.69%,#e4ff1b 97.29%,#e4ff1b 98.88%,#e4ff1b 100.00%)"></i><i style="background:linear-gradient(#8dff72 0.00%,#8dff72 1.59%,#8dff72 3.19%,#8dff72 4.78%,#8dff72 6.38%,#8dff72 7.97%,#8dff72 9.57%,#8dff72 11.16%,#87ff78 12.76%,#80ff7f 14.35%,#79ff86 15.95%,#6dff92 17.54%,#62ff9d 19.14%,#56ffa9 20.73%,#4cffb3 22.33%,#42ffbd 23.92%,#39ffc6 25.52%,#2fffd0 27.11%,#24ffdb 28.71%,#19ffe6 30.30%,#0ffff0 31.90%,#06fff9 33.49%,#00ffff 35.09%,#00fdff 36.68%,#04fffb 38.28%,#0cfff3 39.87%,#1cffe3 41.47%,#2cffd3 43.06%,#2fffd0 44.66%,#2bffd4 46.25%,#1effe1 47.85%,#00fcff 49.44%,#00bbff 51.04%,#0068ff 52.63%,#003eff 54.23%,#0024ff 55.82%,#0024ff 57.42%,#0024ff 59.01%,#0024ff 60.61%,#002bff 62.20%,#0039ff 63.80%,#005bff 65.39%,#0085ff 66.99%,#00b4ff 68.58%,#00e1ff 70.18%,#00fdff 71.77%,#13ffec 73.37%,#28ffd7 74.96%,#3affc5 76.56%,#4dffb2 78.15%,#5fffa0 79.74%,#71ff8e 81.34%,#83ff7c 82.93%,#94ff6b 84.53%,#a6ff59 86.12%,#b6ff49 87.72%,#c2ff3d 89.31%,#cbff34 90.91%,#d3ff2c 92.50%,#dbff24 94.10%,#e2ff1d 95.69%,#e2ff1d 97.29%,#e2ff1d 98.88%,#e2ff1d 100.00%)"></i><i style="background:linear-gradient(#8bff74 0.00%,#8bff74 1.59%,#8bff74 3.19%,#8bff74 4.78%,#8bff74 6.38%,#8bff74 7.97%,#8bff74 9.57%,#8bff74 11.16%,#86ff79 12.76%,#80ff7f 14.35%,#7aff85 15.95%,#70ff8f 17.54%,#65ff9a 19.14%,#5affa5 20.73%,#50ffaf 22.33%,#47ffb8 23.92%,#3effc1 25.52%,#34ffcb 27.11%,#2bffd4 28.71%,#21ffde 30.30%,#1cffe3 31.90%,#16ffe9 33.49%,#11ffee 35.09%,#0efff1 36.68%,#15ffea 38.28%,#1fffe0 39.87%,#2bffd4 41.47%,#38ffc7 43.06%,#37ffc8 44.66%,#31ffce 46.25%,#22ffdd 47.85%,#01fffe 49.44%,#00c3ff 51.04%,#0074ff 52.63%,#004bff 54.23%,#002fff 55.82%,#002fff 57.42%,#002fff 59.01%,#002fff 60.61%,#0036ff 62.20%,#0042ff 63.80%,#0064ff 65.39%,#008eff 66.99%,#00b9ff 68.58%,#00e3ff 70.18%,#00ffff 71.77%,#14ffeb 73.37%,#28ffd7 74.96%,#3bffc4 76.56%,#4dffb2 78.15%,#5fffa0 79.74%,#71ff8e 81.34%,#83ff7c 82.93%,#93ff6c 84.53%,#a4ff5b 86.12%,#b5ff4a 87.72%,#c2ff3d 89.31%,#caff35 90.91%,#d2ff2d 92.50%,#daff25 94.10%,#e0ff1f 95.69%,#e0ff1f 97.29%,#e0ff1f 98.88%,#e0ff1f 100.00%)"></i><i style="background:linear-gradient(#8bff74 0.00%,#8bff74 1.59%,#8bff74 3.19%,#8bff74 4.78%,#8bff74 6.38%,#8bff74 7.97%,#8bff74 9.57%,#8bff74 11.16%,#87ff78 12.76%,#81ff7e 14.35%,#7bff84 15.95%,#72ff8d 17.54%,#67ff98 19.14%,#5dffa2 20.73%,#54ffab 22.33%,#4cffb3 23.92%,#43ffbc 25.52%,#3affc5 27.11%,#32ffcd 28.71%,#2affd5 30.30%,#26ffd9 31.90%,#23ffdc 33.49%,#1fffe0 35.09%,#1cffe3 36.68%,#25ffda 38.28%,#2fffd0 39.87%,#3affc5 41.47%,#44ffbb 43.06%,#41ffbe 44.66%,#38ffc7 46.25%,#27ffd8 47.85%,#06fff9 49.44%,#00cbff 51.04%,#0081ff 52.63%,#0059ff 54.23%,#003dff 55.82%,#003bff 57.42%,#003bff 59.01%,#003bff 60.61%,#0043ff 62.20%,#0050ff 63.80%,#0071ff 65.39%,#0099ff 66.99%,#00c1ff 68.58%,#00e7ff 70.18%,#03fffc 71.77%,#16ffe9 73.37%,#29ffd6 74.96%,#3cffc3 76.56%,#4dffb2 78.15%,#5fffa0 79.74%,#71ff8e 81.34%,#82ff7d 82.93%,#92ff6d 84.53%,#a2ff5d 86.12%,#b3ff4c 87.72%,#c0ff3f 89.31%,#c8ff37 90.91%,#d0ff2f 92.50%,#d8ff27 94.10%,#deff21 95.69%,#deff21 97.29%,#deff21 98.88%,#deff21 100.00%)"></i><i style="background:linear-gradient(#8dff72 0.00%,#8dff72 1.59%,#8dff72 3.19%,#8dff72 4.78%,#8dff72 6.38%,#8dff72 7.97%,#8dff72 9.57%,#8dff72 11.16%,#88ff77 12.76%,#82ff7d 14.35%,#7cff83 15.95%,#74ff8b 17.54%,#6aff95 19.14%,#61ff9e 20.73%,#58ffa7 22.33%,#50ffaf 23.92%,#48ffb7 25.52%,#40ffbf 27.11%,#3affc5 28.71%,#33ffcc 30.30%,#30ffcf 31.90%,#2dffd2 33.49%,#2bffd4 35.09%,#28ffd7 36.68%,#31ffce 38.28%,#3cffc3 39.87%,#48ffb7 41.47%,#53ffac 43.06%,#4dffb2 44.66%,#40ffbf 46.25%,#2cffd3 47.85%,#0bfff4 49.44%,#00d4ff 51.04%,#008fff 52.63%,#0068ff 54.23%,#004bff 55.82%,#0047ff 57.42%,#0047ff 59.01%,#0048ff 60.61%,#0052ff 62.20%,#0061ff 63.80%,#0081ff 65.39%,#00a7ff 66.99%,#00cbff 68.58%,#00edff 70.18%,#06fff9 71.77%,#18ffe7 73.37%,#2bffd4 74.96%,#3dffc2 76.56%,#4effb1 78.15%,#60ff9f 79.74%,#71ff8e 81.34%,#82ff7d 82.93%,#91ff6e 84.53%,#a0ff5f 86.12%,#afff50 87.72%,#bcff43 89.31%,#c5ff3a 90.91%,#cdff32 92.50%,#d6ff29 94.10%,#dcff23 95.69%,#dcff23 97.29%,#dcff23 98.88%,#dcff23 100.00%)"></i><i style="background:linear-gradient(#8fff70 0.00%,#8fff70 1.59%,#8fff70 3.19%,#8fff70 4.78%,#8fff70 6.38%,#8fff70 7.97%,#8fff70 9.57%,#8fff70 11.16%,#8aff75 12.76%,#84ff7b 14.35%,#7dff82 15.95%,#75ff8a 17.54%,#6dff92 19.14%,#64ff9b 20.73%,#5dffa2 22.33%,#55ffaa 23.92%,#4dffb2 25.52%,#47ffb8 27.11%,#41ffbe 28.71%,#3cffc3 30.30%,#3affc5 31.90%,#38ffc7 33.49%,#36ffc9 35.09%,#34ffcb 36.68%,#3effc1 38.28%,#4affb5 39.87%,#55ffaa 41.47%,#61ff9e 43.06%,#58ffa7 44.66%,#47ffb8 46.25%,#31ffce 47.85%,#11ffee 49.44%,#00ddff 51.04%,#009eff 52.63%,#0076ff 54.23%,#005aff 55.82%,#0053ff 57.42%,#0053ff 59.01%,#0054ff 60.61%,#0060ff 62.20%,#0072ff 63.80%,#0091ff 65.39%,#00b5ff 66.99%,#00d6ff 68.58%,#00f4ff 70.18%,#0afff5 71.77%,#1bffe4 73.37%,#2dffd2 74.96%,#3effc1 76.56%,#4fffb0 78.15%,#60ff9f 79.74%,#71ff8e 81.34%,#81ff7e 82.93%,#8fff70 84.53%,#9dff62 86.12%,#acff53 87.72%,#b8ff47 89.31%,#c1ff3e 90.91%,#caff35 92.50%,#d3ff2c 94.10%,#daff25 95.69%,#daff25 97.29%,#daff25 98.88%,#daff25 100.00%)"></i><i style="background:linear-gradient(#91ff6e 0.00%,#91ff6e 1.59%,#91ff6e 3.19%,#91ff6e 4.78%,#91ff6e 6.38%,#91ff6e 7.97%,#91ff6e 9.57%,#91ff6e 11.16%,#8bff74 12.76%,#85ff7a 14.35%,#7eff81 15.95%,#77ff88 17.54%,#6fff90 19.14%,#68ff97 20.73%,#61ff9e 22.33%,#5affa5 23.92%,#52ffad 25.52%,#4dffb2 27.11%,#49ffb6 28.71%,#46ffb9 30.30%,#44ffbb 31.90%,#43ffbc 33.49%,#41ffbe 35.09%,#40ffbf 36.68%,#4affb5 38.28%,#57ffa8 39.87%,#63ff9c 41.47%,#70ff8f 43.06%,#64ff9b 44.66%,#4fffb0 46.25%,#36ffc9 47.85%,#16ffe9 49.44%,#00e6ff 51.04%,#00acff 52.63%,#0084ff 54.23%,#0068ff 55.82%,#005fff 57.42%,#005fff 59.01%,#0060ff 60.61%,#006fff 62.20%,#0082ff 63.80%,#00a2ff 65.39%,#00c2ff 66.99%,#00e1ff 68.58%,#00faff 70.18%,#0efff1 71.77%,#1dffe2 73.37%,#2effd1 74.96%,#3fffc0 76.56%,#50ffaf 78.15%,#61ff9e 79.74%,#72ff8d 81.34%,#81ff7e 82.93%,#8eff71 84.53%,#9bff64 86.12%,#a8ff57 87.72%,#b4ff4b 89.31%,#beff41 90.91%,#c7ff38 92.50%,#d1ff2e 94.10%,#d9ff26 95.69%,#d9ff26 97.29%,#d9ff26 98.88%,#d9ff26 100.00%)"></i><i style="background:linear-gradient(#92ff6d 0.00%,#92ff6d 1.59%,#92ff6d 3.19%,#92ff6d 4.78%,#92ff6d 6.38%,#92ff6d 7.97%,#92ff6d 9.57%,#92ff6d 11.16%,#8dff72 12.76%,#86ff79 14.35%,#7fff80 15.95%,#79ff86 17.54%,#72ff8d 19.14%,#6cff93 20.73%,#65ff9a 22.33%,#5effa1 23.92%,#58ffa7 25.52%,#53ffac 27.11%,#51ffae 28.71%,#4fffb0 30.30%,#4effb1 31.90%,#4dffb2 33.49%,#4cffb3 35.09%,#4bffb4 36.68%,#57ffa8 38.28%,#64ff9b 39.87%,#71ff8e 41.47%,#7fff80 43.06%,#70ff8f 44.66%,#56ffa9 46.25%,#3bffc4 47.85%,#1bffe4 49.44%,#00efff 51.04%,#00bbff 52.63%,#0092ff 54.23%,#0077ff 55.82%,#006bff 57.42%,#006bff 59.01%,#006cff 60.61%,#007eff 62.20%,#0093ff 63.80%,#00b2ff 65.39%,#00d0ff 66.99%,#00ecff 68.58%,#02fffd 70.18%,#12ffed 71.77%,#20ffdf 73.37%,#30ffcf 74.96%,#41ffbe 76.56%,#51ffae 78.15%,#61ff9e 79.74%,#72ff8d 81.34%,#80ff7f 82.93%,#8cff73 84.53%,#98ff67 86.12%,#a5ff5a 87.72%,#b0ff4f 89.31%,#baff45 90.91%,#c5ff3a 92.50%,#cfff30 94.10%,#d7ff28 95.69%,#d7ff28 97.29%,#d7ff28 98.88%,#d7ff28 100.00%)"></i><i style="background:linear-gradient(#94ff6b 0.00%,#94ff6b 1.59%,#94ff6b 3.19%,#94ff6b 4.78%,#94ff6b 6.38%,#94ff6b 7.97%,#94ff6b 9.57%,#94ff6b 11.16%,#8eff71 12.76%,#87ff78 14.35%,#80ff7f 15.95%,#7aff85 17.54%,#75ff8a 19.14%,#6fff90 20.73%,#69ff96 22.33%,#63ff9c 23.92%,#5dffa2 25.52%,#59ffa6 27.11%,#58ffa7 28.71%,#58ffa7 30.30%,#58ffa7 31.90%,#58ffa7 33.49%,#57ffa8 35.09%,#57ffa8 36.68%,#63ff9c 38.28%,#71ff8e 39.87%,#7fff80 41.47%,#8dff72 43.06%,#7cff83 44.66%,#5effa1 46.25%,#40ffbf 47.85%,#21ffde 49.44%,#00f8ff 51.04%,#00c9ff 52.63%,#00a0ff 54.23%,#0085ff 55.82%,#0077ff 57.42%,#0077ff 59.01%,#0079ff 60.61%,#008dff 62.20%,#00a4ff 63.80%,#00c2ff 65.39%,#00deff 66.99%,#00f7ff 68.58%,#08fff7 70.18%,#15ffea 71.77%,#22ffdd 73.37%,#32ffcd 74.96%,#42ffbd 76.56%,#52ffad 78.15%,#62ff9d 79.74%,#72ff8d 81.34%,#80ff7f 82.93%,#8bff74 84.53%,#96ff69 86.12%,#a1ff5e 87.72%,#acff53 89.31%,#b7ff48 90.91%,#c2ff3d 92.50%,#cdff32 94.10%,#d5ff2a 95.69%,#d5ff2a 97.29%,#d5ff2a 98.88%,#d5ff2a 100.00%)"></i><i style="background:linear-gradient(#9eff61 0.00%,#9eff61 1.59%,#9eff61 3.19%,#9cff63 4.78%,#97ff68 6.38%,#93ff6c 7.97%,#8eff71 9.57%,#8aff75 11.16%,#86ff79 12.76%,#82ff7d 14.35%,#7eff81 15.95%,#7bff84 17.54%,#78ff87 19.14%,#76ff89 20.73%,#73ff8c 22.33%,#70ff8f 23.92%,#6bff94 25.52%,#67ff98 27.11%,#65ff9a 28.71%,#64ff9b 30.30%,#67ff98 31.90%,#6bff94 33.49%,#6eff91 35.09%,#72ff8d 36.68%,#7cff83 38.28%,#87ff78 39.87%,#92ff6d 41.47%,#9eff61 43.06%,#94ff6b 44.66%,#70ff8f 46.25%,#4bffb4 47.85%,#27ffd8 49.44%,#00feff 51.04%,#00d4ff 52.63%,#00aeff 54.23%,#0096ff 55.82%,#0085ff 57.42%,#0086ff 59.01%,#008aff 60.61%,#009cff 62.20%,#00b3ff 63.80%,#00ceff 65.39%,#00e7ff 66.99%,#00feff 68.58%,#0efff1 70.18%,#1bffe4 71.77%,#27ffd8 73.37%,#35ffca 74.96%,#44ffbb 76.56%,#53ffac 78.15%,#63ff9c 79.74%,#72ff8d 81.34%,#80ff7f 82.93%,#8dff72 84.53%,#98ff67 86.12%,#a3ff5c 87.72%,#adff52 89.31%,#b7ff48 90.91%,#c2ff3d 92.50%,#ccff33 94.10%,#d5ff2a 95.69%,#d5ff2a 97.29%,#d5ff2a 98.88%,#d5ff2a 100.00%)"></i><i style="background:linear-gradient(#aaff55 0.00%,#aaff55 1.59%,#aaff55 3.19%,#a5ff5a 4.78%,#9bff64 6.38%,#91ff6e 7.97%,#86ff79 9.57%,#7cff83 11.16%,#7aff85 12.76%,#7aff85 14.35%,#7aff85 15.95%,#7bff84 17.54%,#7dff82 19.14%,#7eff81 20.73%,#7fff80 22.33%,#7fff80 23.92%,#7cff83 25.52%,#78ff87 27.11%,#74ff8b 28.71%,#70ff8f 30.30%,#78ff87 31.90%,#80ff7f 33.49%,#88ff77 35.09%,#8fff70 36.68%,#97ff68 38.28%,#9fff60 39.87%,#a7ff58 41.47%,#aeff51 43.06%,#afff50 44.66%,#84ff7b 46.25%,#59ffa6 47.85%,#2dffd2 49.44%,#05fffa 51.04%,#00deff 52.63%,#00bbff 54.23%,#00a7ff 55.82%,#0093ff 57.42%,#0096ff 59.01%,#009dff 60.61%,#00abff 62.20%,#00c1ff 63.80%,#00d8ff 65.39%,#00eeff 66.99%,#05fffa 68.58%,#14ffeb 70.18%,#21ffde 71.77%,#2dffd2 73.37%,#39ffc6 74.96%,#46ffb9 76.56%,#55ffaa 78.15%,#64ff9b 79.74%,#73ff8c 81.34%,#82ff7d 82.93%,#91ff6e 84.53%,#9cff63 86.12%,#a6ff59 87.72%,#b0ff4f 89.31%,#b9ff46 90.91%,#c3ff3c 92.50%,#cdff32 94.10%,#d5ff2a 95.69%,#d5ff2a 97.29%,#d5ff2a 98.88%,#d5ff2a 100.00%)"></i><i style="background:linear-gradient(#aeff51 0.00%,#aeff51 1.59%,#aeff51 3.19%,#a8ff57 4.78%,#9eff61 6.38%,#94ff6b 7.97%,#8aff75 9.57%,#81ff7e 11.16%,#7fff80 12.76%,#7fff80 14.35%,#7fff80 15.95%,#80ff7f 17.54%,#81ff7e 19.14%,#82ff7d 20.73%,#84ff7b 22.33%,#84ff7b 23.92%,#81ff7e 25.52%,#7dff82 27.11%,#7aff85 28.71%,#76ff89 30.30%,#7eff81 31.90%,#86ff79 33.49%,#8eff71 35.09%,#96ff69 36.68%,#9eff61 38.28%,#a6ff59 39.87%,#adff52 41.47%,#b5ff4a 43.06%,#b6ff49 44.66%,#8bff74 46.25%,#5fffa0 47.85%,#33ffcc 49.44%,#0bfff4 51.04%,#00e5ff 52.63%,#00c2ff 54.23%,#00aeff 55.82%,#009cff 57.42%,#009eff 59.01%,#00a4ff 60.61%,#00b2ff 62.20%,#00c6ff 63.80%,#00dcff 65.39%,#00f1ff 66.99%,#08fff7 68.58%,#17ffe8 70.18%,#25ffda 71.77%,#31ffce 73.37%,#3effc1 74.96%,#4affb5 76.56%,#59ffa6 78.15%,#68ff97 79.74%,#76ff89 81.34%,#85ff7a 82.93%,#93ff6c 84.53%,#9fff60 86.12%,#a9ff56 87.72%,#b2ff4d 89.31%,#bbff44 90.91%,#c4ff3b 92.50%,#cdff32 94.10%,#d5ff2a 95.69%,#d5ff2a 97.29%,#d5ff2a 98.88%,#d5ff2a 100.00%)"></i><i style="background:linear-gradient(#b1ff4e 0.00%,#b1ff4e 1.59%,#b1ff4e 3.19%,#acff53 4.78%,#a2ff5d 6.38%,#98ff67 7.97%,#8eff71 9.57%,#85ff7a 11.16%,#83ff7c 12.76%,#83ff7c 14.35%,#83ff7c 15.95%,#84ff7b 17.54%,#86ff79 19.14%,#87ff78 20.73%,#89ff76 22.33%,#8aff75 23.92%,#86ff79 25.52%,#83ff7c 27.11%,#7fff80 28.71%,#7cff83 30.30%,#84ff7b 31.90%,#8cff73 33.49%,#94ff6b 35.09%,#9dff62 36.68%,#a5ff5a 38.28%,#acff53 39.87%,#b4ff4b 41.47%,#bcff43 43.06%,#bdff42 44.66%,#91ff6e 46.25%,#65ff9a 47.85%,#39ffc6 49.44%,#11ffee 51.04%,#00ebff 52.63%,#00c9ff 54.23%,#00b6ff 55.82%,#00a5ff 57.42%,#00a5ff 59.01%,#00acff 60.61%,#00b8ff 62.20%,#00cbff 63.80%,#00e0ff 65.39%,#00f5ff 66.99%,#0bfff4 68.58%,#1bffe4 70.18%,#29ffd6 71.77%,#35ffca 73.37%,#42ffbd 74.96%,#4fffb0 76.56%,#5dffa2 78.15%,#6bff94 79.74%,#7aff85 81.34%,#88ff77 82.93%,#96ff69 84.53%,#a2ff5d 86.12%,#acff53 87.72%,#b4ff4b 89.31%,#bdff42 90.91%,#c5ff3a 92.50%,#ceff31 94.10%,#d5ff2a 95.69%,#d5ff2a 97.29%,#d5ff2a 98.88%,#d5ff2a 100.00%)"></i><i style="background:linear-gradient(#b4ff4b 0.00%,#b4ff4b 1.59%,#b4ff4b 3.19%,#afff50 4.78%,#a6ff59 6.38%,#9cff63 7.97%,#92ff6d 9.57%,#89ff76 11.16%,#87ff78 12.76%,#87ff78 14.35%,#87ff78 15.95%,#89ff76 17.54%,#8aff75 19.14%,#8cff73 20.73%,#8eff71 22.33%,#8fff70 23.92%,#8bff74 25.52%,#88ff77 27.11%,#85ff7a 28.71%,#82ff7d 30.30%,#8aff75 31.90%,#92ff6d 33.49%,#9bff64 35.09%,#a3ff5c 36.68%,#acff53 38.28%,#b3ff4c 39.87%,#bbff44 41.47%,#c3ff3c 43.06%,#c4ff3b 44.66%,#97ff68 46.25%,#6bff94 47.85%,#3fffc0 49.44%,#18ffe7 51.04%,#00f2ff 52.63%,#00d0ff 54.23%,#00bdff 55.82%,#00aeff 57.42%,#00adff 59.01%,#00b4ff 60.61%,#00bfff 62.20%,#00d0ff 63.80%,#00e4ff 65.39%,#00f8ff 66.99%,#0efff1 68.58%,#1effe1 70.18%,#2dffd2 71.77%,#3affc5 73.37%,#46ffb9 74.96%,#53ffac 76.56%,#61ff9e 78.15%,#6fff90 79.74%,#7dff82 81.34%,#8bff74 82.93%,#99ff66 84.53%,#a5ff5a 86.12%,#aeff51 87.72%,#b6ff49 89.31%,#beff41 90.91%,#c6ff39 92.50%,#ceff31 94.10%,#d5ff2a 95.69%,#d5ff2a 97.29%,#d5ff2a 98.88%,#d5ff2a 100.00%)"></i><i style="background:linear-gradient(#b8ff47 0.00%,#b8ff47 1.59%,#b8ff47 3.19%,#b3ff4c 4.78%,#a9ff56 6.38%,#a0ff5f 7.97%,#96ff69 9.57%,#8dff72 11.16%,#8bff74 12.76%,#8bff74 14.35%,#8bff74 15.95%,#8dff72 17.54%,#8fff70 19.14%,#91ff6e 20.73%,#92ff6d 22.33%,#94ff6b 23.92%,#91ff6e 25.52%,#8eff71 27.11%,#8bff74 28.71%,#88ff77 30.30%,#90ff6f 31.90%,#99ff66 33.49%,#a1ff5e 35.09%,#aaff55 36.68%,#b2ff4d 38.28%,#baff45 39.87%,#c2ff3d 41.47%,#c9ff36 43.06%,#caff35 44.66%,#9eff61 46.25%,#72ff8d 47.85%,#45ffba 49.44%,#1effe1 51.04%,#00f9ff 52.63%,#00d7ff 54.23%,#00c4ff 55.82%,#00b7ff 57.42%,#00b5ff 59.01%,#00bcff 60.61%,#00c6ff 62.20%,#00d5ff 63.80%,#00e8ff 65.39%,#00fcff 66.99%,#10ffef 68.58%,#21ffde 70.18%,#31ffce 71.77%,#3effc1 73.37%,#4bffb4 74.96%,#57ffa8 76.56%,#65ff9a 78.15%,#73ff8c 79.74%,#80ff7f 81.34%,#8eff71 82.93%,#9cff63 84.53%,#a8ff57 86.12%,#b1ff4e 87.72%,#b9ff46 89.31%,#c0ff3f 90.91%,#c7ff38 92.50%,#cfff30 94.10%,#d5ff2a 95.69%,#d5ff2a 97.29%,#d5ff2a 98.88%,#d5ff2a 100.00%)"></i><i style="background:linear-gradient(#bbff44 0.00%,#bbff44 1.59%,#bbff44 3.19%,#b6ff49 4.78%,#adff52 6.38%,#a4ff5b 7.97%,#9aff65 9.57%,#91ff6e 11.16%,#90ff6f 12.76%,#90ff6f 14.35%,#90ff6f 15.95%,#91ff6e 17.54%,#93ff6c 19.14%,#95ff6a 20.73%,#97ff68 22.33%,#99ff66 23.92%,#96ff69 25.52%,#93ff6c 27.11%,#90ff6f 28.71%,#8eff71 30.30%,#96ff69 31.90%,#9fff60 33.49%,#a8ff57 35.09%,#b1ff4e 36.68%,#b9ff46 38.28%,#c1ff3e 39.87%,#c8ff37 41.47%,#d0ff2f 43.06%,#d1ff2e 44.66%,#a4ff5b 46.25%,#78ff87 47.85%,#4bffb4 49.44%,#24ffdb 51.04%,#01fffe 52.63%,#00deff 54.23%,#00cbff 55.82%,#00c0ff 57.42%,#00bdff 59.01%,#00c4ff 60.61%,#00cdff 62.20%,#00d9ff 63.80%,#00ecff 65.39%,#00ffff 66.99%,#13ffec 68.58%,#24ffdb 70.18%,#35ffca 71.77%,#42ffbd 73.37%,#4fffb0 74.96%,#5cffa3 76.56%,#69ff96 78.15%,#77ff88 79.74%,#84ff7b 81.34%,#91ff6e 82.93%,#9eff61 84.53%,#abff54 86.12%,#b4ff4b 87.72%,#bbff44 89.31%,#c2ff3d 90.91%,#c8ff37 92.50%,#cfff30 94.10%,#d5ff2a 95.69%,#d5ff2a 97.29%,#d5ff2a 98.88%,#d5ff2a 100.00%)"></i><i style="background:linear-gradient(#beff41 0.00%,#beff41 1.59%,#beff41 3.19%,#baff45 4.78%,#b1ff4e 6.38%,#a8ff57 7.97%,#9eff61 9.57%,#95ff6a 11.16%,#94ff6b 12.76%,#94ff6b 14.35%,#94ff6b 15.95%,#96ff69 17.54%,#98ff67 19.14%,#9aff65 20.73%,#9cff63 22.33%,#9eff61 23.92%,#9bff64 25.52%,#99ff66 27.11%,#96ff69 28.71%,#93ff6c 30.30%,#9cff63 31.90%,#a5ff5a 33.49%,#aeff51 35.09%,#b7ff48 36.68%,#c0ff3f 38.28%,#c7ff38 39.87%,#cfff30 41.47%,#d7ff28 43.06%,#d8ff27 44.66%,#abff54 46.25%,#7eff81 47.85%,#51ffae 49.44%,#2affd5 51.04%,#08fff7 52.63%,#00e5ff 54.23%,#00d3ff 55.82%,#00c9ff 57.42%,#00c5ff 59.01%,#00ccff 60.61%,#00d3ff 62.20%,#00deff 63.80%,#00f0ff 65.39%,#04fffb 66.99%,#16ffe9 68.58%,#28ffd7 70.18%,#39ffc6 71.77%,#46ffb9 73.37%,#53ffac 74.96%,#60ff9f 76.56%,#6dff92 78.15%,#7aff85 79.74%,#87ff78 81.34%,#94ff6b 82.93%,#a1ff5e 84.53%,#aeff51 86.12%,#b7ff48 87.72%,#bdff42 89.31%,#c3ff3c 90.91%,#caff35 92.50%,#d0ff2f 94.10%,#d5ff2a 95.69%,#d5ff2a 97.29%,#d5ff2a 98.88%,#d5ff2a 100.00%)"></i><i style="background:linear-gradient(#bfff40 0.00%,#bfff40 1.59%,#bfff40 3.19%,#baff45 4.78%,#b1ff4e 6.38%,#a8ff57 7.97%,#9fff60 9.57%,#96ff69 11.16%,#95ff6a 12.76%,#95ff6a 14.35%,#95ff6a 15.95%,#97ff68 17.54%,#99ff66 19.14%,#9bff64 20.73%,#9dff62 22.33%,#9eff61 23.92%,#9cff63 25.52%,#9aff65 27.11%,#98ff67 28.71%,#96ff69 30.30%,#9eff61 31.90%,#a7ff58 33.49%,#b0ff4f 35.09%,#b9ff46 36.68%,#c1ff3e 38.28%,#c9ff36 39.87%,#d0ff2f 41.47%,#d8ff27 43.06%,#d8ff27 44.66%,#acff53 46.25%,#80ff7f 47.85%,#53ffac 49.44%,#2dffd2 51.04%,#0bfff4 52.63%,#00e8ff 54.23%,#00d6ff 55.82%,#00cdff 57.42%,#00c9ff 59.01%,#00d0ff 60.61%,#00d8ff 62.20%,#00e2ff 63.80%,#00f4ff 65.39%,#07fff8 66.99%,#19ffe6 68.58%,#2bffd4 70.18%,#3cffc3 71.77%,#49ffb6 73.37%,#56ffa9 74.96%,#63ff9c 76.56%,#70ff8f 78.15%,#7eff81 79.74%,#8bff74 81.34%,#97ff68 82.93%,#a3ff5c 84.53%,#b0ff4f 86.12%,#b9ff46 87.72%,#bfff40 89.31%,#c5ff3a 90.91%,#cbff34 92.50%,#d1ff2e 94.10%,#d5ff2a 95.69%,#d5ff2a 97.29%,#d5ff2a 98.88%,#d5ff2a 100.00%)"></i><i style="background:linear-gradient(#bfff40 0.00%,#bfff40 1.59%,#bfff40 3.19%,#baff45 4.78%,#b1ff4e 6.38%,#a8ff57 7.97%,#9fff60 9.57%,#96ff69 11.16%,#95ff6a 12.76%,#95ff6a 14.35%,#95ff6a 15.95%,#96ff69 17.54%,#98ff67 19.14%,#9aff65 20.73%,#9cff63 22.33%,#9dff62 23.92%,#9bff64 25.52%,#9aff65 27.11%,#99ff66 28.71%,#97ff68 30.30%,#a0ff5f 31.90%,#a8ff57 33.49%,#b1ff4e 35.09%,#b9ff46 36.68%,#c1ff3e 38.28%,#c8ff37 39.87%,#cfff30 41.47%,#d7ff28 43.06%,#d7ff28 44.66%,#acff53 46.25%,#80ff7f 47.85%,#54ffab 49.44%,#2effd1 51.04%,#0dfff2 52.63%,#00eaff 54.23%,#00d8ff 55.82%,#00d0ff 57.42%,#00ccff 59.01%,#00d4ff 60.61%,#00dbff 62.20%,#00e6ff 63.80%,#00f8ff 65.39%,#0bfff4 66.99%,#1dffe2 68.58%,#2effd1 70.18%,#3fffc0 71.77%,#4cffb3 73.37%,#59ffa6 74.96%,#66ff99 76.56%,#73ff8c 78.15%,#81ff7e 79.74%,#8eff71 81.34%,#9aff65 82.93%,#a6ff59 84.53%,#b1ff4e 86.12%,#baff45 87.72%,#c0ff3f 89.31%,#c6ff39 90.91%,#ccff33 92.50%,#d2ff2d 94.10%,#d7ff28 95.69%,#d7ff28 97.29%,#d7ff28 98.88%,#d7ff28 100.00%)"></i><i style="background:linear-gradient(#bfff40 0.00%,#bfff40 1.59%,#bfff40 3.19%,#baff45 4.78%,#b1ff4e 6.38%,#a8ff57 7.97%,#9fff60 9.57%,#96ff69 11.16%,#95ff6a 12.76%,#95ff6a 14.35%,#95ff6a 15.95%,#96ff69 17.54%,#98ff67 19.14%,#99ff66 20.73%,#9aff65 22.33%,#9cff63 23.92%,#9bff64 25.52%,#9aff65 27.11%,#99ff66 28.71%,#98ff67 30.30%,#a1ff5e 31.90%,#a9ff56 33.49%,#b1ff4e 35.09%,#b9ff46 36.68%,#c1ff3e 38.28%,#c8ff37 39.87%,#cfff30 41.47%,#d6ff29 43.06%,#d6ff29 44.66%,#abff54 46.25%,#80ff7f 47.85%,#55ffaa 49.44%,#30ffcf 51.04%,#0efff1 52.63%,#00ecff 54.23%,#00dbff 55.82%,#00d3ff 57.42%,#00d0ff 59.01%,#00d7ff 60.61%,#00dfff 62.20%,#00eaff 63.80%,#00fcff 65.39%,#0ffff0 66.99%,#20ffdf 68.58%,#31ffce 70.18%,#41ffbe 71.77%,#4effb1 73.37%,#5bffa4 74.96%,#69ff96 76.56%,#76ff89 78.15%,#84ff7b 79.74%,#91ff6e 81.34%,#9dff62 82.93%,#a8ff57 84.53%,#b2ff4d 86.12%,#bbff44 87.72%,#c1ff3e 89.31%,#c7ff38 90.91%,#cdff32 92.50%,#d3ff2c 94.10%,#d8ff27 95.69%,#d8ff27 97.29%,#d8ff27 98.88%,#d8ff27 100.00%)"></i><i style="background:linear-gradient(#bfff40 0.00%,#bfff40 1.59%,#bfff40 3.19%,#baff45 4.78%,#b1ff4e 6.38%,#a8ff57 7.97%,#9fff60 9.57%,#96ff69 11.16%,#95ff6a 12.76%,#95ff6a 14.35%,#95ff6a 15.95%,#96ff69 17.54%,#97ff68 19.14%,#98ff67 20.73%,#99ff66 22.33%,#9aff65 23.92%,#9aff65 25.52%,#9aff65 27.11%,#9aff65 28.71%,#9aff65 30.30%,#a2ff5d 31.90%,#aaff55 33.49%,#b1ff4e 35.09%,#b9ff46 36.68%,#c1ff3e 38.28%,#c8ff37 39.87%,#ceff31 41.47%,#d5ff2a 43.06%,#d5ff2a 44.66%,#abff54 46.25%,#80ff7f 47.85%,#56ffa9 49.44%,#31ffce 51.04%,#10ffef 52.63%,#00eeff 54.23%,#00ddff 55.82%,#00d6ff 57.42%,#00d3ff 59.01%,#00dbff 60.61%,#00e3ff 62.20%,#00eeff 63.80%,#01fffe 65.39%,#13ffec 66.99%,#24ffdb 68.58%,#34ffcb 70.18%,#43ffbc 71.77%,#50ffaf 73.37%,#5dffa2 74.96%,#6bff94 76.56%,#79ff86 78.15%,#87ff78 79.74%,#94ff6b 81.34%,#a0ff5f 82.93%,#aaff55 84.53%,#b4ff4b 86.12%,#bcff43 87.72%,#c2ff3d 89.31%,#c8ff37 90.91%,#ceff31 92.50%,#d5ff2a 94.10%,#d9ff26 95.69%,#d9ff26 97.29%,#d9ff26 98.88%,#d9ff26 100.00%)"></i><i style="background:linear-gradient(#bfff40 0.00%,#bfff40 1.59%,#bfff40 3.19%,#baff45 4.78%,#b1ff4e 6.38%,#a8ff57 7.97%,#9fff60 9.57%,#96ff69 11.16%,#95ff6a 12.76%,#95ff6a 14.35%,#95ff6a 15.95%,#96ff69 17.54%,#96ff69 19.14%,#97ff68 20.73%,#98ff67 22.33%,#99ff66 23.92%,#9aff65 25.52%,#9aff65 27.11%,#9bff64 28.71%,#9bff64 30.30%,#a3ff5c 31.90%,#aaff55 33.49%,#b2ff4d 35.09%,#baff45 36.68%,#c1ff3e 38.28%,#c7ff38 39.87%,#cdff32 41.47%,#d4ff2b 43.06%,#d4ff2b 44.66%,#aaff55 46.25%,#81ff7e 47.85%,#57ffa8 49.44%,#33ffcc 51.04%,#12ffed 52.63%,#00efff 54.23%,#00dfff 55.82%,#00d9ff 57.42%,#00d6ff 59.01%,#00deff 60.61%,#00e7ff 62.20%,#00f2ff 63.80%,#05fffa 65.39%,#17ffe8 66.99%,#28ffd7 68.58%,#37ffc8 70.18%,#46ffb9 71.77%,#53ffac 73.37%,#60ff9f 74.96%,#6eff91 76.56%,#7cff83 78.15%,#8aff75 79.74%,#97ff68 81.34%,#a3ff5c 82.93%,#acff53 84.53%,#b5ff4a 86.12%,#bdff42 87.72%,#c3ff3c 89.31%,#c9ff36 90.91%,#d0ff2f 92.50%,#d6ff29 94.10%,#dbff24 95.69%,#dbff24 97.29%,#dbff24 98.88%,#dbff24 100.00%)"></i><i style="background:linear-gradient(#bfff40 0.00%,#bfff40 1.59%,#bfff40 3.19%,#baff45 4.78%,#b1ff4e 6.38%,#a8ff57 7.97%,#9fff60 9.57%,#96ff69 11.16%,#95ff6a 12.76%,#95ff6a 14.35%,#95ff6a 15.95%,#95ff6a 17.54%,#96ff69 19.14%,#97ff68 20.73%,#97ff68 22.33%,#98ff67 23.92%,#99ff66 25.52%,#9aff65 27.11%,#9bff64 28.71%,#9cff63 30.30%,#a4ff5b 31.90%,#abff54 33.49%,#b2ff4d 35.09%,#baff45 36.68%,#c1ff3e 38.28%,#c7ff38 39.87%,#cdff32 41.47%,#d3ff2c 43.06%,#d2ff2d 44.66%,#aaff55 46.25%,#81ff7e 47.85%,#58ffa7 49.44%,#34ffcb 51.04%,#13ffec 52.63%,#00f1ff 54.23%,#00e1ff 55.82%,#00dcff 57.42%,#00d9ff 59.01%,#00e2ff 60.61%,#00eaff 62.20%,#00f6ff 63.80%,#09fff6 65.39%,#1bffe4 66.99%,#2bffd4 68.58%,#3affc5 70.18%,#48ffb7 71.77%,#55ffaa 73.37%,#62ff9d 74.96%,#70ff8f 76.56%,#7eff81 78.15%,#8dff72 79.74%,#9bff64 81.34%,#a6ff59 82.93%,#aeff51 84.53%,#b7ff48 86.12%,#beff41 87.72%,#c4ff3b 89.31%,#caff35 90.91%,#d1ff2e 92.50%,#d7ff28 94.10%,#dcff23 95.69%,#dcff23 97.29%,#dcff23 98.88%,#dcff23 100.00%)"></i><i style="background:linear-gradient(#bfff40 0.00%,#bfff40 1.59%,#bfff40 3.19%,#baff45 4.78%,#b1ff4e 6.38%,#a8ff57 7.97%,#9fff60 9.57%,#96ff69 11.16%,#95ff6a 12.76%,#95ff6a 14.35%,#95ff6a 15.95%,#95ff6a 17.54%,#95ff6a 19.14%,#96ff69 20.73%,#96ff69 22.33%,#97ff68 23.92%,#98ff67 25.52%,#9aff65 27.11%,#9cff63 28.71%,#9eff61 30.30%,#a5ff5a 31.90%,#acff53 33.49%,#b3ff4c 35.09%,#baff45 36.68%,#c1ff3e 38.28%,#c6ff39 39.87%,#ccff33 41.47%,#d1ff2e 43.06%,#d1ff2e 44.66%,#a9ff56 46.25%,#81ff7e 47.85%,#59ffa6 49.44%,#35ffca 51.04%,#15ffea 52.63%,#00f3ff 54.23%,#00e4ff 55.82%,#00deff 57.42%,#00ddff 59.01%,#00e5ff 60.61%,#00eeff 62.20%,#00faff 63.80%,#0dfff2 65.39%,#1fffe0 66.99%,#2fffd0 68.58%,#3dffc2 70.18%,#4bffb4 71.77%,#57ffa8 73.37%,#65ff9a 74.96%,#73ff8c 76.56%,#81ff7e 78.15%,#90ff6f 79.74%,#9eff61 81.34%,#a9ff56 82.93%,#b0ff4f 84.53%,#b8ff47 86.12%,#bfff40 87.72%,#c5ff3a 89.31%,#ccff33 90.91%,#d2ff2d 92.50%,#d8ff27 94.10%,#ddff22 95.69%,#ddff22 97.29%,#ddff22 98.88%,#ddff22 100.00%)"></i><i style="background:linear-gradient(#bfff40 0.00%,#bfff40 1.59%,#bfff40 3.19%,#baff45 4.78%,#b1ff4e 6.38%,#a8ff57 7.97%,#9fff60 9.57%,#96ff69 11.16%,#95ff6a 12.76%,#95ff6a 14.35%,#95ff6a 15.95%,#95ff6a 17.54%,#95ff6a 19.14%,#95ff6a 20.73%,#95ff6a 22.33%,#96ff69 23.92%,#98ff67 25.52%,#9aff65 27.11%,#9dff62 28.71%,#9fff60 30.30%,#a6ff59 31.90%,#acff53 33.49%,#b3ff4c 35.09%,#baff45 36.68%,#c1ff3e 38.28%,#c6ff39 39.87%,#cbff34 41.47%,#d0ff2f 43.06%,#d0ff2f 44.66%,#a9ff56 46.25%,#81ff7e 47.85%,#5affa5 49.44%,#37ffc8 51.04%,#16ffe9 52.63%,#00f5ff 54.23%,#00e6ff 55.82%,#00e1ff 57.42%,#00e0ff 59.01%,#00e9ff 60.61%,#00f2ff 62.20%,#00feff 63.80%,#11ffee 65.39%,#23ffdc 66.99%,#33ffcc 68.58%,#40ffbf 70.18%,#4dffb2 71.77%,#5affa5 73.37%,#67ff98 74.96%,#76ff89 76.56%,#84ff7b 78.15%,#93ff6c 79.74%,#a1ff5e 81.34%,#acff53 82.93%,#b3ff4c 84.53%,#b9ff46 86.12%,#c0ff3f 87.72%,#c6ff39 89.31%,#cdff32 90.91%,#d3ff2c 92.50%,#daff25 94.10%,#dfff20 95.69%,#dfff20 97.29%,#dfff20 98.88%,#dfff20 100.00%)"></i><i style="background:linear-gradient(#beff41 0.00%,#beff41 1.59%,#beff41 3.19%,#b9ff46 4.78%,#b0ff4f 6.38%,#a7ff58 7.97%,#9eff61 9.57%,#95ff6a 11.16%,#93ff6c 12.76%,#93ff6c 14.35%,#93ff6c 15.95%,#94ff6b 17.54%,#95ff6a 19.14%,#96ff69 20.73%,#97ff68 22.33%,#98ff67 23.92%,#9aff65 25.52%,#9cff63 27.11%,#9fff60 28.71%,#a1ff5e 30.30%,#a8ff57 31.90%,#aeff51 33.49%,#b5ff4a 35.09%,#bcff43 36.68%,#c2ff3d 38.28%,#c7ff38 39.87%,#ccff33 41.47%,#d1ff2e 43.06%,#d0ff2f 44.66%,#aaff55 46.25%,#83ff7c 47.85%,#5dffa2 49.44%,#3bffc4 51.04%,#1effe1 52.63%,#00ffff 54.23%,#00f1ff 55.82%,#00ecff 57.42%,#00ebff 59.01%,#00f3ff 60.61%,#00faff 62.20%,#07fff8 63.80%,#18ffe7 65.39%,#29ffd6 66.99%,#39ffc6 68.58%,#45ffba 70.18%,#51ffae 71.77%,#5dffa2 73.37%,#6aff95 74.96%,#78ff87 76.56%,#86ff79 78.15%,#94ff6b 79.74%,#a3ff5c 81.34%,#adff52 82.93%,#b4ff4b 84.53%,#baff45 86.12%,#c0ff3f 87.72%,#c7ff38 89.31%,#cdff32 90.91%,#d4ff2b 92.50%,#daff25 94.10%,#dfff20 95.69%,#dfff20 97.29%,#dfff20 98.88%,#dfff20 100.00%)"></i><i style="background:linear-gradient(#bbff44 0.00%,#bbff44 1.59%,#bbff44 3.19%,#b6ff49 4.78%,#adff52 6.38%,#a4ff5b 7.97%,#9bff64 9.57%,#92ff6d 11.16%,#91ff6e 12.76%,#91ff6e 14.35%,#91ff6e 15.95%,#93ff6c 17.54%,#96ff69 19.14%,#98ff67 20.73%,#9bff64 22.33%,#9dff62 23.92%,#9fff60 25.52%,#a0ff5f 27.11%,#a2ff5d 28.71%,#a4ff5b 30.30%,#aaff55 31.90%,#b1ff4e 33.49%,#b8ff47 35.09%,#beff41 36.68%,#c5ff3a 38.28%,#c9ff36 39.87%,#ceff31 41.47%,#d3ff2c 43.06%,#d2ff2d 44.66%,#acff53 46.25%,#86ff79 47.85%,#60ff9f 49.44%,#42ffbd 51.04%,#2affd5 52.63%,#11ffee 54.23%,#03fffc 55.82%,#00fcff 57.42%,#00fcff 59.01%,#02fffd 60.61%,#08fff7 62.20%,#13ffec 63.80%,#23ffdc 65.39%,#32ffcd 66.99%,#40ffbf 68.58%,#4bffb4 70.18%,#56ffa9 71.77%,#61ff9e 73.37%,#6cff93 74.96%,#7aff85 76.56%,#88ff77 78.15%,#95ff6a 79.74%,#a3ff5c 81.34%,#adff52 82.93%,#b4ff4b 84.53%,#baff45 86.12%,#c0ff3f 87.72%,#c7ff38 89.31%,#cdff32 90.91%,#d4ff2b 92.50%,#daff25 94.10%,#dfff20 95.69%,#dfff20 97.29%,#dfff20 98.88%,#dfff20 100.00%)"></i><i style="background:linear-gradient(#b8ff47 0.00%,#b8ff47 1.59%,#b8ff47 3.19%,#b4ff4b 4.78%,#abff54 6.38%,#a2ff5d 7.97%,#99ff66 9.57%,#90ff6f 11.16%,#8eff71 12.76%,#8eff71 14.35%,#8eff71 15.95%,#92ff6d 17.54%,#96ff69 19.14%,#9aff65 20.73%,#9fff60 22.33%,#a3ff5c 23.92%,#a3ff5c 25.52%,#a4ff5b 27.11%,#a5ff5a 28.71%,#a6ff59 30.30%,#adff52 31.90%,#b4ff4b 33.49%,#baff45 35.09%,#c1ff3e 36.68%,#c7ff38 38.28%,#ccff33 39.87%,#d0ff2f 41.47%,#d4ff2b 43.06%,#d3ff2c 44.66%,#aeff51 46.25%,#89ff76 47.85%,#64ff9b 49.44%,#49ffb6 51.04%,#35ffca 52.63%,#22ffdd 54.23%,#14ffeb 55.82%,#0efff1 57.42%,#0dfff2 59.01%,#11ffee 60.61%,#14ffeb 62.20%,#1fffe0 63.80%,#2dffd2 65.39%,#3bffc4 66.99%,#48ffb7 68.58%,#51ffae 70.18%,#5bffa4 71.77%,#64ff9b 73.37%,#6fff90 74.96%,#7cff83 76.56%,#89ff76 78.15%,#96ff69 79.74%,#a3ff5c 81.34%,#adff52 82.93%,#b4ff4b 84.53%,#baff45 86.12%,#c0ff3f 87.72%,#c7ff38 89.31%,#cdff32 90.91%,#d4ff2b 92.50%,#daff25 94.10%,#dfff20 95.69%,#dfff20 97.29%,#dfff20 98.88%,#dfff20 100.00%)"></i><i style="background:linear-gradient(#b6ff49 0.00%,#b6ff49 1.59%,#b6ff49 3.19%,#b1ff4e 4.78%,#a8ff57 6.38%,#9fff60 7.97%,#96ff69 9.57%,#8dff72 11.16%,#8bff74 12.76%,#8bff74 14.35%,#8bff74 15.95%,#90ff6f 17.54%,#96ff69 19.14%,#9cff63 20.73%,#a3ff5c 22.33%,#a8ff57 23.92%,#a8ff57 25.52%,#a8ff57 27.11%,#a9ff56 28.71%,#a9ff56 30.30%,#b0ff4f 31.90%,#b6ff49 33.49%,#bdff42 35.09%,#c4ff3b 36.68%,#caff35 38.28%,#ceff31 39.87%,#d2ff2d 41.47%,#d6ff29 43.06%,#d5ff2a 44.66%,#b0ff4f 46.25%,#8cff73 47.85%,#68ff97 49.44%,#50ffaf 51.04%,#41ffbe 52.63%,#32ffcd 54.23%,#25ffda 55.82%,#1effe1 57.42%,#1effe1 59.01%,#1fffe0 60.61%,#20ffdf 62.20%,#2bffd4 63.80%,#38ffc7 65.39%,#44ffbb 66.99%,#4fffb0 68.58%,#58ffa7 70.18%,#60ff9f 71.77%,#68ff97 73.37%,#71ff8e 74.96%,#7eff81 76.56%,#8aff75 78.15%,#97ff68 79.74%,#a4ff5b 81.34%,#adff52 82.93%,#b4ff4b 84.53%,#baff45 86.12%,#c0ff3f 87.72%,#c7ff38 89.31%,#cdff32 90.91%,#d4ff2b 92.50%,#daff25 94.10%,#dfff20 95.69%,#dfff20 97.29%,#dfff20 98.88%,#dfff20 100.00%)"></i><i style="background:linear-gradient(#b4ff4b 0.00%,#b4ff4b 1.59%,#b4ff4b 3.19%,#afff50 4.78%,#a6ff59 6.38%,#9dff62 7.97%,#94ff6b 9.57%,#8bff74 11.16%,#89ff76 12.76%,#89ff76 14.35%,#89ff76 15.95%,#8fff70 17.54%,#96ff69 19.14%,#9dff62 20.73%,#a4ff5b 22.33%,#aaff55 23.92%,#aaff55 25.52%,#a9ff56 27.11%,#a9ff56 28.71%,#a9ff56 30.30%,#b0ff4f 31.90%,#b7ff48 33.49%,#beff41 35.09%,#c5ff3a 36.68%,#cbff34 38.28%,#cfff30 39.87%,#d3ff2c 41.47%,#d6ff29 43.06%,#d5ff2a 44.66%,#b2ff4d 46.25%,#8eff71 47.85%,#6aff95 49.44%,#54ffab 51.04%,#47ffb8 52.63%,#3bffc4 54.23%,#2effd1 55.82%,#26ffd9 57.42%,#27ffd8 59.01%,#27ffd8 60.61%,#28ffd7 62.20%,#32ffcd 63.80%,#3effc1 65.39%,#4affb5 66.99%,#55ffaa 68.58%,#5cffa3 70.18%,#64ff9b 71.77%,#6cff93 73.37%,#75ff8a 74.96%,#80ff7f 76.56%,#8cff73 78.15%,#98ff67 79.74%,#a4ff5b 81.34%,#aeff51 82.93%,#b4ff4b 84.53%,#bbff44 86.12%,#c2ff3d 87.72%,#c8ff37 89.31%,#ceff31 90.91%,#d4ff2b 92.50%,#daff25 94.10%,#dfff20 95.69%,#dfff20 97.29%,#dfff20 98.88%,#dfff20 100.00%)"></i><i style="background:linear-gradient(#b2ff4d 0.00%,#b2ff4d 1.59%,#b2ff4d 3.19%,#adff52 4.78%,#a4ff5b 6.38%,#9bff64 7.97%,#92ff6d 9.57%,#89ff76 11.16%,#87ff78 12.76%,#87ff78 14.35%,#87ff78 15.95%,#8dff72 17.54%,#95ff6a 19.14%,#9cff63 20.73%,#a4ff5b 22.33%,#aaff55 23.92%,#a9ff56 25.52%,#a8ff57 27.11%,#a8ff57 28.71%,#a7ff58 30.30%,#aeff51 31.90%,#b6ff49 33.49%,#bdff42 35.09%,#c4ff3b 36.68%,#cbff34 38.28%,#cfff30 39.87%,#d3ff2c 41.47%,#d6ff29 43.06%,#d5ff2a 44.66%,#b2ff4d 46.25%,#8fff70 47.85%,#6cff93 49.44%,#56ffa9 51.04%,#4affb5 52.63%,#3dffc2 54.23%,#31ffce 55.82%,#29ffd6 57.42%,#2affd5 59.01%,#2bffd4 60.61%,#2dffd2 62.20%,#37ffc8 63.80%,#42ffbd 65.39%,#4effb1 66.99%,#58ffa7 68.58%,#60ff9f 70.18%,#68ff97 71.77%,#70ff8f 73.37%,#78ff87 74.96%,#84ff7b 76.56%,#8fff70 78.15%,#9aff65 79.74%,#a6ff59 81.34%,#afff50 82.93%,#b6ff49 84.53%,#bdff42 86.12%,#c4ff3b 87.72%,#c9ff36 89.31%,#cfff30 90.91%,#d5ff2a 92.50%,#dbff24 94.10%,#dfff20 95.69%,#dfff20 97.29%,#dfff20 98.88%,#dfff20 100.00%)"></i><i style="background:linear-gradient(#b0ff4f 0.00%,#b0ff4f 1.59%,#b0ff4f 3.19%,#abff54 4.78%,#a2ff5d 6.38%,#99ff66 7.97%,#90ff6f 9.57%,#87ff78 11.16%,#85ff7a 12.76%,#85ff7a 14.35%,#85ff7a 15.95%,#8cff73 17.54%,#94ff6b 19.14%,#9bff64 20.73%,#a3ff5c 22.33%,#aaff55 23.92%,#a9ff56 25.52%,#a8ff57 27.11%,#a6ff59 28.71%,#a5ff5a 30.30%,#adff52 31.90%,#b5ff4a 33.49%,#bcff43 35.09%,#c4ff3b 36.68%,#cbff34 38.28%,#cfff30 39.87%,#d3ff2c 41.47%,#d6ff29 43.06%,#d5ff2a 44.66%,#b3ff4c 46.25%,#90ff6f 47.85%,#6eff91 49.44%,#58ffa7 51.04%,#4cffb3 52.63%,#40ffbf 54.23%,#34ffcb 55.82%,#2bffd4 57.42%,#2cffd3 59.01%,#2fffd0 60.61%,#32ffcd 62.20%,#3bffc4 63.80%,#46ffb9 65.39%,#51ffae 66.99%,#5cffa3 68.58%,#65ff9a 70.18%,#6cff93 71.77%,#74ff8b 73.37%,#7cff83 74.96%,#87ff78 76.56%,#91ff6e 78.15%,#9cff63 79.74%,#a7ff58 81.34%,#b0ff4f 82.93%,#b8ff47 84.53%,#bfff40 86.12%,#c6ff39 87.72%,#cbff34 89.31%,#d0ff2f 90.91%,#d6ff29 92.50%,#dbff24 94.10%,#dfff20 95.69%,#dfff20 97.29%,#dfff20 98.88%,#dfff20 100.00%)"></i><i style="background:linear-gradient(#aeff51 0.00%,#aeff51 1.59%,#aeff51 3.19%,#a9ff56 4.78%,#a0ff5f 6.38%,#97ff68 7.97%,#8eff71 9.57%,#85ff7a 11.16%,#83ff7c 12.76%,#83ff7c 14.35%,#83ff7c 15.95%,#8aff75 17.54%,#93ff6c 19.14%,#9bff64 20.73%,#a3ff5c 22.33%,#aaff55 23.92%,#a8ff57 25.52%,#a7ff58 27.11%,#a5ff5a 28.71%,#a3ff5c 30.30%,#abff54 31.90%,#b4ff4b 33.49%,#bcff43 35.09%,#c4ff3b 36.68%,#cbff34 38.28%,#cfff30 39.87%,#d3ff2c 41.47%,#d6ff29 43.06%,#d5ff2a 44.66%,#b3ff4c 46.25%,#91ff6e 47.85%,#6fff90 49.44%,#5affa5 51.04%,#4effb1 52.63%,#42ffbd 54.23%,#37ffc8 55.82%,#2dffd2 57.42%,#2fffd0 59.01%,#33ffcc 60.61%,#37ffc8 62.20%,#3fffc0 63.80%,#4affb5 65.39%,#55ffaa 66.99%,#5fffa0 68.58%,#69ff96 70.18%,#70ff8f 71.77%,#78ff87 73.37%,#80ff7f 74.96%,#8aff75 76.56%,#94ff6b 78.15%,#9eff61 79.74%,#a8ff57 81.34%,#b1ff4e 82.93%,#b9ff46 84.53%,#c1ff3e 86.12%,#c8ff37 87.72%,#cdff32 89.31%,#d2ff2d 90.91%,#d6ff29 92.50%,#dbff24 94.10%,#dfff20 95.69%,#dfff20 97.29%,#dfff20 98.88%,#dfff20 100.00%)"></i><i style="background:linear-gradient(#acff53 0.00%,#acff53 1.59%,#acff53 3.19%,#a7ff58 4.78%,#9eff61 6.38%,#95ff6a 7.97%,#8cff73 9.57%,#83ff7c 11.16%,#82ff7d 12.76%,#82ff7d 14.35%,#82ff7d 15.95%,#89ff76 17.54%,#91ff6e 19.14%,#9aff65 20.73%,#a3ff5c 22.33%,#aaff55 23.92%,#a8ff57 25.52%,#a6ff59 27.11%,#a3ff5c 28.71%,#a1ff5e 30.30%,#aaff55 31.90%,#b2ff4d 33.49%,#bbff44 35.09%,#c4ff3b 36.68%,#cbff34 38.28%,#cfff30 39.87%,#d3ff2c 41.47%,#d6ff29 43.06%,#d5ff2a 44.66%,#b4ff4b 46.25%,#92ff6d 47.85%,#71ff8e 49.44%,#5cffa3 51.04%,#51ffae 52.63%,#45ffba 54.23%,#3affc5 55.82%,#2fffd0 57.42%,#32ffcd 59.01%,#37ffc8 60.61%,#3cffc3 62.20%,#44ffbb 63.80%,#4effb1 65.39%,#59ffa6 66.99%,#63ff9c 68.58%,#6dff92 70.18%,#74ff8b 71.77%,#7cff83 73.37%,#84ff7b 74.96%,#8dff72 76.56%,#96ff69 78.15%,#a0ff5f 79.74%,#a9ff56 81.34%,#b2ff4d 82.93%,#bbff44 84.53%,#c3ff3c 86.12%,#caff35 87.72%,#ceff31 89.31%,#d3ff2c 90.91%,#d7ff28 92.50%,#dcff23 94.10%,#dfff20 95.69%,#dfff20 97.29%,#dfff20 98.88%,#dfff20 100.00%)"></i><i style="background:linear-gradient(#aaff55 0.00%,#aaff55 1.59%,#aaff55 3.19%,#a5ff5a 4.78%,#9cff63 6.38%,#93ff6c 7.97%,#8aff75 9.57%,#81ff7e 11.16%,#80ff7f 12.76%,#80ff7f 14.35%,#80ff7f 15.95%,#87ff78 17.54%,#90ff6f 19.14%,#99ff66 20.73%,#a2ff5d 22.33%,#aaff55 23.92%,#a7ff58 25.52%,#a5ff5a 27.11%,#a2ff5d 28.71%,#a0ff5f 30.30%,#a8ff57 31.90%,#b1ff4e 33.49%,#baff45 35.09%,#c3ff3c 36.68%,#cbff34 38.28%,#cfff30 39.87%,#d3ff2c 41.47%,#d6ff29 43.06%,#d6ff29 44.66%,#b5ff4a 46.25%,#94ff6b 47.85%,#73ff8c 49.44%,#5effa1 51.04%,#53ffac 52.63%,#48ffb7 54.23%,#3cffc3 55.82%,#31ffce 57.42%,#35ffca 59.01%,#3bffc4 60.61%,#41ffbe 62.20%,#48ffb7 63.80%,#52ffad 65.39%,#5dffa2 66.99%,#67ff98 68.58%,#71ff8e 70.18%,#78ff87 71.77%,#80ff7f 73.37%,#88ff77 74.96%,#90ff6f 76.56%,#99ff66 78.15%,#a2ff5d 79.74%,#abff54 81.34%,#b4ff4b 82.93%,#bdff42 84.53%,#c6ff39 86.12%,#ccff33 87.72%,#d0ff2f 89.31%,#d4ff2b 90.91%,#d8ff27 92.50%,#dcff23 94.10%,#dfff20 95.69%,#dfff20 97.29%,#dfff20 98.88%,#dfff20 100.00%)"></i><i style="background:linear-gradient(#a9ff56 0.00%,#a9ff56 1.59%,#a9ff56 3.19%,#a4ff5b 4.78%,#9cff63 6.38%,#93ff6c 7.97%,#8bff74 9.57%,#83ff7c 11.16%,#81ff7e 12.76%,#81ff7e 14.35%,#81ff7e 15.95%,#88ff77 17.54%,#91ff6e 19.14%,#9aff65 20.73%,#a2ff5d 22.33%,#aaff55 23.92%,#a6ff59 25.52%,#a3ff5c 27.11%,#a0ff5f 28.71%,#9cff63 30.30%,#a5ff5a 31.90%,#aeff51 33.49%,#b6ff49 35.09%,#bfff40 36.68%,#c7ff38 38.28%,#cbff34 39.87%,#cfff30 41.47%,#d3ff2c 43.06%,#d2ff2d 44.66%,#b3ff4c 46.25%,#94ff6b 47.85%,#75ff8a 49.44%,#62ff9d 51.04%,#58ffa7 52.63%,#4dffb2 54.23%,#42ffbd 55.82%,#37ffc8 57.42%,#3affc5 59.01%,#40ffbf 60.61%,#46ffb9 62.20%,#4dffb2 63.80%,#57ffa8 65.39%,#61ff9e 66.99%,#6bff94 68.58%,#75ff8a 70.18%,#7cff83 71.77%,#84ff7b 73.37%,#8cff73 74.96%,#93ff6c 76.56%,#9bff64 78.15%,#a4ff5b 79.74%,#acff53 81.34%,#b4ff4b 82.93%,#bcff43 84.53%,#c5ff3a 86.12%,#cbff34 87.72%,#cfff30 89.31%,#d3ff2c 90.91%,#d7ff28 92.50%,#dbff24 94.10%,#deff21 95.69%,#deff21 97.29%,#deff21 98.88%,#deff21 100.00%)"></i><i style="background:linear-gradient(#a7ff58 0.00%,#a7ff58 1.59%,#a7ff58 3.19%,#a3ff5c 4.78%,#9bff64 6.38%,#93ff6c 7.97%,#8cff73 9.57%,#84ff7b 11.16%,#83ff7c 12.76%,#83ff7c 14.35%,#83ff7c 15.95%,#8aff75 17.54%,#92ff6d 19.14%,#9aff65 20.73%,#a3ff5c 22.33%,#a9ff56 23.92%,#a5ff5a 25.52%,#a1ff5e 27.11%,#9dff62 28.71%,#99ff66 30.30%,#a2ff5d 31.90%,#aaff55 33.49%,#b2ff4d 35.09%,#bbff44 36.68%,#c2ff3d 38.28%,#c6ff39 39.87%,#caff35 41.47%,#cfff30 43.06%,#ceff31 44.66%,#b2ff4d 46.25%,#95ff6a 47.85%,#78ff87 49.44%,#67ff98 51.04%,#5cffa3 52.63%,#52ffad 54.23%,#48ffb7 55.82%,#3dffc2 57.42%,#40ffbf 59.01%,#46ffb9 60.61%,#4bffb4 62.20%,#51ffae 63.80%,#5bffa4 65.39%,#65ff9a 66.99%,#6fff90 68.58%,#78ff87 70.18%,#80ff7f 71.77%,#88ff77 73.37%,#8fff70 74.96%,#97ff68 76.56%,#9eff61 78.15%,#a6ff59 79.74%,#adff52 81.34%,#b5ff4a 82.93%,#bcff43 84.53%,#c4ff3b 86.12%,#c9ff36 87.72%,#cdff32 89.31%,#d1ff2e 90.91%,#d5ff2a 92.50%,#d9ff26 94.10%,#dcff23 95.69%,#dcff23 97.29%,#dcff23 98.88%,#dcff23 100.00%)"></i><i style="background:linear-gradient(#a5ff5a 0.00%,#a5ff5a 1.59%,#a5ff5a 3.19%,#a2ff5d 4.78%,#9bff64 6.38%,#93ff6c 7.97%,#8cff73 9.57%,#85ff7a 11.16%,#84ff7b 12.76%,#84ff7b 14.35%,#84ff7b 15.95%,#8bff74 17.54%,#93ff6c 19.14%,#9bff64 20.73%,#a3ff5c 22.33%,#a9ff56 23.92%,#a5ff5a 25.52%,#a0ff5f 27.11%,#9bff64 28.71%,#96ff69 30.30%,#9eff61 31.90%,#a6ff59 33.49%,#aeff51 35.09%,#b6ff49 36.68%,#bdff42 38.28%,#c2ff3d 39.87%,#c6ff39 41.47%,#caff35 43.06%,#cbff34 44.66%,#b0ff4f 46.25%,#96ff69 47.85%,#7cff83 49.44%,#6bff94 51.04%,#61ff9e 52.63%,#57ffa8 54.23%,#4effb1 55.82%,#44ffbb 57.42%,#46ffb9 59.01%,#4bffb4 60.61%,#50ffaf 62.20%,#56ffa9 63.80%,#60ff9f 65.39%,#69ff96 66.99%,#73ff8c 68.58%,#7cff83 70.18%,#84ff7b 71.77%,#8bff74 73.37%,#93ff6c 74.96%,#9aff65 76.56%,#a1ff5e 78.15%,#a8ff57 79.74%,#aeff51 81.34%,#b5ff4a 82.93%,#bcff43 84.53%,#c3ff3c 86.12%,#c8ff37 87.72%,#ccff33 89.31%,#d0ff2f 90.91%,#d4ff2b 92.50%,#d7ff28 94.10%,#daff25 95.69%,#daff25 97.29%,#daff25 98.88%,#daff25 100.00%)"></i><i style="background:linear-gradient(#a4ff5b 0.00%,#a4ff5b 1.59%,#a4ff5b 3.19%,#a0ff5f 4.78%,#9aff65 6.38%,#94ff6b 7.97%,#8dff72 9.57%,#87ff78 11.16%,#86ff79 12.76%,#86ff79 14.35%,#86ff79 15.95%,#8cff73 17.54%,#94ff6b 19.14%,#9cff63 20.73%,#a3ff5c 22.33%,#a9ff56 23.92%,#a4ff5b 25.52%,#9eff61 27.11%,#99ff66 28.71%,#93ff6c 30.30%,#9bff64 31.90%,#a2ff5d 33.49%,#aaff55 35.09%,#b2ff4d 36.68%,#b8ff47 38.28%,#bdff42 39.87%,#c2ff3d 41.47%,#c6ff39 43.06%,#c7ff38 44.66%,#afff50 46.25%,#97ff68 47.85%,#7fff80 49.44%,#6fff90 51.04%,#66ff99 52.63%,#5dffa2 54.23%,#53ffac 55.82%,#4affb5 57.42%,#4cffb3 59.01%,#51ffae 60.61%,#55ffaa 62.20%,#5bffa4 63.80%,#64ff9b 65.39%,#6eff91 66.99%,#77ff88 68.58%,#80ff7f 70.18%,#88ff77 71.77%,#8fff70 73.37%,#96ff69 74.96%,#9dff62 76.56%,#a4ff5b 78.15%,#aaff55 79.74%,#b0ff4f 81.34%,#b6ff49 82.93%,#bcff43 84.53%,#c2ff3d 86.12%,#c6ff39 87.72%,#caff35 89.31%,#ceff31 90.91%,#d2ff2d 92.50%,#d6ff29 94.10%,#d9ff26 95.69%,#d9ff26 97.29%,#d9ff26 98.88%,#d9ff26 100.00%)"></i><i style="background:linear-gradient(#a2ff5d 0.00%,#a2ff5d 1.59%,#a2ff5d 3.19%,#9fff60 4.78%,#99ff66 6.38%,#94ff6b 7.97%,#8eff71 9.57%,#88ff77 11.16%,#87ff78 12.76%,#87ff78 14.35%,#87ff78 15.95%,#8eff71 17.54%,#95ff6a 19.14%,#9cff63 20.73%,#a4ff5b 22.33%,#a9ff56 23.92%,#a3ff5c 25.52%,#9cff63 27.11%,#96ff69 28.71%,#90ff6f 30.30%,#97ff68 31.90%,#9eff61 33.49%,#a6ff59 35.09%,#adff52 36.68%,#b4ff4b 38.28%,#b9ff46 39.87%,#bdff42 41.47%,#c2ff3d 43.06%,#c4ff3b 44.66%,#aeff51 46.25%,#98ff67 47.85%,#82ff7d 49.44%,#73ff8c 51.04%,#6bff94 52.63%,#62ff9d 54.23%,#59ffa6 55.82%,#50ffaf 57.42%,#52ffad 59.01%,#56ffa9 60.61%,#5affa5 62.20%,#5fffa0 63.80%,#69ff96 65.39%,#72ff8d 66.99%,#7bff84 68.58%,#84ff7b 70.18%,#8bff74 71.77%,#92ff6d 73.37%,#99ff66 74.96%,#a0ff5f 76.56%,#a7ff58 78.15%,#acff53 79.74%,#b1ff4e 81.34%,#b6ff49 82.93%,#bbff44 84.53%,#c0ff3f 86.12%,#c5ff3a 87.72%,#c9ff36 89.31%,#cdff32 90.91%,#d0ff2f 92.50%,#d4ff2b 94.10%,#d7ff28 95.69%,#d7ff28 97.29%,#d7ff28 98.88%,#d7ff28 100.00%)"></i><i style="background:linear-gradient(#a1ff5e 0.00%,#a1ff5e 1.59%,#a1ff5e 3.19%,#9eff61 4.78%,#99ff66 6.38%,#94ff6b 7.97%,#8fff70 9.57%,#8aff75 11.16%,#89ff76 12.76%,#89ff76 14.35%,#89ff76 15.95%,#8fff70 17.54%,#96ff69 19.14%,#9dff62 20.73%,#a4ff5b 22.33%,#a9ff56 23.92%,#a2ff5d 25.52%,#9bff64 27.11%,#94ff6b 28.71%,#8dff72 30.30%,#94ff6b 31.90%,#9bff64 33.49%,#a2ff5d 35.09%,#a9ff56 36.68%,#afff50 38.28%,#b4ff4b 39.87%,#b9ff46 41.47%,#beff41 43.06%,#c0ff3f 44.66%,#acff53 46.25%,#98ff67 47.85%,#85ff7a 49.44%,#78ff87 51.04%,#6fff90 52.63%,#67ff98 54.23%,#5fffa0 55.82%,#56ffa9 57.42%,#58ffa7 59.01%,#5cffa3 60.61%,#5fffa0 62.20%,#64ff9b 63.80%,#6dff92 65.39%,#76ff89 66.99%,#7fff80 68.58%,#88ff77 70.18%,#8fff70 71.77%,#96ff69 73.37%,#9dff62 74.96%,#a4ff5b 76.56%,#a9ff56 78.15%,#aeff51 79.74%,#b2ff4d 81.34%,#b7ff48 82.93%,#bbff44 84.53%,#bfff40 86.12%,#c4ff3b 87.72%,#c7ff38 89.31%,#cbff34 90.91%,#cfff30 92.50%,#d3ff2c 94.10%,#d6ff29 95.69%,#d6ff29 97.29%,#d6ff29 98.88%,#d6ff29 100.00%)"></i><i style="background:linear-gradient(#9fff60 0.00%,#9fff60 1.59%,#9fff60 3.19%,#9dff62 4.78%,#98ff67 6.38%,#94ff6b 7.97%,#8fff70 9.57%,#8bff74 11.16%,#8aff75 12.76%,#8aff75 14.35%,#8aff75 15.95%,#90ff6f 17.54%,#97ff68 19.14%,#9dff62 20.73%,#a4ff5b 22.33%,#a9ff56 23.92%,#a1ff5e 25.52%,#9aff65 27.11%,#92ff6d 28.71%,#8aff75 30.30%,#91ff6e 31.90%,#98ff67 33.49%,#9eff61 35.09%,#a5ff5a 36.68%,#abff54 38.28%,#b1ff4e 39.87%,#b6ff49 41.47%,#bbff44 43.06%,#bdff42 44.66%,#abff54 46.25%,#99ff66 47.85%,#87ff78 49.44%,#7bff84 51.04%,#73ff8c 52.63%,#6bff94 54.23%,#63ff9c 55.82%,#5bffa4 57.42%,#5dffa2 59.01%,#60ff9f 60.61%,#63ff9c 62.20%,#68ff97 63.80%,#71ff8e 65.39%,#7aff85 66.99%,#83ff7c 68.58%,#8bff74 70.18%,#92ff6d 71.77%,#99ff66 73.37%,#a0ff5f 74.96%,#a6ff59 76.56%,#acff53 78.15%,#afff50 79.74%,#b3ff4c 81.34%,#b7ff48 82.93%,#bbff44 84.53%,#bfff40 86.12%,#c2ff3d 87.72%,#c6ff39 89.31%,#caff35 90.91%,#ceff31 92.50%,#d2ff2d 94.10%,#d5ff2a 95.69%,#d5ff2a 97.29%,#d5ff2a 98.88%,#d5ff2a 100.00%)"></i><i style="background:linear-gradient(#9fff60 0.00%,#9fff60 1.59%,#9fff60 3.19%,#9dff62 4.78%,#98ff67 6.38%,#94ff6b 7.97%,#8fff70 9.57%,#8bff74 11.16%,#8aff75 12.76%,#8aff75 14.35%,#8aff75 15.95%,#90ff6f 17.54%,#97ff68 19.14%,#9dff62 20.73%,#a4ff5b 22.33%,#a9ff56 23.92%,#a1ff5e 25.52%,#9aff65 27.11%,#92ff6d 28.71%,#8aff75 30.30%,#91ff6e 31.90%,#98ff67 33.49%,#9eff61 35.09%,#a5ff5a 36.68%,#abff54 38.28%,#b1ff4e 39.87%,#b6ff49 41.47%,#bbff44 43.06%,#bdff42 44.66%,#abff54 46.25%,#99ff66 47.85%,#87ff78 49.44%,#7bff84 51.04%,#73ff8c 52.63%,#6bff94 54.23%,#63ff9c 55.82%,#5bffa4 57.42%,#5dffa2 59.01%,#60ff9f 60.61%,#63ff9c 62.20%,#68ff97 63.80%,#71ff8e 65.39%,#7aff85 66.99%,#83ff7c 68.58%,#8bff74 70.18%,#92ff6d 71.77%,#99ff66 73.37%,#a0ff5f 74.96%,#a6ff59 76.56%,#acff53 78.15%,#afff50 79.74%,#b3ff4c 81.34%,#b7ff48 82.93%,#bbff44 84.53%,#bfff40 86.12%,#c2ff3d 87.72%,#c6ff39 89.31%,#caff35 90.91%,#ceff31 92.50%,#d2ff2d 94.10%,#d5ff2a 95.69%,#d5ff2a 97.29%,#d5ff2a 98.88%,#d5ff2a 100.00%)"></i><i style="background:linear-gradient(#9fff60 0.00%,#9fff60 1.59%,#9fff60 3.19%,#9dff62 4.78%,#98ff67 6.38%,#94ff6b 7.97%,#8fff70 9.57%,#8bff74 11.16%,#8aff75 12.76%,#8aff75 14.35%,#8aff75 15.95%,#90ff6f 17.54%,#97ff68 19.14%,#9dff62 20.73%,#a4ff5b 22.33%,#a9ff56 23.92%,#a1ff5e 25.52%,#9aff65 27.11%,#92ff6d 28.71%,#8aff75 30.30%,#91ff6e 31.90%,#98ff67 33.49%,#9eff61 35.09%,#a5ff5a 36.68%,#abff54 38.28%,#b1ff4e 39.87%,#b6ff49 41.47%,#bbff44 43.06%,#bdff42 44.66%,#abff54 46.25%,#99ff66 47.85%,#87ff78 49.44%,#7bff84 51.04%,#73ff8c 52.63%,#6bff94 54.23%,#63ff9c 55.82%,#5bffa4 57.42%,#5dffa2 59.01%,#60ff9f 60.61%,#63ff9c 62.20%,#68ff97 63.80%,#71ff8e 65.39%,#7aff85 66.99%,#83ff7c 68.58%,#8bff74 70.18%,#92ff6d 71.77%,#99ff66 73.37%,#a0ff5f 74.96%,#a6ff59 76.56%,#acff53 78.15%,#afff50 79.74%,#b3ff4c 81.34%,#b7ff48 82.93%,#bbff44 84.53%,#bfff40 86.12%,#c2ff3d 87.72%,#c6ff39 89.31%,#caff35 90.91%,#ceff31 92.50%,#d2ff2d 94.10%,#d5ff2a 95.69%,#d5ff2a 97.29%,#d5ff2a 98.88%,#d5ff2a 100.00%)"></i><i style="background:linear-gradient(#9fff60 0.00%,#9fff60 1.59%,#9fff60 3.19%,#9dff62 4.78%,#98ff67 6.38%,#94ff6b 7.97%,#8fff70 9.57%,#8bff74 11.16%,#8aff75 12.76%,#8aff75 14.35%,#8aff75 15.95%,#90ff6f 17.54%,#97ff68 19.14%,#9dff62 20.73%,#a4ff5b 22.33%,#a9ff56 23.92%,#a1ff5e 25.52%,#9aff65 27.11%,#92ff6d 28.71%,#8aff75 30.30%,#91ff6e 31.90%,#98ff67 33.49%,#9eff61 35.09%,#a5ff5a 36.68%,#abff54 38.28%,#b1ff4e 39.87%,#b6ff49 41.47%,#bbff44 43.06%,#bdff42 44.66%,#abff54 46.25%,#99ff66 47.85%,#87ff78 49.44%,#7bff84 51.04%,#73ff8c 52.63%,#6bff94 54.23%,#63ff9c 55.82%,#5bffa4 57.42%,#5dffa2 59.01%,#60ff9f 60.61%,#63ff9c 62.20%,#68ff97 63.80%,#71ff8e 65.39%,#7aff85 66.99%,#83ff7c 68.58%,#8bff74 70.18%,#92ff6d 71.77%,#99ff66 73.37%,#a0ff5f 74.96%,#a6ff59 76.56%,#acff53 78.15%,#afff50 79.74%,#b3ff4c 81.34%,#b7ff48 82.93%,#bbff44 84.53%,#bfff40 86.12%,#c2ff3d 87.72%,#c6ff39 89.31%,#caff35 90.91%,#ceff31 92.50%,#d2ff2d 94.10%,#d5ff2a 95.69%,#d5ff2a 97.29%,#d5ff2a 98.88%,#d5ff2a 100.00%)"></i></div></div>
<div class="fdr" style="left:59.4px;top:720.9px;width:719.1px;height:238.8px"></div>
<div class="fdr" style="left:924.2px;top:720.9px;width:719.1px;height:238.8px"></div>
<svg width="1649" height="1015" viewBox="0 0 1649 1015">
<g fill="#850e0e"><polygon points="116.2,854.4 165.4,854.4 165.4,858.0 187.7,858.0 187.7,862.7 197.8,862.7 197.8,872.2 192.7,872.2 192.7,876.2 116.2,876.2 116.2,872.2 100.2,872.2 100.2,868.7 95.4,868.7 95.4,858.0 116.2,858.0"/><polygon points="340.3,836.2 345.7,836.2 345.7,832.6 415.5,832.6 415.5,834.8 405.8,834.8 405.8,838.7 399.5,838.7 399.5,843.0 393.7,843.0 393.7,846.9 383.5,846.9 383.5,853.7 378.2,853.7 378.2,857.1 340.3,857.1"/><polygon points="416.5,803.5 464.1,803.5 464.1,813.9 476.2,813.9 476.2,817.5 481.5,817.5 481.5,825.9 486.4,825.9 486.4,831.7 481.5,831.7 481.5,835.0 438.8,835.0 438.8,831.7 416.0,831.7 416.0,829.0 428.1,829.0 428.1,824.6 432.0,824.6 432.0,821.2 422.8,821.2 422.8,816.5 416.5,816.5 416.5,813.2 410.7,813.2 410.7,806.8 416.5,806.8"/><polygon points="477.4,769.8 492.5,769.8 492.5,773.5 497.9,773.5 497.9,776.3 492.5,776.3 492.5,781.1 470.9,781.1 470.9,773.5 477.4,773.5"/><polygon points="585.8,832.3 613.1,832.3 613.1,835.9 617.3,835.9 617.3,843.2 613.1,843.2 613.1,846.8 600.6,846.8 600.6,850.5 591.8,850.5 591.8,846.8 569.4,846.8 569.4,843.2 564.0,843.2 564.0,839.6 569.4,839.6 569.4,835.9 585.8,835.9"/></g>
<path d="M76.9 54.9V293.7M168.0 54.9V293.7M259.1 54.9V293.7M350.3 54.9V293.7M441.4 54.9V293.7M532.5 54.9V293.7M623.6 54.9V293.7M714.7 54.9V293.7M59.4 251.5H778.5M59.4 223.7H778.5M59.4 202.9H778.5M59.4 172.5H778.5M59.4 132.9H778.5M59.4 103.4H778.5M59.4 58.0H778.5" stroke="#262626" stroke-opacity="0.2" stroke-width="1.2" fill="none"/>
<path d="M76.9 293.7v-7M76.9 54.9v7M168.0 293.7v-7M168.0 54.9v7M259.1 293.7v-7M259.1 54.9v7M350.3 293.7v-7M350.3 54.9v7M441.4 293.7v-7M441.4 54.9v7M532.5 293.7v-7M532.5 54.9v7M623.6 293.7v-7M623.6 54.9v7M714.7 293.7v-7M714.7 54.9v7M59.4 293.7h7M778.5 293.7h-7M59.4 251.5h7M778.5 251.5h-7M59.4 223.7h7M778.5 223.7h-7M59.4 202.9h7M778.5 202.9h-7M59.4 172.5h7M778.5 172.5h-7M59.4 132.9h7M778.5 132.9h-7M59.4 103.4h7M778.5 103.4h-7M59.4 58.0h7M778.5 58.0h-7" stroke="#262626" stroke-width="1.6" fill="none"/>
<path d="M59.4 54.9H778.5V293.7H59.4" fill="none" stroke="#262626" stroke-opacity="0.7" stroke-width="1.5"/>
<path d="M58.8 54.9V293.7" fill="none" stroke="#3a3030" stroke-width="1.6" stroke-dasharray="2.4 2.3"/>
<text x="76.9" y="317.6" text-anchor="middle" font-size="18">400</text>
<text x="168.0" y="317.6" text-anchor="middle" font-size="18">600</text>
<text x="259.1" y="317.6" text-anchor="middle" font-size="18">800</text>
<text x="350.3" y="317.6" text-anchor="middle" font-size="18">1000</text>
<text x="441.4" y="317.6" text-anchor="middle" font-size="18">1200</text>
<text x="532.5" y="317.6" text-anchor="middle" font-size="18">1400</text>
<text x="623.6" y="317.6" text-anchor="middle" font-size="18">1600</text>
<text x="714.7" y="317.6" text-anchor="middle" font-size="18">1800</text>
<text x="51.6" y="300.2" text-anchor="end" font-size="18">3</text>
<text x="51.6" y="258.0" text-anchor="end" font-size="18">5</text>
<text x="51.6" y="230.2" text-anchor="end" font-size="18">7</text>
<text x="51.6" y="209.4" text-anchor="end" font-size="18">9</text>
<text x="51.6" y="179.0" text-anchor="end" font-size="18">13</text>
<text x="51.6" y="139.4" text-anchor="end" font-size="18">21</text>
<text x="51.6" y="109.9" text-anchor="end" font-size="18">30</text>
<text x="51.6" y="64.5" text-anchor="end" font-size="18">52</text>
<text transform="translate(19.4,174.3) rotate(-90)" x="0" y="0" text-anchor="middle" font-size="22.3">Frequency (Hz)</text>
<path d="M76.9 387.9V626.7M168.0 387.9V626.7M259.1 387.9V626.7M350.3 387.9V626.7M441.4 387.9V626.7M532.5 387.9V626.7M623.6 387.9V626.7M714.7 387.9V626.7M59.4 584.5H778.5M59.4 556.7H778.5M59.4 535.9H778.5M59.4 505.5H778.5M59.4 465.9H778.5M59.4 436.4H778.5M59.4 391.0H778.5" stroke="#262626" stroke-opacity="0.2" stroke-width="1.2" fill="none"/>
<path d="M76.9 626.7v-7M76.9 387.9v7M168.0 626.7v-7M168.0 387.9v7M259.1 626.7v-7M259.1 387.9v7M350.3 626.7v-7M350.3 387.9v7M441.4 626.7v-7M441.4 387.9v7M532.5 626.7v-7M532.5 387.9v7M623.6 626.7v-7M623.6 387.9v7M714.7 626.7v-7M714.7 387.9v7M59.4 626.7h7M778.5 626.7h-7M59.4 584.5h7M778.5 584.5h-7M59.4 556.7h7M778.5 556.7h-7M59.4 535.9h7M778.5 535.9h-7M59.4 505.5h7M778.5 505.5h-7M59.4 465.9h7M778.5 465.9h-7M59.4 436.4h7M778.5 436.4h-7M59.4 391.0h7M778.5 391.0h-7" stroke="#262626" stroke-width="1.6" fill="none"/>
<path d="M59.4 387.9H778.5V626.7H59.4" fill="none" stroke="#262626" stroke-opacity="0.7" stroke-width="1.5"/>
<path d="M58.8 387.9V626.7" fill="none" stroke="#3a3030" stroke-width="1.6" stroke-dasharray="2.4 2.3"/>
<text x="76.9" y="650.6" text-anchor="middle" font-size="18">400</text>
<text x="168.0" y="650.6" text-anchor="middle" font-size="18">600</text>
<text x="259.1" y="650.6" text-anchor="middle" font-size="18">800</text>
<text x="350.3" y="650.6" text-anchor="middle" font-size="18">1000</text>
<text x="441.4" y="650.6" text-anchor="middle" font-size="18">1200</text>
<text x="532.5" y="650.6" text-anchor="middle" font-size="18">1400</text>
<text x="623.6" y="650.6" text-anchor="middle" font-size="18">1600</text>
<text x="714.7" y="650.6" text-anchor="middle" font-size="18">1800</text>
<text x="51.6" y="633.2" text-anchor="end" font-size="18">3</text>
<text x="51.6" y="591.0" text-anchor="end" font-size="18">5</text>
<text x="51.6" y="563.2" text-anchor="end" font-size="18">7</text>
<text x="51.6" y="542.4" text-anchor="end" font-size="18">9</text>
<text x="51.6" y="512.0" text-anchor="end" font-size="18">13</text>
<text x="51.6" y="472.4" text-anchor="end" font-size="18">21</text>
<text x="51.6" y="442.9" text-anchor="end" font-size="18">30</text>
<text x="51.6" y="397.5" text-anchor="end" font-size="18">52</text>
<text transform="translate(19.4,507.3) rotate(-90)" x="0" y="0" text-anchor="middle" font-size="22.3">Frequency (Hz)</text>
<path d="M76.9 720.9V959.7M168.0 720.9V959.7M259.1 720.9V959.7M350.3 720.9V959.7M441.4 720.9V959.7M532.5 720.9V959.7M623.6 720.9V959.7M714.7 720.9V959.7M59.4 917.5H778.5M59.4 889.7H778.5M59.4 868.9H778.5M59.4 838.5H778.5M59.4 798.9H778.5M59.4 769.4H778.5M59.4 724.0H778.5" stroke="#262626" stroke-opacity="0.2" stroke-width="1.2" fill="none"/>
<path d="M76.9 959.7v-7M76.9 720.9v7M168.0 959.7v-7M168.0 720.9v7M259.1 959.7v-7M259.1 720.9v7M350.3 959.7v-7M350.3 720.9v7M441.4 959.7v-7M441.4 720.9v7M532.5 959.7v-7M532.5 720.9v7M623.6 959.7v-7M623.6 720.9v7M714.7 959.7v-7M714.7 720.9v7M59.4 959.7h7M778.5 959.7h-7M59.4 917.5h7M778.5 917.5h-7M59.4 889.7h7M778.5 889.7h-7M59.4 868.9h7M778.5 868.9h-7M59.4 838.5h7M778.5 838.5h-7M59.4 798.9h7M778.5 798.9h-7M59.4 769.4h7M778.5 769.4h-7M59.4 724.0h7M778.5 724.0h-7" stroke="#262626" stroke-width="1.6" fill="none"/>
<path d="M59.4 720.9H778.5V959.7H59.4" fill="none" stroke="#262626" stroke-opacity="0.7" stroke-width="1.5"/>
<path d="M58.8 720.9V959.7" fill="none" stroke="#3a3030" stroke-width="1.6" stroke-dasharray="2.4 2.3"/>
<text x="76.9" y="983.6" text-anchor="middle" font-size="18">400</text>
<text x="168.0" y="983.6" text-anchor="middle" font-size="18">600</text>
<text x="259.1" y="983.6" text-anchor="middle" font-size="18">800</text>
<text x="350.3" y="983.6" text-anchor="middle" font-size="18">1000</text>
<text x="441.4" y="983.6" text-anchor="middle" font-size="18">1200</text>
<text x="532.5" y="983.6" text-anchor="middle" font-size="18">1400</text>
<text x="623.6" y="983.6" text-anchor="middle" font-size="18">1600</text>
<text x="714.7" y="983.6" text-anchor="middle" font-size="18">1800</text>
<text x="51.6" y="966.2" text-anchor="end" font-size="18">3</text>
<text x="51.6" y="924.0" text-anchor="end" font-size="18">5</text>
<text x="51.6" y="896.2" text-anchor="end" font-size="18">7</text>
<text x="51.6" y="875.4" text-anchor="end" font-size="18">9</text>
<text x="51.6" y="845.0" text-anchor="end" font-size="18">13</text>
<text x="51.6" y="805.4" text-anchor="end" font-size="18">21</text>
<text x="51.6" y="775.9" text-anchor="end" font-size="18">30</text>
<text x="51.6" y="730.5" text-anchor="end" font-size="18">52</text>
<text transform="translate(19.4,840.3) rotate(-90)" x="0" y="0" text-anchor="middle" font-size="22.3">Frequency (Hz)</text>
<path d="M941.7 54.9V293.7M1032.8 54.9V293.7M1123.9 54.9V293.7M1215.1 54.9V293.7M1306.2 54.9V293.7M1397.3 54.9V293.7M1488.4 54.9V293.7M1579.5 54.9V293.7M924.2 251.5H1643.3M924.2 223.7H1643.3M924.2 202.9H1643.3M924.2 172.5H1643.3M924.2 132.9H1643.3M924.2 103.4H1643.3M924.2 58.0H1643.3" stroke="#262626" stroke-opacity="0.2" stroke-width="1.2" fill="none"/>
<path d="M941.7 293.7v-7M941.7 54.9v7M1032.8 293.7v-7M1032.8 54.9v7M1123.9 293.7v-7M1123.9 54.9v7M1215.1 293.7v-7M1215.1 54.9v7M1306.2 293.7v-7M1306.2 54.9v7M1397.3 293.7v-7M1397.3 54.9v7M1488.4 293.7v-7M1488.4 54.9v7M1579.5 293.7v-7M1579.5 54.9v7M924.2 293.7h7M1643.3 293.7h-7M924.2 251.5h7M1643.3 251.5h-7M924.2 223.7h7M1643.3 223.7h-7M924.2 202.9h7M1643.3 202.9h-7M924.2 172.5h7M1643.3 172.5h-7M924.2 132.9h7M1643.3 132.9h-7M924.2 103.4h7M1643.3 103.4h-7M924.2 58.0h7M1643.3 58.0h-7" stroke="#262626" stroke-width="1.6" fill="none"/>
<path d="M924.2 54.9H1643.3V293.7H924.2" fill="none" stroke="#262626" stroke-opacity="0.7" stroke-width="1.5"/>
<path d="M923.6 54.9V293.7" fill="none" stroke="#3a3030" stroke-width="1.6" stroke-dasharray="2.4 2.3"/>
<text x="941.7" y="317.6" text-anchor="middle" font-size="18">400</text>
<text x="1032.8" y="317.6" text-anchor="middle" font-size="18">600</text>
<text x="1123.9" y="317.6" text-anchor="middle" font-size="18">800</text>
<text x="1215.1" y="317.6" text-anchor="middle" font-size="18">1000</text>
<text x="1306.2" y="317.6" text-anchor="middle" font-size="18">1200</text>
<text x="1397.3" y="317.6" text-anchor="middle" font-size="18">1400</text>
<text x="1488.4" y="317.6" text-anchor="middle" font-size="18">1600</text>
<text x="1579.5" y="317.6" text-anchor="middle" font-size="18">1800</text>
<text x="916.4" y="300.2" text-anchor="end" font-size="18">3</text>
<text x="916.4" y="258.0" text-anchor="end" font-size="18">5</text>
<text x="916.4" y="230.2" text-anchor="end" font-size="18">7</text>
<text x="916.4" y="209.4" text-anchor="end" font-size="18">9</text>
<text x="916.4" y="179.0" text-anchor="end" font-size="18">13</text>
<text x="916.4" y="139.4" text-anchor="end" font-size="18">21</text>
<text x="916.4" y="109.9" text-anchor="end" font-size="18">30</text>
<text x="916.4" y="64.5" text-anchor="end" font-size="18">52</text>
<text transform="translate(884.2,174.3) rotate(-90)" x="0" y="0" text-anchor="middle" font-size="22.3">Frequency (Hz)</text>
<path d="M941.7 387.9V626.7M1032.8 387.9V626.7M1123.9 387.9V626.7M1215.1 387.9V626.7M1306.2 387.9V626.7M1397.3 387.9V626.7M1488.4 387.9V626.7M1579.5 387.9V626.7M924.2 584.5H1643.3M924.2 556.7H1643.3M924.2 535.9H1643.3M924.2 505.5H1643.3M924.2 465.9H1643.3M924.2 436.4H1643.3M924.2 391.0H1643.3" stroke="#262626" stroke-opacity="0.2" stroke-width="1.2" fill="none"/>
<path d="M941.7 626.7v-7M941.7 387.9v7M1032.8 626.7v-7M1032.8 387.9v7M1123.9 626.7v-7M1123.9 387.9v7M1215.1 626.7v-7M1215.1 387.9v7M1306.2 626.7v-7M1306.2 387.9v7M1397.3 626.7v-7M1397.3 387.9v7M1488.4 626.7v-7M1488.4 387.9v7M1579.5 626.7v-7M1579.5 387.9v7M924.2 626.7h7M1643.3 626.7h-7M924.2 584.5h7M1643.3 584.5h-7M924.2 556.7h7M1643.3 556.7h-7M924.2 535.9h7M1643.3 535.9h-7M924.2 505.5h7M1643.3 505.5h-7M924.2 465.9h7M1643.3 465.9h-7M924.2 436.4h7M1643.3 436.4h-7M924.2 391.0h7M1643.3 391.0h-7" stroke="#262626" stroke-width="1.6" fill="none"/>
<path d="M924.2 387.9H1643.3V626.7H924.2" fill="none" stroke="#262626" stroke-opacity="0.7" stroke-width="1.5"/>
<path d="M923.6 387.9V626.7" fill="none" stroke="#3a3030" stroke-width="1.6" stroke-dasharray="2.4 2.3"/>
<text x="941.7" y="650.6" text-anchor="middle" font-size="18">400</text>
<text x="1032.8" y="650.6" text-anchor="middle" font-size="18">600</text>
<text x="1123.9" y="650.6" text-anchor="middle" font-size="18">800</text>
<text x="1215.1" y="650.6" text-anchor="middle" font-size="18">1000</text>
<text x="1306.2" y="650.6" text-anchor="middle" font-size="18">1200</text>
<text x="1397.3" y="650.6" text-anchor="middle" font-size="18">1400</text>
<text x="1488.4" y="650.6" text-anchor="middle" font-size="18">1600</text>
<text x="1579.5" y="650.6" text-anchor="middle" font-size="18">1800</text>
<text x="916.4" y="633.2" text-anchor="end" font-size="18">3</text>
<text x="916.4" y="591.0" text-anchor="end" font-size="18">5</text>
<text x="916.4" y="563.2" text-anchor="end" font-size="18">7</text>
<text x="916.4" y="542.4" text-anchor="end" font-size="18">9</text>
<text x="916.4" y="512.0" text-anchor="end" font-size="18">13</text>
<text x="916.4" y="472.4" text-anchor="end" font-size="18">21</text>
<text x="916.4" y="442.9" text-anchor="end" font-size="18">30</text>
<text x="916.4" y="397.5" text-anchor="end" font-size="18">52</text>
<text transform="translate(884.2,507.3) rotate(-90)" x="0" y="0" text-anchor="middle" font-size="22.3">Frequency (Hz)</text>
<path d="M941.7 720.9V959.7M1032.8 720.9V959.7M1123.9 720.9V959.7M1215.1 720.9V959.7M1306.2 720.9V959.7M1397.3 720.9V959.7M1488.4 720.9V959.7M1579.5 720.9V959.7M924.2 917.5H1643.3M924.2 889.7H1643.3M924.2 868.9H1643.3M924.2 838.5H1643.3M924.2 798.9H1643.3M924.2 769.4H1643.3M924.2 724.0H1643.3" stroke="#262626" stroke-opacity="0.2" stroke-width="1.2" fill="none"/>
<path d="M941.7 959.7v-7M941.7 720.9v7M1032.8 959.7v-7M1032.8 720.9v7M1123.9 959.7v-7M1123.9 720.9v7M1215.1 959.7v-7M1215.1 720.9v7M1306.2 959.7v-7M1306.2 720.9v7M1397.3 959.7v-7M1397.3 720.9v7M1488.4 959.7v-7M1488.4 720.9v7M1579.5 959.7v-7M1579.5 720.9v7M924.2 959.7h7M1643.3 959.7h-7M924.2 917.5h7M1643.3 917.5h-7M924.2 889.7h7M1643.3 889.7h-7M924.2 868.9h7M1643.3 868.9h-7M924.2 838.5h7M1643.3 838.5h-7M924.2 798.9h7M1643.3 798.9h-7M924.2 769.4h7M1643.3 769.4h-7M924.2 724.0h7M1643.3 724.0h-7" stroke="#262626" stroke-width="1.6" fill="none"/>
<path d="M924.2 720.9H1643.3V959.7H924.2" fill="none" stroke="#262626" stroke-opacity="0.7" stroke-width="1.5"/>
<path d="M923.6 720.9V959.7" fill="none" stroke="#3a3030" stroke-width="1.6" stroke-dasharray="2.4 2.3"/>
<text x="941.7" y="983.6" text-anchor="middle" font-size="18">400</text>
<text x="1032.8" y="983.6" text-anchor="middle" font-size="18">600</text>
<text x="1123.9" y="983.6" text-anchor="middle" font-size="18">800</text>
<text x="1215.1" y="983.6" text-anchor="middle" font-size="18">1000</text>
<text x="1306.2" y="983.6" text-anchor="middle" font-size="18">1200</text>
<text x="1397.3" y="983.6" text-anchor="middle" font-size="18">1400</text>
<text x="1488.4" y="983.6" text-anchor="middle" font-size="18">1600</text>
<text x="1579.5" y="983.6" text-anchor="middle" font-size="18">1800</text>
<text x="916.4" y="966.2" text-anchor="end" font-size="18">3</text>
<text x="916.4" y="924.0" text-anchor="end" font-size="18">5</text>
<text x="916.4" y="896.2" text-anchor="end" font-size="18">7</text>
<text x="916.4" y="875.4" text-anchor="end" font-size="18">9</text>
<text x="916.4" y="845.0" text-anchor="end" font-size="18">13</text>
<text x="916.4" y="805.4" text-anchor="end" font-size="18">21</text>
<text x="916.4" y="775.9" text-anchor="end" font-size="18">30</text>
<text x="916.4" y="730.5" text-anchor="end" font-size="18">52</text>
<text transform="translate(884.2,840.3) rotate(-90)" x="0" y="0" text-anchor="middle" font-size="22.3">Frequency (Hz)</text>
<text x="418.9" y="18.2" text-anchor="middle" font-size="22" font-weight="bold" style="fill:#000">MORAL</text>
<text x="418.9" y="43.7" text-anchor="middle" font-size="22" font-weight="bold" style="fill:#000">Near Threshold</text>
<text x="418.9" y="377.2" text-anchor="middle" font-size="22" font-weight="bold" style="fill:#000">Far from Threshold</text>
<text x="418.9" y="710.2" text-anchor="middle" font-size="22" font-weight="bold" style="fill:#000">(p&lt;0.05), False Discovery Rate</text>
<text x="418.9" y="1010" text-anchor="middle" font-size="22.3">Time (ms)</text>
<text x="1283.8" y="18.2" text-anchor="middle" font-size="22" font-weight="bold" style="fill:#000">CONTROL</text>
<text x="1283.8" y="43.7" text-anchor="middle" font-size="22" font-weight="bold" style="fill:#000">Near Threshold</text>
<text x="1283.8" y="377.2" text-anchor="middle" font-size="22" font-weight="bold" style="fill:#000">Far from Threshold</text>
<text x="1283.8" y="710.2" text-anchor="middle" font-size="22" font-weight="bold" style="fill:#000">(p&lt;0.05), False Discovery Rate</text>
<text x="1283.8" y="1010" text-anchor="middle" font-size="22.3">Time (ms)</text>
<defs><linearGradient id="jet" x1="0" y1="1" x2="0" y2="0"><stop offset="0" stop-color="#000080"/><stop offset="0.125" stop-color="#0000ff"/><stop offset="0.375" stop-color="#00ffff"/><stop offset="0.625" stop-color="#ffff00"/><stop offset="0.875" stop-color="#ff0000"/><stop offset="1" stop-color="#800000"/></linearGradient></defs><rect x="784.9" y="395" width="34.60000000000002" height="239" fill="url(#jet)" stroke="#262626" stroke-width="1.4"/><text x="828" y="401.5" font-size="18">4.8</text><text x="828" y="461.2" font-size="18">2.4</text><text x="828" y="521.0" font-size="18">0</text><text x="828" y="580.8" font-size="18">-2.4</text><text x="828" y="640.5" font-size="18">-4.8</text><path d="M784.9 395.0h3M819.5 395.0h-3M784.9 454.8h3M819.5 454.8h-3M784.9 514.5h3M819.5 514.5h-3M784.9 574.2h3M819.5 574.2h-3M784.9 634.0h3M819.5 634.0h-3" stroke="#262626" stroke-width="1.4"/><text x="802.2" y="385.1" text-anchor="middle" font-size="20" font-weight="bold" style="fill:#000">dB</text>
</svg>
</body></html>
